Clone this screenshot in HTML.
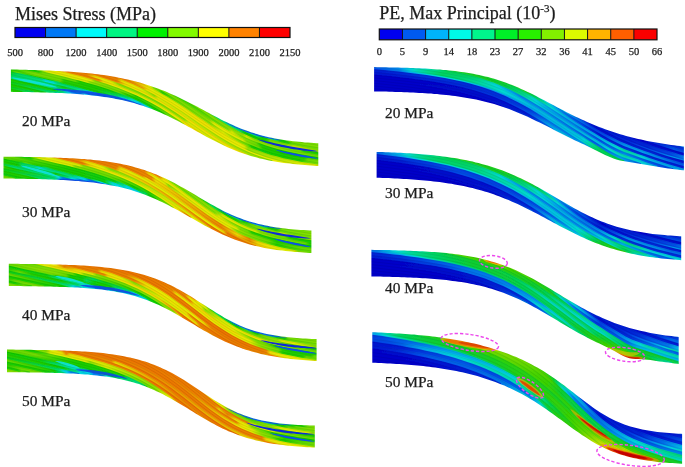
<!DOCTYPE html>
<html><head><meta charset="utf-8"><style>html,body{margin:0;padding:0;background:#fff;overflow:hidden}svg{display:block}</style></head>
<body><svg width="685" height="467" viewBox="0 0 685 467">
<defs><filter id="blur" x="-5%" y="-20%" width="110%" height="140%"><feGaussianBlur stdDeviation="0.6"/></filter>
<filter id="tblur" x="-5%" y="-20%" width="110%" height="140%"><feGaussianBlur stdDeviation="0.35"/></filter>
<clipPath id="l1_c"><path d="M10.9,69.5 L13.9,69.6 L16.9,69.6 L19.9,69.7 L22.9,69.8 L25.9,69.8 L28.9,69.9 L31.9,70.0 L34.9,70.1 L37.9,70.2 L40.9,70.3 L43.9,70.4 L46.9,70.5 L49.9,70.6 L52.9,70.7 L55.9,70.9 L58.9,71.0 L61.9,71.2 L64.9,71.4 L67.9,71.6 L70.9,71.8 L73.9,72.0 L76.9,72.2 L79.9,72.5 L82.9,72.7 L85.9,73.0 L88.9,73.3 L91.9,73.6 L94.9,74.0 L97.9,74.3 L100.9,74.7 L103.9,75.1 L106.9,75.6 L109.9,76.1 L112.9,76.6 L115.9,77.1 L118.9,77.7 L121.9,78.3 L124.9,78.9 L127.9,79.6 L130.9,80.3 L133.9,81.0 L136.9,81.8 L139.9,82.6 L142.9,83.5 L145.9,84.4 L148.9,85.4 L151.9,86.4 L154.9,87.4 L157.9,88.5 L160.9,89.7 L163.9,90.8 L166.9,92.1 L169.9,93.4 L172.9,94.7 L175.9,96.1 L178.9,97.5 L181.9,98.9 L184.9,100.4 L187.9,101.9 L190.9,103.5 L193.9,105.0 L196.9,106.6 L199.9,108.2 L202.9,109.8 L205.9,111.5 L208.9,113.1 L211.9,114.7 L214.9,116.3 L217.9,117.8 L220.9,119.4 L223.9,120.9 L226.9,122.3 L229.9,123.7 L232.9,125.1 L235.9,126.4 L238.9,127.7 L241.9,128.9 L244.9,130.0 L247.9,131.1 L250.9,132.2 L253.9,133.1 L256.9,134.1 L259.9,134.9 L262.9,135.7 L265.9,136.5 L268.9,137.2 L271.9,137.8 L274.9,138.4 L277.9,139.0 L280.9,139.5 L283.9,139.9 L286.9,140.4 L289.9,140.8 L292.9,141.2 L295.9,141.5 L298.9,141.8 L301.9,142.1 L304.9,142.4 L307.9,142.6 L310.9,142.8 L313.9,143.0 L316.9,143.2 L318.3,143.3 L318.3,165.9 L316.9,165.9 L313.9,165.7 L310.9,165.5 L307.9,165.3 L304.9,165.1 L301.9,164.8 L298.9,164.6 L295.9,164.3 L292.9,164.0 L289.9,163.6 L286.9,163.3 L283.9,162.9 L280.9,162.4 L277.9,162.0 L274.9,161.5 L271.9,160.9 L268.9,160.4 L265.9,159.7 L262.9,159.1 L259.9,158.4 L256.9,157.6 L253.9,156.8 L250.9,155.9 L247.9,155.0 L244.9,154.0 L241.9,153.0 L238.9,151.9 L235.9,150.7 L232.9,149.5 L229.9,148.2 L226.9,146.9 L223.9,145.5 L220.9,144.1 L217.9,142.6 L214.9,141.1 L211.9,139.6 L208.9,138.0 L205.9,136.4 L202.9,134.7 L199.9,133.1 L196.9,131.4 L193.9,129.8 L190.9,128.1 L187.9,126.4 L184.9,124.8 L181.9,123.2 L178.9,121.6 L175.9,120.0 L172.9,118.5 L169.9,117.0 L166.9,115.5 L163.9,114.2 L160.9,112.8 L157.9,111.5 L154.9,110.3 L151.9,109.1 L148.9,107.9 L145.9,106.9 L142.9,105.8 L139.9,104.9 L136.9,103.9 L133.9,103.1 L130.9,102.3 L127.9,101.5 L124.9,100.8 L121.9,100.1 L118.9,99.5 L115.9,98.9 L112.9,98.3 L109.9,97.8 L106.9,97.3 L103.9,96.9 L100.9,96.4 L97.9,96.1 L94.9,95.7 L91.9,95.4 L88.9,95.1 L85.9,94.8 L82.9,94.5 L79.9,94.3 L76.9,94.0 L73.9,93.8 L70.9,93.6 L67.9,93.5 L64.9,93.3 L61.9,93.1 L58.9,93.0 L55.9,92.9 L52.9,92.8 L49.9,92.7 L46.9,92.6 L43.9,92.5 L40.9,92.4 L37.9,92.3 L34.9,92.2 L31.9,92.2 L28.9,92.1 L25.9,92.0 L22.9,92.0 L19.9,91.9 L16.9,91.9 L13.9,91.9 L10.9,91.8Z"/></clipPath>
<linearGradient id="l10" gradientUnits="userSpaceOnUse" x1="8.9" x2="124.0" y1="0" y2="0"><stop offset="0.000" stop-color="#20cf00"/><stop offset="0.071" stop-color="#64da00"/><stop offset="0.179" stop-color="#23cf00"/><stop offset="0.357" stop-color="#12ce07"/><stop offset="0.429" stop-color="#03d95a"/><stop offset="0.464" stop-color="#11cf0f"/><stop offset="0.643" stop-color="#13cd04"/><stop offset="0.786" stop-color="#10cf15"/><stop offset="0.821" stop-color="#00dc70"/><stop offset="0.857" stop-color="#00dcd4"/><stop offset="0.893" stop-color="#00d2e6"/><stop offset="1.000" stop-color="#00d0e7"/></linearGradient>
<linearGradient id="l11" gradientUnits="userSpaceOnUse" x1="110.3" x2="297.8" y1="0" y2="0"><stop offset="0.000" stop-color="#eb7300"/><stop offset="0.174" stop-color="#eb8a00"/><stop offset="0.196" stop-color="#ebde00"/><stop offset="0.739" stop-color="#ebe900"/><stop offset="1.000" stop-color="#e1e900"/></linearGradient>
<linearGradient id="l12" gradientUnits="userSpaceOnUse" x1="272.4" x2="320.3" y1="0" y2="0"><stop offset="0.000" stop-color="#02da5f"/><stop offset="0.091" stop-color="#11ce0d"/><stop offset="0.182" stop-color="#16cd00"/><stop offset="0.273" stop-color="#24cf00"/><stop offset="0.364" stop-color="#6fdc00"/><stop offset="0.636" stop-color="#7ade00"/><stop offset="1.000" stop-color="#84df00"/></linearGradient>
<linearGradient id="l13" gradientUnits="userSpaceOnUse" x1="8.9" x2="110.3" y1="0" y2="0"><stop offset="0.000" stop-color="#12ce0a"/><stop offset="0.080" stop-color="#03d95a"/><stop offset="0.160" stop-color="#00db69"/><stop offset="0.280" stop-color="#00dc77"/><stop offset="0.320" stop-color="#00dc83"/><stop offset="0.360" stop-color="#00dcdd"/><stop offset="0.440" stop-color="#00dcd0"/><stop offset="0.480" stop-color="#00dc7f"/><stop offset="0.640" stop-color="#00dc70"/><stop offset="0.800" stop-color="#00dcdd"/><stop offset="0.840" stop-color="#00cce7"/><stop offset="0.880" stop-color="#007aef"/><stop offset="1.000" stop-color="#0071ef"/></linearGradient>
<linearGradient id="l14" gradientUnits="userSpaceOnUse" x1="96.9" x2="272.4" y1="0" y2="0"><stop offset="0.000" stop-color="#eb7300"/><stop offset="0.116" stop-color="#eb8200"/><stop offset="0.140" stop-color="#ebd400"/><stop offset="0.163" stop-color="#ebdf00"/><stop offset="0.209" stop-color="#e7ea00"/><stop offset="0.256" stop-color="#dae900"/><stop offset="0.326" stop-color="#8ee000"/><stop offset="0.349" stop-color="#d4e800"/><stop offset="0.977" stop-color="#8de000"/><stop offset="1.000" stop-color="#8ae000"/></linearGradient>
<linearGradient id="l15" gradientUnits="userSpaceOnUse" x1="247.6" x2="320.3" y1="0" y2="0"><stop offset="0.000" stop-color="#00cce7"/><stop offset="0.222" stop-color="#00d8e6"/><stop offset="0.278" stop-color="#00dcd6"/><stop offset="0.333" stop-color="#00dc74"/><stop offset="0.389" stop-color="#02d95e"/><stop offset="0.444" stop-color="#12ce0a"/><stop offset="0.500" stop-color="#17cd00"/><stop offset="0.556" stop-color="#22cf00"/><stop offset="0.611" stop-color="#64da00"/><stop offset="0.889" stop-color="#6fdc00"/><stop offset="1.000" stop-color="#73dd00"/></linearGradient>
<linearGradient id="l16" gradientUnits="userSpaceOnUse" x1="8.9" x2="96.9" y1="0" y2="0"><stop offset="0.000" stop-color="#11cf10"/><stop offset="0.048" stop-color="#02d95f"/><stop offset="0.238" stop-color="#00dc70"/><stop offset="0.286" stop-color="#00dc7c"/><stop offset="0.333" stop-color="#00dc70"/><stop offset="0.524" stop-color="#02da60"/><stop offset="0.619" stop-color="#10cf13"/><stop offset="0.762" stop-color="#00dc6e"/><stop offset="0.810" stop-color="#00dcd1"/><stop offset="0.857" stop-color="#00d4e6"/><stop offset="0.905" stop-color="#0088ee"/><stop offset="1.000" stop-color="#0088ee"/></linearGradient>
<linearGradient id="l17" gradientUnits="userSpaceOnUse" x1="83.8" x2="247.6" y1="0" y2="0"><stop offset="0.000" stop-color="#eb7300"/><stop offset="0.200" stop-color="#eb7f00"/><stop offset="0.250" stop-color="#ebd700"/><stop offset="0.300" stop-color="#ebe200"/><stop offset="1.000" stop-color="#ebe100"/></linearGradient>
<linearGradient id="l18" gradientUnits="userSpaceOnUse" x1="224.6" x2="320.3" y1="0" y2="0"><stop offset="0.000" stop-color="#01da63"/><stop offset="0.043" stop-color="#00dc76"/><stop offset="0.087" stop-color="#00dcd2"/><stop offset="0.261" stop-color="#00dc76"/><stop offset="0.304" stop-color="#01db67"/><stop offset="0.348" stop-color="#03d958"/><stop offset="0.391" stop-color="#13cd04"/><stop offset="0.435" stop-color="#21cf00"/><stop offset="0.478" stop-color="#6cdc00"/><stop offset="0.565" stop-color="#7cde00"/><stop offset="0.652" stop-color="#87df00"/><stop offset="0.739" stop-color="#d4e800"/><stop offset="1.000" stop-color="#8ce000"/></linearGradient>
<linearGradient id="l19" gradientUnits="userSpaceOnUse" x1="8.9" x2="83.8" y1="0" y2="0"><stop offset="0.000" stop-color="#00dc82"/><stop offset="0.056" stop-color="#00dc76"/><stop offset="0.222" stop-color="#00dc83"/><stop offset="0.333" stop-color="#00dc75"/><stop offset="0.611" stop-color="#00db69"/><stop offset="0.722" stop-color="#00dc7e"/><stop offset="0.778" stop-color="#00dce4"/><stop offset="0.833" stop-color="#0084ee"/><stop offset="0.889" stop-color="#0075ef"/><stop offset="1.000" stop-color="#0071ef"/></linearGradient>
<linearGradient id="l110" gradientUnits="userSpaceOnUse" x1="70.9" x2="224.6" y1="0" y2="0"><stop offset="0.000" stop-color="#eb7300"/><stop offset="0.105" stop-color="#eb8000"/><stop offset="0.158" stop-color="#ebd800"/><stop offset="0.211" stop-color="#ebe800"/><stop offset="0.263" stop-color="#dde900"/><stop offset="0.316" stop-color="#8ce000"/><stop offset="0.474" stop-color="#7fde00"/><stop offset="0.737" stop-color="#8de000"/><stop offset="0.763" stop-color="#d4e800"/><stop offset="1.000" stop-color="#d4e800"/></linearGradient>
<linearGradient id="l111" gradientUnits="userSpaceOnUse" x1="203.8" x2="320.3" y1="0" y2="0"><stop offset="0.000" stop-color="#14cd00"/><stop offset="0.103" stop-color="#03d95b"/><stop offset="0.138" stop-color="#00db6c"/><stop offset="0.207" stop-color="#00dc7a"/><stop offset="0.310" stop-color="#02da60"/><stop offset="0.345" stop-color="#11cf10"/><stop offset="0.379" stop-color="#13cd01"/><stop offset="0.517" stop-color="#1fce00"/><stop offset="0.586" stop-color="#65da00"/><stop offset="0.690" stop-color="#74dd00"/><stop offset="0.828" stop-color="#67db00"/><stop offset="0.862" stop-color="#27d000"/><stop offset="0.966" stop-color="#1bce00"/><stop offset="1.000" stop-color="#17cd00"/></linearGradient>
<linearGradient id="l112" gradientUnits="userSpaceOnUse" x1="8.9" x2="70.9" y1="0" y2="0"><stop offset="0.000" stop-color="#1cce00"/><stop offset="0.733" stop-color="#11ce0c"/><stop offset="0.800" stop-color="#01da66"/><stop offset="0.867" stop-color="#00dc82"/><stop offset="0.933" stop-color="#00dcdd"/><stop offset="1.000" stop-color="#00d5e6"/></linearGradient>
<linearGradient id="l113" gradientUnits="userSpaceOnUse" x1="58.4" x2="203.8" y1="0" y2="0"><stop offset="0.000" stop-color="#eb7900"/><stop offset="0.278" stop-color="#eb8900"/><stop offset="0.306" stop-color="#ebd900"/><stop offset="0.361" stop-color="#ebe400"/><stop offset="0.500" stop-color="#dfe900"/><stop offset="0.833" stop-color="#ebea00"/><stop offset="0.861" stop-color="#ebdf00"/><stop offset="1.000" stop-color="#ebda00"/></linearGradient>
<linearGradient id="l114" gradientUnits="userSpaceOnUse" x1="184.9" x2="320.3" y1="0" y2="0"><stop offset="0.000" stop-color="#72dc00"/><stop offset="0.364" stop-color="#83df00"/><stop offset="0.424" stop-color="#8de000"/><stop offset="0.455" stop-color="#d4e800"/><stop offset="0.515" stop-color="#8de000"/><stop offset="0.697" stop-color="#83df00"/><stop offset="0.788" stop-color="#78de00"/><stop offset="0.909" stop-color="#6cdc00"/><stop offset="1.000" stop-color="#66db00"/></linearGradient>
<linearGradient id="l115" gradientUnits="userSpaceOnUse" x1="8.9" x2="58.4" y1="0" y2="0"><stop offset="0.000" stop-color="#11ce0d"/><stop offset="0.667" stop-color="#03d958"/><stop offset="0.833" stop-color="#01da65"/><stop offset="0.917" stop-color="#00dc78"/><stop offset="1.000" stop-color="#00dcd4"/></linearGradient>
<linearGradient id="l116" gradientUnits="userSpaceOnUse" x1="46.1" x2="184.9" y1="0" y2="0"><stop offset="0.000" stop-color="#80de00"/><stop offset="0.029" stop-color="#d4e800"/><stop offset="0.059" stop-color="#e4ea00"/><stop offset="0.118" stop-color="#ebdf00"/><stop offset="0.265" stop-color="#e7ea00"/><stop offset="0.324" stop-color="#dae900"/><stop offset="0.353" stop-color="#8de000"/><stop offset="0.412" stop-color="#81df00"/><stop offset="0.500" stop-color="#76dd00"/><stop offset="0.588" stop-color="#68db00"/><stop offset="0.647" stop-color="#24cf00"/><stop offset="0.912" stop-color="#6cdc00"/><stop offset="0.941" stop-color="#79de00"/><stop offset="0.971" stop-color="#88df00"/><stop offset="1.000" stop-color="#dce900"/></linearGradient>
<linearGradient id="l117" gradientUnits="userSpaceOnUse" x1="167.8" x2="320.3" y1="0" y2="0"><stop offset="0.000" stop-color="#24cf00"/><stop offset="0.316" stop-color="#69db00"/><stop offset="0.368" stop-color="#79de00"/><stop offset="0.395" stop-color="#84df00"/><stop offset="0.421" stop-color="#d4e800"/><stop offset="0.474" stop-color="#8ee000"/><stop offset="0.526" stop-color="#7bde00"/><stop offset="0.579" stop-color="#68db00"/><stop offset="0.605" stop-color="#22cf00"/><stop offset="0.737" stop-color="#17cd00"/><stop offset="0.921" stop-color="#11ce0b"/><stop offset="1.000" stop-color="#13cd03"/></linearGradient>
<linearGradient id="l118" gradientUnits="userSpaceOnUse" x1="8.9" x2="46.1" y1="0" y2="0"><stop offset="0.000" stop-color="#18cd00"/><stop offset="1.000" stop-color="#11ce0d"/></linearGradient>
<linearGradient id="l119" gradientUnits="userSpaceOnUse" x1="34.1" x2="167.8" y1="0" y2="0"><stop offset="0.000" stop-color="#69db00"/><stop offset="0.030" stop-color="#76dd00"/><stop offset="0.061" stop-color="#84df00"/><stop offset="0.091" stop-color="#d7e800"/><stop offset="0.121" stop-color="#e1e900"/><stop offset="0.394" stop-color="#d4e800"/><stop offset="0.424" stop-color="#8ae000"/><stop offset="0.485" stop-color="#80de00"/><stop offset="0.545" stop-color="#75dd00"/><stop offset="0.636" stop-color="#68db00"/><stop offset="0.697" stop-color="#25cf00"/><stop offset="0.758" stop-color="#1ace00"/><stop offset="0.818" stop-color="#10cf10"/><stop offset="0.939" stop-color="#16cd00"/><stop offset="0.970" stop-color="#24cf00"/><stop offset="1.000" stop-color="#6ddc00"/></linearGradient>
<linearGradient id="l120" gradientUnits="userSpaceOnUse" x1="152.4" x2="320.3" y1="0" y2="0"><stop offset="0.000" stop-color="#e7ea00"/><stop offset="0.024" stop-color="#89df00"/><stop offset="0.049" stop-color="#73dd00"/><stop offset="0.293" stop-color="#81df00"/><stop offset="0.341" stop-color="#8ee000"/><stop offset="0.366" stop-color="#dce900"/><stop offset="0.415" stop-color="#e6ea00"/><stop offset="0.537" stop-color="#dbe900"/><stop offset="0.561" stop-color="#8ae000"/><stop offset="0.585" stop-color="#7ede00"/><stop offset="0.610" stop-color="#71dc00"/><stop offset="0.634" stop-color="#64da00"/><stop offset="0.659" stop-color="#23cf00"/><stop offset="0.780" stop-color="#19cd00"/><stop offset="0.902" stop-color="#26d000"/><stop offset="0.927" stop-color="#67db00"/><stop offset="0.976" stop-color="#73dd00"/><stop offset="1.000" stop-color="#79de00"/></linearGradient>
<linearGradient id="l121" gradientUnits="userSpaceOnUse" x1="8.9" x2="34.1" y1="0" y2="0"><stop offset="0.000" stop-color="#10cf13"/><stop offset="1.000" stop-color="#03d95a"/></linearGradient>
<linearGradient id="l122" gradientUnits="userSpaceOnUse" x1="22.4" x2="152.4" y1="0" y2="0"><stop offset="0.000" stop-color="#11ce0e"/><stop offset="0.094" stop-color="#1ace00"/><stop offset="0.125" stop-color="#26d000"/><stop offset="0.156" stop-color="#6cdb00"/><stop offset="0.250" stop-color="#76dd00"/><stop offset="0.406" stop-color="#64da00"/><stop offset="0.437" stop-color="#21cf00"/><stop offset="0.562" stop-color="#16cd00"/><stop offset="0.688" stop-color="#11ce0c"/><stop offset="0.781" stop-color="#02d95d"/><stop offset="0.812" stop-color="#00dc75"/><stop offset="0.844" stop-color="#00dcd4"/><stop offset="0.875" stop-color="#00d8e6"/><stop offset="0.906" stop-color="#00c8e7"/><stop offset="0.938" stop-color="#00d4e6"/><stop offset="0.969" stop-color="#00dcd9"/><stop offset="1.000" stop-color="#00dc7b"/></linearGradient>
<linearGradient id="l123" gradientUnits="userSpaceOnUse" x1="138.0" x2="320.3" y1="0" y2="0"><stop offset="0.000" stop-color="#eb7300"/><stop offset="0.022" stop-color="#eb7e00"/><stop offset="0.044" stop-color="#ebe000"/><stop offset="0.067" stop-color="#dae900"/><stop offset="0.089" stop-color="#7bde00"/><stop offset="0.111" stop-color="#69db00"/><stop offset="0.133" stop-color="#26d000"/><stop offset="0.200" stop-color="#65da00"/><stop offset="0.267" stop-color="#70dc00"/><stop offset="0.311" stop-color="#7bde00"/><stop offset="0.400" stop-color="#87df00"/><stop offset="0.467" stop-color="#d5e800"/><stop offset="0.556" stop-color="#83df00"/><stop offset="0.578" stop-color="#76dd00"/><stop offset="0.600" stop-color="#69db00"/><stop offset="0.622" stop-color="#20cf00"/><stop offset="0.644" stop-color="#13cd01"/><stop offset="0.667" stop-color="#10cf11"/><stop offset="0.733" stop-color="#13cd04"/><stop offset="0.889" stop-color="#20cf00"/><stop offset="0.933" stop-color="#68db00"/><stop offset="1.000" stop-color="#74dd00"/></linearGradient>
<linearGradient id="l124" gradientUnits="userSpaceOnUse" x1="10.9" x2="138.0" y1="0" y2="0"><stop offset="0.000" stop-color="#1dce00"/><stop offset="0.129" stop-color="#66db00"/><stop offset="0.194" stop-color="#76dd00"/><stop offset="0.387" stop-color="#6adb00"/><stop offset="0.419" stop-color="#27d000"/><stop offset="0.677" stop-color="#1cce00"/><stop offset="0.806" stop-color="#03d958"/><stop offset="0.839" stop-color="#00dc71"/><stop offset="0.871" stop-color="#00dcd2"/><stop offset="0.903" stop-color="#00d8e6"/><stop offset="1.000" stop-color="#00dce5"/></linearGradient>
<linearGradient id="l125" gradientUnits="userSpaceOnUse" x1="124.0" x2="320.3" y1="0" y2="0"><stop offset="0.000" stop-color="#eb7300"/><stop offset="0.122" stop-color="#ebdd00"/><stop offset="0.143" stop-color="#e4ea00"/><stop offset="0.163" stop-color="#d9e900"/><stop offset="0.265" stop-color="#e4ea00"/><stop offset="0.408" stop-color="#ebdf00"/><stop offset="0.592" stop-color="#e4ea00"/><stop offset="0.612" stop-color="#dae900"/><stop offset="0.633" stop-color="#8de000"/><stop offset="0.878" stop-color="#d6e800"/><stop offset="1.000" stop-color="#dfe900"/></linearGradient>
<linearGradient id="l126" gradientUnits="userSpaceOnUse" x1="297.8" x2="320.3" y1="0" y2="0"><stop offset="0.000" stop-color="#71dc00"/><stop offset="1.000" stop-color="#7ade00"/></linearGradient>
<clipPath id="l2_c"><path d="M3.5,156.7 L6.5,156.7 L9.5,156.7 L12.5,156.7 L15.5,156.8 L18.5,156.8 L21.5,156.8 L24.5,156.9 L27.5,156.9 L30.5,157.0 L33.5,157.0 L36.5,157.1 L39.5,157.1 L42.5,157.2 L45.5,157.3 L48.5,157.4 L51.5,157.5 L54.5,157.5 L57.5,157.7 L60.5,157.8 L63.5,157.9 L66.5,158.0 L69.5,158.2 L72.5,158.3 L75.5,158.5 L78.5,158.7 L81.5,158.9 L84.5,159.1 L87.5,159.4 L90.5,159.6 L93.5,159.9 L96.5,160.2 L99.5,160.6 L102.5,160.9 L105.5,161.3 L108.5,161.8 L111.5,162.2 L114.5,162.7 L117.5,163.3 L120.5,163.8 L123.5,164.4 L126.5,165.1 L129.5,165.8 L132.5,166.6 L135.5,167.4 L138.5,168.2 L141.5,169.2 L144.5,170.1 L147.5,171.2 L150.5,172.3 L153.5,173.4 L156.5,174.6 L159.5,175.9 L162.5,177.2 L165.5,178.6 L168.5,180.1 L171.5,181.6 L174.5,183.1 L177.5,184.7 L180.5,186.4 L183.5,188.1 L186.5,189.8 L189.5,191.5 L192.5,193.3 L195.5,195.1 L198.5,196.9 L201.5,198.7 L204.5,200.4 L207.5,202.2 L210.5,203.9 L213.5,205.6 L216.5,207.2 L219.5,208.8 L222.5,210.4 L225.5,211.9 L228.5,213.3 L231.5,214.7 L234.5,216.0 L237.5,217.2 L240.5,218.3 L243.5,219.4 L246.5,220.4 L249.5,221.4 L252.5,222.3 L255.5,223.1 L258.5,223.9 L261.5,224.6 L264.5,225.2 L267.5,225.8 L270.5,226.4 L273.5,226.9 L276.5,227.4 L279.5,227.8 L282.5,228.2 L285.5,228.5 L288.5,228.9 L291.5,229.2 L294.5,229.4 L297.5,229.7 L300.5,229.9 L303.5,230.1 L306.5,230.3 L309.5,230.5 L311.4,230.6 L311.4,253.0 L309.5,252.9 L306.5,252.7 L303.5,252.6 L300.5,252.3 L297.5,252.1 L294.5,251.9 L291.5,251.6 L288.5,251.3 L285.5,251.0 L282.5,250.6 L279.5,250.3 L276.5,249.9 L273.5,249.4 L270.5,248.9 L267.5,248.4 L264.5,247.9 L261.5,247.3 L258.5,246.6 L255.5,245.9 L252.5,245.2 L249.5,244.4 L246.5,243.5 L243.5,242.6 L240.5,241.6 L237.5,240.6 L234.5,239.5 L231.5,238.3 L228.5,237.1 L225.5,235.8 L222.5,234.5 L219.5,233.1 L216.5,231.6 L213.5,230.1 L210.5,228.6 L207.5,227.0 L204.5,225.4 L201.5,223.7 L198.5,222.0 L195.5,220.3 L192.5,218.6 L189.5,216.9 L186.5,215.2 L183.5,213.5 L180.5,211.8 L177.5,210.1 L174.5,208.5 L171.5,206.9 L168.5,205.3 L165.5,203.8 L162.5,202.3 L159.5,200.9 L156.5,199.5 L153.5,198.2 L150.5,196.9 L147.5,195.7 L144.5,194.5 L141.5,193.4 L138.5,192.4 L135.5,191.4 L132.5,190.5 L129.5,189.6 L126.5,188.8 L123.5,188.0 L120.5,187.3 L117.5,186.6 L114.5,186.0 L111.5,185.4 L108.5,184.9 L105.5,184.3 L102.5,183.9 L99.5,183.4 L96.5,183.0 L93.5,182.6 L90.5,182.3 L87.5,182.0 L84.5,181.7 L81.5,181.4 L78.5,181.1 L75.5,180.9 L72.5,180.7 L69.5,180.5 L66.5,180.3 L63.5,180.1 L60.5,179.9 L57.5,179.8 L54.5,179.7 L51.5,179.5 L48.5,179.4 L45.5,179.3 L42.5,179.2 L39.5,179.1 L36.5,179.1 L33.5,179.0 L30.5,178.9 L27.5,178.9 L24.5,178.8 L21.5,178.7 L18.5,178.7 L15.5,178.7 L12.5,178.6 L9.5,178.6 L6.5,178.5 L3.5,178.5Z"/></clipPath>
<linearGradient id="l20" gradientUnits="userSpaceOnUse" x1="1.5" x2="115.0" y1="0" y2="0"><stop offset="0.000" stop-color="#6fdc00"/><stop offset="0.179" stop-color="#27d000"/><stop offset="0.214" stop-color="#64da00"/><stop offset="0.286" stop-color="#23cf00"/><stop offset="0.321" stop-color="#16cd00"/><stop offset="0.357" stop-color="#11ce0d"/><stop offset="0.393" stop-color="#03d959"/><stop offset="0.464" stop-color="#10cf12"/><stop offset="0.679" stop-color="#12cd06"/><stop offset="0.786" stop-color="#10cf14"/><stop offset="0.821" stop-color="#00dc6e"/><stop offset="0.857" stop-color="#00dcd2"/><stop offset="0.893" stop-color="#00d3e6"/><stop offset="0.929" stop-color="#00c8e8"/><stop offset="1.000" stop-color="#00d0e7"/></linearGradient>
<linearGradient id="l21" gradientUnits="userSpaceOnUse" x1="101.5" x2="281.0" y1="0" y2="0"><stop offset="0.000" stop-color="#eb7300"/><stop offset="0.227" stop-color="#eb8500"/><stop offset="0.250" stop-color="#ebd600"/><stop offset="0.636" stop-color="#eb8800"/><stop offset="0.705" stop-color="#eb7c00"/><stop offset="0.955" stop-color="#ebd800"/><stop offset="0.977" stop-color="#ebe400"/><stop offset="1.000" stop-color="#e6ea00"/></linearGradient>
<linearGradient id="l22" gradientUnits="userSpaceOnUse" x1="256.0" x2="313.4" y1="0" y2="0"><stop offset="0.000" stop-color="#00dc83"/><stop offset="0.071" stop-color="#00dc73"/><stop offset="0.143" stop-color="#01da63"/><stop offset="0.214" stop-color="#10cf12"/><stop offset="0.286" stop-color="#13cd03"/><stop offset="0.357" stop-color="#20cf00"/><stop offset="0.429" stop-color="#6cdc00"/><stop offset="0.571" stop-color="#7ade00"/><stop offset="0.857" stop-color="#84df00"/><stop offset="1.000" stop-color="#89df00"/></linearGradient>
<linearGradient id="l23" gradientUnits="userSpaceOnUse" x1="1.5" x2="101.5" y1="0" y2="0"><stop offset="0.000" stop-color="#13cd02"/><stop offset="0.167" stop-color="#11cf0f"/><stop offset="0.208" stop-color="#03d959"/><stop offset="0.250" stop-color="#01da64"/><stop offset="0.292" stop-color="#00dc72"/><stop offset="0.333" stop-color="#00dc84"/><stop offset="0.375" stop-color="#00dcdd"/><stop offset="0.458" stop-color="#00dc85"/><stop offset="0.625" stop-color="#00dc76"/><stop offset="0.708" stop-color="#00db6a"/><stop offset="0.792" stop-color="#00dcd7"/><stop offset="0.833" stop-color="#00d0e7"/><stop offset="0.875" stop-color="#007def"/><stop offset="0.917" stop-color="#0071ef"/><stop offset="1.000" stop-color="#0071ef"/></linearGradient>
<linearGradient id="l24" gradientUnits="userSpaceOnUse" x1="88.2" x2="256.0" y1="0" y2="0"><stop offset="0.000" stop-color="#eb7300"/><stop offset="0.171" stop-color="#eb8000"/><stop offset="0.195" stop-color="#ebd400"/><stop offset="0.220" stop-color="#ebe000"/><stop offset="0.244" stop-color="#e9ea00"/><stop offset="0.268" stop-color="#dee900"/><stop offset="0.756" stop-color="#eaea00"/><stop offset="0.780" stop-color="#ebe000"/><stop offset="0.805" stop-color="#ebd500"/><stop offset="0.829" stop-color="#eb8000"/><stop offset="0.878" stop-color="#eb7500"/><stop offset="1.000" stop-color="#eb8400"/></linearGradient>
<linearGradient id="l25" gradientUnits="userSpaceOnUse" x1="232.3" x2="313.4" y1="0" y2="0"><stop offset="0.000" stop-color="#00cce7"/><stop offset="0.300" stop-color="#00dcd2"/><stop offset="0.350" stop-color="#00dc6f"/><stop offset="0.400" stop-color="#03d95a"/><stop offset="0.450" stop-color="#12cd06"/><stop offset="0.550" stop-color="#24cf00"/><stop offset="0.600" stop-color="#66db00"/><stop offset="0.850" stop-color="#72dd00"/><stop offset="1.000" stop-color="#79de00"/></linearGradient>
<linearGradient id="l26" gradientUnits="userSpaceOnUse" x1="1.5" x2="88.2" y1="0" y2="0"><stop offset="0.000" stop-color="#21cf00"/><stop offset="0.143" stop-color="#15cd00"/><stop offset="0.190" stop-color="#12ce0a"/><stop offset="0.238" stop-color="#02da5f"/><stop offset="0.286" stop-color="#00dc70"/><stop offset="0.381" stop-color="#01da65"/><stop offset="0.571" stop-color="#03d958"/><stop offset="0.619" stop-color="#10cf10"/><stop offset="0.762" stop-color="#00db6d"/><stop offset="0.810" stop-color="#00dcd1"/><stop offset="0.857" stop-color="#00d5e6"/><stop offset="0.905" stop-color="#0089ee"/><stop offset="1.000" stop-color="#0088ee"/></linearGradient>
<linearGradient id="l27" gradientUnits="userSpaceOnUse" x1="75.3" x2="232.3" y1="0" y2="0"><stop offset="0.000" stop-color="#eb7300"/><stop offset="0.256" stop-color="#eb8800"/><stop offset="0.282" stop-color="#ebdc00"/><stop offset="0.821" stop-color="#eb8a00"/><stop offset="0.846" stop-color="#eb7f00"/><stop offset="0.872" stop-color="#eb7400"/><stop offset="1.000" stop-color="#eb7300"/></linearGradient>
<linearGradient id="l28" gradientUnits="userSpaceOnUse" x1="210.7" x2="313.4" y1="0" y2="0"><stop offset="0.000" stop-color="#13cd03"/><stop offset="0.040" stop-color="#10cf15"/><stop offset="0.080" stop-color="#00db69"/><stop offset="0.120" stop-color="#00dc7c"/><stop offset="0.160" stop-color="#00dcd8"/><stop offset="0.200" stop-color="#00dc80"/><stop offset="0.240" stop-color="#00db6d"/><stop offset="0.280" stop-color="#03d95c"/><stop offset="0.320" stop-color="#12ce09"/><stop offset="0.400" stop-color="#65da00"/><stop offset="0.440" stop-color="#75dd00"/><stop offset="0.520" stop-color="#81df00"/><stop offset="0.640" stop-color="#8ce000"/><stop offset="0.680" stop-color="#d5e800"/><stop offset="0.880" stop-color="#8ee000"/><stop offset="1.000" stop-color="#80de00"/></linearGradient>
<linearGradient id="l29" gradientUnits="userSpaceOnUse" x1="1.5" x2="75.3" y1="0" y2="0"><stop offset="0.000" stop-color="#10cf13"/><stop offset="0.111" stop-color="#02d95e"/><stop offset="0.167" stop-color="#00db6d"/><stop offset="0.611" stop-color="#01da63"/><stop offset="0.722" stop-color="#00dc79"/><stop offset="0.778" stop-color="#00dce0"/><stop offset="0.833" stop-color="#0084ee"/><stop offset="0.889" stop-color="#0076ef"/><stop offset="1.000" stop-color="#0072ef"/></linearGradient>
<linearGradient id="l210" gradientUnits="userSpaceOnUse" x1="62.7" x2="210.7" y1="0" y2="0"><stop offset="0.000" stop-color="#eb7400"/><stop offset="0.108" stop-color="#eb8200"/><stop offset="0.162" stop-color="#ebd600"/><stop offset="0.216" stop-color="#ebe400"/><stop offset="0.270" stop-color="#e0e900"/><stop offset="0.324" stop-color="#8ce000"/><stop offset="0.784" stop-color="#d4e800"/><stop offset="0.892" stop-color="#e2ea00"/><stop offset="1.000" stop-color="#ebdc00"/></linearGradient>
<linearGradient id="l211" gradientUnits="userSpaceOnUse" x1="191.2" x2="313.4" y1="0" y2="0"><stop offset="0.000" stop-color="#1dce00"/><stop offset="0.133" stop-color="#10cf11"/><stop offset="0.167" stop-color="#03d95c"/><stop offset="0.267" stop-color="#10cf14"/><stop offset="0.300" stop-color="#12ce08"/><stop offset="0.367" stop-color="#23cf00"/><stop offset="0.433" stop-color="#66db00"/><stop offset="0.567" stop-color="#72dd00"/><stop offset="0.767" stop-color="#66da00"/><stop offset="0.800" stop-color="#25d000"/><stop offset="0.900" stop-color="#19cd00"/><stop offset="1.000" stop-color="#13cd03"/></linearGradient>
<linearGradient id="l212" gradientUnits="userSpaceOnUse" x1="1.5" x2="62.7" y1="0" y2="0"><stop offset="0.000" stop-color="#65da00"/><stop offset="0.067" stop-color="#24cf00"/><stop offset="0.200" stop-color="#19cd00"/><stop offset="0.800" stop-color="#02da61"/><stop offset="0.867" stop-color="#00dc7c"/><stop offset="0.933" stop-color="#00dcd8"/><stop offset="1.000" stop-color="#00d7e6"/></linearGradient>
<linearGradient id="l213" gradientUnits="userSpaceOnUse" x1="50.3" x2="191.2" y1="0" y2="0"><stop offset="0.000" stop-color="#eb7d00"/><stop offset="0.029" stop-color="#eb7300"/><stop offset="0.229" stop-color="#eb7e00"/><stop offset="0.286" stop-color="#ebd600"/><stop offset="0.343" stop-color="#ebe500"/><stop offset="0.800" stop-color="#e0e900"/><stop offset="0.886" stop-color="#ebe400"/><stop offset="0.914" stop-color="#ebd900"/><stop offset="0.971" stop-color="#eb8900"/><stop offset="1.000" stop-color="#eb8500"/></linearGradient>
<linearGradient id="l214" gradientUnits="userSpaceOnUse" x1="173.5" x2="313.4" y1="0" y2="0"><stop offset="0.000" stop-color="#dfe900"/><stop offset="0.029" stop-color="#89df00"/><stop offset="0.118" stop-color="#7fde00"/><stop offset="0.324" stop-color="#8be000"/><stop offset="0.353" stop-color="#d6e800"/><stop offset="0.412" stop-color="#e0e900"/><stop offset="0.588" stop-color="#d4e800"/><stop offset="0.618" stop-color="#8ae000"/><stop offset="0.706" stop-color="#7bde00"/><stop offset="0.794" stop-color="#70dc00"/><stop offset="0.941" stop-color="#65da00"/><stop offset="0.971" stop-color="#27d000"/><stop offset="1.000" stop-color="#25cf00"/></linearGradient>
<linearGradient id="l215" gradientUnits="userSpaceOnUse" x1="1.5" x2="50.3" y1="0" y2="0"><stop offset="0.000" stop-color="#12ce09"/><stop offset="0.750" stop-color="#03d958"/><stop offset="0.833" stop-color="#01da63"/><stop offset="0.917" stop-color="#00dc73"/><stop offset="1.000" stop-color="#00dccf"/></linearGradient>
<linearGradient id="l216" gradientUnits="userSpaceOnUse" x1="38.2" x2="173.5" y1="0" y2="0"><stop offset="0.000" stop-color="#80de00"/><stop offset="0.030" stop-color="#8ce000"/><stop offset="0.061" stop-color="#e1e900"/><stop offset="0.303" stop-color="#d6e800"/><stop offset="0.333" stop-color="#89df00"/><stop offset="0.394" stop-color="#7ade00"/><stop offset="0.576" stop-color="#6edc00"/><stop offset="0.818" stop-color="#23cf00"/><stop offset="0.939" stop-color="#6bdb00"/><stop offset="0.970" stop-color="#78de00"/><stop offset="1.000" stop-color="#87df00"/></linearGradient>
<linearGradient id="l217" gradientUnits="userSpaceOnUse" x1="157.5" x2="313.4" y1="0" y2="0"><stop offset="0.000" stop-color="#eb8a00"/><stop offset="0.026" stop-color="#ebe400"/><stop offset="0.053" stop-color="#e0e900"/><stop offset="0.079" stop-color="#8be000"/><stop offset="0.105" stop-color="#7dde00"/><stop offset="0.184" stop-color="#72dd00"/><stop offset="0.316" stop-color="#7ede00"/><stop offset="0.368" stop-color="#8ae000"/><stop offset="0.395" stop-color="#d4e800"/><stop offset="0.474" stop-color="#8de000"/><stop offset="0.526" stop-color="#7fde00"/><stop offset="0.579" stop-color="#6bdb00"/><stop offset="0.605" stop-color="#22cf00"/><stop offset="0.763" stop-color="#15cd00"/><stop offset="0.868" stop-color="#11ce0c"/><stop offset="1.000" stop-color="#13cd02"/></linearGradient>
<linearGradient id="l218" gradientUnits="userSpaceOnUse" x1="1.5" x2="38.2" y1="0" y2="0"><stop offset="0.000" stop-color="#18cd00"/><stop offset="0.556" stop-color="#22cf00"/><stop offset="0.889" stop-color="#15cd00"/><stop offset="1.000" stop-color="#12cd07"/></linearGradient>
<linearGradient id="l219" gradientUnits="userSpaceOnUse" x1="26.4" x2="157.5" y1="0" y2="0"><stop offset="0.000" stop-color="#70dc00"/><stop offset="0.031" stop-color="#7bde00"/><stop offset="0.062" stop-color="#88df00"/><stop offset="0.094" stop-color="#d6e800"/><stop offset="0.156" stop-color="#e4ea00"/><stop offset="0.344" stop-color="#d4e800"/><stop offset="0.375" stop-color="#85df00"/><stop offset="0.438" stop-color="#74dd00"/><stop offset="0.625" stop-color="#69db00"/><stop offset="0.781" stop-color="#26d000"/><stop offset="0.812" stop-color="#13cd02"/><stop offset="0.844" stop-color="#11ce0e"/><stop offset="0.906" stop-color="#03d95b"/><stop offset="0.938" stop-color="#11ce0b"/><stop offset="0.969" stop-color="#19cd00"/><stop offset="1.000" stop-color="#26d000"/></linearGradient>
<linearGradient id="l220" gradientUnits="userSpaceOnUse" x1="142.9" x2="313.4" y1="0" y2="0"><stop offset="0.000" stop-color="#eb7300"/><stop offset="0.095" stop-color="#eb8300"/><stop offset="0.119" stop-color="#ebdc00"/><stop offset="0.143" stop-color="#ebe900"/><stop offset="0.190" stop-color="#dee900"/><stop offset="0.333" stop-color="#ebe600"/><stop offset="0.548" stop-color="#dbe900"/><stop offset="0.571" stop-color="#8de000"/><stop offset="0.619" stop-color="#7cde00"/><stop offset="0.667" stop-color="#72dd00"/><stop offset="0.738" stop-color="#67db00"/><stop offset="0.786" stop-color="#26d000"/><stop offset="0.929" stop-color="#65da00"/><stop offset="1.000" stop-color="#6cdc00"/></linearGradient>
<linearGradient id="l221" gradientUnits="userSpaceOnUse" x1="1.5" x2="26.4" y1="0" y2="0"><stop offset="0.000" stop-color="#10cf13"/><stop offset="0.333" stop-color="#12ce09"/><stop offset="1.000" stop-color="#13cd05"/></linearGradient>
<linearGradient id="l222" gradientUnits="userSpaceOnUse" x1="14.8" x2="142.9" y1="0" y2="0"><stop offset="0.000" stop-color="#15cd00"/><stop offset="0.125" stop-color="#25d000"/><stop offset="0.156" stop-color="#68db00"/><stop offset="0.406" stop-color="#1fce00"/><stop offset="0.469" stop-color="#13cd05"/><stop offset="0.781" stop-color="#11cf10"/><stop offset="0.812" stop-color="#00db69"/><stop offset="0.844" stop-color="#00dc81"/><stop offset="0.875" stop-color="#00dce1"/><stop offset="0.906" stop-color="#00cde7"/><stop offset="0.969" stop-color="#00dcdf"/><stop offset="1.000" stop-color="#00dc83"/></linearGradient>
<linearGradient id="l223" gradientUnits="userSpaceOnUse" x1="128.8" x2="313.4" y1="0" y2="0"><stop offset="0.000" stop-color="#eb7300"/><stop offset="0.087" stop-color="#eb8000"/><stop offset="0.109" stop-color="#ebd300"/><stop offset="0.130" stop-color="#ebdf00"/><stop offset="0.152" stop-color="#e7ea00"/><stop offset="0.196" stop-color="#d7e800"/><stop offset="0.217" stop-color="#8ee000"/><stop offset="0.283" stop-color="#d5e800"/><stop offset="0.543" stop-color="#e0e900"/><stop offset="0.587" stop-color="#8ae000"/><stop offset="0.630" stop-color="#79de00"/><stop offset="0.739" stop-color="#6fdc00"/><stop offset="0.804" stop-color="#22cf00"/><stop offset="0.957" stop-color="#64da00"/><stop offset="1.000" stop-color="#66da00"/></linearGradient>
<linearGradient id="l224" gradientUnits="userSpaceOnUse" x1="1.5" x2="14.8" y1="0" y2="0"><stop offset="0.000" stop-color="#67db00"/><stop offset="1.000" stop-color="#6edc00"/></linearGradient>
<linearGradient id="l225" gradientUnits="userSpaceOnUse" x1="3.5" x2="128.8" y1="0" y2="0"><stop offset="0.000" stop-color="#6edc00"/><stop offset="0.387" stop-color="#24cf00"/><stop offset="0.516" stop-color="#18cd00"/><stop offset="0.806" stop-color="#10cf10"/><stop offset="0.839" stop-color="#00db6d"/><stop offset="0.871" stop-color="#00dccf"/><stop offset="0.903" stop-color="#00dae6"/><stop offset="1.000" stop-color="#00dce0"/></linearGradient>
<linearGradient id="l226" gradientUnits="userSpaceOnUse" x1="115.0" x2="306.7" y1="0" y2="0"><stop offset="0.000" stop-color="#eb7300"/><stop offset="0.191" stop-color="#eb8700"/><stop offset="0.213" stop-color="#ebd700"/><stop offset="0.553" stop-color="#eb8600"/><stop offset="0.638" stop-color="#ebd400"/><stop offset="0.702" stop-color="#eb8900"/><stop offset="0.745" stop-color="#ebd300"/><stop offset="0.787" stop-color="#ebe200"/><stop offset="0.851" stop-color="#e0e900"/><stop offset="0.936" stop-color="#d6e800"/><stop offset="0.957" stop-color="#8de000"/><stop offset="1.000" stop-color="#87df00"/></linearGradient>
<linearGradient id="l227" gradientUnits="userSpaceOnUse" x1="281.0" x2="313.4" y1="0" y2="0"><stop offset="0.000" stop-color="#67db00"/><stop offset="0.375" stop-color="#72dd00"/><stop offset="1.000" stop-color="#7dde00"/></linearGradient>
<clipPath id="l3_c"><path d="M8.8,263.8 L11.8,263.8 L14.8,263.8 L17.8,263.8 L20.8,263.9 L23.8,263.9 L26.8,263.9 L29.8,264.0 L32.8,264.0 L35.8,264.0 L38.8,264.1 L41.8,264.1 L44.8,264.2 L47.8,264.3 L50.8,264.3 L53.8,264.4 L56.8,264.5 L59.8,264.6 L62.8,264.7 L65.8,264.8 L68.8,264.9 L71.8,265.0 L74.8,265.1 L77.8,265.3 L80.8,265.4 L83.8,265.6 L86.8,265.8 L89.8,266.0 L92.8,266.2 L95.8,266.5 L98.8,266.8 L101.8,267.1 L104.8,267.4 L107.8,267.7 L110.8,268.1 L113.8,268.5 L116.8,268.9 L119.8,269.4 L122.8,269.9 L125.8,270.5 L128.8,271.1 L131.8,271.7 L134.8,272.4 L137.8,273.2 L140.8,274.0 L143.8,274.8 L146.8,275.7 L149.8,276.7 L152.8,277.7 L155.8,278.8 L158.8,280.0 L161.8,281.2 L164.8,282.5 L167.8,283.9 L170.8,285.3 L173.8,286.8 L176.8,288.4 L179.8,290.0 L182.8,291.7 L185.8,293.5 L188.8,295.3 L191.8,297.1 L194.8,299.0 L197.8,300.9 L200.8,302.9 L203.8,304.8 L206.8,306.7 L209.8,308.7 L212.8,310.6 L215.8,312.5 L218.8,314.3 L221.8,316.1 L224.8,317.9 L227.8,319.5 L230.8,321.1 L233.8,322.6 L236.8,324.1 L239.8,325.4 L242.8,326.7 L245.8,327.9 L248.8,329.0 L251.8,330.0 L254.8,330.9 L257.8,331.8 L260.8,332.6 L263.8,333.3 L266.8,334.0 L269.8,334.6 L272.8,335.1 L275.8,335.6 L278.8,336.1 L281.8,336.5 L284.8,336.8 L287.8,337.2 L290.8,337.5 L293.8,337.8 L296.8,338.0 L299.8,338.2 L302.8,338.4 L305.8,338.6 L308.8,338.7 L311.8,338.9 L314.8,339.0 L316.6,339.1 L316.6,361.0 L314.8,360.9 L311.8,360.7 L308.8,360.5 L305.8,360.3 L302.8,360.1 L299.8,359.8 L296.8,359.5 L293.8,359.2 L290.8,358.9 L287.8,358.6 L284.8,358.2 L281.8,357.8 L278.8,357.3 L275.8,356.8 L272.8,356.3 L269.8,355.8 L266.8,355.2 L263.8,354.5 L260.8,353.9 L257.8,353.1 L254.8,352.3 L251.8,351.5 L248.8,350.6 L245.8,349.7 L242.8,348.7 L239.8,347.6 L236.8,346.5 L233.8,345.3 L230.8,344.1 L227.8,342.8 L224.8,341.4 L221.8,340.0 L218.8,338.5 L215.8,337.0 L212.8,335.4 L209.8,333.8 L206.8,332.1 L203.8,330.4 L200.8,328.7 L197.8,326.9 L194.8,325.1 L191.8,323.3 L188.8,321.5 L185.8,319.7 L182.8,318.0 L179.8,316.2 L176.8,314.5 L173.8,312.8 L170.8,311.1 L167.8,309.5 L164.8,308.0 L161.8,306.5 L158.8,305.1 L155.8,303.7 L152.8,302.4 L149.8,301.2 L146.8,300.0 L143.8,298.9 L140.8,297.9 L137.8,296.9 L134.8,296.0 L131.8,295.2 L128.8,294.4 L125.8,293.7 L122.8,293.0 L119.8,292.4 L116.8,291.9 L113.8,291.3 L110.8,290.9 L107.8,290.4 L104.8,290.0 L101.8,289.6 L98.8,289.3 L95.8,289.0 L92.8,288.7 L89.8,288.5 L86.8,288.2 L83.8,288.0 L80.8,287.8 L77.8,287.6 L74.8,287.5 L71.8,287.3 L68.8,287.2 L65.8,287.1 L62.8,287.0 L59.8,286.9 L56.8,286.8 L53.8,286.7 L50.8,286.6 L47.8,286.5 L44.8,286.5 L41.8,286.4 L38.8,286.4 L35.8,286.3 L32.8,286.3 L29.8,286.2 L26.8,286.2 L23.8,286.2 L20.8,286.1 L17.8,286.1 L14.8,286.1 L11.8,286.1 L8.8,286.1Z"/></clipPath>
<linearGradient id="l30" gradientUnits="userSpaceOnUse" x1="6.8" x2="121.4" y1="0" y2="0"><stop offset="0.000" stop-color="#67db00"/><stop offset="0.107" stop-color="#73dd00"/><stop offset="0.393" stop-color="#66db00"/><stop offset="0.429" stop-color="#20cf00"/><stop offset="0.500" stop-color="#13cd04"/><stop offset="0.536" stop-color="#10cf14"/><stop offset="0.571" stop-color="#02d95f"/><stop offset="0.679" stop-color="#10cf14"/><stop offset="0.750" stop-color="#13cd05"/><stop offset="0.786" stop-color="#10cf12"/><stop offset="0.821" stop-color="#00db6b"/><stop offset="0.857" stop-color="#00dccf"/><stop offset="0.893" stop-color="#00d4e6"/><stop offset="0.929" stop-color="#00c8e7"/><stop offset="1.000" stop-color="#00d0e7"/></linearGradient>
<linearGradient id="l31" gradientUnits="userSpaceOnUse" x1="107.8" x2="293.0" y1="0" y2="0"><stop offset="0.000" stop-color="#eb7300"/><stop offset="0.348" stop-color="#eb7d00"/><stop offset="0.543" stop-color="#eb7300"/><stop offset="0.913" stop-color="#eb7f00"/><stop offset="0.957" stop-color="#ebd600"/><stop offset="1.000" stop-color="#ebe000"/></linearGradient>
<linearGradient id="l32" gradientUnits="userSpaceOnUse" x1="267.7" x2="318.6" y1="0" y2="0"><stop offset="0.000" stop-color="#00db69"/><stop offset="0.083" stop-color="#03d959"/><stop offset="0.167" stop-color="#12ce08"/><stop offset="0.333" stop-color="#64da00"/><stop offset="0.417" stop-color="#71dc00"/><stop offset="0.667" stop-color="#7cde00"/><stop offset="1.000" stop-color="#85df00"/></linearGradient>
<linearGradient id="l33" gradientUnits="userSpaceOnUse" x1="6.8" x2="107.8" y1="0" y2="0"><stop offset="0.000" stop-color="#13cd04"/><stop offset="0.400" stop-color="#10cf11"/><stop offset="0.480" stop-color="#02d95f"/><stop offset="0.520" stop-color="#00db6c"/><stop offset="0.560" stop-color="#00dc7c"/><stop offset="0.680" stop-color="#00dc72"/><stop offset="0.800" stop-color="#00dcd7"/><stop offset="0.840" stop-color="#00d3e6"/><stop offset="0.880" stop-color="#0082ee"/><stop offset="0.920" stop-color="#0076ef"/><stop offset="1.000" stop-color="#0073ef"/></linearGradient>
<linearGradient id="l34" gradientUnits="userSpaceOnUse" x1="94.4" x2="267.7" y1="0" y2="0"><stop offset="0.000" stop-color="#eb7300"/><stop offset="0.186" stop-color="#eb7f00"/><stop offset="0.256" stop-color="#ebd300"/><stop offset="0.302" stop-color="#ebde00"/><stop offset="0.372" stop-color="#ebe900"/><stop offset="0.512" stop-color="#dfe900"/><stop offset="0.581" stop-color="#ebe900"/><stop offset="0.628" stop-color="#ebda00"/><stop offset="0.674" stop-color="#eb8700"/><stop offset="0.791" stop-color="#eb7c00"/><stop offset="0.977" stop-color="#eb8700"/><stop offset="1.000" stop-color="#ebd700"/></linearGradient>
<linearGradient id="l35" gradientUnits="userSpaceOnUse" x1="243.2" x2="318.6" y1="0" y2="0"><stop offset="0.000" stop-color="#00cce7"/><stop offset="0.278" stop-color="#00dcd8"/><stop offset="0.333" stop-color="#00dc73"/><stop offset="0.389" stop-color="#03d95b"/><stop offset="0.444" stop-color="#12ce07"/><stop offset="0.556" stop-color="#23cf00"/><stop offset="0.611" stop-color="#65da00"/><stop offset="0.833" stop-color="#70dc00"/><stop offset="1.000" stop-color="#75dd00"/></linearGradient>
<linearGradient id="l36" gradientUnits="userSpaceOnUse" x1="6.8" x2="94.4" y1="0" y2="0"><stop offset="0.000" stop-color="#25d000"/><stop offset="0.143" stop-color="#65da00"/><stop offset="0.286" stop-color="#25d000"/><stop offset="0.476" stop-color="#1ace00"/><stop offset="0.619" stop-color="#12ce0a"/><stop offset="0.762" stop-color="#03d95c"/><stop offset="0.810" stop-color="#00dc6f"/><stop offset="0.857" stop-color="#00dcd3"/><stop offset="0.905" stop-color="#00d5e6"/><stop offset="1.000" stop-color="#00cce7"/></linearGradient>
<linearGradient id="l37" gradientUnits="userSpaceOnUse" x1="81.4" x2="243.2" y1="0" y2="0"><stop offset="0.000" stop-color="#eb7300"/><stop offset="0.325" stop-color="#eb8000"/><stop offset="0.400" stop-color="#ebd600"/><stop offset="0.575" stop-color="#ebe100"/><stop offset="0.650" stop-color="#ebd400"/><stop offset="0.675" stop-color="#eb8500"/><stop offset="0.725" stop-color="#eb7600"/><stop offset="1.000" stop-color="#eb7300"/></linearGradient>
<linearGradient id="l38" gradientUnits="userSpaceOnUse" x1="220.6" x2="318.6" y1="0" y2="0"><stop offset="0.000" stop-color="#10cf12"/><stop offset="0.042" stop-color="#01db68"/><stop offset="0.083" stop-color="#00dc7d"/><stop offset="0.125" stop-color="#00dcdb"/><stop offset="0.208" stop-color="#00dc84"/><stop offset="0.250" stop-color="#00dc71"/><stop offset="0.292" stop-color="#02d95f"/><stop offset="0.333" stop-color="#11ce0b"/><stop offset="0.375" stop-color="#19cd00"/><stop offset="0.417" stop-color="#67db00"/><stop offset="0.458" stop-color="#77dd00"/><stop offset="0.500" stop-color="#82df00"/><stop offset="0.583" stop-color="#8de000"/><stop offset="0.625" stop-color="#d7e800"/><stop offset="0.750" stop-color="#e3ea00"/><stop offset="0.958" stop-color="#8ee000"/><stop offset="1.000" stop-color="#88df00"/></linearGradient>
<linearGradient id="l39" gradientUnits="userSpaceOnUse" x1="6.8" x2="81.4" y1="0" y2="0"><stop offset="0.000" stop-color="#11ce0c"/><stop offset="0.667" stop-color="#03d95a"/><stop offset="0.722" stop-color="#01da64"/><stop offset="0.778" stop-color="#00dc72"/><stop offset="0.833" stop-color="#00dc84"/><stop offset="0.889" stop-color="#00dce0"/><stop offset="1.000" stop-color="#008bee"/></linearGradient>
<linearGradient id="l310" gradientUnits="userSpaceOnUse" x1="68.6" x2="220.6" y1="0" y2="0"><stop offset="0.000" stop-color="#eb7300"/><stop offset="0.189" stop-color="#eb8200"/><stop offset="0.216" stop-color="#ebd300"/><stop offset="0.270" stop-color="#ebe300"/><stop offset="0.351" stop-color="#e0e900"/><stop offset="0.432" stop-color="#8de000"/><stop offset="0.595" stop-color="#d4e800"/><stop offset="0.730" stop-color="#dfe900"/><stop offset="0.784" stop-color="#ebe700"/><stop offset="0.838" stop-color="#ebd800"/><stop offset="0.865" stop-color="#eb8a00"/><stop offset="1.000" stop-color="#eb8100"/></linearGradient>
<linearGradient id="l311" gradientUnits="userSpaceOnUse" x1="200.1" x2="318.6" y1="0" y2="0"><stop offset="0.000" stop-color="#7ade00"/><stop offset="0.034" stop-color="#6adb00"/><stop offset="0.069" stop-color="#1ece00"/><stop offset="0.103" stop-color="#12ce08"/><stop offset="0.138" stop-color="#03d95c"/><stop offset="0.310" stop-color="#12ce09"/><stop offset="0.379" stop-color="#65da00"/><stop offset="0.483" stop-color="#73dd00"/><stop offset="0.586" stop-color="#82df00"/><stop offset="0.655" stop-color="#8ce000"/><stop offset="0.759" stop-color="#7bde00"/><stop offset="0.828" stop-color="#6bdb00"/><stop offset="0.897" stop-color="#22cf00"/><stop offset="0.966" stop-color="#18cd00"/><stop offset="1.000" stop-color="#14cd00"/></linearGradient>
<linearGradient id="l312" gradientUnits="userSpaceOnUse" x1="6.8" x2="68.6" y1="0" y2="0"><stop offset="0.000" stop-color="#69db00"/><stop offset="0.800" stop-color="#1dce00"/><stop offset="0.867" stop-color="#13cd03"/><stop offset="0.933" stop-color="#10cf10"/><stop offset="1.000" stop-color="#02da60"/></linearGradient>
<linearGradient id="l313" gradientUnits="userSpaceOnUse" x1="56.1" x2="200.1" y1="0" y2="0"><stop offset="0.000" stop-color="#eb7500"/><stop offset="0.333" stop-color="#eb8700"/><stop offset="0.361" stop-color="#ebd800"/><stop offset="0.417" stop-color="#ebe300"/><stop offset="0.722" stop-color="#ebd900"/><stop offset="0.861" stop-color="#eb7d00"/><stop offset="0.889" stop-color="#eb7300"/><stop offset="1.000" stop-color="#eb7300"/></linearGradient>
<linearGradient id="l314" gradientUnits="userSpaceOnUse" x1="181.6" x2="318.6" y1="0" y2="0"><stop offset="0.000" stop-color="#eb7300"/><stop offset="0.088" stop-color="#eb8900"/><stop offset="0.118" stop-color="#ebe300"/><stop offset="0.176" stop-color="#d9e900"/><stop offset="0.206" stop-color="#8ce000"/><stop offset="0.294" stop-color="#d8e800"/><stop offset="0.412" stop-color="#e5ea00"/><stop offset="0.500" stop-color="#ebe000"/><stop offset="0.618" stop-color="#ebea00"/><stop offset="0.676" stop-color="#dce900"/><stop offset="0.735" stop-color="#87df00"/><stop offset="0.794" stop-color="#75dd00"/><stop offset="0.912" stop-color="#6bdb00"/><stop offset="1.000" stop-color="#65da00"/></linearGradient>
<linearGradient id="l315" gradientUnits="userSpaceOnUse" x1="6.8" x2="56.1" y1="0" y2="0"><stop offset="0.000" stop-color="#14cd00"/><stop offset="0.667" stop-color="#1ece00"/><stop offset="0.917" stop-color="#13cd04"/><stop offset="1.000" stop-color="#10cf11"/></linearGradient>
<linearGradient id="l316" gradientUnits="userSpaceOnUse" x1="43.9" x2="181.6" y1="0" y2="0"><stop offset="0.000" stop-color="#8ee000"/><stop offset="0.029" stop-color="#dde900"/><stop offset="0.059" stop-color="#eaea00"/><stop offset="0.088" stop-color="#ebdf00"/><stop offset="0.147" stop-color="#eb8600"/><stop offset="0.235" stop-color="#ebd600"/><stop offset="0.294" stop-color="#ebe500"/><stop offset="0.353" stop-color="#d9e900"/><stop offset="0.382" stop-color="#89df00"/><stop offset="0.441" stop-color="#7ade00"/><stop offset="0.588" stop-color="#70dc00"/><stop offset="0.941" stop-color="#8ce000"/><stop offset="0.971" stop-color="#e5ea00"/><stop offset="1.000" stop-color="#ebda00"/></linearGradient>
<linearGradient id="l317" gradientUnits="userSpaceOnUse" x1="164.9" x2="318.6" y1="0" y2="0"><stop offset="0.000" stop-color="#eb7300"/><stop offset="0.132" stop-color="#eb8300"/><stop offset="0.158" stop-color="#ebdb00"/><stop offset="0.184" stop-color="#ebe900"/><stop offset="0.237" stop-color="#d9e800"/><stop offset="0.263" stop-color="#8de000"/><stop offset="0.342" stop-color="#d4e800"/><stop offset="0.447" stop-color="#dee900"/><stop offset="0.553" stop-color="#8be000"/><stop offset="0.605" stop-color="#76dd00"/><stop offset="0.658" stop-color="#68db00"/><stop offset="0.711" stop-color="#26d000"/><stop offset="0.789" stop-color="#15cd00"/><stop offset="0.895" stop-color="#12ce0a"/><stop offset="1.000" stop-color="#12cd06"/></linearGradient>
<linearGradient id="l318" gradientUnits="userSpaceOnUse" x1="6.8" x2="43.9" y1="0" y2="0"><stop offset="0.000" stop-color="#25cf00"/><stop offset="0.222" stop-color="#65da00"/><stop offset="0.556" stop-color="#72dd00"/><stop offset="1.000" stop-color="#6cdb00"/></linearGradient>
<linearGradient id="l319" gradientUnits="userSpaceOnUse" x1="31.9" x2="164.9" y1="0" y2="0"><stop offset="0.000" stop-color="#85df00"/><stop offset="0.061" stop-color="#dde900"/><stop offset="0.121" stop-color="#ebea00"/><stop offset="0.182" stop-color="#ebd800"/><stop offset="0.333" stop-color="#ebe800"/><stop offset="0.364" stop-color="#dee900"/><stop offset="0.394" stop-color="#8ce000"/><stop offset="0.424" stop-color="#7fde00"/><stop offset="0.485" stop-color="#70dc00"/><stop offset="0.788" stop-color="#20cf00"/><stop offset="0.818" stop-color="#13cd01"/><stop offset="0.879" stop-color="#11cf10"/><stop offset="0.939" stop-color="#13cd01"/><stop offset="0.970" stop-color="#24cf00"/><stop offset="1.000" stop-color="#72dd00"/></linearGradient>
<linearGradient id="l320" gradientUnits="userSpaceOnUse" x1="149.7" x2="318.6" y1="0" y2="0"><stop offset="0.000" stop-color="#eb7300"/><stop offset="0.238" stop-color="#eb8400"/><stop offset="0.262" stop-color="#ebd400"/><stop offset="0.524" stop-color="#ebde00"/><stop offset="0.548" stop-color="#ebe800"/><stop offset="0.595" stop-color="#dee900"/><stop offset="0.643" stop-color="#8ee000"/><stop offset="0.714" stop-color="#7fde00"/><stop offset="0.762" stop-color="#6ddc00"/><stop offset="0.786" stop-color="#27d000"/><stop offset="0.833" stop-color="#1dce00"/><stop offset="0.952" stop-color="#27d000"/><stop offset="0.976" stop-color="#66da00"/><stop offset="1.000" stop-color="#68db00"/></linearGradient>
<linearGradient id="l321" gradientUnits="userSpaceOnUse" x1="6.8" x2="31.9" y1="0" y2="0"><stop offset="0.000" stop-color="#15cd00"/><stop offset="0.333" stop-color="#1fce00"/><stop offset="0.667" stop-color="#66da00"/><stop offset="1.000" stop-color="#26d000"/></linearGradient>
<linearGradient id="l322" gradientUnits="userSpaceOnUse" x1="20.2" x2="149.7" y1="0" y2="0"><stop offset="0.000" stop-color="#1ece00"/><stop offset="0.062" stop-color="#66db00"/><stop offset="0.125" stop-color="#72dd00"/><stop offset="0.188" stop-color="#7fde00"/><stop offset="0.375" stop-color="#72dc00"/><stop offset="0.406" stop-color="#64da00"/><stop offset="0.438" stop-color="#1cce00"/><stop offset="0.500" stop-color="#11ce0c"/><stop offset="0.562" stop-color="#03d95a"/><stop offset="0.656" stop-color="#10cf14"/><stop offset="0.812" stop-color="#00db69"/><stop offset="0.844" stop-color="#00dc82"/><stop offset="0.875" stop-color="#00dce4"/><stop offset="0.906" stop-color="#00c8e7"/><stop offset="0.969" stop-color="#00dcdc"/><stop offset="1.000" stop-color="#00dc7f"/></linearGradient>
<linearGradient id="l323" gradientUnits="userSpaceOnUse" x1="135.4" x2="318.6" y1="0" y2="0"><stop offset="0.000" stop-color="#eb7300"/><stop offset="0.156" stop-color="#eb8000"/><stop offset="0.200" stop-color="#eb8a00"/><stop offset="0.222" stop-color="#ebd800"/><stop offset="0.267" stop-color="#ebe400"/><stop offset="0.622" stop-color="#dfe900"/><stop offset="0.689" stop-color="#8ce000"/><stop offset="0.733" stop-color="#7bde00"/><stop offset="0.778" stop-color="#69db00"/><stop offset="0.800" stop-color="#23cf00"/><stop offset="0.822" stop-color="#18cd00"/><stop offset="0.911" stop-color="#25cf00"/><stop offset="0.933" stop-color="#66db00"/><stop offset="1.000" stop-color="#72dd00"/></linearGradient>
<linearGradient id="l324" gradientUnits="userSpaceOnUse" x1="6.8" x2="20.2" y1="0" y2="0"><stop offset="0.000" stop-color="#7cde00"/><stop offset="1.000" stop-color="#83df00"/></linearGradient>
<linearGradient id="l325" gradientUnits="userSpaceOnUse" x1="8.8" x2="135.4" y1="0" y2="0"><stop offset="0.000" stop-color="#66da00"/><stop offset="0.065" stop-color="#71dc00"/><stop offset="0.161" stop-color="#7fde00"/><stop offset="0.258" stop-color="#89df00"/><stop offset="0.387" stop-color="#7cde00"/><stop offset="0.419" stop-color="#71dc00"/><stop offset="0.452" stop-color="#64da00"/><stop offset="0.484" stop-color="#1cce00"/><stop offset="0.581" stop-color="#10cf10"/><stop offset="0.613" stop-color="#02d95d"/><stop offset="0.677" stop-color="#11ce0c"/><stop offset="0.742" stop-color="#16cd00"/><stop offset="0.806" stop-color="#11cf0f"/><stop offset="0.839" stop-color="#00db6b"/><stop offset="0.871" stop-color="#00dcce"/><stop offset="0.903" stop-color="#00d9e6"/><stop offset="1.000" stop-color="#00dbe6"/></linearGradient>
<linearGradient id="l326" gradientUnits="userSpaceOnUse" x1="121.4" x2="318.6" y1="0" y2="0"><stop offset="0.000" stop-color="#eb7300"/><stop offset="0.286" stop-color="#eb7d00"/><stop offset="0.510" stop-color="#eb7300"/><stop offset="0.714" stop-color="#eb7d00"/><stop offset="0.735" stop-color="#eb8800"/><stop offset="0.755" stop-color="#ebdc00"/><stop offset="0.796" stop-color="#e8ea00"/><stop offset="1.000" stop-color="#dfe900"/></linearGradient>
<linearGradient id="l327" gradientUnits="userSpaceOnUse" x1="293.0" x2="318.6" y1="0" y2="0"><stop offset="0.000" stop-color="#70dc00"/><stop offset="1.000" stop-color="#7bde00"/></linearGradient>
<clipPath id="l4_c"><path d="M7.0,349.6 L10.0,349.6 L13.0,349.6 L16.0,349.7 L19.0,349.7 L22.0,349.7 L25.0,349.7 L28.0,349.8 L31.0,349.8 L34.0,349.9 L37.0,349.9 L40.0,349.9 L43.0,350.0 L46.0,350.1 L49.0,350.1 L52.0,350.2 L55.0,350.3 L58.0,350.3 L61.0,350.4 L64.0,350.5 L67.0,350.7 L70.0,350.8 L73.0,350.9 L76.0,351.0 L79.0,351.2 L82.0,351.4 L85.0,351.6 L88.0,351.8 L91.0,352.0 L94.0,352.2 L97.0,352.5 L100.0,352.8 L103.0,353.1 L106.0,353.5 L109.0,353.9 L112.0,354.3 L115.0,354.7 L118.0,355.2 L121.0,355.7 L124.0,356.3 L127.0,356.9 L130.0,357.5 L133.0,358.2 L136.0,359.0 L139.0,359.8 L142.0,360.7 L145.0,361.6 L148.0,362.6 L151.0,363.7 L154.0,364.8 L157.0,366.0 L160.0,367.3 L163.0,368.7 L166.0,370.1 L169.0,371.6 L172.0,373.1 L175.0,374.8 L178.0,376.5 L181.0,378.2 L184.0,380.1 L187.0,382.0 L190.0,383.9 L193.0,385.9 L196.0,387.9 L199.0,389.9 L202.0,391.9 L205.0,393.9 L208.0,395.9 L211.0,397.9 L214.0,399.9 L217.0,401.8 L220.0,403.6 L223.0,405.3 L226.0,407.0 L229.0,408.6 L232.0,410.1 L235.0,411.6 L238.0,412.9 L241.0,414.1 L244.0,415.3 L247.0,416.3 L250.0,417.3 L253.0,418.2 L256.0,419.0 L259.0,419.8 L262.0,420.5 L265.0,421.1 L268.0,421.6 L271.0,422.1 L274.0,422.6 L277.0,423.0 L280.0,423.4 L283.0,423.7 L286.0,424.0 L289.0,424.2 L292.0,424.5 L295.0,424.7 L298.0,424.9 L301.0,425.1 L304.0,425.2 L307.0,425.3 L310.0,425.5 L313.0,425.6 L314.8,425.6 L314.8,447.6 L313.0,447.5 L310.0,447.3 L307.0,447.2 L304.0,447.0 L301.0,446.8 L298.0,446.5 L295.0,446.3 L292.0,446.0 L289.0,445.8 L286.0,445.4 L283.0,445.1 L280.0,444.7 L277.0,444.3 L274.0,443.9 L271.0,443.4 L268.0,442.9 L265.0,442.3 L262.0,441.7 L259.0,441.1 L256.0,440.4 L253.0,439.6 L250.0,438.8 L247.0,437.9 L244.0,437.0 L241.0,436.0 L238.0,435.0 L235.0,433.8 L232.0,432.6 L229.0,431.4 L226.0,430.1 L223.0,428.7 L220.0,427.2 L217.0,425.7 L214.0,424.1 L211.0,422.5 L208.0,420.8 L205.0,419.1 L202.0,417.3 L199.0,415.5 L196.0,413.7 L193.0,411.8 L190.0,410.0 L187.0,408.1 L184.0,406.3 L181.0,404.5 L178.0,402.7 L175.0,400.9 L172.0,399.2 L169.0,397.5 L166.0,395.9 L163.0,394.3 L160.0,392.8 L157.0,391.4 L154.0,390.0 L151.0,388.7 L148.0,387.4 L145.0,386.3 L142.0,385.2 L139.0,384.1 L136.0,383.2 L133.0,382.3 L130.0,381.4 L127.0,380.7 L124.0,379.9 L121.0,379.3 L118.0,378.7 L115.0,378.1 L112.0,377.6 L109.0,377.1 L106.0,376.6 L103.0,376.2 L100.0,375.9 L97.0,375.5 L94.0,375.2 L91.0,374.9 L88.0,374.6 L85.0,374.4 L82.0,374.2 L79.0,374.0 L76.0,373.8 L73.0,373.6 L70.0,373.5 L67.0,373.4 L64.0,373.2 L61.0,373.1 L58.0,373.0 L55.0,372.9 L52.0,372.8 L49.0,372.8 L46.0,372.7 L43.0,372.6 L40.0,372.6 L37.0,372.5 L34.0,372.5 L31.0,372.4 L28.0,372.4 L25.0,372.3 L22.0,372.3 L19.0,372.3 L16.0,372.3 L13.0,372.2 L10.0,372.2 L7.0,372.2Z"/></clipPath>
<linearGradient id="l40" gradientUnits="userSpaceOnUse" x1="5.0" x2="119.3" y1="0" y2="0"><stop offset="0.000" stop-color="#67db00"/><stop offset="0.393" stop-color="#26d000"/><stop offset="0.464" stop-color="#1ace00"/><stop offset="0.536" stop-color="#10cf13"/><stop offset="0.571" stop-color="#03d95a"/><stop offset="0.643" stop-color="#10cf15"/><stop offset="0.714" stop-color="#03d958"/><stop offset="0.750" stop-color="#10cf10"/><stop offset="0.786" stop-color="#03d958"/><stop offset="0.821" stop-color="#01da65"/><stop offset="0.857" stop-color="#00dc77"/><stop offset="0.893" stop-color="#00dcd7"/><stop offset="1.000" stop-color="#00dcce"/></linearGradient>
<linearGradient id="l41" gradientUnits="userSpaceOnUse" x1="105.6" x2="288.9" y1="0" y2="0"><stop offset="0.000" stop-color="#eb7300"/><stop offset="0.933" stop-color="#eb8200"/><stop offset="0.978" stop-color="#ebda00"/><stop offset="1.000" stop-color="#ebdf00"/></linearGradient>
<linearGradient id="l42" gradientUnits="userSpaceOnUse" x1="263.8" x2="316.8" y1="0" y2="0"><stop offset="0.000" stop-color="#00dc83"/><stop offset="0.154" stop-color="#00dc76"/><stop offset="0.308" stop-color="#00db69"/><stop offset="0.462" stop-color="#11ce0b"/><stop offset="0.538" stop-color="#1ace00"/><stop offset="0.615" stop-color="#64da00"/><stop offset="0.692" stop-color="#70dc00"/><stop offset="0.846" stop-color="#80de00"/><stop offset="1.000" stop-color="#86df00"/></linearGradient>
<linearGradient id="l43" gradientUnits="userSpaceOnUse" x1="5.0" x2="105.6" y1="0" y2="0"><stop offset="0.000" stop-color="#13cd04"/><stop offset="0.360" stop-color="#11cf0e"/><stop offset="0.480" stop-color="#02da5f"/><stop offset="0.520" stop-color="#00db6c"/><stop offset="0.560" stop-color="#00dc7c"/><stop offset="0.760" stop-color="#00dccf"/><stop offset="0.800" stop-color="#00dce5"/><stop offset="0.840" stop-color="#00d1e7"/><stop offset="0.880" stop-color="#0087ee"/><stop offset="1.000" stop-color="#0085ee"/></linearGradient>
<linearGradient id="l44" gradientUnits="userSpaceOnUse" x1="92.3" x2="263.8" y1="0" y2="0"><stop offset="0.000" stop-color="#eb7300"/><stop offset="0.214" stop-color="#eb7e00"/><stop offset="1.000" stop-color="#ebd300"/></linearGradient>
<linearGradient id="l45" gradientUnits="userSpaceOnUse" x1="239.4" x2="316.8" y1="0" y2="0"><stop offset="0.000" stop-color="#13cd03"/><stop offset="0.053" stop-color="#02d95e"/><stop offset="0.105" stop-color="#00dc78"/><stop offset="0.158" stop-color="#00dcdb"/><stop offset="0.211" stop-color="#00cde7"/><stop offset="0.316" stop-color="#00dcd4"/><stop offset="0.368" stop-color="#00dc76"/><stop offset="0.421" stop-color="#01da63"/><stop offset="0.474" stop-color="#10cf11"/><stop offset="0.526" stop-color="#13cd02"/><stop offset="0.579" stop-color="#1dce00"/><stop offset="0.632" stop-color="#64da00"/><stop offset="0.789" stop-color="#70dc00"/><stop offset="1.000" stop-color="#76dd00"/></linearGradient>
<linearGradient id="l46" gradientUnits="userSpaceOnUse" x1="5.0" x2="92.3" y1="0" y2="0"><stop offset="0.000" stop-color="#28d000"/><stop offset="0.429" stop-color="#1dce00"/><stop offset="0.524" stop-color="#13cd01"/><stop offset="0.667" stop-color="#11ce0c"/><stop offset="0.762" stop-color="#00db6b"/><stop offset="0.810" stop-color="#00dc82"/><stop offset="0.857" stop-color="#00dce2"/><stop offset="0.905" stop-color="#00d1e7"/><stop offset="1.000" stop-color="#00d3e6"/></linearGradient>
<linearGradient id="l47" gradientUnits="userSpaceOnUse" x1="217.2" x2="316.8" y1="0" y2="0"><stop offset="0.000" stop-color="#eb8400"/><stop offset="0.042" stop-color="#ebd900"/><stop offset="0.083" stop-color="#ebe700"/><stop offset="0.167" stop-color="#86df00"/><stop offset="0.208" stop-color="#73dd00"/><stop offset="0.250" stop-color="#67db00"/><stop offset="0.292" stop-color="#23cf00"/><stop offset="0.417" stop-color="#6adb00"/><stop offset="0.458" stop-color="#7ade00"/><stop offset="0.542" stop-color="#89e000"/><stop offset="0.625" stop-color="#d9e800"/><stop offset="0.750" stop-color="#e5ea00"/><stop offset="0.917" stop-color="#d8e800"/><stop offset="0.958" stop-color="#8be000"/><stop offset="1.000" stop-color="#85df00"/></linearGradient>
<linearGradient id="l48" gradientUnits="userSpaceOnUse" x1="5.0" x2="79.3" y1="0" y2="0"><stop offset="0.000" stop-color="#12ce09"/><stop offset="0.667" stop-color="#03d95b"/><stop offset="0.722" stop-color="#00db6d"/><stop offset="0.778" stop-color="#00dcd1"/><stop offset="0.833" stop-color="#00d0e7"/><stop offset="0.889" stop-color="#0086ee"/><stop offset="1.000" stop-color="#007eef"/></linearGradient>
<linearGradient id="l49" gradientUnits="userSpaceOnUse" x1="66.6" x2="217.2" y1="0" y2="0"><stop offset="0.000" stop-color="#eb7300"/><stop offset="0.189" stop-color="#eb8000"/><stop offset="0.297" stop-color="#eb8a00"/><stop offset="0.324" stop-color="#ebd700"/><stop offset="0.784" stop-color="#eb8a00"/><stop offset="1.000" stop-color="#eb8100"/></linearGradient>
<linearGradient id="l410" gradientUnits="userSpaceOnUse" x1="197.0" x2="316.8" y1="0" y2="0"><stop offset="0.000" stop-color="#eb7c00"/><stop offset="0.103" stop-color="#ebd400"/><stop offset="0.138" stop-color="#ebe200"/><stop offset="0.207" stop-color="#dde900"/><stop offset="0.276" stop-color="#89df00"/><stop offset="0.345" stop-color="#7ede00"/><stop offset="0.621" stop-color="#89e000"/><stop offset="0.759" stop-color="#77dd00"/><stop offset="0.828" stop-color="#68db00"/><stop offset="0.862" stop-color="#26d000"/><stop offset="0.931" stop-color="#1ace00"/><stop offset="1.000" stop-color="#13cd01"/></linearGradient>
<linearGradient id="l411" gradientUnits="userSpaceOnUse" x1="5.0" x2="66.6" y1="0" y2="0"><stop offset="0.000" stop-color="#66db00"/><stop offset="0.733" stop-color="#23cf00"/><stop offset="0.800" stop-color="#13cd04"/><stop offset="0.867" stop-color="#02da60"/><stop offset="0.933" stop-color="#00dc78"/><stop offset="1.000" stop-color="#00dcd5"/></linearGradient>
<linearGradient id="l412" gradientUnits="userSpaceOnUse" x1="54.1" x2="197.0" y1="0" y2="0"><stop offset="0.000" stop-color="#eb8300"/><stop offset="0.029" stop-color="#eb7300"/><stop offset="0.486" stop-color="#eb7e00"/><stop offset="0.714" stop-color="#eb7300"/><stop offset="1.000" stop-color="#eb7300"/></linearGradient>
<linearGradient id="l413" gradientUnits="userSpaceOnUse" x1="178.8" x2="316.8" y1="0" y2="0"><stop offset="0.000" stop-color="#eb7300"/><stop offset="0.324" stop-color="#eb7e00"/><stop offset="0.500" stop-color="#eb8900"/><stop offset="0.529" stop-color="#ebd500"/><stop offset="0.559" stop-color="#ebe000"/><stop offset="0.676" stop-color="#dae900"/><stop offset="0.706" stop-color="#8ce000"/><stop offset="0.765" stop-color="#7ade00"/><stop offset="0.824" stop-color="#70dc00"/><stop offset="0.971" stop-color="#65da00"/><stop offset="1.000" stop-color="#27d000"/></linearGradient>
<linearGradient id="l414" gradientUnits="userSpaceOnUse" x1="5.0" x2="54.1" y1="0" y2="0"><stop offset="0.000" stop-color="#13cd02"/><stop offset="0.750" stop-color="#1dce00"/><stop offset="0.917" stop-color="#11ce0d"/><stop offset="1.000" stop-color="#01da65"/></linearGradient>
<linearGradient id="l415" gradientUnits="userSpaceOnUse" x1="42.0" x2="178.8" y1="0" y2="0"><stop offset="0.000" stop-color="#76dd00"/><stop offset="0.029" stop-color="#81df00"/><stop offset="0.059" stop-color="#d8e800"/><stop offset="0.088" stop-color="#e6ea00"/><stop offset="0.147" stop-color="#ebda00"/><stop offset="0.176" stop-color="#eb8900"/><stop offset="0.206" stop-color="#ebd800"/><stop offset="0.294" stop-color="#ebe300"/><stop offset="0.412" stop-color="#dee900"/><stop offset="0.824" stop-color="#8de000"/><stop offset="0.912" stop-color="#d6e800"/><stop offset="0.941" stop-color="#e5ea00"/><stop offset="1.000" stop-color="#eb8900"/></linearGradient>
<linearGradient id="l416" gradientUnits="userSpaceOnUse" x1="162.3" x2="316.8" y1="0" y2="0"><stop offset="0.000" stop-color="#eb7300"/><stop offset="0.237" stop-color="#eb7e00"/><stop offset="0.342" stop-color="#eb8a00"/><stop offset="0.368" stop-color="#ebd300"/><stop offset="0.421" stop-color="#eb8900"/><stop offset="0.474" stop-color="#ebda00"/><stop offset="0.526" stop-color="#e6ea00"/><stop offset="0.553" stop-color="#d9e900"/><stop offset="0.579" stop-color="#85df00"/><stop offset="0.605" stop-color="#74dd00"/><stop offset="0.658" stop-color="#66db00"/><stop offset="0.711" stop-color="#26d000"/><stop offset="0.763" stop-color="#1cce00"/><stop offset="0.868" stop-color="#12ce09"/><stop offset="1.000" stop-color="#13cd04"/></linearGradient>
<linearGradient id="l417" gradientUnits="userSpaceOnUse" x1="5.0" x2="42.0" y1="0" y2="0"><stop offset="0.000" stop-color="#24cf00"/><stop offset="0.444" stop-color="#66db00"/><stop offset="0.667" stop-color="#73dd00"/><stop offset="1.000" stop-color="#6cdb00"/></linearGradient>
<linearGradient id="l418" gradientUnits="userSpaceOnUse" x1="30.0" x2="162.3" y1="0" y2="0"><stop offset="0.000" stop-color="#69db00"/><stop offset="0.061" stop-color="#7dde00"/><stop offset="0.121" stop-color="#89df00"/><stop offset="0.152" stop-color="#d9e900"/><stop offset="0.182" stop-color="#e3ea00"/><stop offset="0.424" stop-color="#d7e800"/><stop offset="0.455" stop-color="#8de000"/><stop offset="0.576" stop-color="#d4e800"/><stop offset="0.727" stop-color="#8ee000"/><stop offset="0.818" stop-color="#76dd00"/><stop offset="0.879" stop-color="#68db00"/><stop offset="0.939" stop-color="#75dd00"/><stop offset="0.970" stop-color="#85df00"/><stop offset="1.000" stop-color="#d8e800"/></linearGradient>
<linearGradient id="l419" gradientUnits="userSpaceOnUse" x1="147.4" x2="316.8" y1="0" y2="0"><stop offset="0.000" stop-color="#eb7300"/><stop offset="0.524" stop-color="#eb8100"/><stop offset="0.548" stop-color="#ebd900"/><stop offset="0.571" stop-color="#ebe500"/><stop offset="0.619" stop-color="#dde900"/><stop offset="0.667" stop-color="#8de000"/><stop offset="0.714" stop-color="#80de00"/><stop offset="0.762" stop-color="#6ddc00"/><stop offset="0.810" stop-color="#20cf00"/><stop offset="0.952" stop-color="#65da00"/><stop offset="1.000" stop-color="#6bdb00"/></linearGradient>
<linearGradient id="l420" gradientUnits="userSpaceOnUse" x1="5.0" x2="30.0" y1="0" y2="0"><stop offset="0.000" stop-color="#12cd06"/><stop offset="0.500" stop-color="#23cf00"/><stop offset="0.667" stop-color="#66da00"/><stop offset="1.000" stop-color="#25d000"/></linearGradient>
<linearGradient id="l421" gradientUnits="userSpaceOnUse" x1="18.4" x2="147.4" y1="0" y2="0"><stop offset="0.000" stop-color="#12cd06"/><stop offset="0.125" stop-color="#1ece00"/><stop offset="0.250" stop-color="#69db00"/><stop offset="0.406" stop-color="#25d000"/><stop offset="0.500" stop-color="#19cd00"/><stop offset="0.719" stop-color="#25d000"/><stop offset="0.812" stop-color="#13cd05"/><stop offset="0.844" stop-color="#03d959"/><stop offset="0.875" stop-color="#00db6b"/><stop offset="0.906" stop-color="#00dc7d"/><stop offset="0.938" stop-color="#00dc73"/><stop offset="0.969" stop-color="#02da61"/><stop offset="1.000" stop-color="#11ce0d"/></linearGradient>
<linearGradient id="l422" gradientUnits="userSpaceOnUse" x1="133.2" x2="316.8" y1="0" y2="0"><stop offset="0.000" stop-color="#eb7300"/><stop offset="0.178" stop-color="#eb7d00"/><stop offset="0.289" stop-color="#eb8800"/><stop offset="0.556" stop-color="#ebdc00"/><stop offset="0.600" stop-color="#e8ea00"/><stop offset="0.644" stop-color="#dde900"/><stop offset="0.711" stop-color="#86df00"/><stop offset="0.756" stop-color="#73dd00"/><stop offset="0.800" stop-color="#24cf00"/><stop offset="0.822" stop-color="#19cd00"/><stop offset="0.911" stop-color="#64da00"/><stop offset="0.978" stop-color="#70dc00"/><stop offset="1.000" stop-color="#75dd00"/></linearGradient>
<linearGradient id="l423" gradientUnits="userSpaceOnUse" x1="5.0" x2="18.4" y1="0" y2="0"><stop offset="0.000" stop-color="#79de00"/><stop offset="0.333" stop-color="#83df00"/><stop offset="1.000" stop-color="#83df00"/></linearGradient>
<linearGradient id="l424" gradientUnits="userSpaceOnUse" x1="7.0" x2="133.2" y1="0" y2="0"><stop offset="0.000" stop-color="#66da00"/><stop offset="0.226" stop-color="#70dc00"/><stop offset="0.452" stop-color="#25cf00"/><stop offset="0.516" stop-color="#1bce00"/><stop offset="0.839" stop-color="#11cf10"/><stop offset="0.871" stop-color="#01da66"/><stop offset="0.903" stop-color="#00dc7a"/><stop offset="1.000" stop-color="#00db68"/></linearGradient>
<linearGradient id="l425" gradientUnits="userSpaceOnUse" x1="119.3" x2="314.8" y1="0" y2="0"><stop offset="0.000" stop-color="#eb7300"/><stop offset="0.729" stop-color="#eb7f00"/><stop offset="0.750" stop-color="#ebd300"/><stop offset="0.771" stop-color="#ebde00"/><stop offset="0.812" stop-color="#e9ea00"/><stop offset="1.000" stop-color="#dfe900"/></linearGradient>
<linearGradient id="l426" gradientUnits="userSpaceOnUse" x1="288.9" x2="316.8" y1="0" y2="0"><stop offset="0.000" stop-color="#03d95a"/><stop offset="0.167" stop-color="#11ce0b"/><stop offset="0.333" stop-color="#15cd00"/><stop offset="0.500" stop-color="#21cf00"/><stop offset="0.667" stop-color="#69db00"/><stop offset="0.833" stop-color="#76dd00"/><stop offset="1.000" stop-color="#7cde00"/></linearGradient>
<clipPath id="r1_c"><path d="M374.1,67.1 L377.1,67.2 L380.1,67.2 L383.1,67.3 L386.1,67.3 L389.1,67.4 L392.1,67.4 L395.1,67.5 L398.1,67.6 L401.1,67.7 L404.1,67.8 L407.1,67.8 L410.1,67.9 L413.1,68.1 L416.1,68.2 L419.1,68.3 L422.1,68.5 L425.1,68.6 L428.1,68.8 L431.1,69.0 L434.1,69.2 L437.1,69.4 L440.1,69.6 L443.1,69.9 L446.1,70.1 L449.1,70.4 L452.1,70.7 L455.1,71.1 L458.1,71.5 L461.1,71.9 L464.1,72.3 L467.1,72.8 L470.1,73.3 L473.1,73.8 L476.1,74.4 L479.1,75.0 L482.1,75.7 L485.1,76.4 L488.1,77.1 L491.1,78.0 L494.1,78.8 L497.1,79.7 L500.1,80.7 L503.1,81.7 L506.1,82.8 L509.1,83.9 L512.1,85.1 L515.1,86.3 L518.1,87.6 L521.1,88.9 L524.1,90.3 L527.1,91.7 L530.1,93.1 L533.1,94.6 L536.1,96.1 L539.1,97.7 L542.1,99.2 L545.1,100.8 L548.1,102.4 L551.1,104.0 L554.1,105.6 L557.1,107.2 L560.1,108.7 L563.1,110.3 L566.1,111.9 L569.1,113.4 L572.1,114.9 L575.1,116.4 L578.1,117.8 L581.1,119.2 L584.1,120.6 L587.1,121.9 L590.1,123.2 L593.1,124.5 L596.1,125.7 L599.1,126.9 L602.1,128.1 L605.1,129.2 L608.1,130.3 L611.1,131.3 L614.1,132.3 L617.1,133.3 L620.1,134.2 L623.1,135.1 L626.1,135.9 L629.1,136.7 L632.1,137.5 L635.1,138.2 L638.1,139.0 L641.1,139.6 L644.1,140.3 L647.1,140.9 L650.1,141.5 L653.1,142.1 L656.1,142.6 L659.1,143.1 L662.1,143.6 L665.1,144.1 L668.1,144.5 L671.1,144.9 L674.1,145.3 L677.1,145.7 L680.1,146.0 L683.1,146.4 L683.9,146.5 L683.9,170.3 L683.1,170.2 L680.1,169.9 L677.1,169.6 L674.1,169.2 L671.1,168.8 L668.1,168.4 L665.1,168.0 L662.1,167.5 L659.1,167.0 L656.1,166.6 L653.1,166.0 L650.1,165.5 L647.1,165.0 L644.1,164.4 L641.1,163.9 L638.1,163.4 L635.1,162.9 L632.1,162.5 L629.1,162.0 L626.1,161.6 L623.1,161.0 L620.1,160.4 L617.1,159.7 L614.1,158.7 L611.1,157.6 L608.1,156.3 L605.1,155.0 L602.1,153.5 L599.1,152.0 L596.1,150.5 L593.1,149.0 L590.1,147.5 L587.1,146.1 L584.1,144.6 L581.1,143.2 L578.1,141.8 L575.1,140.4 L572.1,138.9 L569.1,137.4 L566.1,135.9 L563.1,134.4 L560.1,132.9 L557.1,131.4 L554.1,129.9 L551.1,128.3 L548.1,126.8 L545.1,125.3 L542.1,123.8 L539.1,122.3 L536.1,120.9 L533.1,119.4 L530.1,118.0 L527.1,116.6 L524.1,115.3 L521.1,114.0 L518.1,112.7 L515.1,111.5 L512.1,110.3 L509.1,109.1 L506.1,108.0 L503.1,107.0 L500.1,106.0 L497.1,105.0 L494.1,104.1 L491.1,103.3 L488.1,102.5 L485.1,101.7 L482.1,101.0 L479.1,100.3 L476.1,99.6 L473.1,99.0 L470.1,98.4 L467.1,97.9 L464.1,97.4 L461.1,96.9 L458.1,96.5 L455.1,96.1 L452.1,95.7 L449.1,95.3 L446.1,95.0 L443.1,94.7 L440.1,94.4 L437.1,94.1 L434.1,93.9 L431.1,93.6 L428.1,93.4 L425.1,93.2 L422.1,93.0 L419.1,92.9 L416.1,92.7 L413.1,92.6 L410.1,92.4 L407.1,92.3 L404.1,92.2 L401.1,92.1 L398.1,92.0 L395.1,91.9 L392.1,91.8 L389.1,91.7 L386.1,91.6 L383.1,91.5 L380.1,91.5 L377.1,91.4 L374.1,91.4Z"/></clipPath>
<linearGradient id="r10" gradientUnits="userSpaceOnUse" x1="372.1" x2="607.5" y1="0" y2="0"><stop offset="0.000" stop-color="#0054e6"/><stop offset="0.052" stop-color="#0061e7"/><stop offset="0.086" stop-color="#006ce7"/><stop offset="0.121" stop-color="#0079e8"/><stop offset="0.138" stop-color="#0092ea"/><stop offset="0.155" stop-color="#00a5e9"/><stop offset="0.172" stop-color="#00b0e4"/><stop offset="0.207" stop-color="#00c1de"/><stop offset="0.241" stop-color="#00d1d9"/><stop offset="0.276" stop-color="#00d7cc"/><stop offset="0.345" stop-color="#00d7d6"/><stop offset="0.379" stop-color="#00ccda"/><stop offset="0.431" stop-color="#00bedf"/><stop offset="0.466" stop-color="#00b2e4"/><stop offset="0.500" stop-color="#00a6e8"/><stop offset="0.534" stop-color="#0098ea"/><stop offset="0.741" stop-color="#00a3e9"/><stop offset="0.776" stop-color="#00aee5"/><stop offset="0.845" stop-color="#00bae1"/><stop offset="0.879" stop-color="#00cfd9"/><stop offset="0.897" stop-color="#00d7bc"/><stop offset="0.914" stop-color="#00d795"/><stop offset="0.931" stop-color="#02d471"/><stop offset="0.948" stop-color="#05d152"/><stop offset="0.966" stop-color="#09cd39"/><stop offset="1.000" stop-color="#09cd36"/></linearGradient>
<linearGradient id="r11" gradientUnits="userSpaceOnUse" x1="590.2" x2="685.9" y1="0" y2="0"><stop offset="0.000" stop-color="#0048e3"/><stop offset="0.043" stop-color="#0038dd"/><stop offset="0.087" stop-color="#0025d6"/><stop offset="0.174" stop-color="#001ad2"/><stop offset="0.435" stop-color="#0030da"/><stop offset="0.478" stop-color="#003dde"/><stop offset="0.565" stop-color="#0049e3"/><stop offset="0.696" stop-color="#005ee6"/><stop offset="0.739" stop-color="#006ce7"/><stop offset="0.783" stop-color="#007ce8"/><stop offset="0.826" stop-color="#008ce9"/><stop offset="0.870" stop-color="#009dea"/><stop offset="0.913" stop-color="#0092ea"/><stop offset="0.957" stop-color="#0081e9"/><stop offset="1.000" stop-color="#006ee7"/></linearGradient>
<linearGradient id="r12" gradientUnits="userSpaceOnUse" x1="372.1" x2="590.2" y1="0" y2="0"><stop offset="0.000" stop-color="#001bd2"/><stop offset="0.148" stop-color="#0028d7"/><stop offset="0.241" stop-color="#0032db"/><stop offset="0.444" stop-color="#0028d7"/><stop offset="0.704" stop-color="#0033db"/><stop offset="0.741" stop-color="#0045e1"/><stop offset="0.759" stop-color="#0050e6"/><stop offset="0.778" stop-color="#005ce6"/><stop offset="0.796" stop-color="#006ae7"/><stop offset="0.815" stop-color="#0075e8"/><stop offset="0.907" stop-color="#0083e9"/><stop offset="0.944" stop-color="#0093ea"/><stop offset="0.981" stop-color="#009eea"/><stop offset="1.000" stop-color="#00a3e9"/></linearGradient>
<linearGradient id="r13" gradientUnits="userSpaceOnUse" x1="572.6" x2="685.9" y1="0" y2="0"><stop offset="0.000" stop-color="#0056e6"/><stop offset="0.036" stop-color="#0046e2"/><stop offset="0.071" stop-color="#003add"/><stop offset="0.107" stop-color="#002cd8"/><stop offset="0.143" stop-color="#0020d4"/><stop offset="0.179" stop-color="#0015d0"/><stop offset="0.214" stop-color="#000bcc"/><stop offset="0.464" stop-color="#0019d1"/><stop offset="0.679" stop-color="#0024d5"/><stop offset="0.964" stop-color="#0014cf"/><stop offset="1.000" stop-color="#0014cf"/></linearGradient>
<linearGradient id="r14" gradientUnits="userSpaceOnUse" x1="372.1" x2="572.6" y1="0" y2="0"><stop offset="0.000" stop-color="#0013cf"/><stop offset="0.160" stop-color="#001ed3"/><stop offset="0.440" stop-color="#0029d7"/><stop offset="0.620" stop-color="#0033db"/><stop offset="0.700" stop-color="#003edf"/><stop offset="0.780" stop-color="#004ce4"/><stop offset="0.800" stop-color="#005be6"/><stop offset="0.820" stop-color="#006ae7"/><stop offset="0.840" stop-color="#007ae8"/><stop offset="0.860" stop-color="#0089e9"/><stop offset="0.880" stop-color="#009cea"/><stop offset="0.920" stop-color="#00a9e7"/><stop offset="0.980" stop-color="#00b7e2"/><stop offset="1.000" stop-color="#00bbe0"/></linearGradient>
<linearGradient id="r15" gradientUnits="userSpaceOnUse" x1="553.6" x2="685.9" y1="0" y2="0"><stop offset="0.000" stop-color="#00d7c1"/><stop offset="0.030" stop-color="#00d4d7"/><stop offset="0.061" stop-color="#00c1de"/><stop offset="0.091" stop-color="#00ade6"/><stop offset="0.121" stop-color="#0097ea"/><stop offset="0.152" stop-color="#007fe8"/><stop offset="0.182" stop-color="#0070e8"/><stop offset="0.212" stop-color="#0065e7"/><stop offset="0.242" stop-color="#005ae6"/><stop offset="0.273" stop-color="#004ce4"/><stop offset="0.303" stop-color="#0042e0"/><stop offset="0.394" stop-color="#004de5"/><stop offset="0.424" stop-color="#005be6"/><stop offset="0.455" stop-color="#006ae7"/><stop offset="0.485" stop-color="#0078e8"/><stop offset="0.515" stop-color="#0085e9"/><stop offset="0.545" stop-color="#0092ea"/><stop offset="0.667" stop-color="#009dea"/><stop offset="0.727" stop-color="#0092ea"/><stop offset="0.818" stop-color="#0081e9"/><stop offset="0.848" stop-color="#0073e8"/><stop offset="0.909" stop-color="#0061e7"/><stop offset="0.970" stop-color="#0054e6"/><stop offset="1.000" stop-color="#0055e6"/></linearGradient>
<linearGradient id="r16" gradientUnits="userSpaceOnUse" x1="372.1" x2="553.6" y1="0" y2="0"><stop offset="0.000" stop-color="#0000c8"/><stop offset="0.622" stop-color="#000acb"/><stop offset="0.844" stop-color="#0016d0"/><stop offset="0.867" stop-color="#0021d4"/><stop offset="0.889" stop-color="#002fd9"/><stop offset="0.911" stop-color="#003edf"/><stop offset="0.933" stop-color="#004fe5"/><stop offset="0.956" stop-color="#0060e7"/><stop offset="0.978" stop-color="#006de7"/><stop offset="1.000" stop-color="#0071e8"/></linearGradient>
<linearGradient id="r17" gradientUnits="userSpaceOnUse" x1="530.5" x2="685.9" y1="0" y2="0"><stop offset="0.000" stop-color="#01d573"/><stop offset="0.026" stop-color="#00d78e"/><stop offset="0.053" stop-color="#00d7a8"/><stop offset="0.079" stop-color="#00d7c1"/><stop offset="0.105" stop-color="#00d3d8"/><stop offset="0.132" stop-color="#00bce0"/><stop offset="0.158" stop-color="#00a5e9"/><stop offset="0.184" stop-color="#008de9"/><stop offset="0.211" stop-color="#007ae8"/><stop offset="0.237" stop-color="#006be7"/><stop offset="0.263" stop-color="#005fe6"/><stop offset="0.316" stop-color="#004de5"/><stop offset="0.342" stop-color="#003fdf"/><stop offset="0.368" stop-color="#0032db"/><stop offset="0.395" stop-color="#0028d7"/><stop offset="0.447" stop-color="#0018d1"/><stop offset="0.553" stop-color="#0025d6"/><stop offset="0.632" stop-color="#0030da"/><stop offset="0.816" stop-color="#0024d5"/><stop offset="1.000" stop-color="#001ed3"/></linearGradient>
<linearGradient id="r18" gradientUnits="userSpaceOnUse" x1="372.1" x2="530.5" y1="0" y2="0"><stop offset="0.000" stop-color="#0001c8"/><stop offset="0.667" stop-color="#000dcc"/><stop offset="0.846" stop-color="#0017d0"/><stop offset="0.923" stop-color="#0025d6"/><stop offset="0.974" stop-color="#0035dc"/><stop offset="1.000" stop-color="#004be4"/></linearGradient>
<linearGradient id="r19" gradientUnits="userSpaceOnUse" x1="502.7" x2="685.9" y1="0" y2="0"><stop offset="0.000" stop-color="#2cd00f"/><stop offset="0.089" stop-color="#20cf1b"/><stop offset="0.133" stop-color="#11cd2a"/><stop offset="0.156" stop-color="#08ce40"/><stop offset="0.178" stop-color="#04d25b"/><stop offset="0.200" stop-color="#01d579"/><stop offset="0.222" stop-color="#00d79a"/><stop offset="0.244" stop-color="#00d7ba"/><stop offset="0.267" stop-color="#00d7d5"/><stop offset="0.289" stop-color="#00c9dc"/><stop offset="0.311" stop-color="#00bedf"/><stop offset="0.356" stop-color="#00afe5"/><stop offset="0.422" stop-color="#00a2ea"/><stop offset="0.533" stop-color="#00ace6"/><stop offset="0.556" stop-color="#00b6e2"/><stop offset="0.578" stop-color="#00c2de"/><stop offset="0.600" stop-color="#00ced9"/><stop offset="0.622" stop-color="#00d7cf"/><stop offset="0.644" stop-color="#00d7b9"/><stop offset="0.667" stop-color="#00d7a2"/><stop offset="0.711" stop-color="#00d7af"/><stop offset="0.733" stop-color="#00d7bf"/><stop offset="0.756" stop-color="#00d7d3"/><stop offset="0.778" stop-color="#00cadb"/><stop offset="0.800" stop-color="#00b8e2"/><stop offset="0.844" stop-color="#00a8e7"/><stop offset="0.978" stop-color="#009dea"/><stop offset="1.000" stop-color="#0097ea"/></linearGradient>
<linearGradient id="r110" gradientUnits="userSpaceOnUse" x1="673.3" x2="685.9" y1="0" y2="0"><stop offset="0.000" stop-color="#0063e7"/><stop offset="0.333" stop-color="#006ee7"/><stop offset="0.667" stop-color="#0078e8"/><stop offset="1.000" stop-color="#007fe8"/></linearGradient>
<linearGradient id="r111" gradientUnits="userSpaceOnUse" x1="372.1" x2="502.7" y1="0" y2="0"><stop offset="0.000" stop-color="#0000c8"/><stop offset="1.000" stop-color="#0006ca"/></linearGradient>
<linearGradient id="r112" gradientUnits="userSpaceOnUse" x1="471.4" x2="673.3" y1="0" y2="0"><stop offset="0.000" stop-color="#1bce20"/><stop offset="0.160" stop-color="#0ecd2d"/><stop offset="0.180" stop-color="#08ce3a"/><stop offset="0.200" stop-color="#06d04a"/><stop offset="0.220" stop-color="#04d25a"/><stop offset="0.240" stop-color="#02d46c"/><stop offset="0.260" stop-color="#00d67c"/><stop offset="0.280" stop-color="#00d799"/><stop offset="0.300" stop-color="#00d7bc"/><stop offset="0.320" stop-color="#00d3d8"/><stop offset="0.340" stop-color="#00c2de"/><stop offset="0.360" stop-color="#00b3e3"/><stop offset="0.380" stop-color="#00a6e8"/><stop offset="0.400" stop-color="#009bea"/><stop offset="0.440" stop-color="#008be9"/><stop offset="0.500" stop-color="#007fe8"/><stop offset="0.560" stop-color="#006ce7"/><stop offset="0.600" stop-color="#005be6"/><stop offset="0.640" stop-color="#0050e6"/><stop offset="0.680" stop-color="#005fe6"/><stop offset="0.720" stop-color="#0070e8"/><stop offset="0.760" stop-color="#0086e9"/><stop offset="0.800" stop-color="#0075e8"/><stop offset="0.840" stop-color="#0063e7"/><stop offset="0.880" stop-color="#0055e6"/><stop offset="1.000" stop-color="#0047e2"/></linearGradient>
<linearGradient id="r113" gradientUnits="userSpaceOnUse" x1="657.3" x2="685.9" y1="0" y2="0"><stop offset="0.000" stop-color="#0014cf"/><stop offset="0.429" stop-color="#0021d4"/><stop offset="0.714" stop-color="#002dd8"/><stop offset="1.000" stop-color="#0039dd"/></linearGradient>
<linearGradient id="r114" gradientUnits="userSpaceOnUse" x1="439.5" x2="657.3" y1="0" y2="0"><stop offset="0.000" stop-color="#09cd38"/><stop offset="0.019" stop-color="#12cd29"/><stop offset="0.037" stop-color="#1ecf1d"/><stop offset="0.222" stop-color="#13cd28"/><stop offset="0.296" stop-color="#08ce3f"/><stop offset="0.315" stop-color="#05d152"/><stop offset="0.333" stop-color="#03d363"/><stop offset="0.352" stop-color="#01d574"/><stop offset="0.370" stop-color="#00d784"/><stop offset="0.389" stop-color="#00d796"/><stop offset="0.407" stop-color="#00d7af"/><stop offset="0.426" stop-color="#00d7c8"/><stop offset="0.444" stop-color="#00d1d9"/><stop offset="0.463" stop-color="#00c4dd"/><stop offset="0.481" stop-color="#00b9e1"/><stop offset="0.519" stop-color="#00aee5"/><stop offset="0.741" stop-color="#00bbe1"/><stop offset="0.759" stop-color="#00cadb"/><stop offset="0.778" stop-color="#00d6d7"/><stop offset="0.796" stop-color="#00d7c8"/><stop offset="0.815" stop-color="#00d7bd"/><stop offset="0.852" stop-color="#00d7ac"/><stop offset="0.870" stop-color="#00d7b8"/><stop offset="0.889" stop-color="#00d7c4"/><stop offset="0.907" stop-color="#00d7d0"/><stop offset="0.944" stop-color="#00c8dc"/><stop offset="0.963" stop-color="#00b8e2"/><stop offset="1.000" stop-color="#00a9e7"/></linearGradient>
<linearGradient id="r115" gradientUnits="userSpaceOnUse" x1="641.0" x2="685.9" y1="0" y2="0"><stop offset="0.000" stop-color="#0016d0"/><stop offset="0.273" stop-color="#0023d5"/><stop offset="0.455" stop-color="#0033db"/><stop offset="0.636" stop-color="#0049e3"/><stop offset="0.727" stop-color="#0055e6"/><stop offset="1.000" stop-color="#0045e1"/></linearGradient>
<linearGradient id="r116" gradientUnits="userSpaceOnUse" x1="407.1" x2="641.0" y1="0" y2="0"><stop offset="0.000" stop-color="#0068e7"/><stop offset="0.017" stop-color="#007de8"/><stop offset="0.034" stop-color="#009cea"/><stop offset="0.052" stop-color="#00b6e2"/><stop offset="0.069" stop-color="#00d1d9"/><stop offset="0.086" stop-color="#00d7bb"/><stop offset="0.103" stop-color="#00d79d"/><stop offset="0.121" stop-color="#00d789"/><stop offset="0.138" stop-color="#01d578"/><stop offset="0.155" stop-color="#03d366"/><stop offset="0.172" stop-color="#05d153"/><stop offset="0.259" stop-color="#04d261"/><stop offset="0.293" stop-color="#01d573"/><stop offset="0.310" stop-color="#00d788"/><stop offset="0.328" stop-color="#00d79d"/><stop offset="0.345" stop-color="#00d7b2"/><stop offset="0.362" stop-color="#00d7c5"/><stop offset="0.379" stop-color="#00d6d7"/><stop offset="0.397" stop-color="#00cbdb"/><stop offset="0.414" stop-color="#00bce0"/><stop offset="0.431" stop-color="#00afe5"/><stop offset="0.448" stop-color="#00a3e9"/><stop offset="0.466" stop-color="#0095ea"/><stop offset="0.483" stop-color="#008ae9"/><stop offset="0.621" stop-color="#007fe8"/><stop offset="0.759" stop-color="#006ce7"/><stop offset="0.793" stop-color="#005fe6"/><stop offset="0.845" stop-color="#0072e8"/><stop offset="0.862" stop-color="#007fe8"/><stop offset="0.879" stop-color="#0089e9"/><stop offset="0.897" stop-color="#0093ea"/><stop offset="0.914" stop-color="#009eea"/><stop offset="0.966" stop-color="#0080e9"/><stop offset="0.983" stop-color="#006ae7"/><stop offset="1.000" stop-color="#0056e6"/></linearGradient>
<linearGradient id="r117" gradientUnits="userSpaceOnUse" x1="624.4" x2="685.9" y1="0" y2="0"><stop offset="0.000" stop-color="#0000c8"/><stop offset="0.533" stop-color="#000bcc"/><stop offset="1.000" stop-color="#000ecd"/></linearGradient>
<linearGradient id="r118" gradientUnits="userSpaceOnUse" x1="374.1" x2="624.4" y1="0" y2="0"><stop offset="0.000" stop-color="#0054e6"/><stop offset="0.032" stop-color="#0064e7"/><stop offset="0.065" stop-color="#0074e8"/><stop offset="0.097" stop-color="#0085e9"/><stop offset="0.113" stop-color="#009eea"/><stop offset="0.129" stop-color="#00b7e2"/><stop offset="0.145" stop-color="#00cdda"/><stop offset="0.161" stop-color="#00d7c7"/><stop offset="0.177" stop-color="#00d7b0"/><stop offset="0.194" stop-color="#00d79f"/><stop offset="0.210" stop-color="#00d791"/><stop offset="0.226" stop-color="#00d784"/><stop offset="0.242" stop-color="#01d577"/><stop offset="0.258" stop-color="#02d46a"/><stop offset="0.274" stop-color="#04d260"/><stop offset="0.355" stop-color="#01d573"/><stop offset="0.387" stop-color="#00d785"/><stop offset="0.419" stop-color="#00d79a"/><stop offset="0.435" stop-color="#00d7a6"/><stop offset="0.452" stop-color="#00d7b0"/><stop offset="0.484" stop-color="#00d7c0"/><stop offset="0.516" stop-color="#00d7d5"/><stop offset="0.548" stop-color="#00ccda"/><stop offset="0.597" stop-color="#00bfdf"/><stop offset="0.629" stop-color="#00b2e4"/><stop offset="0.823" stop-color="#00c0df"/><stop offset="0.839" stop-color="#00d3d8"/><stop offset="0.855" stop-color="#00d7b8"/><stop offset="0.871" stop-color="#00d796"/><stop offset="0.887" stop-color="#01d576"/><stop offset="0.903" stop-color="#04d25a"/><stop offset="0.952" stop-color="#06d04e"/><stop offset="1.000" stop-color="#06d04f"/></linearGradient>
<linearGradient id="r119" gradientUnits="userSpaceOnUse" x1="607.5" x2="685.9" y1="0" y2="0"><stop offset="0.000" stop-color="#0017d0"/><stop offset="0.526" stop-color="#0026d6"/><stop offset="0.579" stop-color="#0030da"/><stop offset="0.789" stop-color="#0042e1"/><stop offset="0.842" stop-color="#0051e6"/><stop offset="0.895" stop-color="#0060e7"/><stop offset="0.947" stop-color="#0071e8"/><stop offset="1.000" stop-color="#0082e9"/></linearGradient>
<clipPath id="r2_c"><path d="M376.6,151.9 L379.6,152.0 L382.6,152.1 L385.6,152.2 L388.6,152.3 L391.6,152.4 L394.6,152.6 L397.6,152.7 L400.6,152.8 L403.6,153.0 L406.6,153.2 L409.6,153.3 L412.6,153.5 L415.6,153.8 L418.6,154.0 L421.6,154.2 L424.6,154.5 L427.6,154.7 L430.6,155.0 L433.6,155.3 L436.6,155.7 L439.6,156.0 L442.6,156.4 L445.6,156.8 L448.6,157.2 L451.6,157.7 L454.6,158.1 L457.6,158.6 L460.6,159.2 L463.6,159.7 L466.6,160.3 L469.6,161.0 L472.6,161.6 L475.6,162.4 L478.6,163.1 L481.6,163.9 L484.6,164.7 L487.6,165.6 L490.6,166.5 L493.6,167.5 L496.6,168.5 L499.6,169.5 L502.6,170.6 L505.6,171.8 L508.6,173.0 L511.6,174.2 L514.6,175.5 L517.6,176.9 L520.6,178.3 L523.6,179.7 L526.6,181.2 L529.6,182.7 L532.6,184.3 L535.6,185.9 L538.6,187.5 L541.6,189.2 L544.6,190.9 L547.6,192.7 L550.6,194.4 L553.6,196.2 L556.6,198.0 L559.6,199.7 L562.6,201.5 L565.6,203.3 L568.6,205.0 L571.6,206.7 L574.6,208.4 L577.6,210.1 L580.6,211.7 L583.6,213.2 L586.6,214.7 L589.6,216.2 L592.6,217.6 L595.6,219.0 L598.6,220.3 L601.6,221.5 L604.6,222.6 L607.6,223.7 L610.6,224.8 L613.6,225.8 L616.6,226.7 L619.6,227.5 L622.6,228.3 L625.6,229.1 L628.6,229.8 L631.6,230.5 L634.6,231.1 L637.6,231.6 L640.6,232.1 L643.6,232.6 L646.6,233.1 L649.6,233.5 L652.6,233.9 L655.6,234.2 L658.6,234.5 L661.6,234.8 L664.6,235.1 L667.6,235.4 L670.6,235.6 L673.6,235.8 L676.6,236.0 L679.6,236.2 L681.2,236.3 L681.2,260.2 L679.6,260.1 L676.6,259.8 L673.6,259.6 L670.6,259.3 L667.6,259.0 L664.6,258.7 L661.6,258.4 L658.6,258.1 L655.6,257.7 L652.6,257.3 L649.6,256.9 L646.6,256.4 L643.6,255.9 L640.6,255.4 L637.6,254.9 L634.6,254.3 L631.6,253.7 L628.6,253.0 L625.6,252.3 L622.6,251.6 L619.6,250.8 L616.6,250.0 L613.6,249.1 L610.6,248.2 L607.6,247.2 L604.6,246.2 L601.6,245.2 L598.6,244.0 L595.6,242.9 L592.6,241.7 L589.6,240.5 L586.6,239.2 L583.6,237.8 L580.6,236.5 L577.6,235.0 L574.6,233.6 L571.6,232.1 L568.6,230.6 L565.6,229.0 L562.6,227.5 L559.6,225.9 L556.6,224.3 L553.6,222.7 L550.6,221.1 L547.6,219.4 L544.6,217.8 L541.6,216.2 L538.6,214.6 L535.6,213.0 L532.6,211.5 L529.6,210.0 L526.6,208.4 L523.6,207.0 L520.6,205.5 L517.6,204.1 L514.6,202.7 L511.6,201.4 L508.6,200.1 L505.6,198.9 L502.6,197.7 L499.6,196.5 L496.6,195.4 L493.6,194.3 L490.6,193.3 L487.6,192.3 L484.6,191.4 L481.6,190.5 L478.6,189.7 L475.6,188.9 L472.6,188.1 L469.6,187.4 L466.6,186.7 L463.6,186.1 L460.6,185.5 L457.6,184.9 L454.6,184.4 L451.6,183.8 L448.6,183.4 L445.6,182.9 L442.6,182.5 L439.6,182.1 L436.6,181.7 L433.6,181.4 L430.6,181.0 L427.6,180.7 L424.6,180.4 L421.6,180.2 L418.6,179.9 L415.6,179.7 L412.6,179.5 L409.6,179.2 L406.6,179.1 L403.6,178.9 L400.6,178.7 L397.6,178.5 L394.6,178.4 L391.6,178.3 L388.6,178.1 L385.6,178.0 L382.6,177.9 L379.6,177.8 L376.6,177.7Z"/></clipPath>
<linearGradient id="r20" gradientUnits="userSpaceOnUse" x1="374.6" x2="608.7" y1="0" y2="0"><stop offset="0.000" stop-color="#0057e6"/><stop offset="0.017" stop-color="#0063e7"/><stop offset="0.034" stop-color="#006fe7"/><stop offset="0.052" stop-color="#007ae8"/><stop offset="0.086" stop-color="#008ce9"/><stop offset="0.121" stop-color="#00a5e9"/><stop offset="0.138" stop-color="#00b4e3"/><stop offset="0.155" stop-color="#00c2de"/><stop offset="0.172" stop-color="#00ccda"/><stop offset="0.207" stop-color="#00d7d0"/><stop offset="0.241" stop-color="#00d7c4"/><stop offset="0.483" stop-color="#00d7d0"/><stop offset="0.586" stop-color="#00c9db"/><stop offset="0.638" stop-color="#00bce0"/><stop offset="0.690" stop-color="#00b0e5"/><stop offset="0.810" stop-color="#00c1de"/><stop offset="0.828" stop-color="#00ccda"/><stop offset="0.845" stop-color="#00d7d2"/><stop offset="0.862" stop-color="#00d7b7"/><stop offset="0.879" stop-color="#00d799"/><stop offset="0.897" stop-color="#00d67c"/><stop offset="0.914" stop-color="#04d260"/><stop offset="0.931" stop-color="#08ce3f"/><stop offset="0.948" stop-color="#14ce27"/><stop offset="0.966" stop-color="#21cf1a"/><stop offset="1.000" stop-color="#2cd00f"/></linearGradient>
<linearGradient id="r21" gradientUnits="userSpaceOnUse" x1="591.5" x2="683.2" y1="0" y2="0"><stop offset="0.000" stop-color="#0034db"/><stop offset="0.045" stop-color="#0028d7"/><stop offset="0.091" stop-color="#001bd2"/><stop offset="0.409" stop-color="#0028d7"/><stop offset="0.455" stop-color="#0034db"/><stop offset="0.545" stop-color="#0042e1"/><stop offset="0.682" stop-color="#0051e6"/><stop offset="0.727" stop-color="#005ee6"/><stop offset="0.773" stop-color="#006de7"/><stop offset="0.818" stop-color="#007ce8"/><stop offset="0.864" stop-color="#008de9"/><stop offset="0.909" stop-color="#009dea"/><stop offset="0.955" stop-color="#0090ea"/><stop offset="1.000" stop-color="#007ee8"/></linearGradient>
<linearGradient id="r22" gradientUnits="userSpaceOnUse" x1="374.6" x2="591.5" y1="0" y2="0"><stop offset="0.000" stop-color="#001cd2"/><stop offset="0.074" stop-color="#0028d7"/><stop offset="0.148" stop-color="#0032da"/><stop offset="0.259" stop-color="#003cde"/><stop offset="0.315" stop-color="#0046e2"/><stop offset="0.648" stop-color="#003cde"/><stop offset="0.759" stop-color="#004ce4"/><stop offset="0.796" stop-color="#005ae6"/><stop offset="0.833" stop-color="#006ee7"/><stop offset="0.852" stop-color="#007de8"/><stop offset="0.870" stop-color="#008be9"/><stop offset="0.889" stop-color="#009aea"/><stop offset="0.907" stop-color="#00a8e7"/><stop offset="0.926" stop-color="#00b7e2"/><stop offset="0.944" stop-color="#00ceda"/><stop offset="0.963" stop-color="#00d7c5"/><stop offset="0.981" stop-color="#00d7a6"/><stop offset="1.000" stop-color="#00d788"/></linearGradient>
<linearGradient id="r23" gradientUnits="userSpaceOnUse" x1="574.0" x2="683.2" y1="0" y2="0"><stop offset="0.000" stop-color="#0042e1"/><stop offset="0.037" stop-color="#0036dc"/><stop offset="0.111" stop-color="#0026d6"/><stop offset="0.185" stop-color="#0014cf"/><stop offset="0.259" stop-color="#0006ca"/><stop offset="0.444" stop-color="#0010ce"/><stop offset="0.593" stop-color="#001cd2"/><stop offset="0.741" stop-color="#0028d7"/><stop offset="0.963" stop-color="#001bd2"/><stop offset="1.000" stop-color="#0013cf"/></linearGradient>
<linearGradient id="r24" gradientUnits="userSpaceOnUse" x1="374.6" x2="574.0" y1="0" y2="0"><stop offset="0.000" stop-color="#0014cf"/><stop offset="0.143" stop-color="#001fd3"/><stop offset="0.184" stop-color="#0029d7"/><stop offset="0.286" stop-color="#0037dc"/><stop offset="0.367" stop-color="#0043e1"/><stop offset="0.449" stop-color="#004ee5"/><stop offset="0.571" stop-color="#0043e1"/><stop offset="0.673" stop-color="#004ee5"/><stop offset="0.755" stop-color="#0059e6"/><stop offset="0.796" stop-color="#0067e7"/><stop offset="0.816" stop-color="#0072e8"/><stop offset="0.837" stop-color="#0081e9"/><stop offset="0.857" stop-color="#0092ea"/><stop offset="0.878" stop-color="#00a5e9"/><stop offset="0.898" stop-color="#00b2e4"/><stop offset="0.918" stop-color="#00c1de"/><stop offset="0.939" stop-color="#00cfd9"/><stop offset="0.980" stop-color="#00d7c5"/><stop offset="1.000" stop-color="#00d7b7"/></linearGradient>
<linearGradient id="r25" gradientUnits="userSpaceOnUse" x1="555.1" x2="683.2" y1="0" y2="0"><stop offset="0.000" stop-color="#00d7cd"/><stop offset="0.031" stop-color="#00c9db"/><stop offset="0.062" stop-color="#00b4e3"/><stop offset="0.094" stop-color="#009dea"/><stop offset="0.125" stop-color="#007ee8"/><stop offset="0.156" stop-color="#0062e7"/><stop offset="0.219" stop-color="#004de5"/><stop offset="0.250" stop-color="#0042e0"/><stop offset="0.281" stop-color="#0035dc"/><stop offset="0.344" stop-color="#0025d5"/><stop offset="0.406" stop-color="#0036dc"/><stop offset="0.437" stop-color="#0042e1"/><stop offset="0.469" stop-color="#004fe5"/><stop offset="0.500" stop-color="#0060e7"/><stop offset="0.531" stop-color="#0075e8"/><stop offset="0.562" stop-color="#0084e9"/><stop offset="0.625" stop-color="#0093ea"/><stop offset="0.813" stop-color="#0088e9"/><stop offset="0.844" stop-color="#007de8"/><stop offset="0.875" stop-color="#006fe7"/><stop offset="1.000" stop-color="#0070e8"/></linearGradient>
<linearGradient id="r26" gradientUnits="userSpaceOnUse" x1="374.6" x2="555.1" y1="0" y2="0"><stop offset="0.000" stop-color="#0000c8"/><stop offset="0.356" stop-color="#000acb"/><stop offset="0.733" stop-color="#0014cf"/><stop offset="0.867" stop-color="#0027d6"/><stop offset="0.889" stop-color="#0034db"/><stop offset="0.911" stop-color="#0043e1"/><stop offset="0.933" stop-color="#0053e6"/><stop offset="0.956" stop-color="#0064e7"/><stop offset="0.978" stop-color="#0076e8"/><stop offset="1.000" stop-color="#0084e9"/></linearGradient>
<linearGradient id="r27" gradientUnits="userSpaceOnUse" x1="532.4" x2="683.2" y1="0" y2="0"><stop offset="0.000" stop-color="#00d67a"/><stop offset="0.027" stop-color="#00d79b"/><stop offset="0.054" stop-color="#00d7bb"/><stop offset="0.081" stop-color="#00d5d7"/><stop offset="0.108" stop-color="#00c3de"/><stop offset="0.135" stop-color="#00b0e5"/><stop offset="0.162" stop-color="#009bea"/><stop offset="0.189" stop-color="#0083e9"/><stop offset="0.216" stop-color="#006fe7"/><stop offset="0.243" stop-color="#005ce6"/><stop offset="0.270" stop-color="#004be4"/><stop offset="0.297" stop-color="#0040e0"/><stop offset="0.351" stop-color="#0032db"/><stop offset="0.405" stop-color="#0023d5"/><stop offset="0.459" stop-color="#0017d0"/><stop offset="0.568" stop-color="#0023d5"/><stop offset="0.622" stop-color="#002ed9"/><stop offset="1.000" stop-color="#002cd8"/></linearGradient>
<linearGradient id="r28" gradientUnits="userSpaceOnUse" x1="374.6" x2="532.4" y1="0" y2="0"><stop offset="0.000" stop-color="#0001c8"/><stop offset="0.564" stop-color="#000ccc"/><stop offset="0.718" stop-color="#0017d0"/><stop offset="0.821" stop-color="#0022d4"/><stop offset="0.897" stop-color="#002dd9"/><stop offset="0.949" stop-color="#0038dd"/><stop offset="0.974" stop-color="#004fe5"/><stop offset="1.000" stop-color="#0069e7"/></linearGradient>
<linearGradient id="r29" gradientUnits="userSpaceOnUse" x1="505.0" x2="683.2" y1="0" y2="0"><stop offset="0.000" stop-color="#35d106"/><stop offset="0.068" stop-color="#2ad011"/><stop offset="0.136" stop-color="#14ce27"/><stop offset="0.159" stop-color="#09cd39"/><stop offset="0.182" stop-color="#06d051"/><stop offset="0.205" stop-color="#03d369"/><stop offset="0.227" stop-color="#00d782"/><stop offset="0.250" stop-color="#00d79c"/><stop offset="0.273" stop-color="#00d7bb"/><stop offset="0.295" stop-color="#00d6d7"/><stop offset="0.318" stop-color="#00c2de"/><stop offset="0.341" stop-color="#00b1e4"/><stop offset="0.364" stop-color="#00a2e9"/><stop offset="0.386" stop-color="#0092ea"/><stop offset="0.409" stop-color="#0087e9"/><stop offset="0.455" stop-color="#007ae8"/><stop offset="0.523" stop-color="#0087e9"/><stop offset="0.545" stop-color="#009bea"/><stop offset="0.568" stop-color="#00b1e4"/><stop offset="0.591" stop-color="#00c8dc"/><stop offset="0.614" stop-color="#00d7cf"/><stop offset="0.636" stop-color="#00d7b0"/><stop offset="0.659" stop-color="#00d78f"/><stop offset="0.682" stop-color="#00d67d"/><stop offset="0.727" stop-color="#00d78d"/><stop offset="0.750" stop-color="#00d79d"/><stop offset="0.773" stop-color="#00d7b1"/><stop offset="0.795" stop-color="#00d7c9"/><stop offset="0.818" stop-color="#00d1d9"/><stop offset="1.000" stop-color="#00ceda"/></linearGradient>
<linearGradient id="r210" gradientUnits="userSpaceOnUse" x1="674.5" x2="683.2" y1="0" y2="0"><stop offset="0.000" stop-color="#0066e7"/><stop offset="0.500" stop-color="#0071e8"/><stop offset="1.000" stop-color="#007ce8"/></linearGradient>
<linearGradient id="r211" gradientUnits="userSpaceOnUse" x1="374.6" x2="505.0" y1="0" y2="0"><stop offset="0.000" stop-color="#0000c8"/><stop offset="0.969" stop-color="#000bcc"/><stop offset="1.000" stop-color="#000ecd"/></linearGradient>
<linearGradient id="r212" gradientUnits="userSpaceOnUse" x1="473.7" x2="674.5" y1="0" y2="0"><stop offset="0.000" stop-color="#2bd010"/><stop offset="0.160" stop-color="#19ce22"/><stop offset="0.180" stop-color="#0dcd2e"/><stop offset="0.200" stop-color="#08ce3e"/><stop offset="0.220" stop-color="#06d051"/><stop offset="0.240" stop-color="#03d364"/><stop offset="0.260" stop-color="#00d67a"/><stop offset="0.280" stop-color="#00d79c"/><stop offset="0.300" stop-color="#00d7b9"/><stop offset="0.320" stop-color="#00d7d4"/><stop offset="0.340" stop-color="#00c9dc"/><stop offset="0.360" stop-color="#00bce0"/><stop offset="0.380" stop-color="#00b1e4"/><stop offset="0.400" stop-color="#00a5e9"/><stop offset="0.420" stop-color="#0097ea"/><stop offset="0.440" stop-color="#0088e9"/><stop offset="0.460" stop-color="#007de8"/><stop offset="0.500" stop-color="#0070e8"/><stop offset="0.620" stop-color="#0066e7"/><stop offset="0.680" stop-color="#0071e8"/><stop offset="0.700" stop-color="#0081e9"/><stop offset="0.720" stop-color="#0098ea"/><stop offset="0.740" stop-color="#00abe6"/><stop offset="0.820" stop-color="#0094ea"/><stop offset="0.840" stop-color="#0084e9"/><stop offset="0.860" stop-color="#0076e8"/><stop offset="0.880" stop-color="#006be7"/><stop offset="1.000" stop-color="#0063e7"/></linearGradient>
<linearGradient id="r213" gradientUnits="userSpaceOnUse" x1="658.5" x2="683.2" y1="0" y2="0"><stop offset="0.000" stop-color="#0015d0"/><stop offset="0.500" stop-color="#0022d5"/><stop offset="1.000" stop-color="#0030da"/></linearGradient>
<linearGradient id="r214" gradientUnits="userSpaceOnUse" x1="441.9" x2="658.5" y1="0" y2="0"><stop offset="0.000" stop-color="#10cd2b"/><stop offset="0.019" stop-color="#1bce20"/><stop offset="0.037" stop-color="#26cf15"/><stop offset="0.222" stop-color="#19ce22"/><stop offset="0.278" stop-color="#09cd33"/><stop offset="0.296" stop-color="#08ce40"/><stop offset="0.315" stop-color="#06d050"/><stop offset="0.333" stop-color="#04d260"/><stop offset="0.352" stop-color="#02d46f"/><stop offset="0.370" stop-color="#00d67d"/><stop offset="0.389" stop-color="#00d78c"/><stop offset="0.407" stop-color="#00d7a1"/><stop offset="0.426" stop-color="#00d7b6"/><stop offset="0.444" stop-color="#00d7ca"/><stop offset="0.463" stop-color="#00d3d8"/><stop offset="0.500" stop-color="#00c3de"/><stop offset="0.519" stop-color="#00b8e1"/><stop offset="0.556" stop-color="#00ace6"/><stop offset="0.704" stop-color="#00bbe1"/><stop offset="0.722" stop-color="#00c8dc"/><stop offset="0.741" stop-color="#00d7d2"/><stop offset="0.759" stop-color="#00d7b5"/><stop offset="0.778" stop-color="#00d79c"/><stop offset="0.796" stop-color="#00d78a"/><stop offset="0.815" stop-color="#00d67a"/><stop offset="0.833" stop-color="#02d46d"/><stop offset="0.907" stop-color="#00d786"/><stop offset="0.926" stop-color="#00d79a"/><stop offset="0.944" stop-color="#00d7b5"/><stop offset="0.963" stop-color="#00d5d7"/><stop offset="1.000" stop-color="#00cadb"/></linearGradient>
<linearGradient id="r215" gradientUnits="userSpaceOnUse" x1="642.2" x2="683.2" y1="0" y2="0"><stop offset="0.000" stop-color="#0017d0"/><stop offset="0.300" stop-color="#0026d6"/><stop offset="0.500" stop-color="#0036dc"/><stop offset="0.700" stop-color="#0046e2"/><stop offset="1.000" stop-color="#0046e2"/></linearGradient>
<linearGradient id="r216" gradientUnits="userSpaceOnUse" x1="409.5" x2="642.2" y1="0" y2="0"><stop offset="0.000" stop-color="#008de9"/><stop offset="0.017" stop-color="#00a8e7"/><stop offset="0.034" stop-color="#00bfdf"/><stop offset="0.052" stop-color="#00d7d6"/><stop offset="0.069" stop-color="#00d7b2"/><stop offset="0.086" stop-color="#00d797"/><stop offset="0.103" stop-color="#00d67d"/><stop offset="0.121" stop-color="#02d46e"/><stop offset="0.138" stop-color="#03d363"/><stop offset="0.155" stop-color="#05d158"/><stop offset="0.172" stop-color="#06d04d"/><stop offset="0.224" stop-color="#04d25b"/><stop offset="0.293" stop-color="#02d46f"/><stop offset="0.310" stop-color="#00d681"/><stop offset="0.328" stop-color="#00d794"/><stop offset="0.345" stop-color="#00d7a6"/><stop offset="0.362" stop-color="#00d7b7"/><stop offset="0.379" stop-color="#00d7c8"/><stop offset="0.397" stop-color="#00d4d8"/><stop offset="0.414" stop-color="#00c6dc"/><stop offset="0.431" stop-color="#00bae1"/><stop offset="0.448" stop-color="#00afe5"/><stop offset="0.466" stop-color="#00a5e8"/><stop offset="0.500" stop-color="#0097ea"/><stop offset="0.517" stop-color="#008ae9"/><stop offset="0.655" stop-color="#007fe8"/><stop offset="0.759" stop-color="#008de9"/><stop offset="0.776" stop-color="#009cea"/><stop offset="0.810" stop-color="#00b4e3"/><stop offset="0.828" stop-color="#00c4dd"/><stop offset="0.845" stop-color="#00d0d9"/><stop offset="0.862" stop-color="#00d7cf"/><stop offset="0.879" stop-color="#00d7ae"/><stop offset="0.897" stop-color="#00d78a"/><stop offset="0.914" stop-color="#03d365"/><stop offset="0.931" stop-color="#06d04f"/><stop offset="0.948" stop-color="#02d46c"/><stop offset="0.966" stop-color="#00d7a7"/><stop offset="0.983" stop-color="#00ceda"/><stop offset="1.000" stop-color="#00a8e7"/></linearGradient>
<linearGradient id="r217" gradientUnits="userSpaceOnUse" x1="625.6" x2="683.2" y1="0" y2="0"><stop offset="0.000" stop-color="#0000c8"/><stop offset="0.500" stop-color="#000acb"/><stop offset="1.000" stop-color="#0009cb"/></linearGradient>
<linearGradient id="r218" gradientUnits="userSpaceOnUse" x1="376.6" x2="625.6" y1="0" y2="0"><stop offset="0.000" stop-color="#005ee6"/><stop offset="0.016" stop-color="#006ee7"/><stop offset="0.032" stop-color="#007ee8"/><stop offset="0.048" stop-color="#008ee9"/><stop offset="0.065" stop-color="#009eea"/><stop offset="0.081" stop-color="#00aae7"/><stop offset="0.097" stop-color="#00b7e2"/><stop offset="0.113" stop-color="#00cdda"/><stop offset="0.129" stop-color="#00d7c7"/><stop offset="0.145" stop-color="#00d7b0"/><stop offset="0.161" stop-color="#00d79d"/><stop offset="0.177" stop-color="#00d78d"/><stop offset="0.194" stop-color="#00d680"/><stop offset="0.226" stop-color="#02d471"/><stop offset="0.258" stop-color="#03d364"/><stop offset="0.355" stop-color="#02d46e"/><stop offset="0.403" stop-color="#00d67d"/><stop offset="0.435" stop-color="#00d791"/><stop offset="0.468" stop-color="#00d79e"/><stop offset="0.516" stop-color="#00d7ab"/><stop offset="0.548" stop-color="#00d7b6"/><stop offset="0.581" stop-color="#00d7c3"/><stop offset="0.613" stop-color="#00d7d3"/><stop offset="0.645" stop-color="#00c9db"/><stop offset="0.677" stop-color="#00bde0"/><stop offset="0.790" stop-color="#00c9db"/><stop offset="0.806" stop-color="#00d5d7"/><stop offset="0.823" stop-color="#00d7c2"/><stop offset="0.839" stop-color="#00d7a9"/><stop offset="0.855" stop-color="#00d78d"/><stop offset="0.871" stop-color="#03d369"/><stop offset="0.887" stop-color="#07cf48"/><stop offset="0.903" stop-color="#0ccd2f"/><stop offset="0.919" stop-color="#17ce24"/><stop offset="0.935" stop-color="#23cf18"/><stop offset="0.968" stop-color="#2dd00e"/><stop offset="1.000" stop-color="#30d00b"/></linearGradient>
<linearGradient id="r219" gradientUnits="userSpaceOnUse" x1="608.7" x2="683.2" y1="0" y2="0"><stop offset="0.000" stop-color="#0016d0"/><stop offset="0.444" stop-color="#0023d5"/><stop offset="0.556" stop-color="#002ed9"/><stop offset="0.667" stop-color="#0039dd"/><stop offset="0.889" stop-color="#0051e6"/><stop offset="0.944" stop-color="#0061e7"/><stop offset="1.000" stop-color="#0071e8"/></linearGradient>
<clipPath id="r3_c"><path d="M371.4,249.8 L374.4,249.9 L377.4,249.9 L380.4,250.0 L383.4,250.0 L386.4,250.1 L389.4,250.1 L392.4,250.2 L395.4,250.3 L398.4,250.4 L401.4,250.5 L404.4,250.6 L407.4,250.7 L410.4,250.8 L413.4,250.9 L416.4,251.0 L419.4,251.2 L422.4,251.3 L425.4,251.5 L428.4,251.7 L431.4,251.9 L434.4,252.1 L437.4,252.3 L440.4,252.6 L443.4,252.8 L446.4,253.1 L449.4,253.5 L452.4,253.8 L455.4,254.2 L458.4,254.6 L461.4,255.0 L464.4,255.4 L467.4,255.9 L470.4,256.5 L473.4,257.0 L476.4,257.6 L479.4,258.3 L482.4,259.0 L485.4,259.7 L488.4,260.5 L491.4,261.4 L494.4,262.3 L497.4,263.2 L500.4,264.2 L503.4,265.3 L506.4,266.4 L509.4,267.6 L512.4,268.8 L515.4,270.1 L518.4,271.5 L521.4,272.9 L524.4,274.4 L527.4,275.9 L530.4,277.5 L533.4,279.1 L536.4,280.7 L539.4,282.5 L542.4,284.2 L545.4,286.0 L548.4,287.7 L551.4,289.6 L554.4,291.4 L557.4,293.2 L560.4,295.0 L563.4,296.9 L566.4,298.7 L569.4,300.5 L572.4,302.2 L575.4,304.0 L578.4,305.7 L581.4,307.4 L584.4,309.1 L587.4,310.7 L590.4,312.2 L593.4,313.7 L596.4,315.2 L599.4,316.6 L602.4,318.0 L605.4,319.3 L608.4,320.5 L611.4,321.7 L614.4,322.9 L617.4,324.0 L620.4,325.0 L623.4,326.0 L626.4,327.0 L629.4,327.9 L632.4,328.7 L635.4,329.5 L638.4,330.3 L641.4,331.0 L644.4,331.6 L647.4,332.3 L650.4,332.9 L653.4,333.4 L656.4,334.0 L659.4,334.5 L662.4,334.9 L665.4,335.4 L668.4,335.8 L671.4,336.1 L674.4,336.5 L677.4,336.8 L678.7,337.0 L678.7,363.9 L677.4,363.7 L674.4,363.4 L671.4,363.0 L668.4,362.6 L665.4,362.2 L662.4,361.8 L659.4,361.4 L656.4,360.9 L653.4,360.4 L650.4,360.0 L647.4,359.7 L644.4,359.4 L641.4,359.2 L638.4,359.1 L635.4,359.0 L632.4,358.7 L629.4,358.2 L626.4,357.3 L623.4,356.0 L620.4,354.5 L617.4,352.8 L614.4,351.1 L611.4,349.5 L608.4,347.9 L605.4,346.5 L602.4,345.0 L599.4,343.6 L596.4,342.2 L593.4,340.7 L590.4,339.3 L587.4,337.7 L584.4,336.1 L581.4,334.5 L578.4,332.9 L575.4,331.2 L572.4,329.5 L569.4,327.7 L566.4,325.9 L563.4,324.2 L560.4,322.4 L557.4,320.6 L554.4,318.8 L551.4,317.0 L548.4,315.2 L545.4,313.5 L542.4,311.7 L539.4,310.0 L536.4,308.3 L533.4,306.7 L530.4,305.1 L527.4,303.5 L524.4,302.0 L521.4,300.5 L518.4,299.1 L515.4,297.7 L512.4,296.4 L509.4,295.2 L506.4,294.0 L503.4,292.8 L500.4,291.7 L497.4,290.7 L494.4,289.7 L491.4,288.8 L488.4,287.9 L485.4,287.1 L482.4,286.3 L479.4,285.6 L476.4,284.9 L473.4,284.3 L470.4,283.7 L467.4,283.1 L464.4,282.6 L461.4,282.1 L458.4,281.7 L455.4,281.2 L452.4,280.9 L449.4,280.5 L446.4,280.1 L443.4,279.8 L440.4,279.5 L437.4,279.3 L434.4,279.0 L431.4,278.8 L428.4,278.5 L425.4,278.3 L422.4,278.2 L419.4,278.0 L416.4,277.8 L413.4,277.7 L410.4,277.5 L407.4,277.4 L404.4,277.3 L401.4,277.2 L398.4,277.1 L395.4,277.0 L392.4,276.9 L389.4,276.8 L386.4,276.7 L383.4,276.7 L380.4,276.6 L377.4,276.6 L374.4,276.5 L371.4,276.5Z"/></clipPath>
<linearGradient id="r30" gradientUnits="userSpaceOnUse" x1="369.4" x2="606.1" y1="0" y2="0"><stop offset="0.000" stop-color="#0069e7"/><stop offset="0.034" stop-color="#0073e8"/><stop offset="0.051" stop-color="#0083e9"/><stop offset="0.068" stop-color="#0091ea"/><stop offset="0.085" stop-color="#009eea"/><stop offset="0.119" stop-color="#00abe6"/><stop offset="0.153" stop-color="#00bde0"/><stop offset="0.169" stop-color="#00c7dc"/><stop offset="0.203" stop-color="#00d7d2"/><stop offset="0.220" stop-color="#00d7c6"/><stop offset="0.237" stop-color="#00d7bb"/><stop offset="0.254" stop-color="#00d7ad"/><stop offset="0.288" stop-color="#00d79a"/><stop offset="0.322" stop-color="#00d789"/><stop offset="0.356" stop-color="#00d67a"/><stop offset="0.390" stop-color="#02d470"/><stop offset="0.441" stop-color="#03d362"/><stop offset="0.797" stop-color="#06d051"/><stop offset="0.831" stop-color="#08ce3f"/><stop offset="0.847" stop-color="#09cd35"/><stop offset="0.881" stop-color="#12cd29"/><stop offset="0.915" stop-color="#1dce1e"/><stop offset="0.949" stop-color="#28d013"/><stop offset="0.983" stop-color="#35d106"/><stop offset="1.000" stop-color="#40d200"/></linearGradient>
<linearGradient id="r31" gradientUnits="userSpaceOnUse" x1="588.8" x2="680.7" y1="0" y2="0"><stop offset="0.000" stop-color="#0076e8"/><stop offset="0.045" stop-color="#0054e6"/><stop offset="0.091" stop-color="#0031da"/><stop offset="0.136" stop-color="#0019d1"/><stop offset="0.364" stop-color="#0024d5"/><stop offset="0.409" stop-color="#0030da"/><stop offset="0.455" stop-color="#0041e0"/><stop offset="0.500" stop-color="#0050e6"/><stop offset="0.545" stop-color="#005fe6"/><stop offset="0.591" stop-color="#006ce7"/><stop offset="0.636" stop-color="#0077e8"/><stop offset="0.682" stop-color="#0092ea"/><stop offset="0.727" stop-color="#00a8e7"/><stop offset="0.773" stop-color="#00bbe0"/><stop offset="0.818" stop-color="#00d0d9"/><stop offset="0.864" stop-color="#00d7bc"/><stop offset="0.909" stop-color="#00d799"/><stop offset="0.955" stop-color="#00d7a6"/><stop offset="1.000" stop-color="#00d7bd"/></linearGradient>
<linearGradient id="r32" gradientUnits="userSpaceOnUse" x1="369.4" x2="588.8" y1="0" y2="0"><stop offset="0.000" stop-color="#0022d4"/><stop offset="0.093" stop-color="#002dd8"/><stop offset="0.185" stop-color="#003cde"/><stop offset="0.241" stop-color="#0047e2"/><stop offset="0.278" stop-color="#0053e6"/><stop offset="0.333" stop-color="#005ee6"/><stop offset="0.407" stop-color="#0068e7"/><stop offset="0.463" stop-color="#0075e8"/><stop offset="0.667" stop-color="#0080e9"/><stop offset="0.704" stop-color="#008de9"/><stop offset="0.759" stop-color="#0098ea"/><stop offset="0.778" stop-color="#00a3e9"/><stop offset="0.796" stop-color="#00afe5"/><stop offset="0.815" stop-color="#00bfdf"/><stop offset="0.833" stop-color="#00cdda"/><stop offset="0.870" stop-color="#00d7cb"/><stop offset="0.889" stop-color="#00d7ba"/><stop offset="0.907" stop-color="#00d7a6"/><stop offset="0.926" stop-color="#00d78f"/><stop offset="0.944" stop-color="#01d579"/><stop offset="0.963" stop-color="#03d368"/><stop offset="0.981" stop-color="#05d158"/><stop offset="1.000" stop-color="#07cf47"/></linearGradient>
<linearGradient id="r33" gradientUnits="userSpaceOnUse" x1="571.2" x2="680.7" y1="0" y2="0"><stop offset="0.000" stop-color="#0082e9"/><stop offset="0.037" stop-color="#0064e7"/><stop offset="0.074" stop-color="#0055e6"/><stop offset="0.111" stop-color="#0046e2"/><stop offset="0.148" stop-color="#0038dd"/><stop offset="0.185" stop-color="#002bd8"/><stop offset="0.222" stop-color="#001dd2"/><stop offset="0.259" stop-color="#000dcc"/><stop offset="0.407" stop-color="#001ad1"/><stop offset="0.481" stop-color="#0026d6"/><stop offset="0.556" stop-color="#0032db"/><stop offset="0.630" stop-color="#0048e3"/><stop offset="0.667" stop-color="#0054e6"/><stop offset="0.704" stop-color="#0062e7"/><stop offset="0.741" stop-color="#006fe7"/><stop offset="0.778" stop-color="#007be8"/><stop offset="0.926" stop-color="#006ee7"/><stop offset="0.963" stop-color="#0061e7"/><stop offset="1.000" stop-color="#0052e6"/></linearGradient>
<linearGradient id="r34" gradientUnits="userSpaceOnUse" x1="369.4" x2="571.2" y1="0" y2="0"><stop offset="0.000" stop-color="#001cd2"/><stop offset="0.180" stop-color="#002bd8"/><stop offset="0.220" stop-color="#0038dd"/><stop offset="0.360" stop-color="#0047e2"/><stop offset="0.420" stop-color="#005be6"/><stop offset="0.460" stop-color="#006de7"/><stop offset="0.640" stop-color="#0079e8"/><stop offset="0.680" stop-color="#008ce9"/><stop offset="0.720" stop-color="#009cea"/><stop offset="0.780" stop-color="#00a6e8"/><stop offset="0.800" stop-color="#00b7e2"/><stop offset="0.820" stop-color="#00c9dc"/><stop offset="0.840" stop-color="#00d7d0"/><stop offset="0.860" stop-color="#00d7b9"/><stop offset="0.880" stop-color="#00d7a5"/><stop offset="0.900" stop-color="#00d794"/><stop offset="0.920" stop-color="#00d788"/><stop offset="0.940" stop-color="#01d579"/><stop offset="0.960" stop-color="#03d369"/><stop offset="0.980" stop-color="#04d25a"/><stop offset="1.000" stop-color="#06d04b"/></linearGradient>
<linearGradient id="r35" gradientUnits="userSpaceOnUse" x1="551.9" x2="680.7" y1="0" y2="0"><stop offset="0.000" stop-color="#1fcf1c"/><stop offset="0.031" stop-color="#09cd33"/><stop offset="0.062" stop-color="#05d155"/><stop offset="0.094" stop-color="#01d579"/><stop offset="0.125" stop-color="#00d7a0"/><stop offset="0.156" stop-color="#00d7c7"/><stop offset="0.188" stop-color="#00c6dd"/><stop offset="0.219" stop-color="#00b5e3"/><stop offset="0.250" stop-color="#00a3e9"/><stop offset="0.281" stop-color="#0088e9"/><stop offset="0.313" stop-color="#006fe7"/><stop offset="0.344" stop-color="#0057e6"/><stop offset="0.375" stop-color="#003edf"/><stop offset="0.406" stop-color="#004ae3"/><stop offset="0.437" stop-color="#0056e6"/><stop offset="0.469" stop-color="#0062e7"/><stop offset="0.500" stop-color="#0073e8"/><stop offset="0.531" stop-color="#0084e9"/><stop offset="0.563" stop-color="#0091ea"/><stop offset="0.594" stop-color="#00a2e9"/><stop offset="0.625" stop-color="#00b2e4"/><stop offset="0.656" stop-color="#00c4dd"/><stop offset="0.688" stop-color="#00d7d4"/><stop offset="0.719" stop-color="#00d7b8"/><stop offset="0.750" stop-color="#00d7a7"/><stop offset="0.875" stop-color="#00d7b7"/><stop offset="1.000" stop-color="#00d7ad"/></linearGradient>
<linearGradient id="r36" gradientUnits="userSpaceOnUse" x1="369.4" x2="551.9" y1="0" y2="0"><stop offset="0.000" stop-color="#0001c8"/><stop offset="0.378" stop-color="#000bcc"/><stop offset="0.556" stop-color="#0015d0"/><stop offset="0.756" stop-color="#0022d4"/><stop offset="0.822" stop-color="#002ed9"/><stop offset="0.867" stop-color="#003add"/><stop offset="0.889" stop-color="#0046e2"/><stop offset="0.911" stop-color="#0053e6"/><stop offset="0.933" stop-color="#0061e7"/><stop offset="0.956" stop-color="#0070e8"/><stop offset="0.978" stop-color="#008be9"/><stop offset="1.000" stop-color="#00a3e9"/></linearGradient>
<linearGradient id="r37" gradientUnits="userSpaceOnUse" x1="528.5" x2="680.7" y1="0" y2="0"><stop offset="0.000" stop-color="#30d00b"/><stop offset="0.079" stop-color="#21cf1a"/><stop offset="0.132" stop-color="#15ce26"/><stop offset="0.158" stop-color="#06d04b"/><stop offset="0.184" stop-color="#00d789"/><stop offset="0.211" stop-color="#00d7c5"/><stop offset="0.237" stop-color="#00bfdf"/><stop offset="0.263" stop-color="#00a2e9"/><stop offset="0.289" stop-color="#0084e9"/><stop offset="0.316" stop-color="#0071e8"/><stop offset="0.342" stop-color="#0065e7"/><stop offset="0.368" stop-color="#005be6"/><stop offset="0.395" stop-color="#0050e6"/><stop offset="0.421" stop-color="#0044e1"/><stop offset="0.447" stop-color="#0038dd"/><stop offset="0.526" stop-color="#0049e3"/><stop offset="0.579" stop-color="#0054e6"/><stop offset="0.658" stop-color="#006fe7"/><stop offset="0.684" stop-color="#008de9"/><stop offset="0.711" stop-color="#00a5e9"/><stop offset="0.737" stop-color="#00b2e4"/><stop offset="0.789" stop-color="#00bfdf"/><stop offset="1.000" stop-color="#00b1e4"/></linearGradient>
<linearGradient id="r38" gradientUnits="userSpaceOnUse" x1="369.4" x2="528.5" y1="0" y2="0"><stop offset="0.000" stop-color="#0002c8"/><stop offset="0.538" stop-color="#000ecd"/><stop offset="0.718" stop-color="#001cd2"/><stop offset="0.821" stop-color="#0029d7"/><stop offset="0.872" stop-color="#003bde"/><stop offset="0.897" stop-color="#0048e3"/><stop offset="0.923" stop-color="#0055e6"/><stop offset="0.949" stop-color="#0061e7"/><stop offset="0.974" stop-color="#006ee7"/><stop offset="1.000" stop-color="#008fe9"/></linearGradient>
<linearGradient id="r39" gradientUnits="userSpaceOnUse" x1="500.2" x2="680.7" y1="0" y2="0"><stop offset="0.000" stop-color="#8edc00"/><stop offset="0.022" stop-color="#82da00"/><stop offset="0.044" stop-color="#76d900"/><stop offset="0.067" stop-color="#6ad700"/><stop offset="0.089" stop-color="#5fd600"/><stop offset="0.111" stop-color="#53d400"/><stop offset="0.133" stop-color="#47d300"/><stop offset="0.156" stop-color="#3cd200"/><stop offset="0.200" stop-color="#30d00b"/><stop offset="0.244" stop-color="#25cf16"/><stop offset="0.289" stop-color="#14ce27"/><stop offset="0.311" stop-color="#09cd37"/><stop offset="0.333" stop-color="#06d04a"/><stop offset="0.356" stop-color="#05d159"/><stop offset="0.378" stop-color="#03d364"/><stop offset="0.422" stop-color="#01d574"/><stop offset="0.444" stop-color="#00d784"/><stop offset="0.467" stop-color="#00d795"/><stop offset="0.489" stop-color="#00d7a2"/><stop offset="0.578" stop-color="#00d797"/><stop offset="0.622" stop-color="#00d681"/><stop offset="0.644" stop-color="#01d573"/><stop offset="0.667" stop-color="#03d363"/><stop offset="0.689" stop-color="#06d051"/><stop offset="0.711" stop-color="#07cf43"/><stop offset="0.756" stop-color="#09cd35"/><stop offset="0.822" stop-color="#11cd2a"/><stop offset="0.911" stop-color="#09cd38"/><stop offset="0.956" stop-color="#07cf46"/><stop offset="1.000" stop-color="#05d156"/></linearGradient>
<linearGradient id="r310" gradientUnits="userSpaceOnUse" x1="672.0" x2="680.7" y1="0" y2="0"><stop offset="0.000" stop-color="#0058e6"/><stop offset="0.500" stop-color="#0062e7"/><stop offset="1.000" stop-color="#006de7"/></linearGradient>
<linearGradient id="r311" gradientUnits="userSpaceOnUse" x1="369.4" x2="500.2" y1="0" y2="0"><stop offset="0.000" stop-color="#0000c8"/><stop offset="0.938" stop-color="#000acc"/><stop offset="1.000" stop-color="#0010ce"/></linearGradient>
<linearGradient id="r312" gradientUnits="userSpaceOnUse" x1="468.8" x2="672.0" y1="0" y2="0"><stop offset="0.000" stop-color="#51d400"/><stop offset="0.040" stop-color="#63d600"/><stop offset="0.080" stop-color="#71d800"/><stop offset="0.120" stop-color="#7eda00"/><stop offset="0.160" stop-color="#6bd700"/><stop offset="0.180" stop-color="#55d500"/><stop offset="0.200" stop-color="#41d200"/><stop offset="0.220" stop-color="#34d107"/><stop offset="0.260" stop-color="#23cf18"/><stop offset="0.300" stop-color="#15ce26"/><stop offset="0.340" stop-color="#09cd39"/><stop offset="0.360" stop-color="#07cf47"/><stop offset="0.380" stop-color="#05d155"/><stop offset="0.400" stop-color="#03d363"/><stop offset="0.420" stop-color="#00d680"/><stop offset="0.440" stop-color="#00d797"/><stop offset="0.460" stop-color="#00d7a8"/><stop offset="0.480" stop-color="#00d7b7"/><stop offset="0.520" stop-color="#00d7c4"/><stop offset="0.540" stop-color="#00d7d5"/><stop offset="0.660" stop-color="#00d7c5"/><stop offset="0.680" stop-color="#00d7b0"/><stop offset="0.700" stop-color="#00d796"/><stop offset="0.720" stop-color="#01d577"/><stop offset="0.740" stop-color="#04d260"/><stop offset="0.760" stop-color="#07cf47"/><stop offset="0.780" stop-color="#09cd37"/><stop offset="0.820" stop-color="#11cd2a"/><stop offset="0.880" stop-color="#08ce3a"/><stop offset="0.900" stop-color="#06d04f"/><stop offset="0.920" stop-color="#04d261"/><stop offset="0.940" stop-color="#01d572"/><stop offset="0.960" stop-color="#00d784"/><stop offset="0.980" stop-color="#00d797"/><stop offset="1.000" stop-color="#00d7aa"/></linearGradient>
<linearGradient id="r313" gradientUnits="userSpaceOnUse" x1="656.0" x2="680.7" y1="0" y2="0"><stop offset="0.000" stop-color="#0016d0"/><stop offset="0.500" stop-color="#0025d5"/><stop offset="0.833" stop-color="#0038dd"/><stop offset="1.000" stop-color="#0044e1"/></linearGradient>
<linearGradient id="r314" gradientUnits="userSpaceOnUse" x1="436.9" x2="656.0" y1="0" y2="0"><stop offset="0.000" stop-color="#14ce27"/><stop offset="0.037" stop-color="#28d013"/><stop offset="0.074" stop-color="#38d103"/><stop offset="0.111" stop-color="#48d300"/><stop offset="0.222" stop-color="#3dd200"/><stop offset="0.259" stop-color="#32d109"/><stop offset="0.296" stop-color="#26cf15"/><stop offset="0.389" stop-color="#1bce20"/><stop offset="0.444" stop-color="#0bcd30"/><stop offset="0.481" stop-color="#07cf44"/><stop offset="0.500" stop-color="#06d04e"/><stop offset="0.537" stop-color="#03d362"/><stop offset="0.574" stop-color="#02d46f"/><stop offset="0.722" stop-color="#04d25b"/><stop offset="0.741" stop-color="#07cf49"/><stop offset="0.759" stop-color="#08ce3b"/><stop offset="0.778" stop-color="#0dcd2e"/><stop offset="0.796" stop-color="#17ce24"/><stop offset="0.815" stop-color="#23cf18"/><stop offset="0.833" stop-color="#31d00a"/><stop offset="0.852" stop-color="#41d200"/><stop offset="0.926" stop-color="#32d109"/><stop offset="0.944" stop-color="#26cf15"/><stop offset="0.963" stop-color="#18ce23"/><stop offset="0.981" stop-color="#0ccd2f"/><stop offset="1.000" stop-color="#08ce3a"/></linearGradient>
<linearGradient id="r315" gradientUnits="userSpaceOnUse" x1="639.7" x2="680.7" y1="0" y2="0"><stop offset="0.000" stop-color="#0018d1"/><stop offset="0.400" stop-color="#002bd8"/><stop offset="0.500" stop-color="#0039dd"/><stop offset="0.600" stop-color="#0048e3"/><stop offset="0.700" stop-color="#0059e6"/><stop offset="0.800" stop-color="#006be7"/><stop offset="1.000" stop-color="#0065e7"/></linearGradient>
<linearGradient id="r316" gradientUnits="userSpaceOnUse" x1="404.4" x2="639.7" y1="0" y2="0"><stop offset="0.000" stop-color="#00a0ea"/><stop offset="0.017" stop-color="#00b4e3"/><stop offset="0.034" stop-color="#00c9db"/><stop offset="0.052" stop-color="#00d7c8"/><stop offset="0.069" stop-color="#00d7a5"/><stop offset="0.086" stop-color="#00d681"/><stop offset="0.103" stop-color="#02d46b"/><stop offset="0.138" stop-color="#04d25a"/><stop offset="0.172" stop-color="#07cf49"/><stop offset="0.207" stop-color="#08ce3d"/><stop offset="0.276" stop-color="#0acd31"/><stop offset="0.379" stop-color="#08ce3c"/><stop offset="0.448" stop-color="#07cf48"/><stop offset="0.483" stop-color="#05d158"/><stop offset="0.500" stop-color="#03d362"/><stop offset="0.517" stop-color="#02d46e"/><stop offset="0.534" stop-color="#00d67e"/><stop offset="0.552" stop-color="#00d78d"/><stop offset="0.569" stop-color="#00d79b"/><stop offset="0.586" stop-color="#00d7a7"/><stop offset="0.603" stop-color="#00d7b2"/><stop offset="0.638" stop-color="#00d7c0"/><stop offset="0.759" stop-color="#00d7a5"/><stop offset="0.776" stop-color="#00d78e"/><stop offset="0.793" stop-color="#01d574"/><stop offset="0.810" stop-color="#05d158"/><stop offset="0.828" stop-color="#08ce3b"/><stop offset="0.845" stop-color="#14ce27"/><stop offset="0.862" stop-color="#20cf1b"/><stop offset="0.879" stop-color="#2bd010"/><stop offset="0.897" stop-color="#39d102"/><stop offset="0.914" stop-color="#53d400"/><stop offset="0.931" stop-color="#73d800"/><stop offset="0.966" stop-color="#5bd500"/><stop offset="0.983" stop-color="#3dd200"/><stop offset="1.000" stop-color="#2ad011"/></linearGradient>
<linearGradient id="r317" gradientUnits="userSpaceOnUse" x1="623.0" x2="680.7" y1="0" y2="0"><stop offset="0.000" stop-color="#0006ca"/><stop offset="0.500" stop-color="#0014cf"/><stop offset="0.643" stop-color="#0022d4"/><stop offset="1.000" stop-color="#001ad2"/></linearGradient>
<linearGradient id="r318" gradientUnits="userSpaceOnUse" x1="371.4" x2="623.0" y1="0" y2="0"><stop offset="0.000" stop-color="#0068e7"/><stop offset="0.032" stop-color="#0089e9"/><stop offset="0.048" stop-color="#00a1ea"/><stop offset="0.065" stop-color="#00b2e4"/><stop offset="0.081" stop-color="#00c2de"/><stop offset="0.097" stop-color="#00d3d8"/><stop offset="0.113" stop-color="#00d7c9"/><stop offset="0.129" stop-color="#00d7b5"/><stop offset="0.145" stop-color="#00d7a5"/><stop offset="0.161" stop-color="#00d797"/><stop offset="0.177" stop-color="#00d78b"/><stop offset="0.194" stop-color="#00d680"/><stop offset="0.226" stop-color="#02d471"/><stop offset="0.258" stop-color="#03d365"/><stop offset="0.290" stop-color="#05d158"/><stop offset="0.323" stop-color="#06d04c"/><stop offset="0.371" stop-color="#08ce3e"/><stop offset="0.403" stop-color="#0acd31"/><stop offset="0.532" stop-color="#08ce3d"/><stop offset="0.581" stop-color="#07cf49"/><stop offset="0.629" stop-color="#05d153"/><stop offset="0.677" stop-color="#04d25e"/><stop offset="0.790" stop-color="#06d04e"/><stop offset="0.806" stop-color="#07cf44"/><stop offset="0.823" stop-color="#09cd38"/><stop offset="0.839" stop-color="#0ecd2d"/><stop offset="0.871" stop-color="#1fcf1c"/><stop offset="0.903" stop-color="#2bd010"/><stop offset="0.935" stop-color="#3dd200"/><stop offset="0.952" stop-color="#50d400"/><stop offset="0.968" stop-color="#62d600"/><stop offset="0.984" stop-color="#73d800"/><stop offset="1.000" stop-color="#85db00"/></linearGradient>
<linearGradient id="r319" gradientUnits="userSpaceOnUse" x1="606.1" x2="680.7" y1="0" y2="0"><stop offset="0.000" stop-color="#0017d0"/><stop offset="0.333" stop-color="#0022d4"/><stop offset="0.444" stop-color="#002ed9"/><stop offset="0.500" stop-color="#003bde"/><stop offset="0.556" stop-color="#0048e3"/><stop offset="0.611" stop-color="#0055e6"/><stop offset="0.833" stop-color="#0078e8"/><stop offset="0.889" stop-color="#0095ea"/><stop offset="0.944" stop-color="#00aee5"/><stop offset="1.000" stop-color="#00c5dd"/></linearGradient>
<clipPath id="r4_c"><path d="M372.3,332.2 L375.3,332.3 L378.3,332.4 L381.3,332.6 L384.3,332.7 L387.3,332.9 L390.3,333.0 L393.3,333.2 L396.3,333.4 L399.3,333.5 L402.3,333.7 L405.3,333.9 L408.3,334.2 L411.3,334.4 L414.3,334.6 L417.3,334.9 L420.3,335.2 L423.3,335.5 L426.3,335.8 L429.3,336.1 L432.3,336.4 L435.3,336.8 L438.3,337.2 L441.3,337.6 L444.3,338.0 L447.3,338.5 L450.3,338.9 L453.3,339.4 L456.3,339.9 L459.3,340.5 L462.3,341.1 L465.3,341.7 L468.3,342.3 L471.3,342.9 L474.3,343.6 L477.3,344.3 L480.3,345.1 L483.3,345.9 L486.3,346.7 L489.3,347.6 L492.3,348.4 L495.3,349.4 L498.3,350.4 L501.3,351.4 L504.3,352.4 L507.3,353.5 L510.3,354.7 L513.3,355.9 L516.3,357.1 L519.3,358.4 L522.3,359.8 L525.3,361.2 L528.3,362.7 L531.3,364.3 L534.3,365.9 L537.3,367.6 L540.3,369.3 L543.3,371.1 L546.3,373.0 L549.3,374.9 L552.3,377.0 L555.3,379.0 L558.3,381.2 L561.3,383.4 L564.3,385.6 L567.3,387.9 L570.3,390.2 L573.3,392.6 L576.3,394.9 L579.3,397.2 L582.3,399.6 L585.3,401.8 L588.3,404.1 L591.3,406.3 L594.3,408.4 L597.3,410.4 L600.3,412.4 L603.3,414.3 L606.3,416.0 L609.3,417.7 L612.3,419.2 L615.3,420.7 L618.3,422.0 L621.3,423.3 L624.3,424.4 L627.3,425.5 L630.3,426.4 L633.3,427.3 L636.3,428.1 L639.3,428.8 L642.3,429.5 L645.3,430.1 L648.3,430.6 L651.3,431.1 L654.3,431.5 L657.3,431.9 L660.3,432.2 L663.3,432.5 L666.3,432.8 L669.3,433.1 L672.3,433.3 L675.3,433.5 L678.3,433.7 L681.3,433.8 L682.1,433.9 L682.1,463.7 L681.3,463.7 L678.3,463.5 L675.3,463.3 L672.3,463.1 L669.3,462.9 L666.3,462.7 L663.3,462.4 L660.3,462.2 L657.3,461.9 L654.3,461.5 L651.3,461.1 L648.3,460.7 L645.3,460.3 L642.3,459.8 L639.3,459.2 L636.3,458.6 L633.3,458.0 L630.3,457.3 L627.3,456.5 L624.3,455.6 L621.3,454.7 L618.3,453.7 L615.3,452.6 L612.3,451.5 L609.3,450.2 L606.3,448.9 L603.3,447.5 L600.3,446.0 L597.3,444.4 L594.3,442.7 L591.3,440.9 L588.3,439.1 L585.3,437.1 L582.3,435.2 L579.3,433.1 L576.3,431.0 L573.3,428.9 L570.3,426.7 L567.3,424.5 L564.3,422.3 L561.3,420.1 L558.3,417.9 L555.3,415.7 L552.3,413.5 L549.3,411.4 L546.3,409.3 L543.3,407.2 L540.3,405.2 L537.3,403.2 L534.3,401.3 L531.3,399.5 L528.3,397.7 L525.3,396.0 L522.3,394.3 L519.3,392.7 L516.3,391.2 L513.3,389.7 L510.3,388.3 L507.3,386.9 L504.3,385.6 L501.3,384.4 L498.3,383.2 L495.3,382.0 L492.3,380.9 L489.3,379.9 L486.3,378.9 L483.3,377.9 L480.3,377.0 L477.3,376.1 L474.3,375.3 L471.3,374.5 L468.3,373.7 L465.3,373.0 L462.3,372.3 L459.3,371.7 L456.3,371.1 L453.3,370.5 L450.3,369.9 L447.3,369.4 L444.3,368.9 L441.3,368.4 L438.3,368.0 L435.3,367.6 L432.3,367.2 L429.3,366.8 L426.3,366.4 L423.3,366.1 L420.3,365.8 L417.3,365.5 L414.3,365.2 L411.3,365.0 L408.3,364.7 L405.3,364.5 L402.3,364.3 L399.3,364.1 L396.3,363.9 L393.3,363.7 L390.3,363.5 L387.3,363.4 L384.3,363.2 L381.3,363.1 L378.3,362.9 L375.3,362.8 L372.3,362.7Z"/></clipPath>
<linearGradient id="r40" gradientUnits="userSpaceOnUse" x1="370.3" x2="606.5" y1="0" y2="0"><stop offset="0.000" stop-color="#009eea"/><stop offset="0.034" stop-color="#00b2e4"/><stop offset="0.051" stop-color="#00c5dd"/><stop offset="0.068" stop-color="#00d7d6"/><stop offset="0.085" stop-color="#00d7bf"/><stop offset="0.102" stop-color="#00d7ad"/><stop offset="0.119" stop-color="#00d7a1"/><stop offset="0.153" stop-color="#00d791"/><stop offset="0.186" stop-color="#00d680"/><stop offset="0.220" stop-color="#02d471"/><stop offset="0.288" stop-color="#03d366"/><stop offset="0.373" stop-color="#05d159"/><stop offset="0.441" stop-color="#06d04d"/><stop offset="0.559" stop-color="#08ce41"/><stop offset="0.593" stop-color="#09cd33"/><stop offset="0.729" stop-color="#14ce27"/><stop offset="0.763" stop-color="#1ecf1d"/><stop offset="0.797" stop-color="#2ad011"/><stop offset="0.831" stop-color="#36d105"/><stop offset="0.864" stop-color="#47d300"/><stop offset="0.881" stop-color="#55d500"/><stop offset="0.898" stop-color="#67d700"/><stop offset="0.915" stop-color="#7fda00"/><stop offset="0.932" stop-color="#9bdc00"/><stop offset="0.949" stop-color="#bade00"/><stop offset="0.966" stop-color="#d3e000"/><stop offset="0.983" stop-color="#deda00"/><stop offset="1.000" stop-color="#e1d000"/></linearGradient>
<linearGradient id="r41" gradientUnits="userSpaceOnUse" x1="589.3" x2="684.1" y1="0" y2="0"><stop offset="0.000" stop-color="#005ae6"/><stop offset="0.043" stop-color="#0041e0"/><stop offset="0.087" stop-color="#0028d7"/><stop offset="0.130" stop-color="#0019d1"/><stop offset="0.348" stop-color="#0024d5"/><stop offset="0.435" stop-color="#003bde"/><stop offset="0.478" stop-color="#004ae3"/><stop offset="0.522" stop-color="#0058e6"/><stop offset="0.565" stop-color="#0066e7"/><stop offset="0.609" stop-color="#0075e8"/><stop offset="0.652" stop-color="#0087e9"/><stop offset="0.696" stop-color="#009bea"/><stop offset="0.739" stop-color="#00aae7"/><stop offset="0.783" stop-color="#00b8e2"/><stop offset="0.826" stop-color="#00c5dd"/><stop offset="0.870" stop-color="#00d3d8"/><stop offset="0.913" stop-color="#00d7ca"/><stop offset="0.957" stop-color="#00d7bf"/><stop offset="1.000" stop-color="#00d7b9"/></linearGradient>
<linearGradient id="r42" gradientUnits="userSpaceOnUse" x1="370.3" x2="589.3" y1="0" y2="0"><stop offset="0.000" stop-color="#0039dd"/><stop offset="0.056" stop-color="#0049e3"/><stop offset="0.093" stop-color="#0055e6"/><stop offset="0.148" stop-color="#005fe6"/><stop offset="0.185" stop-color="#006ce7"/><stop offset="0.222" stop-color="#0078e8"/><stop offset="0.259" stop-color="#0086e9"/><stop offset="0.296" stop-color="#0091ea"/><stop offset="0.333" stop-color="#009eea"/><stop offset="0.389" stop-color="#00aae7"/><stop offset="0.500" stop-color="#00b7e2"/><stop offset="0.593" stop-color="#00c2de"/><stop offset="0.630" stop-color="#00ceda"/><stop offset="0.704" stop-color="#00d7cd"/><stop offset="0.722" stop-color="#00d7c3"/><stop offset="0.741" stop-color="#00d7b4"/><stop offset="0.759" stop-color="#00d7a2"/><stop offset="0.778" stop-color="#00d78c"/><stop offset="0.796" stop-color="#01d572"/><stop offset="0.815" stop-color="#05d155"/><stop offset="0.833" stop-color="#08ce40"/><stop offset="0.852" stop-color="#0acd31"/><stop offset="0.889" stop-color="#1ecf1d"/><stop offset="0.926" stop-color="#31d00a"/><stop offset="0.944" stop-color="#41d200"/><stop offset="0.963" stop-color="#5dd600"/><stop offset="0.981" stop-color="#79d900"/><stop offset="1.000" stop-color="#94dc00"/></linearGradient>
<linearGradient id="r43" gradientUnits="userSpaceOnUse" x1="571.7" x2="684.1" y1="0" y2="0"><stop offset="0.000" stop-color="#006be7"/><stop offset="0.036" stop-color="#0049e3"/><stop offset="0.071" stop-color="#003edf"/><stop offset="0.107" stop-color="#0034db"/><stop offset="0.179" stop-color="#0024d5"/><stop offset="0.214" stop-color="#0019d1"/><stop offset="0.250" stop-color="#000ccc"/><stop offset="0.357" stop-color="#0019d1"/><stop offset="0.429" stop-color="#0025d5"/><stop offset="0.536" stop-color="#0032da"/><stop offset="0.571" stop-color="#003edf"/><stop offset="0.643" stop-color="#004fe5"/><stop offset="0.750" stop-color="#0060e7"/><stop offset="0.821" stop-color="#0071e8"/><stop offset="0.893" stop-color="#007ce8"/><stop offset="1.000" stop-color="#0084e9"/></linearGradient>
<linearGradient id="r44" gradientUnits="userSpaceOnUse" x1="370.3" x2="571.7" y1="0" y2="0"><stop offset="0.000" stop-color="#0043e1"/><stop offset="0.100" stop-color="#004ee5"/><stop offset="0.160" stop-color="#0062e7"/><stop offset="0.180" stop-color="#0072e8"/><stop offset="0.200" stop-color="#0081e9"/><stop offset="0.220" stop-color="#008fe9"/><stop offset="0.240" stop-color="#009cea"/><stop offset="0.280" stop-color="#00abe6"/><stop offset="0.320" stop-color="#00b6e2"/><stop offset="0.360" stop-color="#00c2de"/><stop offset="0.420" stop-color="#00cfd9"/><stop offset="0.480" stop-color="#00d7cd"/><stop offset="0.520" stop-color="#00d7bf"/><stop offset="0.720" stop-color="#00d7b0"/><stop offset="0.760" stop-color="#00d79f"/><stop offset="0.780" stop-color="#00d791"/><stop offset="0.800" stop-color="#00d681"/><stop offset="0.820" stop-color="#02d470"/><stop offset="0.840" stop-color="#04d25c"/><stop offset="0.860" stop-color="#07cf47"/><stop offset="0.880" stop-color="#0bcd30"/><stop offset="0.900" stop-color="#18ce23"/><stop offset="0.940" stop-color="#26cf15"/><stop offset="0.980" stop-color="#33d108"/><stop offset="1.000" stop-color="#3ad101"/></linearGradient>
<linearGradient id="r45" gradientUnits="userSpaceOnUse" x1="552.4" x2="684.1" y1="0" y2="0"><stop offset="0.000" stop-color="#2dd00e"/><stop offset="0.031" stop-color="#0fcd2c"/><stop offset="0.062" stop-color="#05d157"/><stop offset="0.094" stop-color="#00d787"/><stop offset="0.125" stop-color="#00d7bc"/><stop offset="0.156" stop-color="#00c3de"/><stop offset="0.188" stop-color="#00aee5"/><stop offset="0.250" stop-color="#0095ea"/><stop offset="0.281" stop-color="#007de8"/><stop offset="0.344" stop-color="#006ce7"/><stop offset="0.406" stop-color="#0080e9"/><stop offset="0.437" stop-color="#008be9"/><stop offset="0.500" stop-color="#00a1ea"/><stop offset="0.531" stop-color="#00ace6"/><stop offset="0.563" stop-color="#00b8e2"/><stop offset="0.594" stop-color="#00c7dc"/><stop offset="0.625" stop-color="#00d2d8"/><stop offset="0.688" stop-color="#00d7c8"/><stop offset="0.750" stop-color="#00d7b7"/><stop offset="0.781" stop-color="#00d7a9"/><stop offset="0.812" stop-color="#00d79f"/><stop offset="0.875" stop-color="#00d78f"/><stop offset="0.938" stop-color="#00d782"/><stop offset="1.000" stop-color="#00d681"/></linearGradient>
<linearGradient id="r46" gradientUnits="userSpaceOnUse" x1="370.3" x2="552.4" y1="0" y2="0"><stop offset="0.000" stop-color="#0012cf"/><stop offset="0.178" stop-color="#001dd3"/><stop offset="0.222" stop-color="#0029d7"/><stop offset="0.267" stop-color="#0034db"/><stop offset="0.333" stop-color="#0040e0"/><stop offset="0.422" stop-color="#004ae3"/><stop offset="0.511" stop-color="#0054e6"/><stop offset="0.667" stop-color="#004ae3"/><stop offset="0.778" stop-color="#0059e6"/><stop offset="0.822" stop-color="#0063e7"/><stop offset="0.867" stop-color="#0076e8"/><stop offset="0.889" stop-color="#0095ea"/><stop offset="0.911" stop-color="#00b4e3"/><stop offset="0.933" stop-color="#00d7d5"/><stop offset="0.956" stop-color="#00d79d"/><stop offset="0.978" stop-color="#03d367"/><stop offset="1.000" stop-color="#07cf48"/></linearGradient>
<linearGradient id="r47" gradientUnits="userSpaceOnUse" x1="529.2" x2="684.1" y1="0" y2="0"><stop offset="0.000" stop-color="#55d500"/><stop offset="0.053" stop-color="#47d300"/><stop offset="0.105" stop-color="#39d102"/><stop offset="0.158" stop-color="#0ecd2d"/><stop offset="0.184" stop-color="#02d46f"/><stop offset="0.211" stop-color="#00d7b4"/><stop offset="0.237" stop-color="#00c5dd"/><stop offset="0.263" stop-color="#00a3e9"/><stop offset="0.289" stop-color="#0084e9"/><stop offset="0.342" stop-color="#0076e8"/><stop offset="0.395" stop-color="#006ae7"/><stop offset="0.526" stop-color="#007de8"/><stop offset="0.553" stop-color="#008ae9"/><stop offset="0.579" stop-color="#0094ea"/><stop offset="0.632" stop-color="#00a5e9"/><stop offset="0.684" stop-color="#00b4e3"/><stop offset="0.763" stop-color="#00bfdf"/><stop offset="0.816" stop-color="#00d5d7"/><stop offset="0.842" stop-color="#00d7c8"/><stop offset="0.868" stop-color="#00d7bb"/><stop offset="0.921" stop-color="#00d7b1"/><stop offset="1.000" stop-color="#00d7be"/></linearGradient>
<linearGradient id="r48" gradientUnits="userSpaceOnUse" x1="370.3" x2="529.2" y1="0" y2="0"><stop offset="0.000" stop-color="#0018d1"/><stop offset="0.154" stop-color="#0023d5"/><stop offset="0.231" stop-color="#0037dc"/><stop offset="0.282" stop-color="#0046e2"/><stop offset="0.333" stop-color="#0052e6"/><stop offset="0.385" stop-color="#005de6"/><stop offset="0.667" stop-color="#0067e7"/><stop offset="0.846" stop-color="#0079e8"/><stop offset="0.872" stop-color="#0088e9"/><stop offset="0.897" stop-color="#009dea"/><stop offset="0.923" stop-color="#00ade6"/><stop offset="0.949" stop-color="#00bce0"/><stop offset="0.974" stop-color="#00cbdb"/><stop offset="1.000" stop-color="#00d7ae"/></linearGradient>
<linearGradient id="r49" gradientUnits="userSpaceOnUse" x1="501.0" x2="684.1" y1="0" y2="0"><stop offset="0.000" stop-color="#8ddc00"/><stop offset="0.044" stop-color="#81da00"/><stop offset="0.089" stop-color="#75d900"/><stop offset="0.133" stop-color="#69d700"/><stop offset="0.178" stop-color="#5dd600"/><stop offset="0.222" stop-color="#52d400"/><stop offset="0.267" stop-color="#47d300"/><stop offset="0.289" stop-color="#2dd00e"/><stop offset="0.311" stop-color="#1cce1f"/><stop offset="0.333" stop-color="#0fcd2c"/><stop offset="0.356" stop-color="#09cd38"/><stop offset="0.400" stop-color="#07cf43"/><stop offset="0.444" stop-color="#06d04e"/><stop offset="0.578" stop-color="#07cf42"/><stop offset="0.667" stop-color="#09cd34"/><stop offset="0.733" stop-color="#12cd29"/><stop offset="0.822" stop-color="#1fcf1c"/><stop offset="1.000" stop-color="#0ecd2d"/></linearGradient>
<linearGradient id="r410" gradientUnits="userSpaceOnUse" x1="672.5" x2="684.1" y1="0" y2="0"><stop offset="0.000" stop-color="#0030da"/><stop offset="1.000" stop-color="#003bde"/></linearGradient>
<linearGradient id="r411" gradientUnits="userSpaceOnUse" x1="370.3" x2="501.0" y1="0" y2="0"><stop offset="0.000" stop-color="#0003c9"/><stop offset="0.281" stop-color="#000ecd"/><stop offset="0.656" stop-color="#001ad1"/><stop offset="0.906" stop-color="#0026d6"/><stop offset="1.000" stop-color="#0031da"/></linearGradient>
<linearGradient id="r412" gradientUnits="userSpaceOnUse" x1="469.7" x2="672.5" y1="0" y2="0"><stop offset="0.000" stop-color="#7bd900"/><stop offset="0.020" stop-color="#86db00"/><stop offset="0.180" stop-color="#7bd900"/><stop offset="0.220" stop-color="#6ed800"/><stop offset="0.260" stop-color="#63d600"/><stop offset="0.300" stop-color="#56d500"/><stop offset="0.340" stop-color="#43d200"/><stop offset="0.380" stop-color="#39d102"/><stop offset="0.420" stop-color="#21cf1a"/><stop offset="0.440" stop-color="#14ce27"/><stop offset="0.480" stop-color="#08ce3f"/><stop offset="0.520" stop-color="#07cf49"/><stop offset="0.560" stop-color="#05d156"/><stop offset="0.620" stop-color="#07cf47"/><stop offset="0.660" stop-color="#09cd39"/><stop offset="0.700" stop-color="#0dcd2e"/><stop offset="0.740" stop-color="#1fcf1c"/><stop offset="0.760" stop-color="#2fd00c"/><stop offset="0.780" stop-color="#3ad101"/><stop offset="0.820" stop-color="#4bd300"/><stop offset="0.960" stop-color="#33d108"/><stop offset="0.980" stop-color="#22cf19"/><stop offset="1.000" stop-color="#11cd2a"/></linearGradient>
<linearGradient id="r413" gradientUnits="userSpaceOnUse" x1="656.4" x2="684.1" y1="0" y2="0"><stop offset="0.000" stop-color="#000dcc"/><stop offset="0.667" stop-color="#001ad1"/><stop offset="1.000" stop-color="#0027d6"/></linearGradient>
<linearGradient id="r414" gradientUnits="userSpaceOnUse" x1="370.3" x2="469.7" y1="0" y2="0"><stop offset="0.000" stop-color="#0000c8"/><stop offset="0.583" stop-color="#000acc"/><stop offset="0.833" stop-color="#0015d0"/><stop offset="0.958" stop-color="#0023d5"/><stop offset="1.000" stop-color="#0027d6"/></linearGradient>
<linearGradient id="r415" gradientUnits="userSpaceOnUse" x1="437.8" x2="656.4" y1="0" y2="0"><stop offset="0.000" stop-color="#37d104"/><stop offset="0.037" stop-color="#45d300"/><stop offset="0.074" stop-color="#58d500"/><stop offset="0.093" stop-color="#62d600"/><stop offset="0.111" stop-color="#6cd800"/><stop offset="0.148" stop-color="#77d900"/><stop offset="0.333" stop-color="#64d700"/><stop offset="0.370" stop-color="#56d500"/><stop offset="0.426" stop-color="#47d300"/><stop offset="0.481" stop-color="#3dd200"/><stop offset="0.537" stop-color="#2bd010"/><stop offset="0.722" stop-color="#37d104"/><stop offset="0.741" stop-color="#43d200"/><stop offset="0.778" stop-color="#52d400"/><stop offset="0.796" stop-color="#62d600"/><stop offset="0.815" stop-color="#79d900"/><stop offset="0.833" stop-color="#97dc00"/><stop offset="0.852" stop-color="#b8de00"/><stop offset="0.963" stop-color="#97dc00"/><stop offset="0.981" stop-color="#7fda00"/><stop offset="1.000" stop-color="#68d700"/></linearGradient>
<linearGradient id="r416" gradientUnits="userSpaceOnUse" x1="640.1" x2="684.1" y1="0" y2="0"><stop offset="0.000" stop-color="#0013cf"/><stop offset="0.500" stop-color="#0024d5"/><stop offset="0.700" stop-color="#0036dc"/><stop offset="0.800" stop-color="#0041e0"/><stop offset="1.000" stop-color="#0053e6"/></linearGradient>
<linearGradient id="r417" gradientUnits="userSpaceOnUse" x1="405.3" x2="640.1" y1="0" y2="0"><stop offset="0.000" stop-color="#00d792"/><stop offset="0.017" stop-color="#01d578"/><stop offset="0.034" stop-color="#04d25f"/><stop offset="0.052" stop-color="#07cf46"/><stop offset="0.069" stop-color="#0bcd30"/><stop offset="0.086" stop-color="#19ce22"/><stop offset="0.207" stop-color="#23cf18"/><stop offset="0.241" stop-color="#30d00b"/><stop offset="0.276" stop-color="#44d300"/><stop offset="0.345" stop-color="#38d103"/><stop offset="0.431" stop-color="#2cd00f"/><stop offset="0.586" stop-color="#1fcf1c"/><stop offset="0.638" stop-color="#15ce26"/><stop offset="0.707" stop-color="#24cf17"/><stop offset="0.741" stop-color="#32d109"/><stop offset="0.793" stop-color="#49d300"/><stop offset="0.810" stop-color="#5bd500"/><stop offset="0.828" stop-color="#71d800"/><stop offset="0.845" stop-color="#85db00"/><stop offset="0.862" stop-color="#9ddd00"/><stop offset="0.879" stop-color="#b7de00"/><stop offset="0.897" stop-color="#d4e000"/><stop offset="0.914" stop-color="#e1cf00"/><stop offset="0.931" stop-color="#eab600"/><stop offset="0.966" stop-color="#e4c600"/><stop offset="0.983" stop-color="#deda00"/><stop offset="1.000" stop-color="#cadf00"/></linearGradient>
<linearGradient id="r418" gradientUnits="userSpaceOnUse" x1="623.5" x2="684.1" y1="0" y2="0"><stop offset="0.000" stop-color="#0006ca"/><stop offset="0.600" stop-color="#0015cf"/><stop offset="0.733" stop-color="#0020d4"/><stop offset="0.933" stop-color="#002bd8"/><stop offset="1.000" stop-color="#0032db"/></linearGradient>
<linearGradient id="r419" gradientUnits="userSpaceOnUse" x1="372.3" x2="623.5" y1="0" y2="0"><stop offset="0.000" stop-color="#009cea"/><stop offset="0.016" stop-color="#00ade6"/><stop offset="0.032" stop-color="#00c9db"/><stop offset="0.048" stop-color="#00d7c1"/><stop offset="0.065" stop-color="#00d7a1"/><stop offset="0.081" stop-color="#00d784"/><stop offset="0.097" stop-color="#02d46b"/><stop offset="0.113" stop-color="#04d25b"/><stop offset="0.145" stop-color="#06d04f"/><stop offset="0.177" stop-color="#07cf44"/><stop offset="0.210" stop-color="#09cd38"/><stop offset="0.323" stop-color="#0dcd2e"/><stop offset="0.484" stop-color="#18ce23"/><stop offset="0.581" stop-color="#25cf16"/><stop offset="0.774" stop-color="#34d107"/><stop offset="0.806" stop-color="#45d300"/><stop offset="0.839" stop-color="#57d500"/><stop offset="0.855" stop-color="#65d700"/><stop offset="0.871" stop-color="#79d900"/><stop offset="0.887" stop-color="#91dc00"/><stop offset="0.903" stop-color="#afde00"/><stop offset="0.919" stop-color="#cadf00"/><stop offset="0.935" stop-color="#ded900"/><stop offset="0.952" stop-color="#e5c500"/><stop offset="0.984" stop-color="#ebb200"/><stop offset="1.000" stop-color="#eea800"/></linearGradient>
<linearGradient id="r420" gradientUnits="userSpaceOnUse" x1="606.5" x2="684.1" y1="0" y2="0"><stop offset="0.000" stop-color="#0017d0"/><stop offset="0.421" stop-color="#0022d4"/><stop offset="0.526" stop-color="#0039dd"/><stop offset="0.579" stop-color="#0047e2"/><stop offset="0.632" stop-color="#0057e6"/><stop offset="0.684" stop-color="#0064e7"/><stop offset="0.737" stop-color="#006fe7"/><stop offset="0.789" stop-color="#0081e9"/><stop offset="0.842" stop-color="#0094ea"/><stop offset="0.895" stop-color="#00a4e9"/><stop offset="0.947" stop-color="#00b1e4"/><stop offset="1.000" stop-color="#00bedf"/></linearGradient></defs>
<rect width="685" height="467" fill="#fff"/>
<g clip-path="url(#l1_c)" filter="url(#blur)">
<path d="M8.9,90.7 L9.9,90.9 L10.9,91.2 L10.9,95.0 L9.9,94.7 L8.9,94.5Z" fill="#20cf00"/>
<path d="M8.9,68.4 L15.0,69.8 L21.0,71.2 L27.1,72.7 L33.1,74.1 L39.2,75.5 L45.3,76.9 L51.3,78.4 L57.4,79.9 L63.4,81.4 L69.5,82.9 L75.5,84.5 L81.6,86.1 L87.7,87.8 L93.7,89.5 L99.8,91.3 L105.8,93.3 L111.9,95.3 L118.0,97.5 L124.0,99.9 L124.0,103.6 L118.0,101.3 L111.9,99.1 L105.8,97.0 L99.8,95.1 L93.7,93.2 L87.7,91.5 L81.6,89.8 L75.5,88.2 L69.5,86.6 L63.4,85.1 L57.4,83.6 L51.3,82.2 L45.3,80.7 L39.2,79.3 L33.1,77.9 L27.1,76.5 L21.0,75.0 L15.0,73.6 L8.9,72.2Z" fill="url(#l10)"/>
<path d="M110.3,73.1 L116.3,75.2 L122.4,77.4 L128.4,79.8 L134.5,82.3 L140.5,85.0 L146.6,87.9 L152.6,91.0 L158.7,94.3 L164.7,97.8 L170.8,101.4 L176.8,105.2 L182.9,109.2 L188.9,113.2 L195.0,117.4 L201.0,121.5 L207.1,125.6 L213.1,129.7 L219.2,133.6 L225.2,137.3 L231.3,140.7 L237.3,144.0 L243.3,146.9 L249.4,149.6 L255.4,152.1 L261.5,154.3 L267.5,156.3 L273.6,158.1 L279.6,159.7 L285.7,161.2 L291.7,162.6 L297.8,163.8 L297.8,167.7 L291.7,166.5 L285.7,165.1 L279.6,163.7 L273.6,162.1 L267.5,160.3 L261.5,158.3 L255.4,156.1 L249.4,153.7 L243.3,151.0 L237.3,148.1 L231.3,144.9 L225.2,141.5 L219.2,137.8 L213.1,133.9 L207.1,129.9 L201.0,125.8 L195.0,121.6 L188.9,117.4 L182.9,113.3 L176.8,109.3 L170.8,105.5 L164.7,101.8 L158.7,98.3 L152.6,94.9 L146.6,91.8 L140.5,88.9 L134.5,86.1 L128.4,83.6 L122.4,81.2 L116.3,78.9 L110.3,76.8Z" fill="url(#l11)"/>
<path d="M272.4,134.6 L279.2,136.6 L286.1,138.4 L292.9,140.0 L299.8,141.4 L306.6,142.7 L313.5,143.8 L320.3,144.9 L320.3,148.8 L313.5,147.7 L306.6,146.6 L299.8,145.3 L292.9,143.9 L286.1,142.3 L279.2,140.6 L272.4,138.6Z" fill="url(#l12)"/>
<path d="M8.9,70.9 L15.2,72.4 L21.6,73.8 L27.9,75.3 L34.3,76.8 L40.6,78.3 L46.9,79.8 L53.3,81.3 L59.6,82.9 L65.9,84.4 L72.3,86.0 L78.6,87.7 L85.0,89.4 L91.3,91.2 L97.6,93.1 L104.0,95.1 L110.3,97.2 L110.3,100.9 L104.0,98.8 L97.6,96.8 L91.3,94.9 L85.0,93.1 L78.6,91.4 L72.3,89.8 L65.9,88.2 L59.6,86.6 L53.3,85.1 L46.9,83.6 L40.6,82.1 L34.3,80.6 L27.9,79.1 L21.6,77.6 L15.2,76.2 L8.9,74.7Z" fill="url(#l13)"/>
<path d="M96.9,71.1 L102.9,73.0 L109.0,75.0 L115.0,77.1 L121.1,79.3 L127.1,81.7 L133.2,84.2 L139.2,86.9 L145.3,89.8 L151.3,92.9 L157.4,96.2 L163.4,99.6 L169.5,103.2 L175.5,107.0 L181.6,111.0 L187.6,115.1 L193.7,119.2 L199.7,123.4 L205.8,127.6 L211.8,131.6 L217.9,135.5 L224.0,139.3 L230.0,142.8 L236.1,146.0 L242.1,149.0 L248.2,151.8 L254.2,154.2 L260.3,156.5 L266.3,158.5 L272.4,160.3 L272.4,164.3 L266.3,162.5 L260.3,160.5 L254.2,158.3 L248.2,155.8 L242.1,153.1 L236.1,150.2 L230.0,147.0 L224.0,143.5 L217.9,139.8 L211.8,135.9 L205.8,131.8 L199.7,127.7 L193.7,123.5 L187.6,119.3 L181.6,115.2 L175.5,111.1 L169.5,107.3 L163.4,103.6 L157.4,100.1 L151.3,96.8 L145.3,93.6 L139.2,90.7 L133.2,88.0 L127.1,85.5 L121.1,83.1 L115.0,80.9 L109.0,78.7 L102.9,76.8 L96.9,74.9Z" fill="url(#l14)"/>
<path d="M247.6,127.7 L253.7,130.4 L259.8,132.8 L265.8,135.1 L271.9,137.1 L277.9,138.8 L284.0,140.4 L290.0,141.9 L296.1,143.2 L302.1,144.4 L308.2,145.5 L314.2,146.5 L320.3,147.4 L320.3,151.3 L314.2,150.4 L308.2,149.4 L302.1,148.3 L296.1,147.1 L290.0,145.8 L284.0,144.4 L277.9,142.8 L271.9,141.0 L265.8,139.0 L259.8,136.9 L253.7,134.4 L247.6,131.8Z" fill="url(#l15)"/>
<path d="M8.9,73.4 L15.2,74.8 L21.5,76.3 L27.8,77.7 L34.0,79.2 L40.3,80.7 L46.6,82.2 L52.9,83.7 L59.2,85.2 L65.5,86.7 L71.7,88.3 L78.0,90.0 L84.3,91.7 L90.6,93.4 L96.9,95.3 L96.9,99.0 L90.6,97.2 L84.3,95.4 L78.0,93.7 L71.7,92.1 L65.5,90.5 L59.2,89.0 L52.9,87.4 L46.6,85.9 L40.3,84.5 L34.0,83.0 L27.8,81.5 L21.5,80.1 L15.2,78.6 L8.9,77.2Z" fill="url(#l16)"/>
<path d="M83.8,69.7 L89.8,71.5 L95.9,73.3 L102.0,75.1 L108.0,77.1 L114.1,79.2 L120.2,81.4 L126.3,83.8 L132.3,86.3 L138.4,89.0 L144.5,91.9 L150.5,95.0 L156.6,98.3 L162.7,101.7 L168.7,105.4 L174.8,109.2 L180.9,113.2 L186.9,117.3 L193.0,121.5 L199.1,125.7 L205.2,129.9 L211.2,134.0 L217.3,137.9 L223.4,141.7 L229.4,145.2 L235.5,148.4 L241.6,151.4 L247.6,154.2 L247.6,158.3 L241.6,155.6 L235.5,152.6 L229.4,149.4 L223.4,145.9 L217.3,142.2 L211.2,138.2 L205.2,134.1 L199.1,130.0 L193.0,125.7 L186.9,121.5 L180.9,117.4 L174.8,113.3 L168.7,109.4 L162.7,105.7 L156.6,102.2 L150.5,98.8 L144.5,95.7 L138.4,92.8 L132.3,90.1 L126.3,87.5 L120.2,85.2 L114.1,82.9 L108.0,80.8 L102.0,78.9 L95.9,77.0 L89.8,75.2 L83.8,73.5Z" fill="url(#l17)"/>
<path d="M224.6,117.7 L231.0,121.6 L237.4,125.1 L243.7,128.5 L250.1,131.5 L256.5,134.2 L262.9,136.6 L269.3,138.8 L275.6,140.8 L282.0,142.5 L288.4,144.1 L294.8,145.5 L301.2,146.7 L307.5,147.9 L313.9,148.9 L320.3,149.9 L320.3,153.8 L313.9,152.8 L307.5,151.8 L301.2,150.6 L294.8,149.4 L288.4,148.0 L282.0,146.4 L275.6,144.7 L269.3,142.8 L262.9,140.6 L256.5,138.2 L250.1,135.5 L243.7,132.6 L237.4,129.3 L231.0,125.7 L224.6,121.9Z" fill="url(#l18)"/>
<path d="M8.9,75.8 L15.1,77.3 L21.4,78.7 L27.6,80.2 L33.9,81.6 L40.1,83.1 L46.3,84.6 L52.6,86.0 L58.8,87.5 L65.1,89.1 L71.3,90.6 L77.5,92.3 L83.8,93.9 L83.8,97.7 L77.5,96.0 L71.3,94.4 L65.1,92.8 L58.8,91.3 L52.6,89.8 L46.3,88.3 L40.1,86.9 L33.9,85.4 L27.6,84.0 L21.4,82.5 L15.1,81.1 L8.9,79.6Z" fill="url(#l19)"/>
<path d="M70.9,68.7 L77.1,70.3 L83.2,72.0 L89.4,73.7 L95.5,75.6 L101.7,77.5 L107.8,79.5 L114.0,81.6 L120.1,83.8 L126.3,86.2 L132.4,88.8 L138.6,91.5 L144.7,94.5 L150.8,97.7 L157.0,101.0 L163.1,104.6 L169.3,108.4 L175.4,112.3 L181.6,116.4 L187.7,120.6 L193.9,124.8 L200.0,129.1 L206.2,133.3 L212.3,137.5 L218.5,141.4 L224.6,145.1 L224.6,149.4 L218.5,145.6 L212.3,141.7 L206.2,137.6 L200.0,133.4 L193.9,129.1 L187.7,124.8 L181.6,120.5 L175.4,116.4 L169.3,112.4 L163.1,108.6 L157.0,105.0 L150.8,101.5 L144.7,98.3 L138.6,95.3 L132.4,92.6 L126.3,90.0 L120.1,87.6 L114.0,85.3 L107.8,83.2 L101.7,81.2 L95.5,79.3 L89.4,77.5 L83.2,75.7 L77.1,74.0 L70.9,72.4Z" fill="url(#l110)"/>
<path d="M203.8,106.8 L209.9,110.9 L216.0,115.0 L222.2,118.9 L228.3,122.7 L234.4,126.2 L240.6,129.5 L246.7,132.5 L252.8,135.3 L259.0,137.8 L265.1,140.0 L271.2,142.0 L277.4,143.8 L283.5,145.4 L289.6,146.9 L295.8,148.2 L301.9,149.4 L308.0,150.5 L314.2,151.5 L320.3,152.4 L320.3,156.3 L314.2,155.4 L308.0,154.4 L301.9,153.3 L295.8,152.1 L289.6,150.8 L283.5,149.3 L277.4,147.7 L271.2,146.0 L265.1,144.0 L259.0,141.8 L252.8,139.3 L246.7,136.6 L240.6,133.7 L234.4,130.4 L228.3,126.9 L222.2,123.2 L216.0,119.2 L209.9,115.2 L203.8,111.0Z" fill="url(#l111)"/>
<path d="M8.9,78.3 L15.1,79.7 L21.3,81.2 L27.5,82.6 L33.7,84.1 L39.9,85.5 L46.1,87.0 L52.3,88.4 L58.5,89.9 L64.7,91.4 L70.9,93.0 L70.9,96.7 L64.7,95.2 L58.5,93.7 L52.3,92.2 L46.1,90.7 L39.9,89.3 L33.7,87.9 L27.5,86.4 L21.3,85.0 L15.1,83.6 L8.9,82.1Z" fill="url(#l112)"/>
<path d="M58.4,67.9 L64.4,69.4 L70.5,71.0 L76.6,72.6 L82.6,74.2 L88.7,76.0 L94.7,77.7 L100.8,79.6 L106.8,81.6 L112.9,83.6 L119.0,85.8 L125.0,88.2 L131.1,90.7 L137.1,93.3 L143.2,96.2 L149.2,99.3 L155.3,102.6 L161.4,106.1 L167.4,109.8 L173.5,113.7 L179.5,117.7 L185.6,121.8 L191.6,126.0 L197.7,130.3 L203.8,134.5 L203.8,138.7 L197.7,134.5 L191.6,130.3 L185.6,126.0 L179.5,121.8 L173.5,117.7 L167.4,113.8 L161.4,110.1 L155.3,106.5 L149.2,103.2 L143.2,100.1 L137.1,97.1 L131.1,94.4 L125.0,91.9 L119.0,89.5 L112.9,87.3 L106.8,85.3 L100.8,83.3 L94.7,81.5 L88.7,79.7 L82.6,78.0 L76.6,76.3 L70.5,74.7 L64.4,73.2 L58.4,71.7Z" fill="url(#l113)"/>
<path d="M184.9,97.0 L191.1,101.0 L197.2,105.1 L203.4,109.3 L209.5,113.4 L215.7,117.5 L221.8,121.5 L228.0,125.2 L234.1,128.8 L240.3,132.1 L246.4,135.1 L252.6,137.8 L258.8,140.3 L264.9,142.5 L271.1,144.5 L277.2,146.3 L283.4,147.9 L289.5,149.4 L295.7,150.7 L301.8,151.9 L308.0,153.0 L314.1,154.0 L320.3,155.0 L320.3,158.8 L314.1,157.9 L308.0,156.9 L301.8,155.8 L295.7,154.6 L289.5,153.3 L283.4,151.9 L277.2,150.3 L271.1,148.5 L264.9,146.5 L258.8,144.3 L252.6,141.9 L246.4,139.2 L240.3,136.2 L234.1,132.9 L228.0,129.4 L221.8,125.7 L215.7,121.8 L209.5,117.7 L203.4,113.5 L197.2,109.4 L191.1,105.2 L184.9,101.1Z" fill="url(#l114)"/>
<path d="M8.9,80.8 L15.1,82.2 L21.3,83.6 L27.5,85.1 L33.6,86.5 L39.8,87.9 L46.0,89.4 L52.2,90.8 L58.4,92.3 L58.4,96.1 L52.2,94.6 L46.0,93.2 L39.8,91.7 L33.6,90.3 L27.5,88.9 L21.3,87.5 L15.1,86.0 L8.9,84.6Z" fill="url(#l115)"/>
<path d="M46.1,67.3 L52.2,68.8 L58.2,70.3 L64.2,71.8 L70.3,73.4 L76.3,75.0 L82.3,76.6 L88.4,78.3 L94.4,80.0 L100.4,81.9 L106.5,83.8 L112.5,85.9 L118.5,88.1 L124.6,90.4 L130.6,92.9 L136.6,95.6 L142.7,98.4 L148.7,101.5 L154.7,104.8 L160.8,108.3 L166.8,112.0 L172.8,115.9 L178.9,119.9 L184.9,124.1 L184.9,128.2 L178.9,124.0 L172.8,120.0 L166.8,116.0 L160.8,112.3 L154.7,108.7 L148.7,105.4 L142.7,102.3 L136.6,99.4 L130.6,96.7 L124.6,94.1 L118.5,91.8 L112.5,89.6 L106.5,87.6 L100.4,85.6 L94.4,83.8 L88.4,82.0 L82.3,80.3 L76.3,78.7 L70.3,77.1 L64.2,75.6 L58.2,74.1 L52.2,72.6 L46.1,71.1Z" fill="url(#l116)"/>
<path d="M167.8,89.2 L173.9,92.8 L180.0,96.5 L186.1,100.5 L192.2,104.5 L198.3,108.6 L204.4,112.8 L210.5,116.9 L216.6,120.9 L222.7,124.8 L228.8,128.5 L234.9,131.9 L241.0,135.1 L247.1,138.0 L253.2,140.7 L259.3,143.1 L265.4,145.3 L271.5,147.2 L277.6,149.0 L283.7,150.6 L289.8,152.0 L295.9,153.3 L302.0,154.5 L308.1,155.5 L314.2,156.5 L320.3,157.5 L320.3,161.3 L314.2,160.4 L308.1,159.4 L302.0,158.4 L295.9,157.2 L289.8,155.9 L283.7,154.5 L277.6,152.9 L271.5,151.2 L265.4,149.3 L259.3,147.1 L253.2,144.7 L247.1,142.1 L241.0,139.2 L234.9,136.1 L228.8,132.7 L222.7,129.0 L216.6,125.2 L210.5,121.1 L204.4,117.0 L198.3,112.9 L192.2,108.7 L186.1,104.7 L180.0,100.7 L173.9,96.8 L167.8,93.2Z" fill="url(#l117)"/>
<path d="M8.9,83.3 L15.1,84.7 L21.3,86.1 L27.5,87.6 L33.7,89.0 L39.9,90.4 L46.1,91.9 L46.1,95.6 L39.9,94.2 L33.7,92.8 L27.5,91.4 L21.3,89.9 L15.1,88.5 L8.9,87.1Z" fill="url(#l118)"/>
<path d="M34.1,66.9 L40.2,68.4 L46.3,69.8 L52.4,71.3 L58.4,72.8 L64.5,74.3 L70.6,75.9 L76.7,77.5 L82.7,79.1 L88.8,80.8 L94.9,82.6 L101.0,84.5 L107.1,86.5 L113.1,88.5 L119.2,90.8 L125.3,93.1 L131.4,95.7 L137.4,98.4 L143.5,101.4 L149.6,104.5 L155.7,107.9 L161.8,111.5 L167.8,115.3 L167.8,119.3 L161.8,115.5 L155.7,111.8 L149.6,108.4 L143.5,105.2 L137.4,102.2 L131.4,99.4 L125.3,96.9 L119.2,94.5 L113.1,92.3 L107.1,90.2 L101.0,88.2 L94.9,86.3 L88.8,84.6 L82.7,82.9 L76.7,81.2 L70.6,79.6 L64.5,78.1 L58.4,76.6 L52.4,75.1 L46.3,73.6 L40.2,72.2 L34.1,70.7Z" fill="url(#l119)"/>
<path d="M152.4,83.3 L158.6,86.6 L164.8,90.0 L171.0,93.7 L177.3,97.5 L183.5,101.5 L189.7,105.6 L195.9,109.8 L202.1,114.0 L208.4,118.2 L214.6,122.3 L220.8,126.3 L227.0,130.1 L233.2,133.7 L239.5,137.0 L245.7,140.0 L251.9,142.8 L258.1,145.3 L264.3,147.5 L270.5,149.5 L276.8,151.3 L283.0,152.9 L289.2,154.4 L295.4,155.7 L301.6,156.9 L307.9,158.0 L314.1,159.0 L320.3,160.0 L320.3,163.9 L314.1,162.9 L307.9,161.9 L301.6,160.8 L295.4,159.6 L289.2,158.3 L283.0,156.9 L276.8,155.3 L270.5,153.5 L264.3,151.5 L258.1,149.3 L251.9,146.8 L245.7,144.1 L239.5,141.1 L233.2,137.9 L227.0,134.3 L220.8,130.6 L214.6,126.6 L208.4,122.5 L202.1,118.2 L195.9,114.0 L189.7,109.8 L183.5,105.6 L177.3,101.6 L171.0,97.7 L164.8,94.0 L158.6,90.5 L152.4,87.2Z" fill="url(#l120)"/>
<path d="M8.9,85.7 L15.2,87.2 L21.5,88.6 L27.8,90.1 L34.1,91.5 L34.1,95.3 L27.8,93.9 L21.5,92.4 L15.2,91.0 L8.9,89.6Z" fill="url(#l121)"/>
<path d="M22.4,66.6 L28.6,68.1 L34.8,69.5 L41.0,71.0 L47.1,72.5 L53.3,74.0 L59.5,75.5 L65.7,77.1 L71.9,78.7 L78.1,80.3 L84.3,82.0 L90.5,83.7 L96.7,85.6 L102.9,87.5 L109.1,89.5 L115.2,91.7 L121.4,94.0 L127.6,96.5 L133.8,99.2 L140.0,102.1 L146.2,105.2 L152.4,108.6 L152.4,112.5 L146.2,109.1 L140.0,105.9 L133.8,103.0 L127.6,100.3 L121.4,97.8 L115.2,95.4 L109.1,93.3 L102.9,91.2 L96.7,89.3 L90.5,87.5 L84.3,85.7 L78.1,84.0 L71.9,82.4 L65.7,80.8 L59.5,79.3 L53.3,77.8 L47.1,76.3 L41.0,74.8 L34.8,73.3 L28.6,71.9 L22.4,70.4Z" fill="url(#l122)"/>
<path d="M138.0,79.0 L144.1,81.8 L150.2,84.7 L156.3,87.9 L162.3,91.2 L168.4,94.7 L174.5,98.4 L180.6,102.3 L186.6,106.2 L192.7,110.3 L198.8,114.5 L204.9,118.6 L210.9,122.7 L217.0,126.7 L223.1,130.5 L229.2,134.1 L235.2,137.5 L241.3,140.6 L247.4,143.5 L253.5,146.1 L259.5,148.4 L265.6,150.5 L271.7,152.4 L277.8,154.1 L283.8,155.7 L289.9,157.1 L296.0,158.4 L302.1,159.5 L308.1,160.6 L314.2,161.6 L320.3,162.5 L320.3,166.4 L314.2,165.5 L308.1,164.5 L302.1,163.4 L296.0,162.3 L289.9,161.0 L283.8,159.6 L277.8,158.1 L271.7,156.4 L265.6,154.5 L259.5,152.4 L253.5,150.1 L247.4,147.6 L241.3,144.7 L235.2,141.7 L229.2,138.3 L223.1,134.7 L217.0,130.9 L210.9,127.0 L204.9,122.9 L198.8,118.7 L192.7,114.5 L186.6,110.4 L180.6,106.4 L174.5,102.5 L168.4,98.8 L162.3,95.2 L156.3,91.8 L150.2,88.6 L144.1,85.6 L138.0,82.8Z" fill="url(#l123)"/>
<path d="M8.9,88.2 L15.6,89.8 L22.4,91.3 L22.4,95.1 L15.6,93.6 L8.9,92.0Z" fill="#1dce00"/>
<path d="M10.9,66.4 L17.0,67.8 L23.0,69.2 L29.1,70.7 L35.1,72.1 L41.2,73.5 L47.2,75.0 L53.3,76.4 L59.3,77.9 L65.4,79.4 L71.4,81.0 L77.5,82.5 L83.5,84.2 L89.6,85.9 L95.7,87.7 L101.7,89.5 L107.8,91.5 L113.8,93.6 L119.9,95.9 L125.9,98.3 L132.0,100.8 L138.0,103.6 L138.0,107.4 L132.0,104.6 L125.9,102.0 L119.9,99.6 L113.8,97.3 L107.8,95.2 L101.7,93.3 L95.7,91.4 L89.6,89.6 L83.5,87.9 L77.5,86.3 L71.4,84.7 L65.4,83.2 L59.3,81.7 L53.3,80.2 L47.2,78.7 L41.2,77.3 L35.1,75.9 L29.1,74.5 L23.0,73.0 L17.0,71.6 L10.9,70.2Z" fill="url(#l124)"/>
<path d="M124.0,75.6 L130.1,78.1 L136.3,80.7 L142.4,83.4 L148.6,86.4 L154.7,89.6 L160.8,92.9 L167.0,96.5 L173.1,100.2 L179.2,104.1 L185.4,108.1 L191.5,112.2 L197.6,116.4 L203.8,120.6 L209.9,124.8 L216.0,128.8 L222.2,132.7 L228.3,136.3 L234.4,139.8 L240.6,142.9 L246.7,145.8 L252.8,148.4 L259.0,150.8 L265.1,152.9 L271.2,154.9 L277.4,156.6 L283.5,158.2 L289.6,159.6 L295.8,160.8 L301.9,162.0 L308.0,163.1 L314.2,164.1 L320.3,165.0 L320.3,168.9 L314.2,168.0 L308.0,167.0 L301.9,165.9 L295.8,164.7 L289.6,163.5 L283.5,162.1 L277.4,160.5 L271.2,158.8 L265.1,156.9 L259.0,154.8 L252.8,152.5 L246.7,149.9 L240.6,147.1 L234.4,143.9 L228.3,140.5 L222.2,136.9 L216.0,133.1 L209.9,129.0 L203.8,124.9 L197.6,120.7 L191.5,116.4 L185.4,112.3 L179.2,108.2 L173.1,104.3 L167.0,100.5 L160.8,96.9 L154.7,93.5 L148.6,90.3 L142.4,87.3 L136.3,84.5 L130.1,81.8 L124.0,79.4Z" fill="url(#l125)"/>
<path d="M297.8,138.5 L305.3,139.9 L312.8,141.2 L320.3,142.4 L320.3,146.2 L312.8,145.1 L305.3,143.8 L297.8,142.4Z" fill="url(#l126)"/>
<path d="M8.9,91.4 L9.9,91.6 L10.9,91.8 M8.9,69.1 L15.0,70.5 L21.0,71.9 L27.1,73.3 L33.1,74.7 L39.2,76.2 L45.3,77.6 L51.3,79.1 L57.4,80.5 L63.4,82.0 L69.5,83.5 L75.5,85.1 L81.6,86.7 L87.7,88.4 L93.7,90.2 L99.8,92.0 L105.8,93.9 L111.9,96.0 L118.0,98.2 L124.0,100.6 M110.3,73.7 L116.3,75.8 L122.4,78.1 L128.4,80.5 L134.5,83.0 L140.5,85.7 L146.6,88.6 L152.6,91.7 L158.7,95.0 L164.7,98.5 L170.8,102.1 L176.8,105.9 L182.9,109.9 L188.9,114.0 L195.0,118.1 L201.0,122.3 L207.1,126.4 L213.1,130.4 L219.2,134.3 L225.2,138.0 L231.3,141.5 L237.3,144.7 L243.3,147.7 L249.4,150.4 L255.4,152.8 L261.5,155.0 L267.5,157.0 L273.6,158.8 L279.6,160.4 L285.7,161.9 L291.7,163.2 L297.8,164.5 M272.4,135.3 L279.2,137.3 L286.1,139.1 L292.9,140.7 L299.8,142.1 L306.6,143.4 L313.5,144.5 L320.3,145.6 M8.9,71.5 L15.2,73.0 L21.6,74.5 L27.9,76.0 L34.3,77.5 L40.6,79.0 L46.9,80.5 L53.3,82.0 L59.6,83.5 L65.9,85.1 L72.3,86.7 L78.6,88.4 L85.0,90.1 L91.3,91.9 L97.6,93.7 L104.0,95.7 L110.3,97.9 M96.9,71.8 L102.9,73.7 L109.0,75.7 L115.0,77.8 L121.1,80.0 L127.1,82.4 L133.2,84.9 L139.2,87.6 L145.3,90.5 L151.3,93.6 L157.4,96.8 L163.4,100.3 L169.5,103.9 L175.5,107.8 L181.6,111.7 L187.6,115.8 L193.7,120.0 L199.7,124.2 L205.8,128.3 L211.8,132.4 L217.9,136.3 L224.0,140.0 L230.0,143.5 L236.1,146.8 L242.1,149.7 L248.2,152.5 L254.2,154.9 L260.3,157.2 L266.3,159.2 L272.4,161.0 M247.6,128.4 L253.7,131.1 L259.8,133.5 L265.8,135.8 L271.9,137.7 L277.9,139.5 L284.0,141.1 L290.0,142.6 L296.1,143.9 L302.1,145.1 L308.2,146.2 L314.2,147.2 L320.3,148.1 M8.9,74.0 L15.2,75.5 L21.5,77.0 L27.8,78.4 L34.0,79.9 L40.3,81.4 L46.6,82.8 L52.9,84.3 L59.2,85.9 L65.5,87.4 L71.7,89.0 L78.0,90.6 L84.3,92.3 L90.6,94.1 L96.9,95.9 M83.8,70.4 L89.8,72.1 L95.9,73.9 L102.0,75.8 L108.0,77.8 L114.1,79.9 L120.2,82.1 L126.3,84.4 L132.3,87.0 L138.4,89.7 L144.5,92.6 L150.5,95.7 L156.6,98.9 L162.7,102.4 L168.7,106.1 L174.8,109.9 L180.9,113.9 L186.9,118.1 L193.0,122.2 L199.1,126.5 L205.2,130.6 L211.2,134.7 L217.3,138.7 L223.4,142.4 L229.4,145.9 L235.5,149.2 L241.6,152.2 L247.6,154.9 M224.6,118.5 L231.0,122.3 L237.4,125.9 L243.7,129.2 L250.1,132.2 L256.5,134.9 L262.9,137.3 L269.3,139.5 L275.6,141.4 L282.0,143.2 L288.4,144.7 L294.8,146.1 L301.2,147.4 L307.5,148.6 L313.9,149.6 L320.3,150.6 M8.9,76.5 L15.1,78.0 L21.4,79.4 L27.6,80.8 L33.9,82.3 L40.1,83.8 L46.3,85.2 L52.6,86.7 L58.8,88.2 L65.1,89.7 L71.3,91.3 L77.5,92.9 L83.8,94.6 M70.9,69.3 L77.1,71.0 L83.2,72.7 L89.4,74.4 L95.5,76.2 L101.7,78.1 L107.8,80.1 L114.0,82.2 L120.1,84.5 L126.3,86.9 L132.4,89.4 L138.6,92.2 L144.7,95.2 L150.8,98.3 L157.0,101.7 L163.1,105.3 L169.3,109.1 L175.4,113.0 L181.6,117.1 L187.7,121.3 L193.9,125.6 L200.0,129.9 L206.2,134.1 L212.3,138.2 L218.5,142.1 L224.6,145.9 M203.8,107.5 L209.9,111.7 L216.0,115.7 L222.2,119.7 L228.3,123.4 L234.4,127.0 L240.6,130.2 L246.7,133.3 L252.8,136.0 L259.0,138.5 L265.1,140.7 L271.2,142.7 L277.4,144.5 L283.5,146.1 L289.6,147.6 L295.8,148.9 L301.9,150.1 L308.0,151.2 L314.2,152.2 L320.3,153.1 M8.9,79.0 L15.1,80.4 L21.3,81.9 L27.5,83.3 L33.7,84.7 L39.9,86.2 L46.1,87.6 L52.3,89.1 L58.5,90.6 L64.7,92.1 L70.9,93.6 M58.4,68.6 L64.4,70.1 L70.5,71.7 L76.6,73.3 L82.6,74.9 L88.7,76.6 L94.7,78.4 L100.8,80.3 L106.8,82.2 L112.9,84.3 L119.0,86.5 L125.0,88.8 L131.1,91.3 L137.1,94.0 L143.2,96.9 L149.2,100.0 L155.3,103.3 L161.4,106.8 L167.4,110.5 L173.5,114.4 L179.5,118.4 L185.6,122.6 L191.6,126.8 L197.7,131.0 L203.8,135.2 M184.9,97.7 L191.1,101.7 L197.2,105.9 L203.4,110.0 L209.5,114.2 L215.7,118.3 L221.8,122.2 L228.0,126.0 L234.1,129.5 L240.3,132.8 L246.4,135.8 L252.6,138.5 L258.8,141.0 L264.9,143.2 L271.1,145.2 L277.2,147.0 L283.4,148.6 L289.5,150.1 L295.7,151.4 L301.8,152.6 L308.0,153.7 L314.1,154.7 L320.3,155.6 M8.9,81.5 L15.1,82.9 L21.3,84.3 L27.5,85.7 L33.6,87.2 L39.8,88.6 L46.0,90.1 L52.2,91.5 L58.4,93.0 M46.1,68.0 L52.2,69.5 L58.2,71.0 L64.2,72.5 L70.3,74.0 L76.3,75.6 L82.3,77.2 L88.4,78.9 L94.4,80.7 L100.4,82.5 L106.5,84.5 L112.5,86.5 L118.5,88.7 L124.6,91.1 L130.6,93.6 L136.6,96.2 L142.7,99.1 L148.7,102.2 L154.7,105.5 L160.8,109.0 L166.8,112.7 L172.8,116.6 L178.9,120.6 L184.9,124.8 M167.8,89.9 L173.9,93.5 L180.0,97.3 L186.1,101.2 L192.2,105.3 L198.3,109.4 L204.4,113.5 L210.5,117.6 L216.6,121.7 L222.7,125.5 L228.8,129.2 L234.9,132.6 L241.0,135.8 L247.1,138.8 L253.2,141.4 L259.3,143.8 L265.4,146.0 L271.5,147.9 L277.6,149.7 L283.7,151.3 L289.8,152.7 L295.9,154.0 L302.0,155.1 L308.1,156.2 L314.2,157.2 L320.3,158.1 M8.9,83.9 L15.1,85.4 L21.3,86.8 L27.5,88.2 L33.7,89.7 L39.9,91.1 L46.1,92.5 M34.1,67.6 L40.2,69.0 L46.3,70.5 L52.4,72.0 L58.4,73.5 L64.5,75.0 L70.6,76.5 L76.7,78.1 L82.7,79.8 L88.8,81.5 L94.9,83.3 L101.0,85.1 L107.1,87.1 L113.1,89.2 L119.2,91.4 L125.3,93.8 L131.4,96.3 L137.4,99.1 L143.5,102.0 L149.6,105.2 L155.7,108.6 L161.8,112.2 L167.8,116.0 M152.4,84.0 L158.6,87.3 L164.8,90.7 L171.0,94.4 L177.3,98.2 L183.5,102.2 L189.7,106.3 L195.9,110.5 L202.1,114.7 L208.4,119.0 L214.6,123.1 L220.8,127.1 L227.0,130.9 L233.2,134.4 L239.5,137.7 L245.7,140.7 L251.9,143.5 L258.1,146.0 L264.3,148.2 L270.5,150.2 L276.8,152.0 L283.0,153.6 L289.2,155.1 L295.4,156.4 L301.6,157.6 L307.9,158.7 L314.1,159.7 L320.3,160.7 M8.9,86.4 L15.2,87.9 L21.5,89.3 L27.8,90.8 L34.1,92.2 M22.4,67.3 L28.6,68.7 L34.8,70.2 L41.0,71.7 L47.1,73.2 L53.3,74.7 L59.5,76.2 L65.7,77.7 L71.9,79.3 L78.1,80.9 L84.3,82.6 L90.5,84.4 L96.7,86.2 L102.9,88.1 L109.1,90.2 L115.2,92.4 L121.4,94.7 L127.6,97.2 L133.8,99.9 L140.0,102.8 L146.2,105.9 L152.4,109.3 M138.0,79.6 L144.1,82.4 L150.2,85.4 L156.3,88.6 L162.3,91.9 L168.4,95.4 L174.5,99.1 L180.6,103.0 L186.6,107.0 L192.7,111.1 L198.8,115.2 L204.9,119.4 L210.9,123.4 L217.0,127.4 L223.1,131.2 L229.2,134.9 L235.2,138.2 L241.3,141.3 L247.4,144.2 L253.5,146.8 L259.5,149.1 L265.6,151.2 L271.7,153.1 L277.8,154.8 L283.8,156.4 L289.9,157.8 L296.0,159.0 L302.1,160.2 L308.1,161.3 L314.2,162.3 L320.3,163.2 M8.9,88.9 L15.6,90.4 L22.4,92.0 M10.9,67.1 L17.0,68.5 L23.0,69.9 L29.1,71.3 L35.1,72.7 L41.2,74.2 L47.2,75.6 L53.3,77.1 L59.3,78.6 L65.4,80.1 L71.4,81.6 L77.5,83.2 L83.5,84.8 L89.6,86.5 L95.7,88.3 L101.7,90.2 L107.8,92.2 L113.8,94.3 L119.9,96.5 L125.9,98.9 L132.0,101.5 L138.0,104.3 M124.0,76.3 L130.1,78.7 L136.3,81.3 L142.4,84.1 L148.6,87.1 L154.7,90.3 L160.8,93.6 L167.0,97.2 L173.1,100.9 L179.2,104.8 L185.4,108.8 L191.5,113.0 L197.6,117.2 L203.8,121.4 L209.9,125.5 L216.0,129.6 L222.2,133.4 L228.3,137.1 L234.4,140.5 L240.6,143.6 L246.7,146.5 L252.8,149.1 L259.0,151.5 L265.1,153.6 L271.2,155.6 L277.4,157.3 L283.5,158.8 L289.6,160.2 L295.8,161.5 L301.9,162.7 L308.0,163.8 L314.2,164.8 L320.3,165.7 M297.8,139.2 L305.3,140.6 L312.8,141.9 L320.3,143.1" fill="none" stroke="#000" stroke-width="0.70" stroke-opacity="0.12"/>
<path d="M11.0,77.5 L14.1,77.5 L17.3,77.9 L20.4,78.4 L23.5,78.9 L26.7,79.5 L29.8,80.1 L32.9,80.7 L36.1,81.4 L39.2,82.1 L42.3,82.8 L45.5,83.6 L48.6,84.4 L51.7,85.3 L54.9,86.2 L58.0,87.5 L58.0,87.5 L54.9,87.4 L51.7,86.9 L48.6,86.4 L45.5,85.8 L42.3,85.2 L39.2,84.6 L36.1,84.0 L32.9,83.3 L29.8,82.6 L26.7,81.9 L23.5,81.2 L20.4,80.4 L17.3,79.6 L14.1,78.7 L11.0,77.5Z" fill="#10e0e0" fill-opacity="0.90"/>
<path d="M52.0,89.0 L55.0,88.8 L58.1,88.8 L61.1,88.9 L64.1,89.1 L67.2,89.3 L70.2,89.5 L73.2,89.7 L76.3,90.0 L79.3,90.3 L82.3,90.6 L85.4,91.0 L88.4,91.3 L91.4,91.7 L94.5,92.2 L97.5,92.7 L100.5,93.2 L103.5,93.7 L106.6,94.3 L109.6,94.9 L112.6,95.6 L115.7,96.3 L118.7,97.1 L121.7,97.9 L124.8,98.8 L127.8,99.7 L130.8,100.7 L133.9,101.7 L136.9,102.9 L139.9,104.1 L143.0,105.4 L146.0,107.0 L146.0,107.0 L143.0,106.3 L139.9,105.4 L136.9,104.5 L133.9,103.6 L130.8,102.8 L127.8,102.0 L124.8,101.2 L121.7,100.5 L118.7,99.8 L115.7,99.1 L112.6,98.4 L109.6,97.8 L106.6,97.3 L103.5,96.7 L100.5,96.2 L97.5,95.7 L94.5,95.2 L91.4,94.7 L88.4,94.2 L85.4,93.8 L82.3,93.4 L79.3,93.0 L76.3,92.6 L73.2,92.2 L70.2,91.8 L67.2,91.4 L64.1,91.0 L61.1,90.6 L58.1,90.2 L55.0,89.7 L52.0,89.0Z" fill="#1048e0" fill-opacity="0.90"/>
<path d="M225.0,122.1 L228.0,123.3 L231.0,124.5 L234.0,125.8 L237.0,127.0 L240.0,128.2 L243.0,129.3 L246.0,130.4 L249.0,131.4 L252.0,132.4 L255.0,133.4 L258.0,134.3 L261.0,135.1 L264.0,136.0 L267.0,136.7 L270.0,137.5 L273.0,138.2 L276.0,138.8 L279.0,139.5 L282.0,140.3 L282.0,140.3 L279.0,140.2 L276.0,139.8 L273.0,139.3 L270.0,138.7 L267.0,138.1 L264.0,137.4 L261.0,136.7 L258.0,135.9 L255.0,135.0 L252.0,134.0 L249.0,133.0 L246.0,131.9 L243.0,130.8 L240.0,129.5 L237.0,128.2 L234.0,126.9 L231.0,125.4 L228.0,123.9 L225.0,122.1Z" fill="#1050e8" fill-opacity="0.90"/>
<path d="M257.5,139.3 L260.5,139.9 L263.6,140.6 L266.6,141.4 L269.6,142.1 L272.6,142.8 L275.6,143.5 L278.7,144.1 L281.7,144.8 L284.7,145.3 L287.8,145.9 L290.8,146.5 L293.8,147.0 L296.8,147.5 L299.9,148.0 L302.9,148.5 L305.9,149.0 L308.9,149.5 L311.9,150.0 L315.0,150.5 L318.0,151.3 L318.0,151.3 L315.0,151.4 L311.9,151.2 L308.9,151.0 L305.9,150.7 L302.9,150.4 L299.9,150.0 L296.8,149.6 L293.8,149.2 L290.8,148.7 L287.8,148.1 L284.7,147.5 L281.7,146.9 L278.7,146.2 L275.6,145.5 L272.6,144.7 L269.6,143.8 L266.6,142.9 L263.6,141.8 L260.5,140.7 L257.5,139.3Z" fill="#0a2ad8" fill-opacity="1.00"/>
<path d="M275.0,149.8 L278.1,150.2 L281.1,150.8 L284.2,151.4 L287.3,152.0 L290.4,152.6 L293.4,153.2 L296.5,153.8 L299.6,154.4 L302.6,155.0 L305.7,155.6 L308.8,156.3 L311.9,156.9 L314.9,157.6 L318.0,158.5 L318.0,158.5 L314.9,158.5 L311.9,158.2 L308.8,157.8 L305.7,157.4 L302.6,156.9 L299.6,156.4 L296.5,155.8 L293.4,155.2 L290.4,154.5 L287.3,153.8 L284.2,153.0 L281.1,152.1 L278.1,151.1 L275.0,149.8Z" fill="#0a50e8" fill-opacity="1.00"/>
</g>
<g clip-path="url(#l2_c)" filter="url(#blur)">
<path d="M1.5,177.4 L2.5,177.6 L3.5,177.9 L3.5,181.6 L2.5,181.4 L1.5,181.1Z" fill="#70dc00"/>
<path d="M1.5,155.5 L7.8,157.0 L14.1,158.4 L20.4,159.8 L26.7,161.2 L33.0,162.6 L39.3,164.0 L45.6,165.5 L51.9,166.9 L58.2,168.4 L64.5,170.0 L70.8,171.6 L77.2,173.2 L83.5,175.0 L89.8,176.8 L96.1,178.7 L102.4,180.8 L108.7,183.0 L115.0,185.4 L115.0,189.4 L108.7,186.9 L102.4,184.7 L96.1,182.6 L89.8,180.7 L83.5,178.8 L77.2,177.1 L70.8,175.4 L64.5,173.8 L58.2,172.2 L51.9,170.7 L45.6,169.3 L39.3,167.8 L33.0,166.4 L26.7,164.9 L20.4,163.5 L14.1,162.1 L7.8,160.7 L1.5,159.3Z" fill="url(#l20)"/>
<path d="M101.5,157.6 L107.7,159.6 L113.8,161.7 L120.0,164.0 L126.2,166.5 L132.4,169.2 L138.6,172.1 L144.8,175.3 L151.0,178.7 L157.2,182.4 L163.4,186.3 L169.6,190.4 L175.8,194.7 L181.9,199.1 L188.1,203.6 L194.3,208.2 L200.5,212.6 L206.7,217.0 L212.9,221.2 L219.1,225.2 L225.3,228.9 L231.5,232.3 L237.7,235.3 L243.9,238.1 L250.0,240.6 L256.2,242.9 L262.4,244.9 L268.6,246.7 L274.8,248.3 L281.0,249.8 L281.0,253.6 L274.8,252.2 L268.6,250.6 L262.4,248.8 L256.2,246.8 L250.0,244.6 L243.9,242.1 L237.7,239.3 L231.5,236.3 L225.3,233.0 L219.1,229.3 L212.9,225.4 L206.7,221.3 L200.5,216.9 L194.3,212.5 L188.1,208.0 L181.9,203.5 L175.8,199.0 L169.6,194.7 L163.4,190.6 L157.2,186.6 L151.0,182.9 L144.8,179.5 L138.6,176.2 L132.4,173.3 L126.2,170.5 L120.0,168.0 L113.8,165.7 L107.7,163.5 L101.5,161.5Z" fill="url(#l21)"/>
<path d="M256.0,220.0 L262.4,222.2 L268.8,224.2 L275.2,225.9 L281.5,227.4 L287.9,228.8 L294.3,230.0 L300.7,231.2 L307.0,232.2 L313.4,233.1 L313.4,237.0 L307.0,236.0 L300.7,235.0 L294.3,233.9 L287.9,232.6 L281.5,231.3 L275.2,229.8 L268.8,228.0 L262.4,226.1 L256.0,223.9Z" fill="url(#l22)"/>
<path d="M1.5,158.0 L7.7,159.4 L14.0,160.8 L20.2,162.2 L26.5,163.6 L32.7,165.0 L39.0,166.4 L45.2,167.8 L51.5,169.3 L57.7,170.8 L64.0,172.3 L70.2,173.9 L76.5,175.5 L82.7,177.3 L89.0,179.1 L95.2,181.0 L101.5,183.0 L101.5,186.9 L95.2,184.9 L89.0,182.9 L82.7,181.1 L76.5,179.4 L70.2,177.7 L64.0,176.1 L57.7,174.6 L51.5,173.1 L45.2,171.6 L39.0,170.2 L32.7,168.7 L26.5,167.3 L20.2,165.9 L14.0,164.5 L7.7,163.1 L1.5,161.7Z" fill="url(#l23)"/>
<path d="M88.2,156.3 L94.5,158.0 L100.7,159.9 L106.9,161.9 L113.1,164.0 L119.3,166.3 L125.5,168.8 L131.7,171.5 L138.0,174.5 L144.2,177.7 L150.4,181.1 L156.6,184.8 L162.8,188.7 L169.0,192.8 L175.3,197.1 L181.5,201.6 L187.7,206.1 L193.9,210.6 L200.1,215.1 L206.3,219.5 L212.5,223.7 L218.8,227.7 L225.0,231.3 L231.2,234.7 L237.4,237.8 L243.6,240.6 L249.8,243.1 L256.0,245.4 L256.0,249.3 L249.8,247.0 L243.6,244.6 L237.4,241.8 L231.2,238.8 L225.0,235.4 L218.8,231.8 L212.5,227.9 L206.3,223.8 L200.1,219.4 L193.9,215.0 L187.7,210.4 L181.5,205.9 L175.3,201.5 L169.0,197.2 L162.8,193.0 L156.6,189.1 L150.4,185.3 L144.2,181.8 L138.0,178.6 L131.7,175.6 L125.5,172.9 L119.3,170.3 L113.1,168.0 L106.9,165.8 L100.7,163.8 L94.5,161.9 L88.2,160.1Z" fill="url(#l24)"/>
<path d="M232.3,211.7 L238.5,215.0 L244.7,218.0 L251.0,220.6 L257.2,223.0 L263.5,225.1 L269.7,226.9 L276.0,228.6 L282.2,230.1 L288.4,231.4 L294.7,232.6 L300.9,233.7 L307.2,234.7 L313.4,235.6 L313.4,239.5 L307.2,238.5 L300.9,237.5 L294.7,236.4 L288.4,235.2 L282.2,233.9 L276.0,232.4 L269.7,230.8 L263.5,229.0 L257.2,226.9 L251.0,224.5 L244.7,221.9 L238.5,219.0 L232.3,215.7Z" fill="url(#l25)"/>
<path d="M1.5,160.4 L7.7,161.8 L13.9,163.2 L20.1,164.6 L26.3,166.0 L32.5,167.4 L38.7,168.8 L44.9,170.2 L51.1,171.7 L57.3,173.1 L63.5,174.7 L69.7,176.2 L75.9,177.9 L82.0,179.6 L88.2,181.4 L88.2,185.2 L82.0,183.4 L75.9,181.7 L69.7,180.0 L63.5,178.5 L57.3,176.9 L51.1,175.4 L44.9,174.0 L38.7,172.5 L32.5,171.1 L26.3,169.7 L20.1,168.3 L13.9,166.9 L7.7,165.5 L1.5,164.1Z" fill="url(#l26)"/>
<path d="M75.3,155.3 L81.4,156.9 L87.4,158.5 L93.4,160.2 L99.5,162.0 L105.5,164.0 L111.5,166.0 L117.6,168.3 L123.6,170.6 L129.6,173.2 L135.7,176.0 L141.7,179.1 L147.8,182.3 L153.8,185.9 L159.8,189.6 L165.9,193.5 L171.9,197.6 L177.9,201.9 L184.0,206.2 L190.0,210.6 L196.0,215.0 L202.1,219.3 L208.1,223.5 L214.2,227.5 L220.2,231.2 L226.2,234.7 L232.3,237.9 L232.3,241.9 L226.2,238.8 L220.2,235.4 L214.2,231.7 L208.1,227.7 L202.1,223.6 L196.0,219.3 L190.0,215.0 L184.0,210.6 L177.9,206.2 L171.9,201.9 L165.9,197.8 L159.8,193.9 L153.8,190.1 L147.8,186.5 L141.7,183.2 L135.7,180.1 L129.6,177.3 L123.6,174.7 L117.6,172.3 L111.5,170.0 L105.5,167.9 L99.5,166.0 L93.4,164.1 L87.4,162.4 L81.4,160.7 L75.3,159.2Z" fill="url(#l27)"/>
<path d="M210.7,200.5 L216.7,204.7 L222.8,208.7 L228.8,212.3 L234.9,215.7 L240.9,218.8 L246.9,221.5 L253.0,223.9 L259.0,226.1 L265.1,228.1 L271.1,229.8 L277.1,231.4 L283.2,232.8 L289.2,234.1 L295.3,235.2 L301.3,236.3 L307.4,237.2 L313.4,238.1 L313.4,242.0 L307.4,241.1 L301.3,240.1 L295.3,239.0 L289.2,237.9 L283.2,236.6 L277.1,235.2 L271.1,233.7 L265.1,232.0 L259.0,230.0 L253.0,227.9 L246.9,225.4 L240.9,222.7 L234.9,219.7 L228.8,216.4 L222.8,212.8 L216.7,208.9 L210.7,204.8Z" fill="url(#l28)"/>
<path d="M1.5,162.8 L7.7,164.2 L13.8,165.6 L20.0,167.0 L26.1,168.4 L32.3,169.8 L38.4,171.2 L44.6,172.6 L50.7,174.0 L56.9,175.5 L63.0,177.0 L69.2,178.6 L75.3,180.2 L75.3,184.0 L69.2,182.4 L63.0,180.8 L56.9,179.3 L50.7,177.8 L44.6,176.4 L38.4,174.9 L32.3,173.5 L26.1,172.1 L20.0,170.7 L13.8,169.3 L7.7,168.0 L1.5,166.6Z" fill="url(#l29)"/>
<path d="M62.7,154.7 L68.8,156.2 L75.0,157.8 L81.2,159.4 L87.3,161.0 L93.5,162.8 L99.7,164.7 L105.8,166.6 L112.0,168.8 L118.2,171.1 L124.3,173.6 L130.5,176.3 L136.7,179.2 L142.8,182.4 L149.0,185.8 L155.2,189.5 L161.3,193.3 L167.5,197.4 L173.7,201.7 L179.8,206.1 L186.0,210.5 L192.2,215.0 L198.4,219.5 L204.5,223.8 L210.7,227.9 L210.7,232.2 L204.5,228.1 L198.4,223.8 L192.2,219.3 L186.0,214.9 L179.8,210.4 L173.7,206.0 L167.5,201.7 L161.3,197.6 L155.2,193.7 L149.0,190.0 L142.8,186.5 L136.7,183.3 L130.5,180.3 L124.3,177.6 L118.2,175.1 L112.0,172.7 L105.8,170.6 L99.7,168.6 L93.5,166.7 L87.3,164.9 L81.2,163.2 L75.0,161.6 L68.8,160.0 L62.7,158.5Z" fill="url(#l210)"/>
<path d="M191.2,188.9 L197.3,193.5 L203.4,198.0 L209.5,202.4 L215.6,206.7 L221.7,210.7 L227.8,214.4 L233.9,217.8 L240.1,220.9 L246.2,223.7 L252.3,226.2 L258.4,228.5 L264.5,230.4 L270.6,232.2 L276.7,233.8 L282.8,235.2 L289.0,236.5 L295.1,237.7 L301.2,238.7 L307.3,239.7 L313.4,240.6 L313.4,244.5 L307.3,243.5 L301.2,242.6 L295.1,241.5 L289.0,240.3 L282.8,239.1 L276.7,237.6 L270.6,236.1 L264.5,234.3 L258.4,232.3 L252.3,230.1 L246.2,227.7 L240.1,224.9 L233.9,221.9 L227.8,218.5 L221.7,214.8 L215.6,210.9 L209.5,206.7 L203.4,202.3 L197.3,197.8 L191.2,193.3Z" fill="url(#l211)"/>
<path d="M1.5,165.3 L7.6,166.6 L13.7,168.0 L19.9,169.4 L26.0,170.8 L32.1,172.2 L38.2,173.6 L44.3,175.0 L50.4,176.4 L56.6,177.9 L62.7,179.4 L62.7,183.2 L56.6,181.7 L50.4,180.2 L44.3,178.7 L38.2,177.3 L32.1,175.9 L26.0,174.5 L19.9,173.1 L13.7,171.8 L7.6,170.4 L1.5,169.0Z" fill="url(#l212)"/>
<path d="M50.3,154.3 L56.4,155.7 L62.6,157.2 L68.7,158.6 L74.8,160.2 L80.9,161.8 L87.1,163.5 L93.2,165.2 L99.3,167.1 L105.4,169.1 L111.5,171.2 L117.7,173.5 L123.8,176.0 L129.9,178.6 L136.0,181.6 L142.2,184.7 L148.3,188.1 L154.4,191.7 L160.5,195.6 L166.7,199.6 L172.8,203.9 L178.9,208.2 L185.0,212.6 L191.2,217.1 L191.2,221.4 L185.0,217.0 L178.9,212.6 L172.8,208.2 L166.7,204.0 L160.5,199.9 L154.4,196.0 L148.3,192.3 L142.2,188.9 L136.0,185.7 L129.9,182.7 L123.8,180.0 L117.7,177.5 L111.5,175.2 L105.4,173.0 L99.3,171.0 L93.2,169.1 L87.1,167.3 L80.9,165.6 L74.8,164.0 L68.7,162.5 L62.6,161.0 L56.4,159.5 L50.3,158.1Z" fill="url(#l213)"/>
<path d="M173.5,179.0 L179.6,183.3 L185.7,187.7 L191.7,192.2 L197.8,196.7 L203.9,201.2 L210.0,205.5 L216.1,209.7 L222.2,213.6 L228.2,217.3 L234.3,220.6 L240.4,223.7 L246.5,226.4 L252.6,228.9 L258.7,231.1 L264.7,233.0 L270.8,234.8 L276.9,236.3 L283.0,237.7 L289.1,239.0 L295.2,240.2 L301.2,241.2 L307.3,242.2 L313.4,243.1 L313.4,247.0 L307.3,246.0 L301.2,245.1 L295.2,244.0 L289.1,242.9 L283.0,241.6 L276.9,240.2 L270.8,238.6 L264.7,236.9 L258.7,235.0 L252.6,232.8 L246.5,230.4 L240.4,227.7 L234.3,224.7 L228.2,221.4 L222.2,217.8 L216.1,213.9 L210.0,209.8 L203.9,205.5 L197.8,201.0 L191.7,196.5 L185.7,192.0 L179.6,187.6 L173.5,183.4Z" fill="url(#l214)"/>
<path d="M1.5,167.7 L7.6,169.1 L13.7,170.4 L19.8,171.8 L25.9,173.2 L32.0,174.6 L38.1,176.0 L44.2,177.4 L50.3,178.8 L50.3,182.6 L44.2,181.2 L38.1,179.7 L32.0,178.3 L25.9,176.9 L19.8,175.6 L13.7,174.2 L7.6,172.8 L1.5,171.4Z" fill="url(#l215)"/>
<path d="M38.2,154.0 L44.4,155.4 L50.5,156.8 L56.7,158.2 L62.8,159.7 L69.0,161.2 L75.1,162.7 L81.3,164.4 L87.4,166.1 L93.6,167.8 L99.7,169.7 L105.9,171.8 L112.0,173.9 L118.2,176.3 L124.3,178.8 L130.5,181.5 L136.6,184.5 L142.8,187.7 L148.9,191.2 L155.1,194.9 L161.2,198.8 L167.4,202.9 L173.5,207.2 L173.5,211.5 L167.4,207.2 L161.2,203.1 L155.1,199.1 L148.9,195.4 L142.8,191.9 L136.6,188.6 L130.5,185.6 L124.3,182.8 L118.2,180.3 L112.0,177.9 L105.9,175.7 L99.7,173.6 L93.6,171.7 L87.4,169.9 L81.3,168.2 L75.1,166.6 L69.0,165.0 L62.8,163.5 L56.7,162.0 L50.5,160.6 L44.4,159.2 L38.2,157.8Z" fill="url(#l216)"/>
<path d="M157.5,171.5 L163.8,175.4 L170.0,179.5 L176.2,183.7 L182.5,188.2 L188.7,192.8 L194.9,197.4 L201.2,202.0 L207.4,206.5 L213.6,210.8 L219.9,214.9 L226.1,218.7 L232.3,222.2 L238.6,225.4 L244.8,228.3 L251.0,230.8 L257.3,233.1 L263.5,235.2 L269.8,237.0 L276.0,238.6 L282.2,240.1 L288.5,241.4 L294.7,242.6 L300.9,243.7 L307.2,244.7 L313.4,245.6 L313.4,249.4 L307.2,248.5 L300.9,247.5 L294.7,246.4 L288.5,245.2 L282.2,243.9 L276.0,242.5 L269.8,240.8 L263.5,239.0 L257.3,237.0 L251.0,234.8 L244.8,232.2 L238.6,229.4 L232.3,226.2 L226.1,222.8 L219.9,219.0 L213.6,215.0 L207.4,210.7 L201.2,206.2 L194.9,201.7 L188.7,197.1 L182.5,192.5 L176.2,188.1 L170.0,183.8 L163.8,179.7 L157.5,175.8Z" fill="url(#l217)"/>
<path d="M1.5,170.1 L7.6,171.5 L13.7,172.9 L19.9,174.3 L26.0,175.6 L32.1,177.0 L38.2,178.4 L38.2,182.2 L32.1,180.8 L26.0,179.4 L19.9,178.0 L13.7,176.6 L7.6,175.2 L1.5,173.9Z" fill="url(#l218)"/>
<path d="M26.4,153.8 L32.6,155.2 L38.9,156.6 L45.1,158.0 L51.4,159.4 L57.6,160.9 L63.9,162.4 L70.1,164.0 L76.3,165.6 L82.6,167.2 L88.8,169.0 L95.1,170.8 L101.3,172.8 L107.6,174.9 L113.8,177.2 L120.1,179.6 L126.3,182.3 L132.5,185.2 L138.8,188.3 L145.0,191.7 L151.3,195.3 L157.5,199.2 L157.5,203.5 L151.3,199.6 L145.0,195.9 L138.8,192.4 L132.5,189.3 L126.3,186.3 L120.1,183.7 L113.8,181.2 L107.6,178.9 L101.3,176.7 L95.1,174.7 L88.8,172.8 L82.6,171.1 L76.3,169.4 L70.1,167.8 L63.9,166.2 L57.6,164.7 L51.4,163.2 L45.1,161.8 L38.9,160.4 L32.6,159.0 L26.4,157.6Z" fill="url(#l219)"/>
<path d="M142.9,166.2 L149.0,169.4 L155.1,172.9 L161.2,176.5 L167.3,180.5 L173.4,184.6 L179.5,188.8 L185.5,193.3 L191.6,197.7 L197.7,202.2 L203.8,206.7 L209.9,211.0 L216.0,215.1 L222.1,218.9 L228.2,222.5 L234.3,225.8 L240.3,228.8 L246.4,231.5 L252.5,233.9 L258.6,236.1 L264.7,238.0 L270.8,239.8 L276.9,241.3 L283.0,242.7 L289.0,244.0 L295.1,245.2 L301.2,246.2 L307.3,247.2 L313.4,248.1 L313.4,251.9 L307.3,251.0 L301.2,250.1 L295.1,249.0 L289.0,247.8 L283.0,246.6 L276.9,245.2 L270.8,243.6 L264.7,241.9 L258.6,240.0 L252.5,237.9 L246.4,235.5 L240.3,232.8 L234.3,229.9 L228.2,226.6 L222.1,223.1 L216.0,219.2 L209.9,215.2 L203.8,210.9 L197.7,206.5 L191.6,202.1 L185.5,197.6 L179.5,193.2 L173.4,188.9 L167.3,184.8 L161.2,180.8 L155.1,177.1 L149.0,173.6 L142.9,170.3Z" fill="url(#l220)"/>
<path d="M1.5,172.5 L7.7,174.0 L13.9,175.4 L20.2,176.8 L26.4,178.2 L26.4,181.9 L20.2,180.5 L13.9,179.1 L7.7,177.7 L1.5,176.3Z" fill="url(#l221)"/>
<path d="M14.8,153.7 L20.9,155.0 L27.0,156.4 L33.1,157.7 L39.2,159.1 L45.3,160.5 L51.4,161.9 L57.5,163.4 L63.6,164.8 L69.7,166.3 L75.8,167.9 L81.9,169.5 L88.0,171.3 L94.1,173.1 L100.2,175.0 L106.3,177.0 L112.4,179.2 L118.5,181.6 L124.6,184.2 L130.7,187.0 L136.8,190.0 L142.9,193.2 L142.9,197.4 L136.8,194.1 L130.7,191.0 L124.6,188.2 L118.5,185.6 L112.4,183.2 L106.3,181.0 L100.2,178.9 L94.1,176.9 L88.0,175.1 L81.9,173.4 L75.8,171.7 L69.7,170.1 L63.6,168.6 L57.5,167.1 L51.4,165.7 L45.3,164.3 L39.2,162.9 L33.1,161.5 L27.0,160.1 L20.9,158.8 L14.8,157.4Z" fill="url(#l222)"/>
<path d="M128.8,162.3 L134.9,165.0 L141.1,168.0 L147.3,171.2 L153.4,174.6 L159.6,178.3 L165.7,182.2 L171.9,186.3 L178.0,190.6 L184.2,195.1 L190.3,199.6 L196.5,204.1 L202.6,208.6 L208.8,212.9 L214.9,217.1 L221.1,221.0 L227.3,224.7 L233.4,228.0 L239.6,231.1 L245.7,233.8 L251.9,236.2 L258.0,238.4 L264.2,240.4 L270.3,242.2 L276.5,243.7 L282.6,245.2 L288.8,246.4 L294.9,247.6 L301.1,248.7 L307.2,249.7 L313.4,250.6 L313.4,254.4 L307.2,253.5 L301.1,252.5 L294.9,251.4 L288.8,250.3 L282.6,249.0 L276.5,247.6 L270.3,246.0 L264.2,244.3 L258.0,242.3 L251.9,240.2 L245.7,237.7 L239.6,235.0 L233.4,232.0 L227.3,228.7 L221.1,225.2 L214.9,221.3 L208.8,217.2 L202.6,212.9 L196.5,208.4 L190.3,203.9 L184.2,199.4 L178.0,195.0 L171.9,190.7 L165.7,186.5 L159.6,182.6 L153.4,178.9 L147.3,175.4 L141.1,172.1 L134.9,169.1 L128.8,166.4Z" fill="url(#l223)"/>
<path d="M306.7,227.1 L310.0,227.6 L313.4,228.1 L313.4,232.0 L310.0,231.5 L306.7,231.0Z" fill="#20cf00"/>
<path d="M1.5,175.0 L8.2,176.5 L14.8,178.0 L14.8,181.7 L8.2,180.2 L1.5,178.7Z" fill="url(#l224)"/>
<path d="M3.5,153.6 L9.8,155.0 L16.0,156.4 L22.3,157.8 L28.6,159.2 L34.8,160.6 L41.1,162.0 L47.4,163.4 L53.6,164.9 L59.9,166.4 L66.1,167.9 L72.4,169.5 L78.7,171.1 L84.9,172.9 L91.2,174.7 L97.5,176.6 L103.7,178.7 L110.0,180.9 L116.3,183.3 L122.5,185.9 L128.8,188.7 L128.8,192.8 L122.5,189.9 L116.3,187.3 L110.0,184.9 L103.7,182.6 L97.5,180.5 L91.2,178.6 L84.9,176.7 L78.7,175.0 L72.4,173.3 L66.1,171.7 L59.9,170.2 L53.6,168.7 L47.4,167.2 L41.1,165.8 L34.8,164.3 L28.6,162.9 L22.3,161.5 L16.0,160.1 L9.8,158.7 L3.5,157.3Z" fill="url(#l225)"/>
<path d="M115.0,159.5 L121.2,161.8 L127.3,164.3 L133.5,167.0 L139.7,170.0 L145.9,173.1 L152.1,176.6 L158.3,180.3 L164.4,184.2 L170.6,188.3 L176.8,192.6 L183.0,197.0 L189.2,201.6 L195.4,206.1 L201.5,210.6 L207.7,215.0 L213.9,219.1 L220.1,223.1 L226.3,226.8 L232.5,230.1 L238.6,233.2 L244.8,236.0 L251.0,238.5 L257.2,240.7 L263.4,242.7 L269.6,244.5 L275.7,246.1 L281.9,247.5 L288.1,248.8 L294.3,250.0 L300.5,251.1 L306.7,252.1 L306.7,255.9 L300.5,254.9 L294.3,253.8 L288.1,252.6 L281.9,251.3 L275.7,249.9 L269.6,248.3 L263.4,246.6 L257.2,244.6 L251.0,242.4 L244.8,239.9 L238.6,237.2 L232.5,234.2 L226.3,230.9 L220.1,227.2 L213.9,223.3 L207.7,219.2 L201.5,214.9 L195.4,210.4 L189.2,205.9 L183.0,201.4 L176.8,197.0 L170.6,192.6 L164.4,188.5 L158.3,184.5 L152.1,180.8 L145.9,177.3 L139.7,174.1 L133.5,171.1 L127.3,168.4 L121.2,165.8 L115.0,163.5Z" fill="url(#l226)"/>
<path d="M281.0,224.8 L287.5,226.2 L294.0,227.5 L300.4,228.6 L306.9,229.7 L313.4,230.6 L313.4,234.5 L306.9,233.5 L300.4,232.5 L294.0,231.3 L287.5,230.1 L281.0,228.7Z" fill="url(#l227)"/>
<path d="M1.5,178.1 L2.5,178.3 L3.5,178.5 M1.5,156.2 L7.8,157.6 L14.1,159.0 L20.4,160.4 L26.7,161.9 L33.0,163.3 L39.3,164.7 L45.6,166.1 L51.9,167.6 L58.2,169.1 L64.5,170.7 L70.8,172.2 L77.2,173.9 L83.5,175.6 L89.8,177.5 L96.1,179.4 L102.4,181.5 L108.7,183.7 L115.0,186.1 M101.5,158.3 L107.7,160.3 L113.8,162.4 L120.0,164.7 L126.2,167.2 L132.4,169.9 L138.6,172.8 L144.8,176.0 L151.0,179.5 L157.2,183.1 L163.4,187.0 L169.6,191.2 L175.8,195.4 L181.9,199.9 L188.1,204.4 L194.3,208.9 L200.5,213.4 L206.7,217.8 L212.9,221.9 L219.1,225.9 L225.3,229.6 L231.5,233.0 L237.7,236.0 L243.9,238.8 L250.0,241.3 L256.2,243.6 L262.4,245.6 L268.6,247.4 L274.8,249.0 L281.0,250.5 M256.0,220.7 L262.4,222.9 L268.8,224.9 L275.2,226.6 L281.5,228.1 L287.9,229.5 L294.3,230.7 L300.7,231.8 L307.0,232.9 L313.4,233.8 M1.5,158.6 L7.7,160.0 L14.0,161.4 L20.2,162.8 L26.5,164.2 L32.7,165.6 L39.0,167.1 L45.2,168.5 L51.5,170.0 L57.7,171.4 L64.0,173.0 L70.2,174.6 L76.5,176.2 L82.7,177.9 L89.0,179.7 L95.2,181.7 L101.5,183.7 M88.2,156.9 L94.5,158.7 L100.7,160.6 L106.9,162.6 L113.1,164.7 L119.3,167.0 L125.5,169.5 L131.7,172.2 L138.0,175.2 L144.2,178.4 L150.4,181.8 L156.6,185.5 L162.8,189.5 L169.0,193.6 L175.3,197.9 L181.5,202.3 L187.7,206.9 L193.9,211.4 L200.1,215.9 L206.3,220.2 L212.5,224.4 L218.8,228.4 L225.0,232.1 L231.2,235.4 L237.4,238.5 L243.6,241.3 L249.8,243.8 L256.0,246.0 M232.3,212.4 L238.5,215.7 L244.7,218.7 L251.0,221.3 L257.2,223.7 L263.5,225.8 L269.7,227.6 L276.0,229.3 L282.2,230.7 L288.4,232.1 L294.7,233.3 L300.9,234.4 L307.2,235.4 L313.4,236.3 M1.5,161.1 L7.7,162.5 L13.9,163.8 L20.1,165.2 L26.3,166.6 L32.5,168.0 L38.7,169.4 L44.9,170.9 L51.1,172.3 L57.3,173.8 L63.5,175.3 L69.7,176.9 L75.9,178.5 L82.0,180.2 L88.2,182.0 M75.3,156.0 L81.4,157.6 L87.4,159.2 L93.4,160.9 L99.5,162.7 L105.5,164.7 L111.5,166.7 L117.6,169.0 L123.6,171.4 L129.6,173.9 L135.7,176.8 L141.7,179.8 L147.8,183.1 L153.8,186.6 L159.8,190.3 L165.9,194.3 L171.9,198.4 L177.9,202.6 L184.0,207.0 L190.0,211.4 L196.0,215.8 L202.1,220.1 L208.1,224.2 L214.2,228.2 L220.2,231.9 L226.2,235.4 L232.3,238.6 M210.7,201.3 L216.7,205.5 L222.8,209.4 L228.8,213.0 L234.9,216.4 L240.9,219.4 L246.9,222.2 L253.0,224.6 L259.0,226.8 L265.1,228.8 L271.1,230.5 L277.1,232.1 L283.2,233.5 L289.2,234.7 L295.3,235.9 L301.3,236.9 L307.4,237.9 L313.4,238.8 M1.5,163.5 L7.7,164.9 L13.8,166.3 L20.0,167.6 L26.1,169.0 L32.3,170.4 L38.4,171.8 L44.6,173.2 L50.7,174.7 L56.9,176.2 L63.0,177.7 L69.2,179.2 L75.3,180.9 M62.7,155.4 L68.8,156.9 L75.0,158.4 L81.2,160.0 L87.3,161.7 L93.5,163.5 L99.7,165.3 L105.8,167.3 L112.0,169.5 L118.2,171.8 L124.3,174.3 L130.5,177.0 L136.7,179.9 L142.8,183.1 L149.0,186.5 L155.2,190.2 L161.3,194.1 L167.5,198.2 L173.7,202.4 L179.8,206.8 L186.0,211.3 L192.2,215.8 L198.4,220.2 L204.5,224.5 L210.7,228.7 M191.2,189.7 L197.3,194.3 L203.4,198.8 L209.5,203.2 L215.6,207.4 L221.7,211.4 L227.8,215.1 L233.9,218.5 L240.1,221.6 L246.2,224.4 L252.3,226.9 L258.4,229.1 L264.5,231.1 L270.6,232.9 L276.7,234.5 L282.8,235.9 L289.0,237.2 L295.1,238.3 L301.2,239.4 L307.3,240.4 L313.4,241.3 M1.5,165.9 L7.6,167.3 L13.7,168.7 L19.9,170.1 L26.0,171.4 L32.1,172.8 L38.2,174.2 L44.3,175.6 L50.4,177.1 L56.6,178.5 L62.7,180.1 M50.3,155.0 L56.4,156.4 L62.6,157.8 L68.7,159.3 L74.8,160.9 L80.9,162.5 L87.1,164.1 L93.2,165.9 L99.3,167.8 L105.4,169.8 L111.5,171.9 L117.7,174.2 L123.8,176.7 L129.9,179.4 L136.0,182.3 L142.2,185.4 L148.3,188.8 L154.4,192.5 L160.5,196.3 L166.7,200.4 L172.8,204.6 L178.9,209.0 L185.0,213.4 L191.2,217.9 M173.5,179.8 L179.6,184.1 L185.7,188.5 L191.7,193.0 L197.8,197.5 L203.9,201.9 L210.0,206.3 L216.1,210.4 L222.2,214.4 L228.2,218.0 L234.3,221.3 L240.4,224.4 L246.5,227.1 L252.6,229.6 L258.7,231.7 L264.7,233.7 L270.8,235.4 L276.9,237.0 L283.0,238.4 L289.1,239.7 L295.2,240.8 L301.2,241.9 L307.3,242.9 L313.4,243.8 M1.5,168.3 L7.6,169.7 L13.7,171.1 L19.8,172.5 L25.9,173.9 L32.0,175.2 L38.1,176.6 L44.2,178.1 L50.3,179.5 M38.2,154.7 L44.4,156.1 L50.5,157.5 L56.7,158.9 L62.8,160.4 L69.0,161.9 L75.1,163.4 L81.3,165.0 L87.4,166.7 L93.6,168.5 L99.7,170.4 L105.9,172.5 L112.0,174.6 L118.2,177.0 L124.3,179.5 L130.5,182.3 L136.6,185.2 L142.8,188.5 L148.9,191.9 L155.1,195.6 L161.2,199.6 L167.4,203.7 L173.5,207.9 M157.5,172.3 L163.8,176.1 L170.0,180.2 L176.2,184.5 L182.5,188.9 L188.7,193.5 L194.9,198.1 L201.2,202.7 L207.4,207.2 L213.6,211.5 L219.9,215.6 L226.1,219.4 L232.3,222.9 L238.6,226.1 L244.8,229.0 L251.0,231.5 L257.3,233.8 L263.5,235.8 L269.8,237.7 L276.0,239.3 L282.2,240.7 L288.5,242.1 L294.7,243.3 L300.9,244.3 L307.2,245.3 L313.4,246.3 M1.5,170.8 L7.6,172.2 L13.7,173.5 L19.9,174.9 L26.0,176.3 L32.1,177.7 L38.2,179.1 M26.4,154.5 L32.6,155.9 L38.9,157.3 L45.1,158.7 L51.4,160.1 L57.6,161.6 L63.9,163.1 L70.1,164.6 L76.3,166.2 L82.6,167.9 L88.8,169.7 L95.1,171.5 L101.3,173.5 L107.6,175.6 L113.8,177.9 L120.1,180.3 L126.3,183.0 L132.5,185.9 L138.8,189.0 L145.0,192.4 L151.3,196.1 L157.5,199.9 M142.9,166.9 L149.0,170.1 L155.1,173.6 L161.2,177.3 L167.3,181.2 L173.4,185.3 L179.5,189.6 L185.5,194.0 L191.6,198.5 L197.7,203.0 L203.8,207.4 L209.9,211.7 L216.0,215.8 L222.1,219.7 L228.2,223.2 L234.3,226.5 L240.3,229.5 L246.4,232.2 L252.5,234.6 L258.6,236.8 L264.7,238.7 L270.8,240.4 L276.9,242.0 L283.0,243.4 L289.0,244.7 L295.1,245.8 L301.2,246.9 L307.3,247.9 L313.4,248.8 M1.5,173.2 L7.7,174.6 L13.9,176.0 L20.2,177.4 L26.4,178.8 M14.8,154.3 L20.9,155.7 L27.0,157.0 L33.1,158.4 L39.2,159.8 L45.3,161.2 L51.4,162.6 L57.5,164.0 L63.6,165.5 L69.7,167.0 L75.8,168.6 L81.9,170.2 L88.0,171.9 L94.1,173.7 L100.2,175.7 L106.3,177.7 L112.4,179.9 L118.5,182.3 L124.6,184.9 L130.7,187.7 L136.8,190.7 L142.9,194.0 M128.8,163.0 L134.9,165.7 L141.1,168.7 L147.3,171.9 L153.4,175.4 L159.6,179.1 L165.7,183.0 L171.9,187.1 L178.0,191.4 L184.2,195.8 L190.3,200.4 L196.5,204.9 L202.6,209.3 L208.8,213.7 L214.9,217.8 L221.1,221.7 L227.3,225.4 L233.4,228.7 L239.6,231.7 L245.7,234.5 L251.9,236.9 L258.0,239.1 L264.2,241.1 L270.3,242.8 L276.5,244.4 L282.6,245.8 L288.8,247.1 L294.9,248.3 L301.1,249.4 L307.2,250.3 L313.4,251.3 M306.7,227.8 L310.0,228.3 L313.4,228.8 M1.5,175.6 L8.2,177.1 L14.8,178.6 M3.5,154.2 L9.8,155.6 L16.0,157.0 L22.3,158.4 L28.6,159.8 L34.8,161.2 L41.1,162.7 L47.4,164.1 L53.6,165.6 L59.9,167.0 L66.1,168.6 L72.4,170.2 L78.7,171.8 L84.9,173.6 L91.2,175.4 L97.5,177.3 L103.7,179.4 L110.0,181.6 L116.3,184.0 L122.5,186.6 L128.8,189.4 M115.0,160.2 L121.2,162.5 L127.3,165.0 L133.5,167.7 L139.7,170.7 L145.9,173.9 L152.1,177.3 L158.3,181.0 L164.4,184.9 L170.6,189.1 L176.8,193.4 L183.0,197.8 L189.2,202.3 L195.4,206.9 L201.5,211.3 L207.7,215.7 L213.9,219.9 L220.1,223.8 L226.3,227.5 L232.5,230.8 L238.6,233.9 L244.8,236.7 L251.0,239.2 L257.2,241.4 L263.4,243.4 L269.6,245.1 L275.7,246.7 L281.9,248.2 L288.1,249.5 L294.3,250.7 L300.5,251.7 L306.7,252.8 M281.0,225.5 L287.5,226.9 L294.0,228.2 L300.4,229.3 L306.9,230.3 L313.4,231.3" fill="none" stroke="#000" stroke-width="0.70" stroke-opacity="0.12"/>
<path d="M20.0,165.5 L23.1,165.7 L26.2,166.3 L29.2,167.0 L32.3,167.7 L35.4,168.5 L38.5,169.3 L41.5,170.2 L44.6,171.1 L47.7,172.1 L50.8,173.1 L53.8,174.2 L56.9,175.4 L60.0,177.0 L60.0,177.0 L56.9,176.7 L53.8,176.0 L50.8,175.3 L47.7,174.5 L44.6,173.7 L41.5,172.8 L38.5,171.9 L35.4,171.0 L32.3,170.1 L29.2,169.1 L26.2,168.1 L23.1,167.0 L20.0,165.5Z" fill="#10e0e0" fill-opacity="0.90"/>
<path d="M56.0,179.0 L59.1,178.7 L62.2,178.8 L65.2,178.9 L68.3,179.1 L71.4,179.3 L74.5,179.5 L77.5,179.8 L80.6,180.1 L83.7,180.5 L86.8,180.8 L89.8,181.3 L92.9,181.7 L96.0,182.2 L99.1,182.8 L102.2,183.3 L105.2,184.0 L108.3,184.7 L111.4,185.4 L114.5,186.2 L117.5,187.0 L120.6,188.0 L123.7,188.9 L126.8,190.0 L129.8,191.1 L132.9,192.4 L136.0,194.0 L136.0,194.0 L132.9,193.4 L129.8,192.6 L126.8,191.8 L123.7,191.0 L120.6,190.2 L117.5,189.5 L114.5,188.8 L111.4,188.1 L108.3,187.5 L105.2,186.9 L102.2,186.3 L99.1,185.7 L96.0,185.2 L92.9,184.7 L89.8,184.2 L86.8,183.7 L83.7,183.3 L80.6,182.8 L77.5,182.4 L74.5,182.0 L71.4,181.6 L68.3,181.1 L65.2,180.7 L62.2,180.3 L59.1,179.8 L56.0,179.0Z" fill="#1048e0" fill-opacity="0.90"/>
<path d="M218.0,208.8 L221.0,210.1 L224.1,211.5 L227.1,212.9 L230.2,214.2 L233.2,215.5 L236.3,216.7 L239.3,217.8 L242.4,218.9 L245.4,220.0 L248.5,221.0 L251.5,221.9 L254.6,222.7 L257.6,223.6 L260.7,224.3 L263.7,225.0 L266.8,225.7 L269.8,226.3 L272.9,226.9 L275.9,227.5 L279.0,228.1 L282.0,228.8 L282.0,228.8 L279.0,228.7 L275.9,228.4 L272.9,228.0 L269.8,227.5 L266.8,227.0 L263.7,226.4 L260.7,225.8 L257.6,225.1 L254.6,224.3 L251.5,223.5 L248.5,222.6 L245.4,221.6 L242.4,220.5 L239.3,219.3 L236.3,218.1 L233.2,216.8 L230.2,215.4 L227.1,213.9 L224.1,212.3 L221.0,210.7 L218.0,208.8Z" fill="#1050e8" fill-opacity="0.90"/>
<path d="M256.3,228.7 L259.3,229.1 L262.4,229.8 L265.4,230.4 L268.5,231.1 L271.5,231.7 L274.5,232.2 L277.6,232.8 L280.6,233.3 L283.6,233.9 L286.7,234.4 L289.7,234.8 L292.8,235.3 L295.8,235.8 L298.8,236.3 L301.9,236.7 L304.9,237.2 L308.0,237.7 L311.0,238.5 L311.0,238.5 L308.0,238.6 L304.9,238.5 L301.9,238.3 L298.8,238.0 L295.8,237.7 L292.8,237.4 L289.7,237.0 L286.7,236.5 L283.6,236.1 L280.6,235.5 L277.6,234.9 L274.5,234.3 L271.5,233.6 L268.5,232.8 L265.4,232.0 L262.4,231.1 L259.3,230.0 L256.3,228.7Z" fill="#0a2ad8" fill-opacity="1.00"/>
<path d="M273.4,238.5 L276.5,238.9 L279.7,239.5 L282.8,240.2 L285.9,240.9 L289.1,241.5 L292.2,242.2 L295.3,242.9 L298.5,243.6 L301.6,244.4 L304.7,245.1 L307.9,245.9 L311.0,247.0 L311.0,247.0 L307.9,246.9 L304.7,246.5 L301.6,246.1 L298.5,245.5 L295.3,244.9 L292.2,244.2 L289.1,243.5 L285.9,242.7 L282.8,241.9 L279.7,240.9 L276.5,239.9 L273.4,238.5Z" fill="#0a50e8" fill-opacity="1.00"/>
</g>
<g clip-path="url(#l3_c)" filter="url(#blur)">
<path d="M6.8,284.9 L7.8,285.2 L8.8,285.4 L8.8,289.2 L7.8,289.0 L6.8,288.7Z" fill="#85df00"/>
<path d="M6.8,262.7 L12.8,264.0 L18.9,265.4 L24.9,266.7 L30.9,268.1 L37.0,269.4 L43.0,270.7 L49.0,272.1 L55.1,273.5 L61.1,274.8 L67.1,276.3 L73.2,277.7 L79.2,279.2 L85.2,280.7 L91.3,282.3 L97.3,284.0 L103.3,285.8 L109.4,287.7 L115.4,289.8 L121.4,292.1 L121.4,296.0 L115.4,293.7 L109.4,291.6 L103.3,289.7 L97.3,287.9 L91.3,286.2 L85.2,284.5 L79.2,283.0 L73.2,281.5 L67.1,280.1 L61.1,278.7 L55.1,277.3 L49.0,275.9 L43.0,274.6 L37.0,273.2 L30.9,271.9 L24.9,270.5 L18.9,269.2 L12.8,267.8 L6.8,266.5Z" fill="url(#l30)"/>
<path d="M107.8,264.5 L114.0,266.5 L120.1,268.5 L126.3,270.8 L132.5,273.3 L138.7,275.9 L144.8,278.9 L151.0,282.1 L157.2,285.6 L163.4,289.3 L169.5,293.3 L175.7,297.6 L181.9,302.1 L188.1,306.7 L194.2,311.5 L200.4,316.2 L206.6,320.9 L212.7,325.3 L218.9,329.6 L225.1,333.5 L231.3,337.2 L237.4,340.5 L243.6,343.5 L249.8,346.1 L256.0,348.5 L262.1,350.6 L268.3,352.5 L274.5,354.3 L280.7,355.8 L286.8,357.2 L293.0,358.5 L293.0,362.2 L286.8,360.9 L280.7,359.5 L274.5,357.9 L268.3,356.2 L262.1,354.3 L256.0,352.2 L249.8,349.8 L243.6,347.2 L237.4,344.3 L231.3,341.1 L225.1,337.6 L218.9,333.7 L212.7,329.6 L206.6,325.2 L200.4,320.6 L194.2,316.0 L188.1,311.2 L181.9,306.6 L175.7,302.1 L169.5,297.7 L163.4,293.7 L157.2,289.8 L151.0,286.3 L144.8,283.0 L138.7,280.0 L132.5,277.3 L126.3,274.8 L120.1,272.5 L114.0,270.4 L107.8,268.4Z" fill="url(#l31)"/>
<path d="M267.7,331.2 L274.1,332.9 L280.4,334.5 L286.8,335.9 L293.2,337.1 L299.5,338.2 L305.9,339.1 L312.2,340.1 L318.6,340.9 L318.6,344.7 L312.2,343.8 L305.9,342.9 L299.5,341.8 L293.2,340.7 L286.8,339.5 L280.4,338.1 L274.1,336.6 L267.7,334.8Z" fill="url(#l32)"/>
<path d="M6.8,265.1 L13.1,266.5 L19.4,268.0 L25.7,269.4 L32.0,270.8 L38.4,272.2 L44.7,273.6 L51.0,275.0 L57.3,276.4 L63.6,277.9 L69.9,279.4 L76.2,280.9 L82.5,282.5 L88.9,284.2 L95.2,285.9 L101.5,287.7 L107.8,289.7 L107.8,293.6 L101.5,291.6 L95.2,289.7 L88.9,288.0 L82.5,286.3 L76.2,284.7 L69.9,283.2 L63.6,281.7 L57.3,280.3 L51.0,278.8 L44.7,277.4 L38.4,276.0 L32.0,274.6 L25.7,273.2 L19.4,271.8 L13.1,270.4 L6.8,268.9Z" fill="url(#l33)"/>
<path d="M94.4,263.2 L100.6,264.9 L106.8,266.7 L113.0,268.7 L119.2,270.8 L125.4,273.0 L131.6,275.5 L137.8,278.2 L143.9,281.1 L150.1,284.3 L156.3,287.8 L162.5,291.6 L168.7,295.6 L174.9,299.9 L181.1,304.4 L187.3,309.1 L193.5,313.8 L199.6,318.5 L205.8,323.1 L212.0,327.6 L218.2,331.8 L224.4,335.7 L230.6,339.4 L236.8,342.6 L243.0,345.6 L249.2,348.3 L255.3,350.7 L261.5,352.8 L267.7,354.7 L267.7,358.4 L261.5,356.4 L255.3,354.3 L249.2,352.0 L243.0,349.4 L236.8,346.5 L230.6,343.3 L224.4,339.8 L218.2,336.0 L212.0,331.8 L205.8,327.5 L199.6,322.9 L193.5,318.3 L187.3,313.6 L181.1,308.9 L174.9,304.4 L168.7,300.0 L162.5,295.9 L156.3,292.1 L150.1,288.5 L143.9,285.2 L137.8,282.2 L131.6,279.5 L125.4,277.0 L119.2,274.7 L113.0,272.6 L106.8,270.6 L100.6,268.8 L94.4,267.1Z" fill="url(#l34)"/>
<path d="M243.2,323.8 L249.5,326.8 L255.8,329.4 L262.0,331.7 L268.3,333.7 L274.6,335.4 L280.9,337.0 L287.2,338.3 L293.5,339.5 L299.7,340.6 L306.0,341.6 L312.3,342.5 L318.6,343.3 L318.6,347.1 L312.3,346.2 L306.0,345.3 L299.7,344.3 L293.5,343.2 L287.2,342.0 L280.9,340.6 L274.6,339.1 L268.3,337.3 L262.0,335.4 L255.8,333.1 L249.5,330.5 L243.2,327.5Z" fill="url(#l35)"/>
<path d="M6.8,267.6 L13.1,269.0 L19.3,270.4 L25.6,271.8 L31.8,273.2 L38.1,274.6 L44.4,276.0 L50.6,277.4 L56.9,278.8 L63.1,280.3 L69.4,281.7 L75.7,283.3 L81.9,284.8 L88.2,286.5 L94.4,288.2 L94.4,292.0 L88.2,290.3 L81.9,288.7 L75.7,287.1 L69.4,285.6 L63.1,284.1 L56.9,282.6 L50.6,281.2 L44.4,279.8 L38.1,278.4 L31.8,277.0 L25.6,275.6 L19.3,274.2 L13.1,272.8 L6.8,271.4Z" fill="url(#l36)"/>
<path d="M81.4,262.3 L87.6,263.9 L93.8,265.5 L100.0,267.3 L106.3,269.1 L112.5,271.1 L118.7,273.2 L124.9,275.4 L131.2,277.9 L137.4,280.6 L143.6,283.6 L149.8,286.9 L156.1,290.4 L162.3,294.3 L168.5,298.4 L174.7,302.7 L181.0,307.2 L187.2,311.9 L193.4,316.7 L199.6,321.4 L205.9,326.0 L212.1,330.4 L218.3,334.6 L224.5,338.4 L230.7,342.0 L237.0,345.2 L243.2,348.2 L243.2,351.9 L237.0,349.1 L230.7,345.9 L224.5,342.5 L218.3,338.7 L212.1,334.7 L205.9,330.3 L199.6,325.8 L193.4,321.1 L187.2,316.4 L181.0,311.7 L174.7,307.2 L168.5,302.8 L162.3,298.6 L156.1,294.7 L149.8,291.1 L143.6,287.7 L137.4,284.7 L131.2,281.9 L124.9,279.4 L118.7,277.1 L112.5,275.0 L106.3,273.0 L100.0,271.1 L93.8,269.4 L87.6,267.7 L81.4,266.1Z" fill="url(#l37)"/>
<path d="M220.6,312.0 L226.7,316.4 L232.8,320.3 L239.0,323.9 L245.1,327.1 L251.2,329.9 L257.3,332.4 L263.5,334.6 L269.6,336.4 L275.7,338.1 L281.8,339.5 L288.0,340.8 L294.1,342.0 L300.2,343.1 L306.3,344.0 L312.5,344.9 L318.6,345.8 L318.6,349.5 L312.5,348.7 L306.3,347.8 L300.2,346.8 L294.1,345.7 L288.0,344.5 L281.8,343.2 L275.7,341.7 L269.6,340.1 L263.5,338.2 L257.3,336.1 L251.2,333.6 L245.1,330.9 L239.0,327.7 L232.8,324.2 L226.7,320.4 L220.6,316.1Z" fill="url(#l38)"/>
<path d="M6.8,270.1 L13.0,271.5 L19.2,272.9 L25.4,274.3 L31.7,275.6 L37.9,277.0 L44.1,278.4 L50.3,279.8 L56.5,281.2 L62.7,282.7 L68.9,284.1 L75.2,285.6 L81.4,287.2 L81.4,291.0 L75.2,289.4 L68.9,287.9 L62.7,286.5 L56.5,285.0 L50.3,283.6 L44.1,282.2 L37.9,280.8 L31.7,279.4 L25.4,278.1 L19.2,276.7 L13.0,275.3 L6.8,273.9Z" fill="url(#l39)"/>
<path d="M68.6,261.7 L74.7,263.2 L80.8,264.6 L86.8,266.2 L92.9,267.8 L99.0,269.5 L105.1,271.3 L111.2,273.1 L117.2,275.2 L123.3,277.4 L129.4,279.8 L135.5,282.4 L141.5,285.3 L147.6,288.4 L153.7,291.8 L159.8,295.5 L165.9,299.4 L171.9,303.6 L178.0,308.0 L184.1,312.5 L190.2,317.1 L196.3,321.7 L202.3,326.3 L208.4,330.6 L214.5,334.8 L220.6,338.7 L220.6,342.8 L214.5,339.0 L208.4,334.9 L202.3,330.7 L196.3,326.2 L190.2,321.6 L184.1,317.0 L178.0,312.5 L171.9,308.0 L165.9,303.8 L159.8,299.8 L153.7,296.0 L147.6,292.6 L141.5,289.4 L135.5,286.4 L129.4,283.8 L123.3,281.3 L117.2,279.1 L111.2,277.0 L105.1,275.1 L99.0,273.3 L92.9,271.6 L86.8,270.0 L80.8,268.5 L74.7,267.0 L68.6,265.5Z" fill="url(#l310)"/>
<path d="M200.1,298.8 L206.4,303.8 L212.6,308.7 L218.8,313.4 L225.1,317.8 L231.3,321.9 L237.5,325.6 L243.8,328.9 L250.0,331.8 L256.2,334.4 L262.5,336.6 L268.7,338.5 L274.9,340.2 L281.2,341.8 L287.4,343.1 L293.7,344.3 L299.9,345.4 L306.1,346.4 L312.4,347.4 L318.6,348.2 L318.6,352.0 L312.4,351.1 L306.1,350.1 L299.9,349.1 L293.7,348.0 L287.4,346.8 L281.2,345.4 L274.9,343.9 L268.7,342.2 L262.5,340.2 L256.2,338.0 L250.0,335.5 L243.8,332.7 L237.5,329.5 L231.3,325.8 L225.1,321.9 L218.8,317.5 L212.6,312.9 L206.4,308.1 L200.1,303.2Z" fill="url(#l311)"/>
<path d="M6.8,272.6 L13.0,273.9 L19.2,275.3 L25.3,276.7 L31.5,278.1 L37.7,279.5 L43.9,280.8 L50.1,282.2 L56.2,283.6 L62.4,285.1 L68.6,286.5 L68.6,290.3 L62.4,288.9 L56.2,287.4 L50.1,286.0 L43.9,284.7 L37.7,283.3 L31.5,281.9 L25.3,280.5 L19.2,279.1 L13.0,277.8 L6.8,276.4Z" fill="url(#l312)"/>
<path d="M56.1,261.3 L62.1,262.7 L68.1,264.1 L74.1,265.5 L80.1,267.0 L86.1,268.5 L92.1,270.1 L98.1,271.7 L104.1,273.5 L110.1,275.3 L116.1,277.3 L122.1,279.5 L128.1,281.8 L134.1,284.4 L140.1,287.2 L146.1,290.3 L152.1,293.6 L158.1,297.2 L164.1,301.1 L170.1,305.2 L176.1,309.5 L182.1,313.9 L188.1,318.5 L194.1,323.0 L200.1,327.5 L200.1,331.9 L194.1,327.5 L188.1,323.0 L182.1,318.4 L176.1,313.9 L170.1,309.6 L164.1,305.4 L158.1,301.5 L152.1,297.8 L146.1,294.4 L140.1,291.3 L134.1,288.4 L128.1,285.8 L122.1,283.4 L116.1,281.3 L110.1,279.2 L104.1,277.3 L98.1,275.6 L92.1,273.9 L86.1,272.3 L80.1,270.8 L74.1,269.3 L68.1,267.9 L62.1,266.5 L56.1,265.1Z" fill="url(#l313)"/>
<path d="M181.6,287.3 L187.8,292.0 L194.1,296.8 L200.3,301.8 L206.5,306.7 L212.7,311.6 L219.0,316.2 L225.2,320.5 L231.4,324.5 L237.6,328.2 L243.9,331.4 L250.1,334.3 L256.3,336.8 L262.6,339.0 L268.8,340.9 L275.0,342.6 L281.2,344.1 L287.5,345.5 L293.7,346.7 L299.9,347.8 L306.1,348.8 L312.4,349.8 L318.6,350.7 L318.6,354.4 L312.4,353.5 L306.1,352.6 L299.9,351.5 L293.7,350.4 L287.5,349.1 L281.2,347.8 L275.0,346.2 L268.8,344.5 L262.6,342.6 L256.3,340.4 L250.1,338.0 L243.9,335.2 L237.6,332.0 L231.4,328.5 L225.2,324.6 L219.0,320.3 L212.7,315.8 L206.5,311.1 L200.3,306.2 L194.1,301.3 L187.8,296.5 L181.6,291.8Z" fill="url(#l314)"/>
<path d="M6.8,275.0 L13.0,276.4 L19.1,277.8 L25.3,279.2 L31.4,280.5 L37.6,281.9 L43.8,283.3 L49.9,284.7 L56.1,286.1 L56.1,289.9 L49.9,288.5 L43.8,287.1 L37.6,285.7 L31.4,284.4 L25.3,283.0 L19.1,281.6 L13.0,280.2 L6.8,278.8Z" fill="url(#l315)"/>
<path d="M43.9,261.0 L50.1,262.4 L56.4,263.9 L62.7,265.3 L68.9,266.8 L75.2,268.2 L81.4,269.8 L87.7,271.4 L94.0,273.1 L100.2,274.8 L106.5,276.7 L112.7,278.7 L119.0,280.9 L125.3,283.3 L131.5,285.9 L137.8,288.7 L144.0,291.9 L150.3,295.3 L156.6,299.0 L162.8,303.1 L169.1,307.3 L175.3,311.8 L181.6,316.5 L181.6,321.0 L175.3,316.3 L169.1,311.7 L162.8,307.4 L156.6,303.3 L150.3,299.5 L144.0,296.0 L137.8,292.8 L131.5,289.9 L125.3,287.3 L119.0,284.8 L112.7,282.6 L106.5,280.6 L100.2,278.7 L94.0,276.9 L87.7,275.2 L81.4,273.6 L75.2,272.1 L68.9,270.6 L62.7,269.1 L56.4,267.7 L50.1,266.2 L43.9,264.8Z" fill="url(#l316)"/>
<path d="M164.9,279.0 L171.0,282.9 L177.2,287.1 L183.3,291.5 L189.5,296.2 L195.6,300.9 L201.8,305.8 L207.9,310.6 L214.1,315.3 L220.2,319.7 L226.4,323.9 L232.5,327.7 L238.7,331.2 L244.8,334.3 L251.0,337.0 L257.1,339.4 L263.3,341.6 L269.4,343.4 L275.6,345.1 L281.7,346.6 L287.9,347.9 L294.0,349.2 L300.2,350.3 L306.3,351.3 L312.5,352.2 L318.6,353.1 L318.6,356.9 L312.5,356.0 L306.3,355.0 L300.2,354.0 L294.0,352.8 L287.9,351.6 L281.7,350.2 L275.6,348.7 L269.4,347.1 L263.3,345.2 L257.1,343.1 L251.0,340.7 L244.8,338.0 L238.7,335.0 L232.5,331.6 L226.4,327.9 L220.2,323.9 L214.1,319.5 L207.9,314.9 L201.8,310.2 L195.6,305.4 L189.5,300.6 L183.3,296.0 L177.2,291.5 L171.0,287.3 L164.9,283.3Z" fill="url(#l317)"/>
<path d="M6.8,277.5 L13.0,278.9 L19.2,280.3 L25.3,281.7 L31.5,283.0 L37.7,284.4 L43.9,285.8 L43.9,289.6 L37.7,288.2 L31.5,286.8 L25.3,285.5 L19.2,284.1 L13.0,282.7 L6.8,281.3Z" fill="url(#l318)"/>
<path d="M31.9,260.8 L38.0,262.2 L44.0,263.5 L50.1,264.9 L56.1,266.3 L62.1,267.6 L68.2,269.1 L74.2,270.5 L80.3,272.0 L86.3,273.5 L92.3,275.1 L98.4,276.8 L104.4,278.6 L110.5,280.5 L116.5,282.6 L122.6,284.8 L128.6,287.2 L134.6,289.9 L140.7,292.8 L146.7,296.0 L152.8,299.5 L158.8,303.2 L164.9,307.2 L164.9,311.6 L158.8,307.5 L152.8,303.7 L146.7,300.1 L140.7,296.9 L134.6,293.9 L128.6,291.2 L122.6,288.7 L116.5,286.5 L110.5,284.4 L104.4,282.5 L98.4,280.7 L92.3,279.0 L86.3,277.4 L80.3,275.8 L74.2,274.3 L68.2,272.9 L62.1,271.5 L56.1,270.1 L50.1,268.7 L44.0,267.4 L38.0,266.0 L31.9,264.7Z" fill="url(#l319)"/>
<path d="M149.7,273.2 L155.7,276.4 L161.8,279.9 L167.8,283.6 L173.8,287.6 L179.9,291.9 L185.9,296.4 L191.9,301.0 L198.0,305.7 L204.0,310.4 L210.0,315.0 L216.0,319.5 L222.1,323.7 L228.1,327.6 L234.1,331.2 L240.2,334.5 L246.2,337.4 L252.2,339.9 L258.3,342.2 L264.3,344.3 L270.3,346.1 L276.4,347.7 L282.4,349.1 L288.4,350.4 L294.5,351.6 L300.5,352.7 L306.5,353.7 L312.6,354.7 L318.6,355.5 L318.6,359.3 L312.6,358.4 L306.5,357.4 L300.5,356.4 L294.5,355.3 L288.4,354.1 L282.4,352.8 L276.4,351.3 L270.3,349.7 L264.3,347.9 L258.3,345.9 L252.2,343.6 L246.2,341.1 L240.2,338.3 L234.1,335.1 L228.1,331.6 L222.1,327.8 L216.0,323.7 L210.0,319.3 L204.0,314.8 L198.0,310.1 L191.9,305.5 L185.9,300.8 L179.9,296.4 L173.8,292.1 L167.8,288.0 L161.8,284.2 L155.7,280.7 L149.7,277.4Z" fill="url(#l320)"/>
<path d="M6.8,280.0 L13.1,281.4 L19.4,282.8 L25.6,284.2 L31.9,285.6 L31.9,289.4 L25.6,288.0 L19.4,286.6 L13.1,285.2 L6.8,283.8Z" fill="url(#l321)"/>
<path d="M20.2,260.7 L26.4,262.1 L32.6,263.5 L38.7,264.8 L44.9,266.2 L51.1,267.6 L57.2,269.0 L63.4,270.4 L69.6,271.9 L75.7,273.3 L81.9,274.9 L88.0,276.5 L94.2,278.1 L100.4,279.9 L106.5,281.8 L112.7,283.8 L118.9,286.0 L125.0,288.3 L131.2,290.9 L137.4,293.8 L143.5,296.9 L149.7,300.4 L149.7,304.6 L143.5,301.1 L137.4,297.9 L131.2,295.0 L125.0,292.3 L118.9,289.9 L112.7,287.7 L106.5,285.7 L100.4,283.8 L94.2,282.0 L88.0,280.3 L81.9,278.7 L75.7,277.2 L69.6,275.7 L63.4,274.2 L57.2,272.8 L51.1,271.4 L44.9,270.0 L38.7,268.6 L32.6,267.3 L26.4,265.9 L20.2,264.5Z" fill="url(#l322)"/>
<path d="M135.4,269.2 L141.5,271.9 L147.6,274.9 L153.7,278.1 L159.8,281.6 L165.9,285.3 L172.1,289.3 L178.2,293.6 L184.3,298.1 L190.4,302.7 L196.5,307.4 L202.6,312.2 L208.7,316.8 L214.8,321.3 L220.9,325.6 L227.0,329.5 L233.1,333.2 L239.2,336.4 L245.3,339.4 L251.4,342.0 L257.5,344.3 L263.6,346.4 L269.8,348.3 L275.9,349.9 L282.0,351.4 L288.1,352.7 L294.2,354.0 L300.3,355.1 L306.4,356.1 L312.5,357.1 L318.6,358.0 L318.6,361.7 L312.5,360.8 L306.4,359.8 L300.3,358.8 L294.2,357.6 L288.1,356.4 L282.0,355.0 L275.9,353.5 L269.8,351.9 L263.6,350.0 L257.5,348.0 L251.4,345.7 L245.3,343.1 L239.2,340.2 L233.1,337.0 L227.0,333.5 L220.9,329.7 L214.8,325.5 L208.7,321.1 L202.6,316.6 L196.5,311.9 L190.4,307.2 L184.3,302.5 L178.2,298.0 L172.1,293.7 L165.9,289.7 L159.8,285.9 L153.7,282.3 L147.6,279.0 L141.5,276.0 L135.4,273.3Z" fill="url(#l323)"/>
<path d="M6.8,282.5 L13.5,284.0 L20.2,285.5 L20.2,289.3 L13.5,287.8 L6.8,286.3Z" fill="url(#l324)"/>
<path d="M8.8,260.6 L14.8,262.0 L20.9,263.3 L26.9,264.7 L32.9,266.0 L38.9,267.4 L45.0,268.7 L51.0,270.1 L57.0,271.4 L63.1,272.8 L69.1,274.2 L75.1,275.7 L81.2,277.2 L87.2,278.7 L93.2,280.4 L99.2,282.1 L105.3,283.9 L111.3,285.8 L117.3,288.0 L123.4,290.2 L129.4,292.7 L135.4,295.5 L135.4,299.5 L129.4,296.7 L123.4,294.2 L117.3,291.9 L111.3,289.7 L105.3,287.8 L99.2,285.9 L93.2,284.2 L87.2,282.6 L81.2,281.0 L75.1,279.5 L69.1,278.1 L63.1,276.6 L57.0,275.2 L51.0,273.9 L45.0,272.5 L38.9,271.2 L32.9,269.8 L26.9,268.5 L20.9,267.1 L14.8,265.8 L8.8,264.4Z" fill="url(#l325)"/>
<path d="M121.4,266.5 L127.6,268.7 L133.8,271.2 L139.9,273.9 L146.1,276.8 L152.3,280.0 L158.4,283.5 L164.6,287.3 L170.7,291.3 L176.9,295.6 L183.1,300.1 L189.2,304.7 L195.4,309.5 L201.5,314.2 L207.7,318.9 L213.9,323.4 L220.0,327.6 L226.2,331.6 L232.3,335.2 L238.5,338.5 L244.7,341.5 L250.8,344.2 L257.0,346.5 L263.2,348.6 L269.3,350.5 L275.5,352.2 L281.6,353.7 L287.8,355.1 L294.0,356.3 L300.1,357.5 L306.3,358.5 L312.4,359.5 L318.6,360.4 L318.6,364.2 L312.4,363.2 L306.3,362.2 L300.1,361.2 L294.0,360.0 L287.8,358.7 L281.6,357.3 L275.5,355.8 L269.3,354.1 L263.2,352.2 L257.0,350.2 L250.8,347.8 L244.7,345.3 L238.5,342.4 L232.3,339.2 L226.2,335.6 L220.0,331.8 L213.9,327.6 L207.7,323.2 L201.5,318.6 L195.4,313.9 L189.2,309.2 L183.1,304.6 L176.9,300.0 L170.7,295.7 L164.6,291.6 L158.4,287.8 L152.3,284.2 L146.1,280.9 L139.9,277.9 L133.8,275.2 L127.6,272.7 L121.4,270.4Z" fill="url(#l326)"/>
<path d="M293.0,334.7 L299.4,335.7 L305.8,336.7 L312.2,337.6 L318.6,338.5 L318.6,342.2 L312.2,341.4 L305.8,340.4 L299.4,339.4 L293.0,338.3Z" fill="url(#l327)"/>
<path d="M6.8,285.6 L7.8,285.8 L8.8,286.1 M6.8,263.3 L12.8,264.7 L18.9,266.0 L24.9,267.4 L30.9,268.7 L37.0,270.1 L43.0,271.4 L49.0,272.8 L55.1,274.1 L61.1,275.5 L67.1,276.9 L73.2,278.4 L79.2,279.8 L85.2,281.4 L91.3,283.0 L97.3,284.7 L103.3,286.5 L109.4,288.4 L115.4,290.5 L121.4,292.8 M107.8,265.2 L114.0,267.1 L120.1,269.2 L126.3,271.5 L132.5,274.0 L138.7,276.6 L144.8,279.6 L151.0,282.8 L157.2,286.3 L163.4,290.1 L169.5,294.1 L175.7,298.4 L181.9,302.9 L188.1,307.5 L194.2,312.3 L200.4,317.0 L206.6,321.6 L212.7,326.1 L218.9,330.3 L225.1,334.3 L231.3,337.9 L237.4,341.2 L243.6,344.1 L249.8,346.8 L256.0,349.1 L262.1,351.3 L268.3,353.2 L274.5,354.9 L280.7,356.5 L286.8,357.9 L293.0,359.2 M267.7,331.8 L274.1,333.6 L280.4,335.1 L286.8,336.5 L293.2,337.7 L299.5,338.8 L305.9,339.8 L312.2,340.7 L318.6,341.6 M6.8,265.8 L13.1,267.2 L19.4,268.6 L25.7,270.0 L32.0,271.4 L38.4,272.8 L44.7,274.3 L51.0,275.7 L57.3,277.1 L63.6,278.6 L69.9,280.1 L76.2,281.6 L82.5,283.2 L88.9,284.8 L95.2,286.6 L101.5,288.4 L107.8,290.4 M94.4,263.9 L100.6,265.6 L106.8,267.4 L113.0,269.4 L119.2,271.5 L125.4,273.7 L131.6,276.2 L137.8,278.9 L143.9,281.8 L150.1,285.1 L156.3,288.6 L162.5,292.4 L168.7,296.4 L174.9,300.7 L181.1,305.2 L187.3,309.9 L193.5,314.6 L199.6,319.3 L205.8,323.9 L212.0,328.3 L218.2,332.5 L224.4,336.4 L230.6,340.0 L236.8,343.3 L243.0,346.3 L249.2,348.9 L255.3,351.3 L261.5,353.4 L267.7,355.4 M243.2,324.4 L249.5,327.4 L255.8,330.1 L262.0,332.4 L268.3,334.3 L274.6,336.1 L280.9,337.6 L287.2,338.9 L293.5,340.2 L299.7,341.2 L306.0,342.2 L312.3,343.1 L318.6,344.0 M6.8,268.3 L13.1,269.7 L19.3,271.1 L25.6,272.5 L31.8,273.9 L38.1,275.3 L44.4,276.7 L50.6,278.1 L56.9,279.5 L63.1,280.9 L69.4,282.4 L75.7,283.9 L81.9,285.5 L88.2,287.1 L94.4,288.9 M81.4,263.0 L87.6,264.6 L93.8,266.2 L100.0,267.9 L106.3,269.8 L112.5,271.7 L118.7,273.8 L124.9,276.1 L131.2,278.6 L137.4,281.3 L143.6,284.3 L149.8,287.6 L156.1,291.2 L162.3,295.0 L168.5,299.1 L174.7,303.5 L181.0,308.0 L187.2,312.7 L193.4,317.4 L199.6,322.2 L205.9,326.7 L212.1,331.1 L218.3,335.3 L224.5,339.1 L230.7,342.7 L237.0,345.9 L243.2,348.8 M220.6,312.7 L226.7,317.1 L232.8,321.0 L239.0,324.6 L245.1,327.8 L251.2,330.6 L257.3,333.0 L263.5,335.2 L269.6,337.1 L275.7,338.7 L281.8,340.2 L288.0,341.5 L294.1,342.7 L300.2,343.7 L306.3,344.7 L312.5,345.6 L318.6,346.4 M6.8,270.7 L13.0,272.1 L19.2,273.5 L25.4,274.9 L31.7,276.3 L37.9,277.7 L44.1,279.1 L50.3,280.5 L56.5,281.9 L62.7,283.3 L68.9,284.8 L75.2,286.3 L81.4,287.8 M68.6,262.4 L74.7,263.8 L80.8,265.3 L86.8,266.9 L92.9,268.5 L99.0,270.1 L105.1,271.9 L111.2,273.8 L117.2,275.9 L123.3,278.1 L129.4,280.5 L135.5,283.1 L141.5,286.0 L147.6,289.1 L153.7,292.5 L159.8,296.2 L165.9,300.2 L171.9,304.4 L178.0,308.8 L184.1,313.3 L190.2,317.9 L196.3,322.5 L202.3,327.0 L208.4,331.4 L214.5,335.5 L220.6,339.4 M200.1,299.5 L206.4,304.5 L212.6,309.4 L218.8,314.1 L225.1,318.5 L231.3,322.6 L237.5,326.3 L243.8,329.6 L250.0,332.5 L256.2,335.0 L262.5,337.2 L268.7,339.2 L274.9,340.9 L281.2,342.4 L287.4,343.7 L293.7,345.0 L299.9,346.1 L306.1,347.1 L312.4,348.0 L318.6,348.9 M6.8,273.2 L13.0,274.6 L19.2,276.0 L25.3,277.4 L31.5,278.8 L37.7,280.1 L43.9,281.5 L50.1,282.9 L56.2,284.3 L62.4,285.7 L68.6,287.2 M56.1,262.0 L62.1,263.4 L68.1,264.7 L74.1,266.2 L80.1,267.6 L86.1,269.2 L92.1,270.7 L98.1,272.4 L104.1,274.2 L110.1,276.0 L116.1,278.0 L122.1,280.2 L128.1,282.5 L134.1,285.1 L140.1,287.9 L146.1,291.0 L152.1,294.4 L158.1,298.0 L164.1,301.9 L170.1,306.0 L176.1,310.3 L182.1,314.7 L188.1,319.3 L194.1,323.8 L200.1,328.3 M181.6,288.1 L187.8,292.8 L194.1,297.6 L200.3,302.5 L206.5,307.5 L212.7,312.3 L219.0,316.9 L225.2,321.2 L231.4,325.2 L237.6,328.8 L243.9,332.1 L250.1,334.9 L256.3,337.4 L262.6,339.6 L268.8,341.5 L275.0,343.3 L281.2,344.8 L287.5,346.1 L293.7,347.4 L299.9,348.5 L306.1,349.5 L312.4,350.4 L318.6,351.3 M6.8,275.7 L13.0,277.1 L19.1,278.5 L25.3,279.8 L31.4,281.2 L37.6,282.6 L43.8,284.0 L49.9,285.3 L56.1,286.7 M43.9,261.7 L50.1,263.1 L56.4,264.5 L62.7,266.0 L68.9,267.4 L75.2,268.9 L81.4,270.5 L87.7,272.1 L94.0,273.7 L100.2,275.5 L106.5,277.4 L112.7,279.4 L119.0,281.6 L125.3,284.0 L131.5,286.6 L137.8,289.4 L144.0,292.6 L150.3,296.0 L156.6,299.8 L162.8,303.8 L169.1,308.1 L175.3,312.6 L181.6,317.3 M164.9,279.7 L171.0,283.6 L177.2,287.8 L183.3,292.3 L189.5,296.9 L195.6,301.7 L201.8,306.6 L207.9,311.4 L214.1,316.0 L220.2,320.5 L226.4,324.6 L232.5,328.4 L238.7,331.9 L244.8,334.9 L251.0,337.7 L257.1,340.1 L263.3,342.2 L269.4,344.1 L275.6,345.7 L281.7,347.2 L287.9,348.6 L294.0,349.8 L300.2,350.9 L306.3,351.9 L312.5,352.9 L318.6,353.8 M6.8,278.2 L13.0,279.6 L19.2,280.9 L25.3,282.3 L31.5,283.7 L37.7,285.1 L43.9,286.5 M31.9,261.5 L38.0,262.9 L44.0,264.2 L50.1,265.6 L56.1,266.9 L62.1,268.3 L68.2,269.7 L74.2,271.2 L80.3,272.7 L86.3,274.2 L92.3,275.8 L98.4,277.5 L104.4,279.3 L110.5,281.2 L116.5,283.3 L122.6,285.5 L128.6,287.9 L134.6,290.6 L140.7,293.5 L146.7,296.7 L152.8,300.2 L158.8,304.0 L164.9,308.0 M149.7,273.9 L155.7,277.2 L161.8,280.7 L167.8,284.4 L173.8,288.4 L179.9,292.7 L185.9,297.1 L191.9,301.8 L198.0,306.5 L204.0,311.2 L210.0,315.8 L216.0,320.2 L222.1,324.4 L228.1,328.3 L234.1,331.9 L240.2,335.1 L246.2,338.0 L252.2,340.6 L258.3,342.9 L264.3,344.9 L270.3,346.7 L276.4,348.3 L282.4,349.8 L288.4,351.1 L294.5,352.3 L300.5,353.4 L306.5,354.4 L312.6,355.3 L318.6,356.2 M6.8,280.7 L13.1,282.1 L19.4,283.5 L25.6,284.9 L31.9,286.3 M20.2,261.4 L26.4,262.8 L32.6,264.1 L38.7,265.5 L44.9,266.9 L51.1,268.3 L57.2,269.7 L63.4,271.1 L69.6,272.5 L75.7,274.0 L81.9,275.5 L88.0,277.1 L94.2,278.8 L100.4,280.6 L106.5,282.5 L112.7,284.5 L118.9,286.7 L125.0,289.0 L131.2,291.6 L137.4,294.5 L143.5,297.7 L149.7,301.1 M135.4,270.0 L141.5,272.7 L147.6,275.6 L153.7,278.8 L159.8,282.3 L165.9,286.1 L172.1,290.1 L178.2,294.4 L184.3,298.8 L190.4,303.5 L196.5,308.2 L202.6,312.9 L208.7,317.6 L214.8,322.0 L220.9,326.3 L227.0,330.2 L233.1,333.8 L239.2,337.1 L245.3,340.0 L251.4,342.6 L257.5,345.0 L263.6,347.0 L269.8,348.9 L275.9,350.5 L282.0,352.0 L288.1,353.4 L294.2,354.6 L300.3,355.7 L306.4,356.8 L312.5,357.7 L318.6,358.6 M6.8,283.1 L13.5,284.6 L20.2,286.1 M8.8,261.3 L14.8,262.7 L20.9,264.0 L26.9,265.3 L32.9,266.7 L38.9,268.0 L45.0,269.4 L51.0,270.7 L57.0,272.1 L63.1,273.5 L69.1,274.9 L75.1,276.4 L81.2,277.8 L87.2,279.4 L93.2,281.0 L99.2,282.7 L105.3,284.6 L111.3,286.5 L117.3,288.6 L123.4,290.9 L129.4,293.5 L135.4,296.2 M121.4,267.1 L127.6,269.4 L133.8,271.9 L139.9,274.6 L146.1,277.5 L152.3,280.8 L158.4,284.3 L164.6,288.0 L170.7,292.1 L176.9,296.4 L183.1,300.9 L189.2,305.5 L195.4,310.3 L201.5,315.0 L207.7,319.6 L213.9,324.1 L220.0,328.4 L226.2,332.3 L232.3,335.9 L238.5,339.2 L244.7,342.2 L250.8,344.8 L257.0,347.1 L263.2,349.2 L269.3,351.1 L275.5,352.8 L281.6,354.3 L287.8,355.7 L294.0,357.0 L300.1,358.1 L306.3,359.2 L312.4,360.2 L318.6,361.1 M293.0,335.3 L299.4,336.4 L305.8,337.4 L312.2,338.3 L318.6,339.1" fill="none" stroke="#000" stroke-width="0.70" stroke-opacity="0.12"/>
<path d="M55.0,276.0 L58.0,276.0 L61.0,276.4 L64.0,277.0 L67.0,277.6 L70.0,278.3 L73.0,279.1 L76.0,279.9 L79.0,280.9 L82.0,282.0 L85.0,283.5 L85.0,283.5 L82.0,283.4 L79.0,282.9 L76.0,282.3 L73.0,281.6 L70.0,280.9 L67.0,280.1 L64.0,279.3 L61.0,278.4 L58.0,277.4 L55.0,276.0Z" fill="#10e0e0" fill-opacity="0.90"/>
<path d="M80.0,285.5 L83.0,285.1 L86.0,285.1 L89.0,285.2 L92.0,285.4 L95.0,285.6 L98.0,285.8 L101.0,286.1 L104.0,286.5 L107.0,286.9 L110.0,287.3 L113.0,287.8 L116.0,288.4 L119.0,289.0 L122.0,289.7 L125.0,290.5 L128.0,291.3 L131.0,292.3 L134.0,293.3 L137.0,294.4 L140.0,296.0 L140.0,296.0 L137.0,295.6 L134.0,295.0 L131.0,294.3 L128.0,293.6 L125.0,293.0 L122.0,292.4 L119.0,291.9 L116.0,291.3 L113.0,290.8 L110.0,290.3 L107.0,289.8 L104.0,289.4 L101.0,288.9 L98.0,288.5 L95.0,288.1 L92.0,287.7 L89.0,287.2 L86.0,286.8 L83.0,286.3 L80.0,285.5Z" fill="#1048e0" fill-opacity="0.90"/>
<path d="M225.0,318.7 L228.0,320.0 L231.0,321.5 L234.0,322.9 L237.0,324.2 L240.0,325.5 L243.0,326.7 L246.0,327.9 L249.0,328.9 L252.0,329.9 L255.0,330.8 L258.0,331.7 L261.0,332.5 L264.0,333.2 L267.0,333.9 L270.0,334.5 L273.0,335.1 L276.0,335.7 L279.0,336.2 L282.0,336.7 L285.0,337.2 L288.0,337.8 L288.0,337.8 L285.0,337.8 L282.0,337.6 L279.0,337.3 L276.0,336.9 L273.0,336.5 L270.0,336.0 L267.0,335.4 L264.0,334.8 L261.0,334.1 L258.0,333.3 L255.0,332.4 L252.0,331.5 L249.0,330.5 L246.0,329.3 L243.0,328.1 L240.0,326.8 L237.0,325.4 L234.0,323.9 L231.0,322.3 L228.0,320.6 L225.0,318.7Z" fill="#1050e8" fill-opacity="0.90"/>
<path d="M260.2,340.2 L263.4,340.6 L266.5,341.1 L269.7,341.7 L272.8,342.2 L276.0,342.7 L279.1,343.2 L282.3,343.6 L285.4,344.0 L288.6,344.5 L291.8,344.8 L294.9,345.2 L298.1,345.6 L301.2,345.9 L304.4,346.3 L307.5,346.7 L310.7,347.0 L313.8,347.4 L317.0,348.1 L317.0,348.1 L313.8,348.4 L310.7,348.3 L307.5,348.2 L304.4,348.1 L301.2,347.9 L298.1,347.6 L294.9,347.4 L291.8,347.0 L288.6,346.7 L285.4,346.2 L282.3,345.8 L279.1,345.2 L276.0,344.6 L272.8,344.0 L269.7,343.2 L266.5,342.4 L263.4,341.5 L260.2,340.2Z" fill="#0a2ad8" fill-opacity="1.00"/>
<path d="M273.4,345.5 L276.5,345.8 L279.6,346.3 L282.7,346.9 L285.9,347.4 L289.0,348.0 L292.1,348.5 L295.2,349.1 L298.3,349.6 L301.4,350.2 L304.5,350.7 L307.7,351.3 L310.8,351.9 L313.9,352.5 L317.0,353.4 L317.0,353.4 L313.9,353.4 L310.8,353.2 L307.7,352.9 L304.5,352.5 L301.4,352.1 L298.3,351.6 L295.2,351.1 L292.1,350.5 L289.0,349.9 L285.9,349.2 L282.7,348.5 L279.6,347.7 L276.5,346.7 L273.4,345.5Z" fill="#0a50e8" fill-opacity="1.00"/>
</g>
<g clip-path="url(#l4_c)" filter="url(#blur)">
<path d="M5.0,371.0 L6.0,371.3 L7.0,371.5 L7.0,375.4 L6.0,375.1 L5.0,374.9Z" fill="#85df00"/>
<path d="M5.0,348.5 L11.0,349.8 L17.0,351.2 L23.0,352.6 L29.1,353.9 L35.1,355.3 L41.1,356.6 L47.1,358.0 L53.1,359.4 L59.1,360.8 L65.1,362.2 L71.1,363.7 L77.2,365.2 L83.2,366.7 L89.2,368.4 L95.2,370.1 L101.2,371.9 L107.2,373.8 L113.2,375.9 L119.3,378.2 L119.3,382.2 L113.2,379.9 L107.2,377.8 L101.2,375.8 L95.2,374.0 L89.2,372.3 L83.2,370.6 L77.2,369.1 L71.1,367.6 L65.1,366.1 L59.1,364.7 L53.1,363.3 L47.1,361.9 L41.1,360.5 L35.1,359.1 L29.1,357.8 L23.0,356.4 L17.0,355.1 L11.0,353.7 L5.0,352.3Z" fill="url(#l40)"/>
<path d="M105.6,350.2 L111.8,352.1 L117.9,354.2 L124.0,356.5 L130.1,358.9 L136.2,361.6 L142.3,364.5 L148.4,367.7 L154.5,371.2 L160.6,375.0 L166.7,379.1 L172.8,383.4 L179.0,387.9 L185.1,392.6 L191.2,397.4 L197.3,402.3 L203.4,407.0 L209.5,411.6 L215.6,416.0 L221.7,420.1 L227.8,423.8 L233.9,427.2 L240.1,430.2 L246.2,432.9 L252.3,435.3 L258.4,437.4 L264.5,439.3 L270.6,441.0 L276.7,442.5 L282.8,443.9 L288.9,445.1 L288.9,448.8 L282.8,447.5 L276.7,446.2 L270.6,444.6 L264.5,442.9 L258.4,441.1 L252.3,439.0 L246.2,436.6 L240.1,434.0 L233.9,431.0 L227.8,427.7 L221.7,424.1 L215.6,420.1 L209.5,415.9 L203.4,411.4 L197.3,406.7 L191.2,401.9 L185.1,397.1 L179.0,392.4 L172.8,387.8 L166.7,383.5 L160.6,379.4 L154.5,375.5 L148.4,372.0 L142.3,368.7 L136.2,365.7 L130.1,363.0 L124.0,360.5 L117.9,358.2 L111.8,356.1 L105.6,354.1Z" fill="url(#l41)"/>
<path d="M263.8,417.8 L270.4,419.7 L277.0,421.2 L283.6,422.6 L290.3,423.8 L296.9,424.9 L303.5,425.9 L310.2,426.8 L316.8,427.7 L316.8,431.4 L310.2,430.6 L303.5,429.6 L296.9,428.6 L290.3,427.5 L283.6,426.3 L277.0,424.9 L270.4,423.3 L263.8,421.5Z" fill="url(#l42)"/>
<path d="M5.0,351.0 L11.3,352.4 L17.6,353.8 L23.9,355.3 L30.2,356.7 L36.5,358.1 L42.7,359.5 L49.0,361.0 L55.3,362.4 L61.6,363.9 L67.9,365.4 L74.2,367.0 L80.5,368.6 L86.8,370.2 L93.1,372.0 L99.4,373.9 L105.6,375.9 L105.6,379.8 L99.4,377.8 L93.1,375.9 L86.8,374.2 L80.5,372.5 L74.2,370.9 L67.9,369.3 L61.6,367.8 L55.3,366.3 L49.0,364.8 L42.7,363.4 L36.5,362.0 L30.2,360.6 L23.9,359.1 L17.6,357.7 L11.3,356.3 L5.0,354.8Z" fill="url(#l43)"/>
<path d="M92.3,348.9 L98.5,350.6 L104.6,352.4 L110.7,354.3 L116.8,356.4 L122.9,358.7 L129.1,361.1 L135.2,363.8 L141.3,366.7 L147.4,370.0 L153.6,373.5 L159.7,377.2 L165.8,381.3 L171.9,385.6 L178.0,390.1 L184.2,394.8 L190.3,399.6 L196.4,404.5 L202.5,409.2 L208.7,413.8 L214.8,418.1 L220.9,422.2 L227.0,425.9 L233.1,429.3 L239.3,432.3 L245.4,435.0 L251.5,437.4 L257.6,439.5 L263.8,441.5 L263.8,445.1 L257.6,443.2 L251.5,441.1 L245.4,438.7 L239.3,436.1 L233.1,433.1 L227.0,429.8 L220.9,426.2 L214.8,422.3 L208.7,418.0 L202.5,413.5 L196.4,408.9 L190.3,404.1 L184.2,399.3 L178.0,394.6 L171.9,390.1 L165.8,385.7 L159.7,381.6 L153.6,377.8 L147.4,374.2 L141.3,370.9 L135.2,367.9 L129.1,365.2 L122.9,362.7 L116.8,360.4 L110.7,358.3 L104.6,356.4 L98.5,354.5 L92.3,352.8Z" fill="url(#l44)"/>
<path d="M239.4,410.4 L245.9,413.6 L252.3,416.3 L258.8,418.6 L265.2,420.6 L271.7,422.3 L278.1,423.9 L284.6,425.2 L291.0,426.4 L297.5,427.4 L303.9,428.4 L310.4,429.3 L316.8,430.1 L316.8,433.9 L310.4,433.0 L303.9,432.1 L297.5,431.1 L291.0,430.0 L284.6,428.8 L278.1,427.5 L271.7,426.0 L265.2,424.3 L258.8,422.3 L252.3,419.9 L245.9,417.3 L239.4,414.2Z" fill="url(#l45)"/>
<path d="M5.0,353.5 L11.2,354.9 L17.5,356.3 L23.7,357.7 L30.0,359.1 L36.2,360.6 L42.4,362.0 L48.7,363.4 L54.9,364.8 L61.1,366.3 L67.4,367.8 L73.6,369.3 L79.9,370.9 L86.1,372.6 L92.3,374.3 L92.3,378.3 L86.1,376.5 L79.9,374.8 L73.6,373.2 L67.4,371.7 L61.1,370.2 L54.9,368.7 L48.7,367.3 L42.4,365.8 L36.2,364.4 L30.0,363.0 L23.7,361.6 L17.5,360.2 L11.2,358.8 L5.0,357.3Z" fill="url(#l46)"/>
<path d="M79.3,348.0 L85.5,349.6 L91.6,351.2 L97.8,353.0 L103.9,354.8 L110.1,356.7 L116.3,358.8 L122.4,361.1 L128.6,363.6 L134.7,366.3 L140.9,369.3 L147.1,372.5 L153.2,376.0 L159.4,379.9 L165.5,384.0 L171.7,388.3 L177.9,392.9 L184.0,397.6 L190.2,402.4 L196.3,407.3 L202.5,412.0 L208.6,416.5 L214.8,420.8 L221.0,424.8 L227.1,428.5 L233.3,431.8 L239.4,434.8 L239.4,438.6 L233.3,435.7 L227.1,432.4 L221.0,428.8 L214.8,425.0 L208.6,420.8 L202.5,416.3 L196.3,411.7 L190.2,406.9 L184.0,402.1 L177.9,397.4 L171.7,392.8 L165.5,388.4 L159.4,384.2 L153.2,380.3 L147.1,376.7 L140.9,373.4 L134.7,370.4 L128.6,367.7 L122.4,365.2 L116.3,362.8 L110.1,360.7 L103.9,358.7 L97.8,356.9 L91.6,355.1 L85.5,353.5 L79.3,351.9Z" fill="#eb7300"/>
<path d="M217.2,398.5 L223.4,403.0 L229.6,407.2 L235.9,410.9 L242.1,414.2 L248.3,417.0 L254.5,419.5 L260.8,421.6 L267.0,423.5 L273.2,425.1 L279.4,426.5 L285.7,427.8 L291.9,428.9 L298.1,429.9 L304.3,430.9 L310.6,431.7 L316.8,432.5 L316.8,436.3 L310.6,435.5 L304.3,434.6 L298.1,433.6 L291.9,432.6 L285.7,431.4 L279.4,430.2 L273.2,428.7 L267.0,427.1 L260.8,425.3 L254.5,423.2 L248.3,420.7 L242.1,417.9 L235.9,414.7 L229.6,411.1 L223.4,407.0 L217.2,402.6Z" fill="url(#l47)"/>
<path d="M5.0,356.0 L11.2,357.4 L17.4,358.8 L23.6,360.2 L29.8,361.6 L36.0,363.0 L42.2,364.4 L48.3,365.8 L54.5,367.3 L60.7,368.7 L66.9,370.2 L73.1,371.7 L79.3,373.3 L79.3,377.2 L73.1,375.6 L66.9,374.1 L60.7,372.6 L54.5,371.2 L48.3,369.7 L42.2,368.3 L36.0,366.9 L29.8,365.5 L23.6,364.1 L17.4,362.7 L11.2,361.3 L5.0,359.9Z" fill="url(#l48)"/>
<path d="M66.6,347.4 L72.6,348.9 L78.6,350.4 L84.7,351.9 L90.7,353.5 L96.7,355.2 L102.7,357.0 L108.7,358.9 L114.8,360.9 L120.8,363.1 L126.8,365.5 L132.8,368.1 L138.9,371.0 L144.9,374.1 L150.9,377.5 L156.9,381.1 L163.0,385.1 L169.0,389.3 L175.0,393.7 L181.0,398.2 L187.1,402.9 L193.1,407.6 L199.1,412.2 L205.1,416.7 L211.2,421.0 L217.2,425.1 L217.2,429.2 L211.2,425.2 L205.1,421.0 L199.1,416.6 L193.1,412.1 L187.1,407.4 L181.0,402.7 L175.0,398.1 L169.0,393.7 L163.0,389.5 L156.9,385.5 L150.9,381.7 L144.9,378.3 L138.9,375.1 L132.8,372.2 L126.8,369.6 L120.8,367.1 L114.8,364.9 L108.7,362.8 L102.7,360.9 L96.7,359.1 L90.7,357.4 L84.7,355.8 L78.6,354.3 L72.6,352.8 L66.6,351.3Z" fill="url(#l49)"/>
<path d="M197.0,384.9 L203.3,390.2 L209.6,395.3 L216.0,400.2 L222.3,404.8 L228.6,409.0 L234.9,412.8 L241.2,416.2 L247.5,419.1 L253.8,421.6 L260.1,423.8 L266.4,425.7 L272.7,427.3 L279.0,428.8 L285.3,430.1 L291.6,431.2 L297.9,432.3 L304.2,433.3 L310.5,434.1 L316.8,435.0 L316.8,438.7 L310.5,437.9 L304.2,437.0 L297.9,436.0 L291.6,434.9 L285.3,433.8 L279.0,432.4 L272.7,431.0 L266.4,429.3 L260.1,427.4 L253.8,425.2 L247.5,422.8 L241.2,419.9 L234.9,416.6 L228.6,412.9 L222.3,408.8 L216.0,404.3 L209.6,399.5 L203.3,394.5 L197.0,389.3Z" fill="url(#l410)"/>
<path d="M5.0,358.5 L11.2,359.9 L17.3,361.3 L23.5,362.7 L29.6,364.1 L35.8,365.5 L41.9,366.9 L48.1,368.3 L54.3,369.7 L60.4,371.2 L66.6,372.7 L66.6,376.5 L60.4,375.1 L54.3,373.6 L48.1,372.2 L41.9,370.8 L35.8,369.4 L29.6,368.0 L23.5,366.6 L17.3,365.2 L11.2,363.8 L5.0,362.4Z" fill="url(#l411)"/>
<path d="M54.1,347.0 L60.3,348.5 L66.6,349.9 L72.8,351.4 L79.0,353.0 L85.2,354.6 L91.4,356.3 L97.6,358.0 L103.8,359.9 L110.1,361.9 L116.3,364.0 L122.5,366.4 L128.7,368.9 L134.9,371.7 L141.1,374.8 L147.3,378.2 L153.5,381.8 L159.8,385.8 L166.0,390.0 L172.2,394.5 L178.4,399.1 L184.6,403.9 L190.8,408.7 L197.0,413.5 L197.0,417.9 L190.8,413.2 L184.6,408.4 L178.4,403.6 L172.2,398.9 L166.0,394.4 L159.8,390.1 L153.5,386.1 L147.3,382.4 L141.1,379.0 L134.9,375.9 L128.7,373.0 L122.5,370.4 L116.3,368.0 L110.1,365.9 L103.8,363.8 L97.6,362.0 L91.4,360.2 L85.2,358.5 L79.0,356.9 L72.8,355.3 L66.6,353.8 L60.3,352.4 L54.1,350.9Z" fill="url(#l412)"/>
<path d="M178.8,373.3 L185.1,378.1 L191.4,383.1 L197.6,388.3 L203.9,393.4 L210.2,398.5 L216.5,403.3 L222.7,407.7 L229.0,411.8 L235.3,415.5 L241.5,418.8 L247.8,421.6 L254.1,424.1 L260.4,426.2 L266.6,428.1 L272.9,429.7 L279.2,431.2 L285.4,432.5 L291.7,433.7 L298.0,434.7 L304.3,435.7 L310.5,436.6 L316.8,437.4 L316.8,441.2 L310.5,440.3 L304.3,439.4 L298.0,438.4 L291.7,437.3 L285.4,436.2 L279.2,434.9 L272.9,433.4 L266.6,431.7 L260.4,429.9 L254.1,427.7 L247.8,425.3 L241.5,422.5 L235.3,419.3 L229.0,415.7 L222.7,411.7 L216.5,407.4 L210.2,402.7 L203.9,397.7 L197.6,392.7 L191.4,387.6 L185.1,382.6 L178.8,377.7Z" fill="url(#l413)"/>
<path d="M5.0,361.0 L11.1,362.4 L17.3,363.8 L23.4,365.2 L29.6,366.6 L35.7,368.0 L41.8,369.4 L48.0,370.8 L54.1,372.2 L54.1,376.1 L48.0,374.7 L41.8,373.3 L35.7,371.9 L29.6,370.5 L23.4,369.1 L17.3,367.7 L11.1,366.3 L5.0,364.9Z" fill="url(#l414)"/>
<path d="M42.0,346.8 L48.2,348.2 L54.4,349.6 L60.6,351.1 L66.8,352.5 L73.1,354.0 L79.3,355.6 L85.5,357.2 L91.7,358.9 L97.9,360.7 L104.2,362.6 L110.4,364.6 L116.6,366.8 L122.8,369.1 L129.0,371.7 L135.3,374.6 L141.5,377.7 L147.7,381.1 L153.9,384.9 L160.2,388.9 L166.4,393.2 L172.6,397.7 L178.8,402.4 L178.8,406.8 L172.6,402.1 L166.4,397.6 L160.2,393.2 L153.9,389.2 L147.7,385.4 L141.5,381.9 L135.3,378.7 L129.0,375.8 L122.8,373.2 L116.6,370.8 L110.4,368.6 L104.2,366.5 L97.9,364.6 L91.7,362.8 L85.5,361.1 L79.3,359.5 L73.1,357.9 L66.8,356.4 L60.6,354.9 L54.4,353.5 L48.2,352.1 L42.0,350.7Z" fill="url(#l415)"/>
<path d="M162.3,364.7 L168.5,368.8 L174.7,373.1 L180.9,377.7 L187.0,382.6 L193.2,387.5 L199.4,392.6 L205.6,397.6 L211.8,402.4 L217.9,407.0 L224.1,411.3 L230.3,415.2 L236.5,418.6 L242.7,421.7 L248.8,424.4 L255.0,426.8 L261.2,428.9 L267.4,430.7 L273.5,432.3 L279.7,433.7 L285.9,435.0 L292.1,436.1 L298.3,437.2 L304.4,438.1 L310.6,439.0 L316.8,439.9 L316.8,443.6 L310.6,442.8 L304.4,441.9 L298.3,440.9 L292.1,439.8 L285.9,438.6 L279.7,437.4 L273.5,435.9 L267.4,434.3 L261.2,432.5 L255.0,430.4 L248.8,428.1 L242.7,425.5 L236.5,422.4 L230.3,419.0 L224.1,415.2 L217.9,411.1 L211.8,406.6 L205.6,401.9 L199.4,397.0 L193.2,392.0 L187.0,387.0 L180.9,382.2 L174.7,377.6 L168.5,373.2 L162.3,369.1Z" fill="url(#l416)"/>
<path d="M5.0,363.5 L11.2,364.9 L17.3,366.3 L23.5,367.7 L29.6,369.1 L35.8,370.5 L42.0,371.9 L42.0,375.8 L35.8,374.4 L29.6,373.0 L23.5,371.6 L17.3,370.2 L11.2,368.8 L5.0,367.4Z" fill="url(#l417)"/>
<path d="M30.0,346.6 L36.1,348.0 L42.1,349.3 L48.1,350.7 L54.1,352.1 L60.1,353.5 L66.1,354.9 L72.1,356.3 L78.1,357.8 L84.2,359.4 L90.2,361.0 L96.2,362.7 L102.2,364.5 L108.2,366.4 L114.2,368.5 L120.2,370.7 L126.3,373.2 L132.3,375.8 L138.3,378.8 L144.3,381.9 L150.3,385.4 L156.3,389.2 L162.3,393.2 L162.3,397.6 L156.3,393.5 L150.3,389.7 L144.3,386.2 L138.3,382.9 L132.3,380.0 L126.3,377.2 L120.2,374.8 L114.2,372.5 L108.2,370.4 L102.2,368.5 L96.2,366.6 L90.2,364.9 L84.2,363.3 L78.1,361.7 L72.1,360.2 L66.1,358.8 L60.1,357.3 L54.1,355.9 L48.1,354.6 L42.1,353.2 L36.1,351.8 L30.0,350.5Z" fill="url(#l418)"/>
<path d="M147.4,358.9 L153.4,362.2 L159.5,365.8 L165.5,369.7 L171.6,373.8 L177.6,378.2 L183.7,382.8 L189.7,387.6 L195.8,392.5 L201.8,397.4 L207.9,402.2 L213.9,406.8 L220.0,411.1 L226.0,415.1 L232.1,418.7 L238.1,422.0 L244.2,424.8 L250.2,427.4 L256.3,429.6 L262.3,431.6 L268.4,433.3 L274.4,434.9 L280.5,436.2 L286.5,437.5 L292.6,438.6 L298.6,439.6 L304.7,440.6 L310.7,441.5 L316.8,442.3 L316.8,446.1 L310.7,445.2 L304.7,444.3 L298.6,443.3 L292.6,442.3 L286.5,441.2 L280.5,439.9 L274.4,438.5 L268.4,437.0 L262.3,435.2 L256.3,433.3 L250.2,431.1 L244.2,428.6 L238.1,425.7 L232.1,422.6 L226.0,419.0 L220.0,415.1 L213.9,410.9 L207.9,406.4 L201.8,401.7 L195.8,396.9 L189.7,392.1 L183.7,387.3 L177.6,382.7 L171.6,378.2 L165.5,374.1 L159.5,370.2 L153.4,366.5 L147.4,363.2Z" fill="url(#l419)"/>
<path d="M5.0,366.0 L11.3,367.5 L17.5,368.9 L23.8,370.3 L30.0,371.7 L30.0,375.6 L23.8,374.2 L17.5,372.8 L11.3,371.3 L5.0,369.9Z" fill="url(#l420)"/>
<path d="M18.4,346.5 L24.5,347.9 L30.7,349.3 L36.8,350.7 L43.0,352.0 L49.1,353.4 L55.3,354.9 L61.4,356.3 L67.5,357.8 L73.7,359.2 L79.8,360.8 L86.0,362.4 L92.1,364.1 L98.3,365.9 L104.4,367.8 L110.5,369.8 L116.7,372.0 L122.8,374.4 L129.0,377.0 L135.1,379.9 L141.3,383.0 L147.4,386.5 L147.4,390.7 L141.3,387.2 L135.1,384.0 L129.0,381.1 L122.8,378.4 L116.7,376.0 L110.5,373.8 L104.4,371.7 L98.3,369.8 L92.1,368.0 L86.0,366.3 L79.8,364.7 L73.7,363.1 L67.5,361.6 L61.4,360.2 L55.3,358.7 L49.1,357.3 L43.0,355.9 L36.8,354.5 L30.7,353.1 L24.5,351.7 L18.4,350.4Z" fill="url(#l421)"/>
<path d="M133.2,354.9 L139.3,357.6 L145.4,360.6 L151.5,363.9 L157.7,367.5 L163.8,371.4 L169.9,375.5 L176.0,379.9 L182.1,384.5 L188.3,389.3 L194.4,394.2 L200.5,399.1 L206.6,404.0 L212.7,408.6 L218.9,412.9 L225.0,417.0 L231.1,420.7 L237.2,423.9 L243.3,426.9 L249.5,429.5 L255.6,431.7 L261.7,433.7 L267.8,435.5 L274.0,437.1 L280.1,438.5 L286.2,439.8 L292.3,440.9 L298.4,442.0 L304.6,443.0 L310.7,443.9 L316.8,444.7 L316.8,448.5 L310.7,447.6 L304.6,446.7 L298.4,445.7 L292.3,444.6 L286.2,443.5 L280.1,442.2 L274.0,440.8 L267.8,439.2 L261.7,437.4 L255.6,435.4 L249.5,433.1 L243.3,430.6 L237.2,427.7 L231.1,424.5 L225.0,420.9 L218.9,417.0 L212.7,412.8 L206.6,408.2 L200.5,403.5 L194.4,398.7 L188.3,393.8 L182.1,389.0 L176.0,384.4 L169.9,379.9 L163.8,375.8 L157.7,371.8 L151.5,368.2 L145.4,364.9 L139.3,361.8 L133.2,359.0Z" fill="url(#l422)"/>
<path d="M314.8,422.5 L315.8,422.7 L316.8,422.8 L316.8,426.5 L315.8,426.4 L314.8,426.3Z" fill="#21cf00"/>
<path d="M5.0,368.5 L11.7,370.1 L18.4,371.6 L18.4,375.5 L11.7,373.9 L5.0,372.4Z" fill="url(#l423)"/>
<path d="M7.0,346.4 L13.0,347.8 L19.0,349.1 L25.0,350.5 L31.0,351.9 L37.0,353.2 L43.0,354.6 L49.1,355.9 L55.1,357.3 L61.1,358.7 L67.1,360.2 L73.1,361.6 L79.1,363.1 L85.1,364.7 L91.1,366.4 L97.1,368.1 L103.1,369.9 L109.1,371.9 L115.1,374.0 L121.2,376.3 L127.2,378.9 L133.2,381.6 L133.2,385.7 L127.2,382.9 L121.2,380.4 L115.1,378.0 L109.1,375.9 L103.1,373.9 L97.1,372.0 L91.1,370.3 L85.1,368.6 L79.1,367.0 L73.1,365.5 L67.1,364.0 L61.1,362.6 L55.1,361.2 L49.1,359.8 L43.0,358.4 L37.0,357.1 L31.0,355.7 L25.0,354.4 L19.0,353.0 L13.0,351.6 L7.0,350.3Z" fill="url(#l424)"/>
<path d="M119.3,352.1 L125.4,354.4 L131.5,356.8 L137.6,359.5 L143.7,362.5 L149.8,365.7 L155.9,369.3 L162.0,373.1 L168.1,377.2 L174.3,381.5 L180.4,386.1 L186.5,390.8 L192.6,395.7 L198.7,400.5 L204.8,405.3 L210.9,410.0 L217.0,414.3 L223.1,418.4 L229.3,422.1 L235.4,425.5 L241.5,428.4 L247.6,431.1 L253.7,433.4 L259.8,435.5 L265.9,437.4 L272.0,439.0 L278.1,440.5 L284.3,441.8 L290.4,443.0 L296.5,444.1 L302.6,445.1 L308.7,446.0 L314.8,446.9 L314.8,450.7 L308.7,449.8 L302.6,448.8 L296.5,447.8 L290.4,446.7 L284.3,445.5 L278.1,444.1 L272.0,442.6 L265.9,441.0 L259.8,439.2 L253.7,437.1 L247.6,434.8 L241.5,432.2 L235.4,429.3 L229.3,426.0 L223.1,422.4 L217.0,418.4 L210.9,414.2 L204.8,409.6 L198.7,404.9 L192.6,400.1 L186.5,395.3 L180.4,390.6 L174.3,386.0 L168.1,381.6 L162.0,377.5 L155.9,373.6 L149.8,370.0 L143.7,366.7 L137.6,363.7 L131.5,360.9 L125.4,358.4 L119.3,356.1Z" fill="url(#l425)"/>
<path d="M288.9,421.2 L295.9,422.4 L302.9,423.4 L309.8,424.3 L316.8,425.2 L316.8,429.0 L309.8,428.1 L302.9,427.1 L295.9,426.1 L288.9,424.9Z" fill="url(#l426)"/>
<path d="M5.0,371.7 L6.0,372.0 L7.0,372.2 M5.0,349.1 L11.0,350.5 L17.0,351.9 L23.0,353.2 L29.1,354.6 L35.1,356.0 L41.1,357.3 L47.1,358.7 L53.1,360.1 L59.1,361.5 L65.1,362.9 L71.1,364.4 L77.2,365.9 L83.2,367.4 L89.2,369.1 L95.2,370.8 L101.2,372.6 L107.2,374.5 L113.2,376.6 L119.3,378.9 M105.6,350.9 L111.8,352.8 L117.9,354.9 L124.0,357.2 L130.1,359.6 L136.2,362.3 L142.3,365.3 L148.4,368.5 L154.5,372.0 L160.6,375.8 L166.7,379.8 L172.8,384.2 L179.0,388.7 L185.1,393.4 L191.2,398.2 L197.3,403.1 L203.4,407.8 L209.5,412.4 L215.6,416.7 L221.7,420.8 L227.8,424.5 L233.9,427.9 L240.1,430.9 L246.2,433.6 L252.3,435.9 L258.4,438.1 L264.5,439.9 L270.6,441.6 L276.7,443.1 L282.8,444.5 L288.9,445.7 M263.8,418.5 L270.4,420.3 L277.0,421.9 L283.6,423.3 L290.3,424.5 L296.9,425.6 L303.5,426.6 L310.2,427.5 L316.8,428.3 M5.0,351.7 L11.3,353.1 L17.6,354.5 L23.9,355.9 L30.2,357.4 L36.5,358.8 L42.7,360.2 L49.0,361.6 L55.3,363.1 L61.6,364.6 L67.9,366.1 L74.2,367.6 L80.5,369.2 L86.8,370.9 L93.1,372.7 L99.4,374.6 L105.6,376.6 M92.3,349.6 L98.5,351.3 L104.6,353.1 L110.7,355.0 L116.8,357.1 L122.9,359.4 L129.1,361.9 L135.2,364.5 L141.3,367.5 L147.4,370.7 L153.6,374.2 L159.7,378.0 L165.8,382.1 L171.9,386.4 L178.0,390.9 L184.2,395.6 L190.3,400.4 L196.4,405.2 L202.5,410.0 L208.7,414.5 L214.8,418.8 L220.9,422.9 L227.0,426.6 L233.1,429.9 L239.3,433.0 L245.4,435.6 L251.5,438.0 L257.6,440.2 L263.8,442.1 M239.4,411.1 L245.9,414.2 L252.3,416.9 L258.8,419.3 L265.2,421.3 L271.7,423.0 L278.1,424.5 L284.6,425.8 L291.0,427.0 L297.5,428.1 L303.9,429.0 L310.4,429.9 L316.8,430.8 M5.0,354.2 L11.2,355.6 L17.5,357.0 L23.7,358.4 L30.0,359.8 L36.2,361.2 L42.4,362.7 L48.7,364.1 L54.9,365.5 L61.1,367.0 L67.4,368.5 L73.6,370.0 L79.9,371.6 L86.1,373.3 L92.3,375.0 M79.3,348.7 L85.5,350.3 L91.6,351.9 L97.8,353.6 L103.9,355.5 L110.1,357.4 L116.3,359.5 L122.4,361.8 L128.6,364.3 L134.7,367.0 L140.9,370.0 L147.1,373.2 L153.2,376.8 L159.4,380.6 L165.5,384.7 L171.7,389.1 L177.9,393.7 L184.0,398.4 L190.2,403.2 L196.3,408.0 L202.5,412.7 L208.6,417.3 L214.8,421.5 L221.0,425.5 L227.1,429.2 L233.3,432.5 L239.4,435.5 M217.2,399.2 L223.4,403.7 L229.6,407.9 L235.9,411.6 L242.1,414.8 L248.3,417.7 L254.5,420.1 L260.8,422.3 L267.0,424.1 L273.2,425.7 L279.4,427.2 L285.7,428.4 L291.9,429.5 L298.1,430.6 L304.3,431.5 L310.6,432.4 L316.8,433.2 M5.0,356.7 L11.2,358.1 L17.4,359.5 L23.6,360.9 L29.8,362.3 L36.0,363.7 L42.2,365.1 L48.3,366.5 L54.5,368.0 L60.7,369.4 L66.9,370.9 L73.1,372.4 L79.3,374.0 M66.6,348.1 L72.6,349.6 L78.6,351.1 L84.7,352.6 L90.7,354.2 L96.7,355.9 L102.7,357.7 L108.7,359.6 L114.8,361.6 L120.8,363.8 L126.8,366.2 L132.8,368.8 L138.9,371.7 L144.9,374.8 L150.9,378.2 L156.9,381.9 L163.0,385.9 L169.0,390.0 L175.0,394.5 L181.0,399.0 L187.1,403.7 L193.1,408.4 L199.1,413.0 L205.1,417.5 L211.2,421.8 L217.2,425.8 M197.0,385.7 L203.3,390.9 L209.6,396.0 L216.0,400.9 L222.3,405.5 L228.6,409.7 L234.9,413.5 L241.2,416.8 L247.5,419.7 L253.8,422.2 L260.1,424.4 L266.4,426.3 L272.7,428.0 L279.0,429.4 L285.3,430.7 L291.6,431.9 L297.9,432.9 L304.2,433.9 L310.5,434.8 L316.8,435.6 M5.0,359.2 L11.2,360.6 L17.3,362.0 L23.5,363.4 L29.6,364.8 L35.8,366.2 L41.9,367.6 L48.1,369.0 L54.3,370.4 L60.4,371.9 L66.6,373.3 M54.1,347.7 L60.3,349.2 L66.6,350.6 L72.8,352.1 L79.0,353.7 L85.2,355.3 L91.4,356.9 L97.6,358.7 L103.8,360.6 L110.1,362.6 L116.3,364.7 L122.5,367.1 L128.7,369.6 L134.9,372.5 L141.1,375.5 L147.3,378.9 L153.5,382.6 L159.8,386.6 L166.0,390.8 L172.2,395.3 L178.4,399.9 L184.6,404.7 L190.8,409.5 L197.0,414.3 M178.8,374.0 L185.1,378.9 L191.4,383.9 L197.6,389.0 L203.9,394.2 L210.2,399.2 L216.5,404.0 L222.7,408.4 L229.0,412.5 L235.3,416.2 L241.5,419.4 L247.8,422.3 L254.1,424.7 L260.4,426.9 L266.6,428.7 L272.9,430.4 L279.2,431.8 L285.4,433.1 L291.7,434.3 L298.0,435.4 L304.3,436.3 L310.5,437.2 L316.8,438.1 M5.0,361.7 L11.1,363.1 L17.3,364.5 L23.4,365.9 L29.6,367.3 L35.7,368.7 L41.8,370.1 L48.0,371.5 L54.1,372.9 M42.0,347.5 L48.2,348.9 L54.4,350.3 L60.6,351.7 L66.8,353.2 L73.1,354.7 L79.3,356.3 L85.5,357.9 L91.7,359.6 L97.9,361.4 L104.2,363.3 L110.4,365.3 L116.6,367.5 L122.8,369.9 L129.0,372.5 L135.3,375.3 L141.5,378.4 L147.7,381.9 L153.9,385.6 L160.2,389.6 L166.4,393.9 L172.6,398.5 L178.8,403.2 M162.3,365.5 L168.5,369.6 L174.7,373.9 L180.9,378.5 L187.0,383.3 L193.2,388.3 L199.4,393.3 L205.6,398.3 L211.8,403.2 L217.9,407.7 L224.1,412.0 L230.3,415.8 L236.5,419.3 L242.7,422.4 L248.8,425.1 L255.0,427.4 L261.2,429.5 L267.4,431.3 L273.5,432.9 L279.7,434.3 L285.9,435.6 L292.1,436.8 L298.3,437.8 L304.4,438.8 L310.6,439.7 L316.8,440.5 M5.0,364.2 L11.2,365.6 L17.3,367.0 L23.5,368.4 L29.6,369.8 L35.8,371.2 L42.0,372.6 M30.0,347.3 L36.1,348.6 L42.1,350.0 L48.1,351.4 L54.1,352.8 L60.1,354.1 L66.1,355.6 L72.1,357.0 L78.1,358.5 L84.2,360.1 L90.2,361.7 L96.2,363.4 L102.2,365.2 L108.2,367.1 L114.2,369.2 L120.2,371.5 L126.3,373.9 L132.3,376.6 L138.3,379.5 L144.3,382.7 L150.3,386.2 L156.3,389.9 L162.3,394.0 M147.4,359.7 L153.4,363.0 L159.5,366.6 L165.5,370.4 L171.6,374.6 L177.6,379.0 L183.7,383.6 L189.7,388.4 L195.8,393.3 L201.8,398.1 L207.9,402.9 L213.9,407.5 L220.0,411.8 L226.0,415.8 L232.1,419.4 L238.1,422.6 L244.2,425.5 L250.2,428.0 L256.3,430.3 L262.3,432.2 L268.4,434.0 L274.4,435.5 L280.5,436.9 L286.5,438.1 L292.6,439.3 L298.6,440.3 L304.7,441.2 L310.7,442.1 L316.8,443.0 M5.0,366.7 L11.3,368.1 L17.5,369.6 L23.8,371.0 L30.0,372.4 M18.4,347.2 L24.5,348.6 L30.7,349.9 L36.8,351.3 L43.0,352.7 L49.1,354.1 L55.3,355.5 L61.4,357.0 L67.5,358.4 L73.7,359.9 L79.8,361.5 L86.0,363.1 L92.1,364.8 L98.3,366.6 L104.4,368.5 L110.5,370.5 L116.7,372.7 L122.8,375.1 L129.0,377.7 L135.1,380.6 L141.3,383.7 L147.4,387.2 M133.2,355.6 L139.3,358.4 L145.4,361.4 L151.5,364.7 L157.7,368.3 L163.8,372.1 L169.9,376.3 L176.0,380.7 L182.1,385.3 L188.3,390.1 L194.4,395.0 L200.5,399.9 L206.6,404.7 L212.7,409.3 L218.9,413.7 L225.0,417.7 L231.1,421.3 L237.2,424.6 L243.3,427.5 L249.5,430.1 L255.6,432.4 L261.7,434.4 L267.8,436.2 L274.0,437.7 L280.1,439.2 L286.2,440.4 L292.3,441.6 L298.4,442.7 L304.6,443.6 L310.7,444.5 L316.8,445.4 M314.8,423.2 L315.8,423.3 L316.8,423.4 M5.0,369.2 L11.7,370.7 L18.4,372.3 M7.0,347.1 L13.0,348.5 L19.0,349.8 L25.0,351.2 L31.0,352.5 L37.0,353.9 L43.0,355.3 L49.1,356.6 L55.1,358.0 L61.1,359.4 L67.1,360.8 L73.1,362.3 L79.1,363.8 L85.1,365.4 L91.1,367.0 L97.1,368.8 L103.1,370.6 L109.1,372.6 L115.1,374.7 L121.2,377.0 L127.2,379.6 L133.2,382.3 M119.3,352.8 L125.4,355.1 L131.5,357.6 L137.6,360.3 L143.7,363.2 L149.8,366.5 L155.9,370.0 L162.0,373.8 L168.1,377.9 L174.3,382.3 L180.4,386.9 L186.5,391.6 L192.6,396.5 L198.7,401.3 L204.8,406.1 L210.9,410.7 L217.0,415.0 L223.1,419.1 L229.3,422.8 L235.4,426.1 L241.5,429.1 L247.6,431.7 L253.7,434.1 L259.8,436.2 L265.9,438.0 L272.0,439.6 L278.1,441.1 L284.3,442.4 L290.4,443.6 L296.5,444.7 L302.6,445.7 L308.7,446.7 L314.8,447.6 M288.9,421.9 L295.9,423.0 L302.9,424.0 L309.8,425.0 L316.8,425.9" fill="none" stroke="#000" stroke-width="0.70" stroke-opacity="0.12"/>
<path d="M55.0,361.0 L58.1,361.0 L61.2,361.6 L64.4,362.3 L67.5,363.1 L70.6,364.0 L73.8,365.1 L76.9,366.3 L80.0,368.0 L80.0,368.0 L76.9,367.9 L73.8,367.3 L70.6,366.5 L67.5,365.7 L64.4,364.8 L61.2,363.8 L58.1,362.6 L55.0,361.0Z" fill="#10e0e0" fill-opacity="0.90"/>
<path d="M75.0,369.5 L78.1,369.2 L81.2,369.3 L84.4,369.4 L87.5,369.7 L90.6,370.0 L93.7,370.3 L96.8,370.7 L99.9,371.2 L103.1,371.7 L106.2,372.3 L109.3,373.0 L112.4,373.7 L115.5,374.5 L118.6,375.4 L121.8,376.3 L124.9,377.4 L128.0,379.0 L128.0,379.0 L124.9,378.7 L121.8,378.1 L118.6,377.5 L115.5,376.9 L112.4,376.4 L109.3,375.8 L106.2,375.2 L103.1,374.7 L99.9,374.2 L96.8,373.7 L93.7,373.2 L90.6,372.6 L87.5,372.1 L84.4,371.6 L81.2,371.1 L78.1,370.5 L75.0,369.5Z" fill="#1048e0" fill-opacity="0.90"/>
<path d="M225.0,407.2 L228.0,408.5 L231.1,409.9 L234.1,411.3 L237.2,412.6 L240.2,413.8 L243.3,415.0 L246.3,416.0 L249.4,417.0 L252.4,417.9 L255.5,418.7 L258.5,419.5 L261.5,420.2 L264.6,420.8 L267.6,421.4 L270.7,422.0 L273.7,422.5 L276.8,423.0 L279.8,423.4 L282.9,423.8 L285.9,424.2 L289.0,424.6 L292.0,425.1 L292.0,425.1 L289.0,425.2 L285.9,425.0 L282.9,424.8 L279.8,424.6 L276.8,424.2 L273.7,423.9 L270.7,423.5 L267.6,423.0 L264.6,422.4 L261.5,421.8 L258.5,421.1 L255.5,420.3 L252.4,419.5 L249.4,418.5 L246.3,417.5 L243.3,416.4 L240.2,415.1 L237.2,413.8 L234.1,412.3 L231.1,410.8 L228.0,409.1 L225.0,407.2Z" fill="#1050e8" fill-opacity="0.90"/>
<path d="M245.8,422.6 L248.8,423.3 L251.8,424.1 L254.8,424.9 L257.8,425.6 L260.8,426.3 L263.9,427.0 L266.9,427.6 L269.9,428.1 L272.9,428.7 L275.9,429.2 L278.9,429.6 L281.9,430.1 L284.9,430.5 L287.9,430.9 L290.9,431.3 L293.9,431.7 L296.9,432.0 L300.0,432.4 L303.0,432.7 L306.0,433.1 L309.0,433.4 L312.0,433.8 L315.0,434.4 L315.0,434.4 L312.0,434.6 L309.0,434.5 L306.0,434.4 L303.0,434.3 L300.0,434.1 L296.9,433.9 L293.9,433.6 L290.9,433.4 L287.9,433.0 L284.9,432.7 L281.9,432.3 L278.9,431.8 L275.9,431.3 L272.9,430.8 L269.9,430.2 L266.9,429.6 L263.9,428.8 L260.8,428.1 L257.8,427.2 L254.8,426.3 L251.8,425.2 L248.8,424.1 L245.8,422.6Z" fill="#0a2ad8" fill-opacity="1.00"/>
<path d="M269.4,433.1 L272.4,433.4 L275.5,434.0 L278.5,434.5 L281.6,435.1 L284.6,435.7 L287.6,436.2 L290.7,436.8 L293.7,437.3 L296.8,437.9 L299.8,438.4 L302.8,439.0 L305.9,439.5 L308.9,440.1 L312.0,440.7 L315.0,441.6 L315.0,441.6 L312.0,441.6 L308.9,441.4 L305.9,441.0 L302.8,440.7 L299.8,440.3 L296.8,439.8 L293.7,439.3 L290.7,438.8 L287.6,438.2 L284.6,437.5 L281.6,436.8 L278.5,436.1 L275.5,435.3 L272.4,434.3 L269.4,433.1Z" fill="#0a50e8" fill-opacity="1.00"/>
</g>
<g clip-path="url(#r1_c)" filter="url(#blur)">
<path d="M372.1,90.4 L373.1,90.5 L374.1,90.6 L374.1,94.8 L373.1,94.7 L372.1,94.6Z" fill="#0002c8"/>
<path d="M372.1,66.2 L378.1,66.8 L384.2,67.4 L390.2,68.0 L396.2,68.6 L402.3,69.3 L408.3,70.0 L414.3,70.7 L420.4,71.5 L426.4,72.3 L432.4,73.2 L438.5,74.1 L444.5,75.2 L450.6,76.3 L456.6,77.6 L462.6,78.9 L468.7,80.4 L474.7,82.1 L480.7,83.9 L486.8,85.9 L492.8,88.0 L498.8,90.4 L504.9,93.0 L510.9,95.8 L516.9,98.9 L523.0,102.1 L529.0,105.5 L535.0,109.1 L541.1,112.8 L547.1,116.6 L553.1,120.5 L559.2,124.4 L565.2,128.3 L571.2,132.2 L577.3,136.1 L583.3,139.8 L589.4,143.6 L595.4,147.5 L601.4,151.4 L607.5,155.3 L607.5,159.7 L601.4,155.7 L595.4,151.7 L589.4,147.7 L583.3,143.9 L577.3,140.2 L571.2,136.3 L565.2,132.4 L559.2,128.5 L553.1,124.7 L547.1,120.8 L541.1,117.0 L535.0,113.3 L529.0,109.8 L523.0,106.4 L516.9,103.2 L510.9,100.1 L504.9,97.3 L498.8,94.7 L492.8,92.4 L486.8,90.2 L480.7,88.2 L474.7,86.4 L468.7,84.7 L462.6,83.2 L456.6,81.8 L450.6,80.6 L444.5,79.4 L438.5,78.4 L432.4,77.4 L426.4,76.5 L420.4,75.7 L414.3,74.9 L408.3,74.2 L402.3,73.5 L396.2,72.8 L390.2,72.1 L384.2,71.5 L378.1,70.9 L372.1,70.4Z" fill="url(#r10)"/>
<path d="M590.2,119.9 L596.6,123.5 L603.0,126.9 L609.3,130.2 L615.7,133.5 L622.1,136.5 L628.5,139.3 L634.9,141.9 L641.2,144.4 L647.6,146.7 L654.0,148.9 L660.4,151.1 L666.8,153.1 L673.1,155.1 L679.5,156.9 L685.9,158.7 L685.9,162.8 L679.5,161.0 L673.1,159.1 L666.8,157.2 L660.4,155.2 L654.0,153.1 L647.6,150.8 L641.2,148.5 L634.9,146.1 L628.5,143.6 L622.1,141.0 L615.7,138.0 L609.3,134.7 L603.0,131.3 L596.6,127.7 L590.2,124.0Z" fill="url(#r11)"/>
<path d="M372.1,68.9 L378.2,69.5 L384.2,70.1 L390.3,70.7 L396.3,71.3 L402.4,72.0 L408.5,72.7 L414.5,73.4 L420.6,74.2 L426.6,75.1 L432.7,76.0 L438.7,76.9 L444.8,78.0 L450.9,79.2 L456.9,80.4 L463.0,81.8 L469.0,83.3 L475.1,85.0 L481.2,86.8 L487.2,88.8 L493.3,91.0 L499.3,93.4 L505.4,96.1 L511.4,98.9 L517.5,101.9 L523.6,105.2 L529.6,108.6 L535.7,112.2 L541.7,116.0 L547.8,119.8 L553.9,123.7 L559.9,127.6 L566.0,131.5 L572.0,135.4 L578.1,139.2 L584.2,143.0 L590.2,146.8 L590.2,151.0 L584.2,147.1 L578.1,143.3 L572.0,139.5 L566.0,135.6 L559.9,131.7 L553.9,127.8 L547.8,124.0 L541.7,120.2 L535.7,116.5 L529.6,112.9 L523.6,109.5 L517.5,106.2 L511.4,103.2 L505.4,100.4 L499.3,97.8 L493.3,95.4 L487.2,93.2 L481.2,91.1 L475.1,89.3 L469.0,87.6 L463.0,86.1 L456.9,84.7 L450.9,83.4 L444.8,82.3 L438.7,81.2 L432.7,80.2 L426.6,79.3 L420.6,78.4 L414.5,77.6 L408.5,76.9 L402.4,76.2 L396.3,75.5 L390.3,74.9 L384.2,74.2 L378.2,73.6 L372.1,73.1Z" fill="url(#r12)"/>
<path d="M572.6,111.8 L578.9,115.8 L585.2,119.6 L591.5,123.3 L597.8,126.9 L604.1,130.4 L610.4,133.7 L616.7,136.9 L623.0,139.8 L629.3,142.4 L635.6,144.9 L641.9,147.3 L648.1,149.6 L654.4,151.8 L660.7,153.9 L667.0,155.9 L673.3,157.8 L679.6,159.6 L685.9,161.3 L685.9,165.4 L679.6,163.7 L673.3,161.9 L667.0,159.9 L660.7,158.0 L654.4,155.9 L648.1,153.7 L641.9,151.4 L635.6,149.1 L629.3,146.8 L623.0,144.2 L616.7,141.4 L610.4,138.2 L604.1,134.7 L597.8,131.2 L591.5,127.5 L585.2,123.7 L578.9,119.9 L572.6,115.9Z" fill="url(#r13)"/>
<path d="M372.1,71.6 L378.2,72.2 L384.3,72.8 L390.3,73.4 L396.4,74.0 L402.5,74.7 L408.6,75.4 L414.6,76.2 L420.7,77.0 L426.8,77.8 L432.9,78.7 L438.9,79.7 L445.0,80.8 L451.1,82.0 L457.2,83.2 L463.3,84.6 L469.3,86.2 L475.4,87.9 L481.5,89.7 L487.6,91.8 L493.6,94.0 L499.7,96.4 L505.8,99.0 L511.9,101.9 L518.0,105.0 L524.0,108.2 L530.1,111.7 L536.2,115.3 L542.3,119.0 L548.3,122.8 L554.4,126.7 L560.5,130.6 L566.6,134.5 L572.6,138.4 L572.6,142.6 L566.6,138.7 L560.5,134.8 L554.4,130.9 L548.3,127.0 L542.3,123.2 L536.2,119.5 L530.1,115.9 L524.0,112.5 L518.0,109.3 L511.9,106.2 L505.8,103.4 L499.7,100.7 L493.6,98.3 L487.6,96.1 L481.5,94.0 L475.4,92.2 L469.3,90.5 L463.3,88.9 L457.2,87.5 L451.1,86.2 L445.0,85.1 L438.9,84.0 L432.9,83.0 L426.8,82.0 L420.7,81.2 L414.6,80.4 L408.6,79.6 L402.5,78.9 L396.4,78.2 L390.3,77.6 L384.3,76.9 L378.2,76.3 L372.1,75.7Z" fill="url(#r14)"/>
<path d="M553.6,101.9 L559.6,105.9 L565.6,109.8 L571.6,113.8 L577.6,117.6 L583.7,121.3 L589.7,124.9 L595.7,128.4 L601.7,131.9 L607.7,135.2 L613.7,138.3 L619.7,141.2 L625.8,143.8 L631.8,146.2 L637.8,148.5 L643.8,150.7 L649.8,152.8 L655.8,154.9 L661.8,156.9 L667.9,158.8 L673.9,160.6 L679.9,162.3 L685.9,164.0 L685.9,168.1 L679.9,166.4 L673.9,164.7 L667.9,162.9 L661.8,161.0 L655.8,159.0 L649.8,156.9 L643.8,154.8 L637.8,152.7 L631.8,150.5 L625.8,148.2 L619.7,145.7 L613.7,142.9 L607.7,139.6 L601.7,136.2 L595.7,132.7 L589.7,129.1 L583.7,125.5 L577.6,121.7 L571.6,117.9 L565.6,114.0 L559.6,110.0 L553.6,106.0Z" fill="url(#r15)"/>
<path d="M372.1,74.3 L378.1,74.9 L384.2,75.5 L390.2,76.1 L396.3,76.7 L402.3,77.4 L408.4,78.1 L414.4,78.9 L420.5,79.7 L426.5,80.5 L432.6,81.4 L438.6,82.4 L444.7,83.5 L450.7,84.7 L456.8,85.9 L462.8,87.3 L468.9,88.9 L474.9,90.5 L481.0,92.4 L487.0,94.4 L493.1,96.6 L499.1,99.0 L505.2,101.6 L511.2,104.4 L517.3,107.4 L523.3,110.6 L529.4,114.0 L535.4,117.6 L541.5,121.3 L547.5,125.0 L553.6,128.9 L553.6,133.0 L547.5,129.2 L541.5,125.5 L535.4,121.8 L529.4,118.3 L523.3,114.9 L517.3,111.7 L511.2,108.7 L505.2,105.9 L499.1,103.3 L493.1,100.9 L487.0,98.7 L481.0,96.7 L474.9,94.8 L468.9,93.2 L462.8,91.6 L456.8,90.2 L450.7,88.9 L444.7,87.8 L438.6,86.7 L432.6,85.7 L426.5,84.7 L420.5,83.9 L414.4,83.1 L408.4,82.3 L402.3,81.6 L396.3,80.9 L390.2,80.3 L384.2,79.6 L378.1,79.0 L372.1,78.4Z" fill="url(#r16)"/>
<path d="M530.5,89.8 L536.8,93.7 L543.0,97.6 L549.2,101.7 L555.4,105.8 L561.6,109.9 L567.8,114.0 L574.0,118.0 L580.3,121.9 L586.5,125.7 L592.7,129.4 L598.9,133.1 L605.1,136.6 L611.3,140.0 L617.5,143.1 L623.8,145.9 L630.0,148.3 L636.2,150.6 L642.4,152.9 L648.6,155.1 L654.8,157.2 L661.0,159.3 L667.3,161.2 L673.5,163.1 L679.7,164.9 L685.9,166.6 L685.9,170.7 L679.7,169.0 L673.5,167.2 L667.3,165.3 L661.0,163.4 L654.8,161.3 L648.6,159.2 L642.4,157.0 L636.2,154.8 L630.0,152.6 L623.8,150.3 L617.5,147.7 L611.3,144.5 L605.1,141.0 L598.9,137.3 L592.7,133.6 L586.5,129.9 L580.3,126.0 L574.0,122.1 L567.8,118.1 L561.6,114.0 L555.4,109.9 L549.2,105.8 L543.0,101.8 L536.8,97.9 L530.5,94.1Z" fill="url(#r17)"/>
<path d="M372.1,77.0 L378.2,77.6 L384.3,78.2 L390.4,78.8 L396.5,79.5 L402.6,80.2 L408.7,80.9 L414.8,81.6 L420.9,82.5 L426.9,83.3 L433.0,84.3 L439.1,85.3 L445.2,86.4 L451.3,87.6 L457.4,88.9 L463.5,90.3 L469.6,91.8 L475.7,93.6 L481.8,95.4 L487.9,97.5 L494.0,99.7 L500.1,102.2 L506.2,104.8 L512.3,107.7 L518.4,110.8 L524.5,114.0 L530.5,117.5 L530.5,121.7 L524.5,118.3 L518.4,115.1 L512.3,112.0 L506.2,109.2 L500.1,106.5 L494.0,104.1 L487.9,101.8 L481.8,99.8 L475.7,97.9 L469.6,96.1 L463.5,94.6 L457.4,93.1 L451.3,91.8 L445.2,90.6 L439.1,89.5 L433.0,88.5 L426.9,87.5 L420.9,86.7 L414.8,85.8 L408.7,85.1 L402.6,84.3 L396.5,83.6 L390.4,83.0 L384.3,82.3 L378.2,81.7 L372.1,81.1Z" fill="url(#r18)"/>
<path d="M502.7,78.0 L508.8,80.8 L514.9,83.8 L521.0,87.1 L527.1,90.6 L533.2,94.2 L539.3,98.0 L545.4,101.9 L551.5,105.9 L557.7,109.9 L563.8,114.0 L569.9,118.0 L576.0,121.9 L582.1,125.7 L588.2,129.4 L594.3,133.1 L600.4,136.7 L606.5,140.3 L612.6,143.6 L618.7,146.6 L624.8,149.2 L630.9,151.5 L637.0,153.7 L643.2,155.8 L649.3,158.0 L655.4,160.1 L661.5,162.1 L667.6,164.0 L673.7,165.8 L679.8,167.6 L685.9,169.3 L685.9,173.4 L679.8,171.7 L673.7,169.9 L667.6,168.1 L661.5,166.2 L655.4,164.2 L649.3,162.1 L643.2,160.0 L637.0,157.9 L630.9,155.8 L624.8,153.6 L618.7,151.1 L612.6,148.1 L606.5,144.7 L600.4,141.0 L594.3,137.3 L588.2,133.6 L582.1,129.8 L576.0,126.0 L569.9,122.1 L563.8,118.1 L557.7,114.1 L551.5,110.1 L545.4,106.1 L539.3,102.2 L533.2,98.5 L527.1,94.8 L521.0,91.4 L514.9,88.1 L508.8,85.1 L502.7,82.3Z" fill="url(#r19)"/>
<path d="M673.3,141.8 L679.6,143.7 L685.9,145.4 L685.9,149.5 L679.6,147.8 L673.3,145.9Z" fill="url(#r110)"/>
<path d="M372.1,79.7 L378.3,80.3 L384.5,80.9 L390.8,81.6 L397.0,82.2 L403.2,82.9 L409.4,83.7 L415.6,84.5 L421.8,85.3 L428.1,86.2 L434.3,87.2 L440.5,88.3 L446.7,89.4 L452.9,90.7 L459.2,92.0 L465.4,93.5 L471.6,95.2 L477.8,97.0 L484.0,99.0 L490.2,101.2 L496.5,103.5 L502.7,106.1 L502.7,110.4 L496.5,107.9 L490.2,105.5 L484.0,103.3 L477.8,101.3 L471.6,99.5 L465.4,97.8 L459.2,96.3 L452.9,94.9 L446.7,93.7 L440.5,92.5 L434.3,91.4 L428.1,90.5 L421.8,89.5 L415.6,88.7 L409.4,87.9 L403.2,87.1 L397.0,86.4 L390.8,85.7 L384.5,85.1 L378.3,84.4 L372.1,83.8Z" fill="url(#r111)"/>
<path d="M471.4,69.9 L477.5,71.7 L483.6,73.6 L489.7,75.7 L495.9,78.0 L502.0,80.5 L508.1,83.3 L514.2,86.3 L520.3,89.5 L526.5,92.9 L532.6,96.6 L538.7,100.4 L544.8,104.3 L550.9,108.2 L557.0,112.2 L563.2,116.3 L569.3,120.3 L575.4,124.2 L581.5,128.0 L587.6,131.8 L593.8,135.5 L599.9,139.2 L606.0,142.9 L612.1,146.3 L618.2,149.3 L624.4,151.9 L630.5,154.1 L636.6,156.2 L642.7,158.4 L648.8,160.5 L655.0,162.6 L661.1,164.6 L667.2,166.5 L673.3,168.4 L673.3,172.5 L667.2,170.6 L661.1,168.7 L655.0,166.7 L648.8,164.6 L642.7,162.5 L636.6,160.4 L630.5,158.4 L624.4,156.3 L618.2,153.8 L612.1,150.8 L606.0,147.3 L599.9,143.5 L593.8,139.7 L587.6,135.9 L581.5,132.2 L575.4,128.3 L569.3,124.4 L563.2,120.4 L557.0,116.4 L550.9,112.4 L544.8,108.5 L538.7,104.6 L532.6,100.8 L526.5,97.2 L520.3,93.8 L514.2,90.6 L508.1,87.6 L502.0,84.8 L495.9,82.3 L489.7,80.0 L483.6,77.9 L477.5,76.0 L471.4,74.3Z" fill="url(#r112)"/>
<path d="M657.3,139.4 L664.5,141.8 L671.6,144.0 L678.8,146.1 L685.9,148.1 L685.9,152.2 L678.8,150.2 L671.6,148.1 L664.5,145.9 L657.3,143.5Z" fill="url(#r113)"/>
<path d="M372.1,82.4 L378.3,83.0 L384.5,83.6 L390.7,84.3 L396.9,84.9 L403.1,85.6 L409.3,86.4 L415.5,87.2 L421.7,88.0 L427.9,89.0 L434.1,89.9 L440.4,91.0 L446.6,92.1 L452.8,93.4 L459.0,94.8 L465.2,96.3 L471.4,97.9 L471.4,102.2 L465.2,100.6 L459.0,99.1 L452.8,97.7 L446.6,96.4 L440.4,95.2 L434.1,94.2 L427.9,93.2 L421.7,92.2 L415.5,91.4 L409.3,90.6 L403.1,89.8 L396.9,89.1 L390.7,88.4 L384.5,87.8 L378.3,87.1 L372.1,86.5Z" fill="#0000c8"/>
<path d="M439.5,66.1 L445.6,67.1 L451.6,68.2 L457.7,69.5 L463.7,70.8 L469.8,72.3 L475.8,74.0 L481.9,75.8 L487.9,77.8 L494.0,80.0 L500.0,82.5 L506.1,85.1 L512.1,88.0 L518.2,91.1 L524.2,94.4 L530.3,97.9 L536.3,101.6 L542.4,105.4 L548.4,109.3 L554.5,113.2 L560.5,117.2 L566.6,121.2 L572.6,125.1 L578.7,128.9 L584.7,132.7 L590.8,136.4 L596.8,140.1 L602.9,143.8 L608.9,147.4 L615.0,150.7 L621.0,153.4 L627.1,155.7 L633.1,157.8 L639.2,159.8 L645.2,161.9 L651.3,164.0 L657.3,166.0 L657.3,170.1 L651.3,168.1 L645.2,166.0 L639.2,164.0 L633.1,162.0 L627.1,160.1 L621.0,157.9 L615.0,155.2 L608.9,151.9 L602.9,148.2 L596.8,144.4 L590.8,140.5 L584.7,136.8 L578.7,133.0 L572.6,129.2 L566.6,125.3 L560.5,121.3 L554.5,117.4 L548.4,113.5 L542.4,109.6 L536.3,105.8 L530.3,102.2 L524.2,98.7 L518.2,95.4 L512.1,92.3 L506.1,89.4 L500.0,86.8 L494.0,84.4 L487.9,82.1 L481.9,80.1 L475.8,78.3 L469.8,76.6 L463.7,75.1 L457.7,73.7 L451.6,72.5 L445.6,71.3 L439.5,70.3Z" fill="url(#r114)"/>
<path d="M641.0,136.2 L647.4,138.6 L653.8,140.9 L660.2,143.1 L666.7,145.1 L673.1,147.1 L679.5,148.9 L685.9,150.7 L685.9,154.8 L679.5,153.0 L673.1,151.2 L666.7,149.2 L660.2,147.2 L653.8,145.0 L647.4,142.7 L641.0,140.3Z" fill="url(#r115)"/>
<path d="M372.1,85.1 L378.2,85.7 L384.4,86.3 L390.5,86.9 L396.6,87.6 L402.7,88.3 L408.9,89.1 L415.0,89.8 L421.1,90.7 L427.2,91.6 L433.4,92.6 L439.5,93.6 L439.5,97.8 L433.4,96.8 L427.2,95.8 L421.1,94.9 L415.0,94.0 L408.9,93.2 L402.7,92.5 L396.6,91.8 L390.5,91.1 L384.4,90.4 L378.2,89.8 L372.1,89.2Z" fill="#0000c8"/>
<path d="M407.1,64.4 L413.2,65.1 L419.4,65.9 L425.5,66.7 L431.7,67.6 L437.9,68.5 L444.0,69.6 L450.2,70.7 L456.3,71.9 L462.5,73.3 L468.6,74.8 L474.8,76.5 L480.9,78.3 L487.1,80.4 L493.3,82.6 L499.4,85.0 L505.6,87.7 L511.7,90.6 L517.9,93.8 L524.0,97.1 L530.2,100.7 L536.4,104.4 L542.5,108.2 L548.7,112.2 L554.8,116.2 L561.0,120.2 L567.1,124.2 L573.3,128.2 L579.4,132.1 L585.6,135.9 L591.8,139.7 L597.9,143.6 L604.1,147.4 L610.2,151.1 L616.4,154.3 L622.5,156.9 L628.7,159.1 L634.8,161.1 L641.0,163.2 L641.0,167.3 L634.8,165.3 L628.7,163.5 L622.5,161.4 L616.4,158.8 L610.2,155.6 L604.1,151.8 L597.9,147.8 L591.8,143.9 L585.6,140.0 L579.4,136.2 L573.3,132.3 L567.1,128.3 L561.0,124.3 L554.8,120.3 L548.7,116.4 L542.5,112.4 L536.4,108.6 L530.2,104.9 L524.0,101.4 L517.9,98.1 L511.7,94.9 L505.6,92.0 L499.4,89.4 L493.3,86.9 L487.1,84.7 L480.9,82.6 L474.8,80.8 L468.6,79.1 L462.5,77.6 L456.3,76.2 L450.2,75.0 L444.0,73.8 L437.9,72.8 L431.7,71.8 L425.5,70.9 L419.4,70.1 L413.2,69.3 L407.1,68.6Z" fill="url(#r116)"/>
<path d="M624.4,131.8 L630.5,134.6 L636.7,137.2 L642.8,139.6 L649.0,141.9 L655.1,144.0 L661.3,146.1 L667.4,148.0 L673.6,149.9 L679.7,151.7 L685.9,153.4 L685.9,157.5 L679.7,155.7 L673.6,154.0 L667.4,152.1 L661.3,150.2 L655.1,148.1 L649.0,146.0 L642.8,143.7 L636.7,141.4 L630.5,138.9 L624.4,136.2Z" fill="url(#r117)"/>
<path d="M372.1,87.7 L379.1,88.4 L386.1,89.2 L393.1,89.9 L400.1,90.7 L407.1,91.5 L407.1,95.7 L400.1,94.9 L393.1,94.1 L386.1,93.3 L379.1,92.6 L372.1,91.9Z" fill="#0001c8"/>
<path d="M374.1,63.7 L380.2,64.3 L386.3,64.9 L392.4,65.5 L398.5,66.2 L404.6,66.8 L410.7,67.5 L416.8,68.3 L422.9,69.1 L429.0,69.9 L435.1,70.9 L441.2,71.9 L447.4,72.9 L453.5,74.1 L459.6,75.4 L465.7,76.9 L471.8,78.4 L477.9,80.2 L484.0,82.1 L490.1,84.2 L496.2,86.5 L502.3,89.1 L508.4,91.8 L514.5,94.8 L520.6,98.0 L526.7,101.4 L532.8,105.0 L538.9,108.7 L545.0,112.6 L551.1,116.5 L557.2,120.4 L563.3,124.4 L569.4,128.4 L575.5,132.3 L581.7,136.1 L587.8,139.9 L593.9,143.7 L600.0,147.6 L606.1,151.5 L612.2,155.1 L618.3,158.1 L624.4,160.5 L624.4,164.9 L618.3,162.6 L612.2,159.6 L606.1,156.0 L600.0,151.9 L593.9,147.9 L587.8,144.1 L581.7,140.2 L575.5,136.4 L569.4,132.5 L563.3,128.5 L557.2,124.6 L551.1,120.7 L545.0,116.8 L538.9,112.9 L532.8,109.2 L526.7,105.7 L520.6,102.3 L514.5,99.1 L508.4,96.1 L502.3,93.4 L496.2,90.9 L490.1,88.6 L484.0,86.4 L477.9,84.5 L471.8,82.8 L465.7,81.2 L459.6,79.7 L453.5,78.4 L447.4,77.2 L441.2,76.1 L435.1,75.1 L429.0,74.2 L422.9,73.3 L416.8,72.5 L410.7,71.7 L404.6,71.0 L398.5,70.3 L392.4,69.7 L386.3,69.1 L380.2,68.4 L374.1,67.9Z" fill="url(#r118)"/>
<path d="M607.5,126.4 L613.5,129.4 L619.5,132.4 L625.6,135.2 L631.6,137.8 L637.6,140.3 L643.7,142.6 L649.7,144.8 L655.7,146.9 L661.8,148.9 L667.8,150.8 L673.8,152.6 L679.9,154.4 L685.9,156.0 L685.9,160.1 L679.9,158.4 L673.8,156.7 L667.8,154.9 L661.8,153.0 L655.7,151.0 L649.7,148.9 L643.7,146.7 L637.6,144.5 L631.6,142.1 L625.6,139.6 L619.5,136.9 L613.5,133.9 L607.5,130.8Z" fill="url(#r119)"/>
<path d="M372.1,91.2 L373.1,91.3 L374.1,91.4 M372.1,67.0 L378.1,67.5 L384.2,68.1 L390.2,68.7 L396.2,69.3 L402.3,70.0 L408.3,70.7 L414.3,71.4 L420.4,72.2 L426.4,73.0 L432.4,73.9 L438.5,74.9 L444.5,75.9 L450.6,77.1 L456.6,78.3 L462.6,79.7 L468.7,81.2 L474.7,82.8 L480.7,84.6 L486.8,86.6 L492.8,88.8 L498.8,91.2 L504.9,93.8 L510.9,96.6 L516.9,99.6 L523.0,102.8 L529.0,106.3 L535.0,109.8 L541.1,113.5 L547.1,117.3 L553.1,121.2 L559.2,125.1 L565.2,129.0 L571.2,132.9 L577.3,136.8 L583.3,140.6 L589.4,144.3 L595.4,148.2 L601.4,152.2 L607.5,156.1 M590.2,120.6 L596.6,124.2 L603.0,127.7 L609.3,131.0 L615.7,134.3 L622.1,137.3 L628.5,140.1 L634.9,142.7 L641.2,145.1 L647.6,147.4 L654.0,149.7 L660.4,151.8 L666.8,153.8 L673.1,155.8 L679.5,157.6 L685.9,159.4 M372.1,69.6 L378.2,70.2 L384.2,70.8 L390.3,71.4 L396.3,72.1 L402.4,72.7 L408.5,73.4 L414.5,74.2 L420.6,75.0 L426.6,75.8 L432.7,76.7 L438.7,77.7 L444.8,78.7 L450.9,79.9 L456.9,81.2 L463.0,82.5 L469.0,84.1 L475.1,85.7 L481.2,87.6 L487.2,89.6 L493.3,91.8 L499.3,94.2 L505.4,96.8 L511.4,99.6 L517.5,102.7 L523.6,105.9 L529.6,109.4 L535.7,113.0 L541.7,116.7 L547.8,120.5 L553.9,124.4 L559.9,128.3 L566.0,132.2 L572.0,136.1 L578.1,139.9 L584.2,143.7 L590.2,147.6 M572.6,112.5 L578.9,116.5 L585.2,120.3 L591.5,124.1 L597.8,127.6 L604.1,131.1 L610.4,134.5 L616.7,137.7 L623.0,140.6 L629.3,143.2 L635.6,145.7 L641.9,148.0 L648.1,150.3 L654.4,152.5 L660.7,154.6 L667.0,156.6 L673.3,158.5 L679.6,160.3 L685.9,162.0 M372.1,72.3 L378.2,72.9 L384.3,73.5 L390.3,74.1 L396.4,74.8 L402.5,75.5 L408.6,76.2 L414.6,76.9 L420.7,77.7 L426.8,78.6 L432.9,79.5 L438.9,80.5 L445.0,81.5 L451.1,82.7 L457.2,84.0 L463.3,85.4 L469.3,86.9 L475.4,88.6 L481.5,90.5 L487.6,92.5 L493.6,94.7 L499.7,97.2 L505.8,99.8 L511.9,102.7 L518.0,105.7 L524.0,109.0 L530.1,112.4 L536.2,116.0 L542.3,119.7 L548.3,123.6 L554.4,127.4 L560.5,131.4 L566.6,135.3 L572.6,139.2 M553.6,102.6 L559.6,106.6 L565.6,110.6 L571.6,114.5 L577.6,118.3 L583.7,122.1 L589.7,125.7 L595.7,129.2 L601.7,132.6 L607.7,136.0 L613.7,139.1 L619.7,142.0 L625.8,144.6 L631.8,147.0 L637.8,149.2 L643.8,151.4 L649.8,153.5 L655.8,155.6 L661.8,157.6 L667.9,159.5 L673.9,161.3 L679.9,163.0 L685.9,164.7 M372.1,75.0 L378.1,75.6 L384.2,76.2 L390.2,76.8 L396.3,77.5 L402.3,78.2 L408.4,78.9 L414.4,79.6 L420.5,80.4 L426.5,81.3 L432.6,82.2 L438.6,83.2 L444.7,84.2 L450.7,85.4 L456.8,86.7 L462.8,88.1 L468.9,89.6 L474.9,91.3 L481.0,93.1 L487.0,95.1 L493.1,97.3 L499.1,99.7 L505.2,102.3 L511.2,105.1 L517.3,108.2 L523.3,111.4 L529.4,114.8 L535.4,118.3 L541.5,122.0 L547.5,125.8 L553.6,129.6 M530.5,90.6 L536.8,94.4 L543.0,98.4 L549.2,102.4 L555.4,106.5 L561.6,110.6 L567.8,114.7 L574.0,118.7 L580.3,122.6 L586.5,126.5 L592.7,130.2 L598.9,133.8 L605.1,137.4 L611.3,140.8 L617.5,143.9 L623.8,146.7 L630.0,149.1 L636.2,151.4 L642.4,153.6 L648.6,155.8 L654.8,157.9 L661.0,160.0 L667.3,162.0 L673.5,163.8 L679.7,165.6 L685.9,167.3 M372.1,77.7 L378.2,78.3 L384.3,78.9 L390.4,79.5 L396.5,80.2 L402.6,80.9 L408.7,81.6 L414.8,82.4 L420.9,83.2 L426.9,84.1 L433.0,85.0 L439.1,86.0 L445.2,87.1 L451.3,88.3 L457.4,89.6 L463.5,91.0 L469.6,92.6 L475.7,94.3 L481.8,96.2 L487.9,98.3 L494.0,100.5 L500.1,102.9 L506.2,105.6 L512.3,108.4 L518.4,111.5 L524.5,114.8 L530.5,118.2 M502.7,78.7 L508.8,81.5 L514.9,84.6 L521.0,87.8 L527.1,91.3 L533.2,95.0 L539.3,98.8 L545.4,102.7 L551.5,106.7 L557.7,110.7 L563.8,114.7 L569.9,118.7 L576.0,122.6 L582.1,126.4 L588.2,130.2 L594.3,133.8 L600.4,137.5 L606.5,141.1 L612.6,144.4 L618.7,147.4 L624.8,150.0 L630.9,152.2 L637.0,154.4 L643.2,156.5 L649.3,158.7 L655.4,160.8 L661.5,162.8 L667.6,164.7 L673.7,166.6 L679.8,168.3 L685.9,170.0 M673.3,142.6 L679.6,144.4 L685.9,146.1 M372.1,80.4 L378.3,81.0 L384.5,81.6 L390.8,82.3 L397.0,83.0 L403.2,83.7 L409.4,84.4 L415.6,85.2 L421.8,86.1 L428.1,87.0 L434.3,87.9 L440.5,89.0 L446.7,90.2 L452.9,91.4 L459.2,92.8 L465.4,94.3 L471.6,95.9 L477.8,97.8 L484.0,99.7 L490.2,101.9 L496.5,104.3 L502.7,106.9 M471.4,70.7 L477.5,72.4 L483.6,74.3 L489.7,76.4 L495.9,78.7 L502.0,81.3 L508.1,84.0 L514.2,87.0 L520.3,90.3 L526.5,93.7 L532.6,97.3 L538.7,101.1 L544.8,105.0 L550.9,109.0 L557.0,113.0 L563.2,117.0 L569.3,121.0 L575.4,124.9 L581.5,128.8 L587.6,132.5 L593.8,136.2 L599.9,140.0 L606.0,143.6 L612.1,147.1 L618.2,150.1 L624.4,152.7 L630.5,154.9 L636.6,157.0 L642.7,159.1 L648.8,161.2 L655.0,163.3 L661.1,165.3 L667.2,167.3 L673.3,169.1 M657.3,140.1 L664.5,142.5 L671.6,144.7 L678.8,146.8 L685.9,148.8 M372.1,83.1 L378.3,83.7 L384.5,84.3 L390.7,85.0 L396.9,85.7 L403.1,86.4 L409.3,87.1 L415.5,87.9 L421.7,88.8 L427.9,89.7 L434.1,90.7 L440.4,91.7 L446.6,92.9 L452.8,94.1 L459.0,95.5 L465.2,97.0 L471.4,98.7 M439.5,66.8 L445.6,67.8 L451.6,69.0 L457.7,70.2 L463.7,71.6 L469.8,73.1 L475.8,74.7 L481.9,76.6 L487.9,78.6 L494.0,80.8 L500.0,83.2 L506.1,85.9 L512.1,88.8 L518.2,91.9 L524.2,95.2 L530.3,98.7 L536.3,102.4 L542.4,106.2 L548.4,110.0 L554.5,114.0 L560.5,117.9 L566.6,121.9 L572.6,125.8 L578.7,129.6 L584.7,133.4 L590.8,137.1 L596.8,140.9 L602.9,144.6 L608.9,148.2 L615.0,151.5 L621.0,154.2 L627.1,156.5 L633.1,158.5 L639.2,160.6 L645.2,162.6 L651.3,164.7 L657.3,166.8 M641.0,136.9 L647.4,139.3 L653.8,141.6 L660.2,143.8 L666.7,145.8 L673.1,147.8 L679.5,149.7 L685.9,151.4 M372.1,85.8 L378.2,86.4 L384.4,87.0 L390.5,87.7 L396.6,88.3 L402.7,89.0 L408.9,89.8 L415.0,90.6 L421.1,91.4 L427.2,92.3 L433.4,93.3 L439.5,94.3 M407.1,65.1 L413.2,65.9 L419.4,66.6 L425.5,67.4 L431.7,68.3 L437.9,69.3 L444.0,70.3 L450.2,71.5 L456.3,72.7 L462.5,74.1 L468.6,75.6 L474.8,77.2 L480.9,79.1 L487.1,81.1 L493.3,83.3 L499.4,85.8 L505.6,88.5 L511.7,91.4 L517.9,94.5 L524.0,97.9 L530.2,101.4 L536.4,105.1 L542.5,109.0 L548.7,112.9 L554.8,116.9 L561.0,120.9 L567.1,124.9 L573.3,128.9 L579.4,132.8 L585.6,136.6 L591.8,140.4 L597.9,144.3 L604.1,148.2 L610.2,151.9 L616.4,155.1 L622.5,157.7 L628.7,159.9 L634.8,161.9 L641.0,163.9 M624.4,132.6 L630.5,135.3 L636.7,137.9 L642.8,140.3 L649.0,142.6 L655.1,144.7 L661.3,146.8 L667.4,148.7 L673.6,150.6 L679.7,152.4 L685.9,154.1 M372.1,88.5 L379.1,89.2 L386.1,89.9 L393.1,90.6 L400.1,91.4 L407.1,92.3 M374.1,64.4 L380.2,65.0 L386.3,65.6 L392.4,66.2 L398.5,66.9 L404.6,67.6 L410.7,68.3 L416.8,69.0 L422.9,69.8 L429.0,70.7 L435.1,71.6 L441.2,72.6 L447.4,73.7 L453.5,74.9 L459.6,76.2 L465.7,77.6 L471.8,79.2 L477.9,80.9 L484.0,82.9 L490.1,85.0 L496.2,87.3 L502.3,89.8 L508.4,92.6 L514.5,95.6 L520.6,98.8 L526.7,102.2 L532.8,105.7 L538.9,109.5 L545.0,113.3 L551.1,117.2 L557.2,121.2 L563.3,125.1 L569.4,129.1 L575.5,133.0 L581.7,136.8 L587.8,140.6 L593.9,144.5 L600.0,148.4 L606.1,152.3 L612.2,155.9 L618.3,158.9 L624.4,161.3 M607.5,127.2 L613.5,130.2 L619.5,133.2 L625.6,136.0 L631.6,138.6 L637.6,141.0 L643.7,143.3 L649.7,145.5 L655.7,147.6 L661.8,149.6 L667.8,151.5 L673.8,153.3 L679.9,155.1 L685.9,156.7" fill="none" stroke="#000" stroke-width="0.70" stroke-opacity="0.10"/>
</g>
<g clip-path="url(#r2_c)" filter="url(#blur)">
<path d="M374.6,176.7 L375.6,176.8 L376.6,176.9 L376.6,181.4 L375.6,181.2 L374.6,181.1Z" fill="#0002c8"/>
<path d="M374.6,150.9 L380.6,151.6 L386.6,152.3 L392.6,153.1 L398.6,153.9 L404.6,154.7 L410.6,155.6 L416.6,156.6 L422.6,157.6 L428.6,158.6 L434.6,159.8 L440.6,161.0 L446.6,162.4 L452.6,163.8 L458.6,165.4 L464.7,167.1 L470.7,168.9 L476.7,170.9 L482.7,173.1 L488.7,175.4 L494.7,178.0 L500.7,180.7 L506.7,183.6 L512.7,186.8 L518.7,190.1 L524.7,193.6 L530.7,197.4 L536.7,201.3 L542.7,205.3 L548.7,209.4 L554.7,213.6 L560.7,217.8 L566.7,222.0 L572.7,226.1 L578.7,230.0 L584.7,233.8 L590.7,237.4 L596.7,240.8 L602.7,243.9 L608.7,246.9 L608.7,250.9 L602.7,248.0 L596.7,244.8 L590.7,241.5 L584.7,238.0 L578.7,234.3 L572.7,230.4 L566.7,226.4 L560.7,222.3 L554.7,218.1 L548.7,214.0 L542.7,209.9 L536.7,205.9 L530.7,202.0 L524.7,198.3 L518.7,194.8 L512.7,191.4 L506.7,188.3 L500.7,185.3 L494.7,182.6 L488.7,180.0 L482.7,177.7 L476.7,175.5 L470.7,173.5 L464.7,171.6 L458.6,169.9 L452.6,168.3 L446.6,166.9 L440.6,165.5 L434.6,164.3 L428.6,163.1 L422.6,162.0 L416.6,161.0 L410.6,160.0 L404.6,159.1 L398.6,158.3 L392.6,157.5 L386.6,156.7 L380.6,156.0 L374.6,155.3Z" fill="url(#r20)"/>
<path d="M591.5,213.7 L597.6,217.4 L603.7,220.8 L609.9,224.0 L616.0,226.9 L622.1,229.5 L628.2,232.0 L634.3,234.2 L640.4,236.3 L646.5,238.2 L652.6,240.0 L658.8,241.7 L664.9,243.3 L671.0,244.9 L677.1,246.3 L683.2,247.8 L683.2,251.9 L677.1,250.4 L671.0,248.9 L664.9,247.4 L658.8,245.8 L652.6,244.0 L646.5,242.2 L640.4,240.3 L634.3,238.2 L628.2,236.0 L622.1,233.5 L616.0,230.9 L609.9,228.0 L603.7,224.9 L597.6,221.5 L591.5,217.8Z" fill="url(#r21)"/>
<path d="M374.6,153.8 L380.6,154.5 L386.7,155.2 L392.7,156.0 L398.7,156.8 L404.7,157.6 L410.8,158.5 L416.8,159.5 L422.8,160.5 L428.8,161.6 L434.9,162.7 L440.9,164.0 L446.9,165.3 L452.9,166.8 L459.0,168.4 L465.0,170.1 L471.0,172.0 L477.0,174.0 L483.1,176.2 L489.1,178.6 L495.1,181.2 L501.1,183.9 L507.2,186.9 L513.2,190.0 L519.2,193.4 L525.2,197.0 L531.3,200.8 L537.3,204.7 L543.3,208.7 L549.3,212.8 L555.4,217.0 L561.4,221.2 L567.4,225.3 L573.4,229.4 L579.5,233.3 L585.5,237.0 L591.5,240.5 L591.5,244.7 L585.5,241.2 L579.5,237.5 L573.4,233.7 L567.4,229.7 L561.4,225.6 L555.4,221.5 L549.3,217.4 L543.3,213.3 L537.3,209.3 L531.3,205.4 L525.2,201.7 L519.2,198.1 L513.2,194.7 L507.2,191.5 L501.1,188.5 L495.1,185.8 L489.1,183.2 L483.1,180.8 L477.0,178.6 L471.0,176.5 L465.0,174.6 L459.0,172.9 L452.9,171.3 L446.9,169.8 L440.9,168.5 L434.9,167.2 L428.8,166.0 L422.8,164.9 L416.8,163.9 L410.8,162.9 L404.7,162.0 L398.7,161.2 L392.7,160.4 L386.7,159.6 L380.6,158.9 L374.6,158.2Z" fill="url(#r22)"/>
<path d="M574.0,204.5 L580.0,208.8 L586.1,212.9 L592.2,216.8 L598.3,220.4 L604.3,223.8 L610.4,226.9 L616.5,229.7 L622.5,232.3 L628.6,234.7 L634.7,236.9 L640.7,239.0 L646.8,240.9 L652.9,242.7 L658.9,244.4 L665.0,246.0 L671.1,247.5 L677.1,249.0 L683.2,250.4 L683.2,254.5 L677.1,253.1 L671.1,251.6 L665.0,250.0 L658.9,248.4 L652.9,246.7 L646.8,244.9 L640.7,243.0 L634.7,240.9 L628.6,238.7 L622.5,236.3 L616.5,233.7 L610.4,230.9 L604.3,227.8 L598.3,224.5 L592.2,220.9 L586.1,217.1 L580.0,213.1 L574.0,208.8Z" fill="url(#r23)"/>
<path d="M374.6,156.6 L380.6,157.3 L386.7,158.1 L392.7,158.8 L398.8,159.6 L404.8,160.5 L410.9,161.4 L416.9,162.4 L422.9,163.4 L429.0,164.5 L435.0,165.7 L441.1,166.9 L447.1,168.3 L453.1,169.8 L459.2,171.4 L465.2,173.1 L471.3,175.0 L477.3,177.1 L483.4,179.3 L489.4,181.7 L495.4,184.3 L501.5,187.1 L507.5,190.1 L513.6,193.3 L519.6,196.7 L525.6,200.3 L531.7,204.1 L537.7,208.0 L543.8,212.0 L549.8,216.1 L555.9,220.3 L561.9,224.4 L567.9,228.5 L574.0,232.5 L574.0,236.8 L567.9,232.9 L561.9,228.9 L555.9,224.8 L549.8,220.7 L543.8,216.6 L537.7,212.6 L531.7,208.7 L525.6,205.0 L519.6,201.3 L513.6,197.9 L507.5,194.7 L501.5,191.7 L495.4,188.9 L489.4,186.3 L483.4,183.9 L477.3,181.6 L471.3,179.5 L465.2,177.6 L459.2,175.9 L453.1,174.3 L447.1,172.8 L441.1,171.4 L435.0,170.1 L429.0,168.9 L422.9,167.8 L416.9,166.8 L410.9,165.8 L404.8,164.9 L398.8,164.1 L392.7,163.3 L386.7,162.5 L380.6,161.7 L374.6,161.0Z" fill="url(#r24)"/>
<path d="M555.1,193.4 L561.2,197.9 L567.3,202.4 L573.4,206.9 L579.5,211.2 L585.6,215.3 L591.7,219.2 L597.8,222.8 L603.9,226.2 L610.0,229.3 L616.1,232.1 L622.2,234.8 L628.3,237.2 L634.4,239.4 L640.5,241.5 L646.6,243.4 L652.7,245.3 L658.8,247.0 L664.9,248.6 L671.0,250.2 L677.1,251.6 L683.2,253.1 L683.2,257.2 L677.1,255.7 L671.0,254.2 L664.9,252.6 L658.8,251.0 L652.7,249.3 L646.6,247.4 L640.5,245.5 L634.4,243.4 L628.3,241.2 L622.2,238.7 L616.1,236.1 L610.0,233.3 L603.9,230.2 L597.8,226.9 L591.7,223.3 L585.6,219.5 L579.5,215.5 L573.4,211.2 L567.3,206.8 L561.2,202.4 L555.1,197.9Z" fill="url(#r25)"/>
<path d="M374.6,159.5 L380.6,160.2 L386.6,160.9 L392.7,161.7 L398.7,162.5 L404.7,163.4 L410.7,164.3 L416.7,165.2 L422.7,166.2 L428.8,167.3 L434.8,168.5 L440.8,169.8 L446.8,171.1 L452.8,172.6 L458.9,174.2 L464.9,175.9 L470.9,177.8 L476.9,179.9 L482.9,182.1 L488.9,184.5 L495.0,187.1 L501.0,189.8 L507.0,192.8 L513.0,196.0 L519.0,199.4 L525.0,203.0 L531.1,206.7 L537.1,210.6 L543.1,214.6 L549.1,218.6 L555.1,222.7 L555.1,227.2 L549.1,223.2 L543.1,219.2 L537.1,215.2 L531.1,211.4 L525.0,207.6 L519.0,204.0 L513.0,200.7 L507.0,197.5 L501.0,194.5 L495.0,191.7 L488.9,189.1 L482.9,186.7 L476.9,184.4 L470.9,182.4 L464.9,180.5 L458.9,178.7 L452.8,177.1 L446.8,175.6 L440.8,174.2 L434.8,173.0 L428.8,171.8 L422.7,170.7 L416.7,169.6 L410.7,168.7 L404.7,167.8 L398.7,166.9 L392.7,166.1 L386.6,165.4 L380.6,164.6 L374.6,163.9Z" fill="url(#r26)"/>
<path d="M532.4,180.4 L538.5,184.4 L544.5,188.6 L550.5,192.9 L556.6,197.3 L562.6,201.8 L568.6,206.2 L574.7,210.6 L580.7,214.8 L586.7,218.7 L592.7,222.5 L598.8,226.0 L604.8,229.3 L610.8,232.3 L616.9,235.1 L622.9,237.6 L628.9,240.0 L635.0,242.2 L641.0,244.2 L647.0,246.2 L653.0,248.0 L659.1,249.7 L665.1,251.3 L671.1,252.8 L677.2,254.3 L683.2,255.7 L683.2,259.8 L677.2,258.4 L671.1,256.9 L665.1,255.3 L659.1,253.7 L653.0,252.0 L647.0,250.2 L641.0,248.2 L635.0,246.2 L628.9,244.0 L622.9,241.6 L616.9,239.0 L610.8,236.3 L604.8,233.3 L598.8,230.1 L592.7,226.6 L586.7,222.9 L580.7,219.0 L574.7,214.9 L568.6,210.6 L562.6,206.2 L556.6,201.9 L550.5,197.5 L544.5,193.2 L538.5,189.0 L532.4,185.0Z" fill="url(#r27)"/>
<path d="M374.6,162.4 L380.7,163.1 L386.7,163.8 L392.8,164.6 L398.9,165.4 L405.0,166.3 L411.0,167.2 L417.1,168.2 L423.2,169.2 L429.2,170.3 L435.3,171.5 L441.4,172.8 L447.4,174.2 L453.5,175.7 L459.6,177.3 L465.7,179.1 L471.7,181.1 L477.8,183.1 L483.9,185.4 L489.9,187.9 L496.0,190.5 L502.1,193.4 L508.2,196.4 L514.2,199.7 L520.3,203.1 L526.4,206.8 L532.4,210.6 L532.4,215.2 L526.4,211.5 L520.3,207.8 L514.2,204.3 L508.2,201.1 L502.1,198.0 L496.0,195.1 L489.9,192.5 L483.9,190.0 L477.8,187.7 L471.7,185.6 L465.7,183.6 L459.6,181.8 L453.5,180.2 L447.4,178.7 L441.4,177.3 L435.3,176.0 L429.2,174.8 L423.2,173.6 L417.1,172.6 L411.0,171.6 L405.0,170.7 L398.9,169.8 L392.8,169.0 L386.7,168.2 L380.7,167.5 L374.6,166.8Z" fill="url(#r28)"/>
<path d="M505.0,167.7 L511.1,170.8 L517.3,174.2 L523.4,177.7 L529.6,181.5 L535.7,185.5 L541.8,189.7 L548.0,194.1 L554.1,198.5 L560.3,203.0 L566.4,207.5 L572.6,211.9 L578.7,216.2 L584.9,220.3 L591.0,224.1 L597.2,227.7 L603.3,231.1 L609.4,234.2 L615.6,237.1 L621.7,239.7 L627.9,242.2 L634.0,244.5 L640.2,246.6 L646.3,248.5 L652.5,250.4 L658.6,252.2 L664.8,253.8 L670.9,255.4 L677.1,256.9 L683.2,258.4 L683.2,262.5 L677.1,261.0 L670.9,259.5 L664.8,257.9 L658.6,256.2 L652.5,254.4 L646.3,252.5 L640.2,250.6 L634.0,248.4 L627.9,246.2 L621.7,243.7 L615.6,241.1 L609.4,238.2 L603.3,235.1 L597.2,231.8 L591.0,228.3 L584.9,224.5 L578.7,220.5 L572.6,216.2 L566.4,211.9 L560.3,207.5 L554.1,203.0 L548.0,198.6 L541.8,194.4 L535.7,190.2 L529.6,186.2 L523.4,182.4 L517.3,178.8 L511.1,175.5 L505.0,172.3Z" fill="url(#r29)"/>
<path d="M674.5,232.5 L678.9,233.5 L683.2,234.4 L683.2,238.5 L678.9,237.6 L674.5,236.6Z" fill="url(#r210)"/>
<path d="M374.6,165.2 L380.8,166.0 L387.0,166.7 L393.2,167.5 L399.4,168.4 L405.6,169.2 L411.8,170.2 L418.1,171.2 L424.3,172.3 L430.5,173.4 L436.7,174.7 L442.9,176.0 L449.1,177.5 L455.3,179.1 L461.5,180.8 L467.7,182.7 L473.9,184.7 L480.1,187.0 L486.3,189.4 L492.6,192.0 L498.8,194.8 L505.0,197.8 L505.0,202.4 L498.8,199.4 L492.6,196.6 L486.3,193.9 L480.1,191.5 L473.9,189.3 L467.7,187.2 L461.5,185.3 L455.3,183.6 L449.1,182.0 L442.9,180.5 L436.7,179.1 L430.5,177.9 L424.3,176.7 L418.1,175.6 L411.8,174.6 L405.6,173.7 L399.4,172.8 L393.2,171.9 L387.0,171.1 L380.8,170.4 L374.6,169.6Z" fill="url(#r211)"/>
<path d="M473.7,158.2 L479.8,160.2 L485.9,162.5 L492.0,164.9 L498.1,167.5 L504.2,170.3 L510.3,173.4 L516.3,176.7 L522.4,180.2 L528.5,183.9 L534.6,187.8 L540.7,191.9 L546.8,196.2 L552.8,200.5 L558.9,204.9 L565.0,209.3 L571.1,213.7 L577.2,217.9 L583.3,222.0 L589.3,225.8 L595.4,229.4 L601.5,232.8 L607.6,235.9 L613.7,238.8 L619.8,241.5 L625.8,244.0 L631.9,246.3 L638.0,248.4 L644.1,250.4 L650.2,252.3 L656.3,254.1 L662.3,255.8 L668.4,257.4 L674.5,259.0 L674.5,263.0 L668.4,261.5 L662.3,259.8 L656.3,258.1 L650.2,256.3 L644.1,254.4 L638.0,252.4 L631.9,250.2 L625.8,247.9 L619.8,245.5 L613.7,242.8 L607.6,239.9 L601.5,236.8 L595.4,233.5 L589.3,230.0 L583.3,226.2 L577.2,222.2 L571.1,218.0 L565.0,213.7 L558.9,209.4 L552.8,205.1 L546.8,200.8 L540.7,196.5 L534.6,192.5 L528.5,188.6 L522.4,184.8 L516.3,181.3 L510.3,178.0 L504.2,175.0 L498.1,172.1 L492.0,169.5 L485.9,167.0 L479.8,164.8 L473.7,162.7Z" fill="url(#r212)"/>
<path d="M658.5,231.2 L664.7,232.8 L670.9,234.3 L677.0,235.7 L683.2,237.1 L683.2,241.2 L677.0,239.8 L670.9,238.3 L664.7,236.8 L658.5,235.2Z" fill="url(#r213)"/>
<path d="M374.6,168.1 L380.8,168.8 L387.0,169.6 L393.2,170.4 L399.4,171.2 L405.6,172.1 L411.8,173.1 L418.0,174.1 L424.2,175.1 L430.4,176.3 L436.6,177.5 L442.8,178.9 L449.0,180.4 L455.2,182.0 L461.4,183.7 L467.6,185.6 L473.7,187.6 L473.7,192.2 L467.6,190.1 L461.4,188.2 L455.2,186.4 L449.0,184.8 L442.8,183.4 L436.6,182.0 L430.4,180.7 L424.2,179.6 L418.0,178.5 L411.8,177.5 L405.6,176.5 L399.4,175.6 L393.2,174.8 L387.0,174.0 L380.8,173.2 L374.6,172.5Z" fill="#0000c8"/>
<path d="M441.9,152.6 L447.9,154.0 L454.0,155.4 L460.0,157.0 L466.0,158.7 L472.0,160.6 L478.0,162.6 L484.0,164.7 L490.1,167.1 L496.1,169.6 L502.1,172.3 L508.1,175.3 L514.1,178.5 L520.1,181.9 L526.2,185.5 L532.2,189.3 L538.2,193.2 L544.2,197.4 L550.2,201.6 L556.2,205.9 L562.3,210.2 L568.3,214.5 L574.3,218.7 L580.3,222.8 L586.3,226.6 L592.3,230.3 L598.4,233.7 L604.4,236.9 L610.4,239.9 L616.4,242.6 L622.4,245.2 L628.4,247.6 L634.5,249.8 L640.5,251.8 L646.5,253.8 L652.5,255.6 L658.5,257.4 L658.5,261.4 L652.5,259.6 L646.5,257.8 L640.5,255.8 L634.5,253.7 L628.4,251.5 L622.4,249.1 L616.4,246.6 L610.4,243.9 L604.4,240.9 L598.4,237.8 L592.3,234.4 L586.3,230.8 L580.3,227.0 L574.3,223.0 L568.3,218.9 L562.3,214.7 L556.2,210.4 L550.2,206.2 L544.2,202.0 L538.2,197.9 L532.2,193.9 L526.2,190.1 L520.1,186.5 L514.1,183.1 L508.1,179.9 L502.1,177.0 L496.1,174.2 L490.1,171.7 L484.0,169.3 L478.0,167.1 L472.0,165.1 L466.0,163.2 L460.0,161.5 L454.0,159.9 L447.9,158.4 L441.9,157.1Z" fill="url(#r214)"/>
<path d="M642.2,229.1 L649.1,231.2 L655.9,233.1 L662.7,234.9 L669.5,236.6 L676.4,238.2 L683.2,239.8 L683.2,243.9 L676.4,242.3 L669.5,240.7 L662.7,238.9 L655.9,237.1 L649.1,235.2 L642.2,233.1Z" fill="url(#r215)"/>
<path d="M374.6,171.0 L380.7,171.7 L386.8,172.4 L393.0,173.2 L399.1,174.1 L405.2,174.9 L411.3,175.9 L417.4,176.9 L423.6,177.9 L429.7,179.1 L435.8,180.3 L441.9,181.6 L441.9,186.1 L435.8,184.7 L429.7,183.5 L423.6,182.4 L417.4,181.3 L411.3,180.3 L405.2,179.4 L399.1,178.5 L393.0,177.6 L386.8,176.9 L380.7,176.1 L374.6,175.4Z" fill="#0000c8"/>
<path d="M409.5,149.7 L415.7,150.6 L421.8,151.7 L427.9,152.7 L434.0,153.9 L440.2,155.1 L446.3,156.5 L452.4,157.9 L458.5,159.5 L464.7,161.2 L470.8,163.1 L476.9,165.1 L483.0,167.3 L489.1,169.7 L495.3,172.3 L501.4,175.0 L507.5,178.0 L513.6,181.2 L519.8,184.7 L525.9,188.3 L532.0,192.2 L538.1,196.2 L544.3,200.4 L550.4,204.7 L556.5,209.0 L562.6,213.4 L568.8,217.7 L574.9,221.9 L581.0,226.0 L587.1,229.8 L593.2,233.5 L599.4,236.9 L605.5,240.1 L611.6,243.0 L617.7,245.8 L623.9,248.3 L630.0,250.7 L636.1,252.9 L642.2,255.0 L642.2,259.0 L636.1,256.9 L630.0,254.7 L623.9,252.3 L617.7,249.8 L611.6,247.0 L605.5,244.1 L599.4,241.0 L593.2,237.6 L587.1,234.0 L581.0,230.2 L574.9,226.2 L568.8,222.1 L562.6,217.8 L556.5,213.5 L550.4,209.2 L544.3,205.0 L538.1,200.8 L532.0,196.8 L525.9,193.0 L519.8,189.3 L513.6,185.9 L507.5,182.7 L501.4,179.6 L495.3,176.9 L489.1,174.3 L483.0,171.9 L476.9,169.7 L470.8,167.6 L464.7,165.8 L458.5,164.0 L452.4,162.4 L446.3,161.0 L440.2,159.6 L434.0,158.3 L427.9,157.2 L421.8,156.1 L415.7,155.1 L409.5,154.1Z" fill="url(#r216)"/>
<path d="M625.6,225.8 L632.0,228.3 L638.4,230.5 L644.8,232.5 L651.2,234.4 L657.6,236.2 L664.0,237.9 L670.4,239.5 L676.8,241.0 L683.2,242.4 L683.2,246.5 L676.8,245.1 L670.4,243.5 L664.0,241.9 L657.6,240.2 L651.2,238.4 L644.8,236.5 L638.4,234.5 L632.0,232.2 L625.6,229.8Z" fill="url(#r217)"/>
<path d="M374.6,173.8 L381.6,174.7 L388.6,175.5 L395.6,176.4 L402.6,177.4 L409.5,178.5 L409.5,182.9 L402.6,181.8 L395.6,180.9 L388.6,179.9 L381.6,179.1 L374.6,178.3Z" fill="#0001c8"/>
<path d="M376.6,148.2 L382.7,149.0 L388.7,149.7 L394.8,150.5 L400.9,151.3 L407.0,152.2 L413.0,153.1 L419.1,154.1 L425.2,155.1 L431.3,156.2 L437.3,157.5 L443.4,158.7 L449.5,160.1 L455.6,161.7 L461.6,163.3 L467.7,165.1 L473.8,167.0 L479.9,169.1 L485.9,171.4 L492.0,173.8 L498.1,176.5 L504.2,179.4 L510.2,182.4 L516.3,185.7 L522.4,189.2 L528.5,192.9 L534.5,196.8 L540.6,200.9 L546.7,205.1 L552.8,209.3 L558.8,213.6 L564.9,217.9 L571.0,222.1 L577.0,226.2 L583.1,230.1 L589.2,233.8 L595.3,237.3 L601.3,240.6 L607.4,243.6 L613.5,246.5 L619.6,249.2 L625.6,251.6 L625.6,255.6 L619.6,253.1 L613.5,250.5 L607.4,247.7 L601.3,244.6 L595.3,241.4 L589.2,238.0 L583.1,234.3 L577.0,230.4 L571.0,226.4 L564.9,222.3 L558.8,218.1 L552.8,213.8 L546.7,209.6 L540.6,205.5 L534.5,201.5 L528.5,197.6 L522.4,193.9 L516.3,190.4 L510.2,187.1 L504.2,184.0 L498.1,181.1 L492.0,178.4 L485.9,176.0 L479.9,173.7 L473.8,171.6 L467.7,169.6 L461.6,167.8 L455.6,166.2 L449.5,164.6 L443.4,163.2 L437.3,161.9 L431.3,160.7 L425.2,159.6 L419.1,158.5 L413.0,157.5 L407.0,156.6 L400.9,155.7 L394.8,154.9 L388.7,154.1 L382.7,153.4 L376.6,152.7Z" fill="url(#r218)"/>
<path d="M608.7,220.8 L614.9,223.8 L621.1,226.6 L627.4,229.1 L633.6,231.4 L639.8,233.5 L646.0,235.5 L652.2,237.3 L658.4,239.0 L664.6,240.6 L670.8,242.2 L677.0,243.7 L683.2,245.1 L683.2,249.2 L677.0,247.7 L670.8,246.2 L664.6,244.7 L658.4,243.0 L652.2,241.3 L646.0,239.5 L639.8,237.5 L633.6,235.4 L627.4,233.1 L621.1,230.6 L614.9,227.8 L608.7,224.8Z" fill="url(#r219)"/>
<path d="M374.6,177.5 L375.6,177.6 L376.6,177.7 M374.6,151.7 L380.6,152.4 L386.6,153.1 L392.6,153.9 L398.6,154.7 L404.6,155.5 L410.6,156.4 L416.6,157.3 L422.6,158.3 L428.6,159.4 L434.6,160.6 L440.6,161.8 L446.6,163.2 L452.6,164.6 L458.6,166.2 L464.7,167.9 L470.7,169.7 L476.7,171.7 L482.7,173.9 L488.7,176.2 L494.7,178.8 L500.7,181.5 L506.7,184.4 L512.7,187.6 L518.7,190.9 L524.7,194.5 L530.7,198.2 L536.7,202.1 L542.7,206.1 L548.7,210.2 L554.7,214.4 L560.7,218.6 L566.7,222.7 L572.7,226.8 L578.7,230.8 L584.7,234.5 L590.7,238.1 L596.7,241.5 L602.7,244.6 L608.7,247.6 M591.5,214.4 L597.6,218.1 L603.7,221.5 L609.9,224.7 L616.0,227.6 L622.1,230.2 L628.2,232.7 L634.3,234.9 L640.4,237.0 L646.5,238.9 L652.6,240.7 L658.8,242.4 L664.9,244.0 L671.0,245.6 L677.1,247.1 L683.2,248.5 M374.6,154.5 L380.6,155.2 L386.7,156.0 L392.7,156.7 L398.7,157.5 L404.7,158.4 L410.8,159.3 L416.8,160.2 L422.8,161.3 L428.8,162.3 L434.9,163.5 L440.9,164.8 L446.9,166.1 L452.9,167.6 L459.0,169.2 L465.0,170.9 L471.0,172.8 L477.0,174.8 L483.1,177.0 L489.1,179.4 L495.1,182.0 L501.1,184.7 L507.2,187.7 L513.2,190.9 L519.2,194.2 L525.2,197.8 L531.3,201.6 L537.3,205.5 L543.3,209.5 L549.3,213.6 L555.4,217.8 L561.4,222.0 L567.4,226.1 L573.4,230.1 L579.5,234.0 L585.5,237.7 L591.5,241.3 M574.0,205.3 L580.0,209.6 L586.1,213.7 L592.2,217.5 L598.3,221.1 L604.3,224.5 L610.4,227.6 L616.5,230.4 L622.5,233.0 L628.6,235.4 L634.7,237.6 L640.7,239.7 L646.8,241.6 L652.9,243.4 L658.9,245.1 L665.0,246.7 L671.1,248.2 L677.1,249.7 L683.2,251.1 M374.6,157.4 L380.6,158.1 L386.7,158.8 L392.7,159.6 L398.8,160.4 L404.8,161.3 L410.9,162.2 L416.9,163.1 L422.9,164.2 L429.0,165.3 L435.0,166.4 L441.1,167.7 L447.1,169.1 L453.1,170.6 L459.2,172.2 L465.2,173.9 L471.3,175.8 L477.3,177.9 L483.4,180.1 L489.4,182.5 L495.4,185.1 L501.5,187.9 L507.5,190.9 L513.6,194.1 L519.6,197.5 L525.6,201.1 L531.7,204.9 L537.7,208.8 L543.8,212.8 L549.8,216.9 L555.9,221.1 L561.9,225.2 L567.9,229.3 L574.0,233.3 M555.1,194.2 L561.2,198.7 L567.3,203.2 L573.4,207.7 L579.5,212.0 L585.6,216.1 L591.7,219.9 L597.8,223.5 L603.9,226.9 L610.0,230.0 L616.1,232.8 L622.2,235.5 L628.3,237.9 L634.4,240.1 L640.5,242.2 L646.6,244.1 L652.7,246.0 L658.8,247.7 L664.9,249.3 L671.0,250.9 L677.1,252.4 L683.2,253.8 M374.6,160.3 L380.6,161.0 L386.6,161.7 L392.7,162.5 L398.7,163.3 L404.7,164.1 L410.7,165.0 L416.7,166.0 L422.7,167.0 L428.8,168.1 L434.8,169.3 L440.8,170.5 L446.8,171.9 L452.8,173.4 L458.9,175.0 L464.9,176.7 L470.9,178.6 L476.9,180.7 L482.9,182.9 L488.9,185.3 L495.0,187.9 L501.0,190.6 L507.0,193.6 L513.0,196.8 L519.0,200.2 L525.0,203.8 L531.1,207.5 L537.1,211.4 L543.1,215.4 L549.1,219.4 L555.1,223.5 M532.4,181.2 L538.5,185.2 L544.5,189.4 L550.5,193.7 L556.6,198.1 L562.6,202.6 L568.6,207.0 L574.7,211.3 L580.7,215.5 L586.7,219.5 L592.7,223.2 L598.8,226.7 L604.8,230.0 L610.8,233.0 L616.9,235.8 L622.9,238.3 L628.9,240.7 L635.0,242.9 L641.0,244.9 L647.0,246.9 L653.0,248.7 L659.1,250.4 L665.1,252.0 L671.1,253.5 L677.2,255.0 L683.2,256.5 M374.6,163.1 L380.7,163.8 L386.7,164.6 L392.8,165.4 L398.9,166.2 L405.0,167.0 L411.0,168.0 L417.1,168.9 L423.2,170.0 L429.2,171.1 L435.3,172.3 L441.4,173.6 L447.4,175.0 L453.5,176.5 L459.6,178.1 L465.7,179.9 L471.7,181.8 L477.8,183.9 L483.9,186.2 L489.9,188.7 L496.0,191.3 L502.1,194.2 L508.2,197.2 L514.2,200.5 L520.3,204.0 L526.4,207.6 L532.4,211.4 M505.0,168.5 L511.1,171.6 L517.3,175.0 L523.4,178.5 L529.6,182.3 L535.7,186.4 L541.8,190.5 L548.0,194.9 L554.1,199.3 L560.3,203.8 L566.4,208.3 L572.6,212.7 L578.7,216.9 L584.9,221.0 L591.0,224.9 L597.2,228.5 L603.3,231.8 L609.4,234.9 L615.6,237.8 L621.7,240.4 L627.9,242.9 L634.0,245.2 L640.2,247.3 L646.3,249.2 L652.5,251.1 L658.6,252.9 L664.8,254.5 L670.9,256.1 L677.1,257.6 L683.2,259.1 M674.5,233.2 L678.9,234.2 L683.2,235.2 M374.6,166.0 L380.8,166.7 L387.0,167.5 L393.2,168.3 L399.4,169.1 L405.6,170.0 L411.8,171.0 L418.1,172.0 L424.3,173.1 L430.5,174.2 L436.7,175.5 L442.9,176.8 L449.1,178.3 L455.3,179.9 L461.5,181.6 L467.7,183.5 L473.9,185.5 L480.1,187.8 L486.3,190.2 L492.6,192.8 L498.8,195.6 L505.0,198.6 M473.7,159.0 L479.8,161.0 L485.9,163.3 L492.0,165.7 L498.1,168.3 L504.2,171.1 L510.3,174.2 L516.3,177.5 L522.4,181.0 L528.5,184.7 L534.6,188.6 L540.7,192.7 L546.8,197.0 L552.8,201.3 L558.9,205.7 L565.0,210.1 L571.1,214.4 L577.2,218.7 L583.3,222.7 L589.3,226.5 L595.4,230.1 L601.5,233.5 L607.6,236.6 L613.7,239.5 L619.8,242.2 L625.8,244.7 L631.9,247.0 L638.0,249.1 L644.1,251.1 L650.2,253.0 L656.3,254.8 L662.3,256.5 L668.4,258.1 L674.5,259.7 M658.5,231.9 L664.7,233.5 L670.9,235.0 L677.0,236.4 L683.2,237.8 M374.6,168.9 L380.8,169.6 L387.0,170.4 L393.2,171.2 L399.4,172.0 L405.6,172.9 L411.8,173.8 L418.0,174.8 L424.2,175.9 L430.4,177.1 L436.6,178.3 L442.8,179.7 L449.0,181.1 L455.2,182.7 L461.4,184.5 L467.6,186.4 L473.7,188.4 M441.9,153.4 L447.9,154.8 L454.0,156.2 L460.0,157.8 L466.0,159.5 L472.0,161.3 L478.0,163.4 L484.0,165.5 L490.1,167.9 L496.1,170.4 L502.1,173.2 L508.1,176.1 L514.1,179.3 L520.1,182.7 L526.2,186.3 L532.2,190.1 L538.2,194.1 L544.2,198.2 L550.2,202.4 L556.2,206.7 L562.3,211.0 L568.3,215.3 L574.3,219.5 L580.3,223.5 L586.3,227.4 L592.3,231.0 L598.4,234.4 L604.4,237.6 L610.4,240.6 L616.4,243.3 L622.4,245.9 L628.4,248.2 L634.5,250.5 L640.5,252.5 L646.5,254.5 L652.5,256.3 L658.5,258.1 M642.2,229.8 L649.1,231.9 L655.9,233.8 L662.7,235.6 L669.5,237.3 L676.4,238.9 L683.2,240.5 M374.6,171.7 L380.7,172.5 L386.8,173.2 L393.0,174.0 L399.1,174.8 L405.2,175.7 L411.3,176.6 L417.4,177.6 L423.6,178.7 L429.7,179.8 L435.8,181.1 L441.9,182.4 M409.5,150.5 L415.7,151.4 L421.8,152.4 L427.9,153.5 L434.0,154.7 L440.2,155.9 L446.3,157.3 L452.4,158.7 L458.5,160.3 L464.7,162.0 L470.8,163.9 L476.9,165.9 L483.0,168.1 L489.1,170.5 L495.3,173.1 L501.4,175.8 L507.5,178.8 L513.6,182.0 L519.8,185.5 L525.9,189.1 L532.0,193.0 L538.1,197.0 L544.3,201.2 L550.4,205.5 L556.5,209.8 L562.6,214.1 L568.8,218.5 L574.9,222.7 L581.0,226.7 L587.1,230.6 L593.2,234.2 L599.4,237.6 L605.5,240.8 L611.6,243.7 L617.7,246.5 L623.9,249.0 L630.0,251.4 L636.1,253.6 L642.2,255.7 M625.6,226.5 L632.0,229.0 L638.4,231.2 L644.8,233.2 L651.2,235.1 L657.6,236.9 L664.0,238.6 L670.4,240.2 L676.8,241.7 L683.2,243.2 M374.6,174.6 L381.6,175.4 L388.6,176.3 L395.6,177.2 L402.6,178.2 L409.5,179.2 M376.6,149.0 L382.7,149.7 L388.7,150.5 L394.8,151.3 L400.9,152.1 L407.0,153.0 L413.0,153.9 L419.1,154.9 L425.2,155.9 L431.3,157.0 L437.3,158.2 L443.4,159.5 L449.5,160.9 L455.6,162.4 L461.6,164.1 L467.7,165.9 L473.8,167.8 L479.9,169.9 L485.9,172.2 L492.0,174.7 L498.1,177.3 L504.2,180.2 L510.2,183.2 L516.3,186.5 L522.4,190.0 L528.5,193.8 L534.5,197.7 L540.6,201.7 L546.7,205.9 L552.8,210.1 L558.8,214.4 L564.9,218.6 L571.0,222.8 L577.0,226.9 L583.1,230.8 L589.2,234.5 L595.3,238.0 L601.3,241.3 L607.4,244.3 L613.5,247.2 L619.6,249.8 L625.6,252.3 M608.7,221.5 L614.9,224.5 L621.1,227.3 L627.4,229.8 L633.6,232.1 L639.8,234.2 L646.0,236.2 L652.2,238.0 L658.4,239.7 L664.6,241.3 L670.8,242.9 L677.0,244.4 L683.2,245.8" fill="none" stroke="#000" stroke-width="0.70" stroke-opacity="0.10"/>
</g>
<g clip-path="url(#r3_c)" filter="url(#blur)">
<path d="M369.4,275.4 L370.4,275.5 L371.4,275.7 L371.4,280.2 L370.4,280.1 L369.4,280.0Z" fill="#0002c8"/>
<path d="M369.4,248.8 L375.5,249.4 L381.5,250.1 L387.6,250.8 L393.7,251.4 L399.7,252.2 L405.8,252.9 L411.9,253.7 L417.9,254.5 L424.0,255.4 L430.1,256.3 L436.2,257.3 L442.2,258.4 L448.3,259.6 L454.4,260.9 L460.4,262.3 L466.5,263.8 L472.6,265.5 L478.6,267.4 L484.7,269.4 L490.8,271.6 L496.8,274.1 L502.9,276.8 L509.0,279.7 L515.0,282.9 L521.1,286.4 L527.2,290.1 L533.2,294.1 L539.3,298.2 L545.4,302.5 L551.5,307.0 L557.5,311.5 L563.6,316.1 L569.7,320.7 L575.7,325.3 L581.8,329.7 L587.9,334.0 L593.9,338.1 L600.0,342.0 L606.1,346.0 L606.1,350.6 L600.0,346.7 L593.9,342.7 L587.9,338.6 L581.8,334.3 L575.7,329.9 L569.7,325.4 L563.6,320.8 L557.5,316.2 L551.5,311.7 L545.4,307.3 L539.3,302.9 L533.2,298.8 L527.2,294.9 L521.1,291.1 L515.0,287.7 L509.0,284.5 L502.9,281.5 L496.8,278.8 L490.8,276.3 L484.7,274.1 L478.6,272.0 L472.6,270.2 L466.5,268.5 L460.4,266.9 L454.4,265.5 L448.3,264.2 L442.2,263.0 L436.2,261.9 L430.1,260.9 L424.0,260.0 L417.9,259.1 L411.9,258.3 L405.8,257.5 L399.7,256.7 L393.7,256.0 L387.6,255.3 L381.5,254.7 L375.5,254.0 L369.4,253.4Z" fill="url(#r30)"/>
<path d="M588.8,307.6 L594.9,311.7 L601.1,315.7 L607.2,319.4 L613.3,323.0 L619.4,326.4 L625.6,329.7 L631.7,332.7 L637.8,335.3 L643.9,337.7 L650.1,339.9 L656.2,342.1 L662.3,344.2 L668.4,346.2 L674.6,348.1 L680.7,350.0 L680.7,354.6 L674.6,352.7 L668.4,350.8 L662.3,348.8 L656.2,346.7 L650.1,344.6 L643.9,342.5 L637.8,340.3 L631.7,337.8 L625.6,334.8 L619.4,331.4 L613.3,327.8 L607.2,324.1 L601.1,320.3 L594.9,316.4 L588.8,312.2Z" fill="url(#r31)"/>
<path d="M369.4,251.8 L375.5,252.4 L381.6,253.1 L387.7,253.7 L393.8,254.4 L399.9,255.1 L406.0,255.9 L412.1,256.7 L418.2,257.5 L424.2,258.4 L430.3,259.4 L436.4,260.4 L442.5,261.5 L448.6,262.7 L454.7,264.0 L460.8,265.4 L466.9,266.9 L473.0,268.7 L479.1,270.5 L485.2,272.6 L491.3,274.9 L497.4,277.4 L503.5,280.1 L509.6,283.1 L515.7,286.4 L521.8,289.9 L527.9,293.6 L533.9,297.6 L540.0,301.8 L546.1,306.1 L552.2,310.6 L558.3,315.2 L564.4,319.8 L570.5,324.4 L576.6,328.9 L582.7,333.4 L588.8,337.6 L588.8,342.3 L582.7,338.0 L576.6,333.6 L570.5,329.1 L564.4,324.5 L558.3,319.9 L552.2,315.3 L546.1,310.9 L540.0,306.5 L533.9,302.3 L527.9,298.4 L521.8,294.6 L515.7,291.1 L509.6,287.8 L503.5,284.8 L497.4,282.1 L491.3,279.6 L485.2,277.3 L479.1,275.2 L473.0,273.3 L466.9,271.6 L460.8,270.0 L454.7,268.6 L448.6,267.3 L442.5,266.1 L436.4,265.0 L430.3,264.0 L424.2,263.0 L418.2,262.1 L412.1,261.3 L406.0,260.5 L399.9,259.7 L393.8,259.0 L387.7,258.3 L381.6,257.6 L375.5,257.0 L369.4,256.3Z" fill="url(#r32)"/>
<path d="M571.2,297.7 L577.3,302.3 L583.4,306.7 L589.5,311.0 L595.5,315.1 L601.6,319.0 L607.7,322.8 L613.8,326.4 L619.9,329.9 L626.0,333.2 L632.0,336.2 L638.1,338.7 L644.2,340.9 L650.3,343.0 L656.4,345.2 L662.5,347.3 L668.5,349.3 L674.6,351.1 L680.7,352.9 L680.7,357.5 L674.6,355.7 L668.5,353.9 L662.5,351.9 L656.4,349.8 L650.3,347.7 L644.2,345.6 L638.1,343.6 L632.0,341.3 L626.0,338.4 L619.9,334.9 L613.8,331.2 L607.7,327.4 L601.6,323.7 L595.5,319.8 L589.5,315.7 L583.4,311.4 L577.3,306.9 L571.2,302.4Z" fill="url(#r33)"/>
<path d="M369.4,254.7 L375.5,255.4 L381.6,256.0 L387.7,256.7 L393.9,257.4 L400.0,258.1 L406.1,258.9 L412.2,259.7 L418.3,260.5 L424.4,261.4 L430.6,262.4 L436.7,263.4 L442.8,264.5 L448.9,265.7 L455.0,267.0 L461.1,268.5 L467.2,270.1 L473.4,271.8 L479.5,273.7 L485.6,275.8 L491.7,278.1 L497.8,280.6 L503.9,283.4 L510.1,286.4 L516.2,289.7 L522.3,293.3 L528.4,297.0 L534.5,301.1 L540.6,305.3 L546.7,309.6 L552.9,314.1 L559.0,318.7 L565.1,323.3 L571.2,327.9 L571.2,332.6 L565.1,328.0 L559.0,323.4 L552.9,318.8 L546.7,314.3 L540.6,310.0 L534.5,305.8 L528.4,301.8 L522.3,298.0 L516.2,294.4 L510.1,291.1 L503.9,288.1 L497.8,285.3 L491.7,282.8 L485.6,280.5 L479.5,278.4 L473.4,276.5 L467.2,274.7 L461.1,273.1 L455.0,271.7 L448.9,270.4 L442.8,269.1 L436.7,268.0 L430.6,267.0 L424.4,266.0 L418.3,265.1 L412.2,264.3 L406.1,263.5 L400.0,262.7 L393.9,262.0 L387.7,261.3 L381.6,260.6 L375.5,259.9 L369.4,259.3Z" fill="url(#r34)"/>
<path d="M551.9,286.0 L558.0,290.6 L564.1,295.3 L570.3,300.0 L576.4,304.7 L582.5,309.2 L588.7,313.5 L594.8,317.7 L600.9,321.6 L607.1,325.4 L613.2,329.1 L619.4,332.8 L625.5,336.4 L631.6,339.4 L637.8,341.8 L643.9,343.9 L650.0,346.0 L656.2,348.1 L662.3,350.2 L668.4,352.2 L674.6,354.1 L680.7,355.9 L680.7,360.5 L674.6,358.7 L668.4,356.8 L662.3,354.8 L656.2,352.7 L650.0,350.6 L643.9,348.6 L637.8,346.7 L631.6,344.5 L625.5,341.5 L619.4,337.8 L613.2,333.9 L607.1,330.1 L600.9,326.2 L594.8,322.3 L588.7,318.1 L582.5,313.8 L576.4,309.3 L570.3,304.7 L564.1,300.0 L558.0,295.3 L551.9,290.7Z" fill="url(#r35)"/>
<path d="M369.4,257.7 L375.5,258.3 L381.6,259.0 L387.6,259.6 L393.7,260.3 L399.8,261.1 L405.9,261.8 L412.0,262.6 L418.1,263.5 L424.1,264.4 L430.2,265.3 L436.3,266.3 L442.4,267.4 L448.5,268.6 L454.6,269.9 L460.6,271.4 L466.7,272.9 L472.8,274.7 L478.9,276.5 L485.0,278.6 L491.0,280.9 L497.1,283.4 L503.2,286.1 L509.3,289.1 L515.4,292.3 L521.5,295.8 L527.5,299.6 L533.6,303.5 L539.7,307.7 L545.8,312.0 L551.9,316.5 L551.9,321.1 L545.8,316.7 L539.7,312.4 L533.6,308.2 L527.5,304.3 L521.5,300.5 L515.4,297.1 L509.3,293.8 L503.2,290.8 L497.1,288.1 L491.0,285.6 L485.0,283.3 L478.9,281.2 L472.8,279.3 L466.7,277.6 L460.6,276.0 L454.6,274.6 L448.5,273.3 L442.4,272.1 L436.3,270.9 L430.2,269.9 L424.1,268.9 L418.1,268.0 L412.0,267.2 L405.9,266.4 L399.8,265.6 L393.7,264.9 L387.6,264.2 L381.6,263.5 L375.5,262.9 L369.4,262.3Z" fill="url(#r36)"/>
<path d="M528.5,272.6 L534.6,276.6 L540.7,280.8 L546.7,285.2 L552.8,289.7 L558.9,294.4 L565.0,299.0 L571.1,303.7 L577.2,308.3 L583.3,312.7 L589.4,317.0 L595.5,321.1 L601.5,325.0 L607.6,328.8 L613.7,332.6 L619.8,336.4 L625.9,339.9 L632.0,342.9 L638.1,345.1 L644.2,347.0 L650.3,349.1 L656.3,351.2 L662.4,353.2 L668.5,355.2 L674.6,357.1 L680.7,358.9 L680.7,363.5 L674.6,361.7 L668.5,359.8 L662.4,357.8 L656.3,355.8 L650.3,353.7 L644.2,351.8 L638.1,350.0 L632.0,348.0 L625.9,345.1 L619.8,341.4 L613.7,337.4 L607.6,333.5 L601.5,329.6 L595.5,325.7 L589.4,321.6 L583.3,317.3 L577.2,312.9 L571.1,308.3 L565.0,303.7 L558.9,299.0 L552.8,294.4 L546.7,289.9 L540.7,285.5 L534.6,281.3 L528.5,277.3Z" fill="url(#r37)"/>
<path d="M369.4,260.7 L375.5,261.3 L381.6,261.9 L387.8,262.6 L393.9,263.3 L400.0,264.1 L406.1,264.8 L412.2,265.6 L418.3,266.5 L424.5,267.4 L430.6,268.4 L436.7,269.4 L442.8,270.5 L448.9,271.7 L455.1,273.1 L461.2,274.5 L467.3,276.1 L473.4,277.9 L479.5,279.8 L485.7,281.9 L491.8,284.2 L497.9,286.8 L504.0,289.6 L510.1,292.6 L516.2,295.9 L522.4,299.4 L528.5,303.2 L528.5,307.9 L522.4,304.2 L516.2,300.6 L510.1,297.3 L504.0,294.3 L497.9,291.5 L491.8,288.9 L485.7,286.6 L479.5,284.5 L473.4,282.5 L467.3,280.8 L461.2,279.2 L455.1,277.7 L448.9,276.4 L442.8,275.1 L436.7,274.0 L430.6,273.0 L424.5,272.0 L418.3,271.1 L412.2,270.2 L406.1,269.4 L400.0,268.6 L393.9,267.9 L387.8,267.2 L381.6,266.5 L375.5,265.8 L369.4,265.2Z" fill="url(#r38)"/>
<path d="M500.2,260.3 L506.2,263.0 L512.2,266.1 L518.2,269.4 L524.3,273.0 L530.3,276.8 L536.3,280.8 L542.3,285.0 L548.3,289.4 L554.3,293.9 L560.4,298.5 L566.4,303.1 L572.4,307.7 L578.4,312.2 L584.4,316.5 L590.4,320.7 L596.5,324.7 L602.5,328.6 L608.5,332.4 L614.5,336.2 L620.5,340.1 L626.5,343.7 L632.6,346.4 L638.6,348.5 L644.6,350.3 L650.6,352.2 L656.6,354.3 L662.6,356.3 L668.7,358.3 L674.7,360.1 L680.7,361.9 L680.7,366.5 L674.7,364.7 L668.7,362.9 L662.6,360.9 L656.6,358.9 L650.6,356.8 L644.6,355.0 L638.6,353.4 L632.6,351.6 L626.5,348.8 L620.5,345.1 L614.5,341.0 L608.5,337.1 L602.5,333.2 L596.5,329.4 L590.4,325.4 L584.4,321.2 L578.4,316.8 L572.4,312.3 L566.4,307.8 L560.4,303.2 L554.3,298.6 L548.3,294.1 L542.3,289.8 L536.3,285.5 L530.3,281.5 L524.3,277.7 L518.2,274.1 L512.2,270.8 L506.2,267.8 L500.2,265.0Z" fill="url(#r39)"/>
<path d="M672.0,332.4 L676.4,333.7 L680.7,335.0 L680.7,339.6 L676.4,338.3 L672.0,337.0Z" fill="url(#r310)"/>
<path d="M369.4,263.6 L375.6,264.3 L381.9,264.9 L388.1,265.6 L394.3,266.3 L400.5,267.1 L406.8,267.9 L413.0,268.7 L419.2,269.6 L425.5,270.5 L431.7,271.5 L437.9,272.6 L444.1,273.8 L450.4,275.0 L456.6,276.4 L462.8,278.0 L469.0,279.6 L475.3,281.5 L481.5,283.5 L487.7,285.7 L494.0,288.2 L500.2,290.8 L500.2,295.6 L494.0,292.9 L487.7,290.4 L481.5,288.2 L475.3,286.1 L469.0,284.3 L462.8,282.6 L456.6,281.1 L450.4,279.7 L444.1,278.4 L437.9,277.2 L431.7,276.1 L425.5,275.1 L419.2,274.2 L413.0,273.3 L406.8,272.5 L400.5,271.7 L394.3,270.9 L388.1,270.2 L381.9,269.5 L375.6,268.8 L369.4,268.2Z" fill="url(#r311)"/>
<path d="M468.8,252.3 L475.0,254.1 L481.1,256.0 L487.3,258.1 L493.4,260.5 L499.6,263.1 L505.8,265.9 L511.9,269.0 L518.1,272.4 L524.2,276.0 L530.4,279.9 L536.6,284.1 L542.7,288.4 L548.9,292.9 L555.0,297.5 L561.2,302.2 L567.3,306.9 L573.5,311.5 L579.7,316.1 L585.8,320.5 L592.0,324.8 L598.1,328.8 L604.3,332.8 L610.5,336.7 L616.6,340.8 L622.8,344.8 L628.9,348.2 L635.1,350.6 L641.2,352.4 L647.4,354.2 L653.6,356.2 L659.7,358.3 L665.9,360.3 L672.0,362.3 L672.0,366.9 L665.9,364.9 L659.7,362.9 L653.6,360.8 L647.4,358.9 L641.2,357.2 L635.1,355.7 L628.9,353.4 L622.8,349.9 L616.6,345.7 L610.5,341.4 L604.3,337.4 L598.1,333.5 L592.0,329.4 L585.8,325.2 L579.7,320.7 L573.5,316.2 L567.3,311.5 L561.2,306.8 L555.0,302.2 L548.9,297.6 L542.7,293.1 L536.6,288.8 L530.4,284.7 L524.2,280.8 L518.1,277.1 L511.9,273.7 L505.8,270.6 L499.6,267.8 L493.4,265.2 L487.3,262.8 L481.1,260.7 L475.0,258.8 L468.8,257.0Z" fill="url(#r312)"/>
<path d="M656.0,330.1 L662.2,332.2 L668.3,334.3 L674.5,336.2 L680.7,338.0 L680.7,342.6 L674.5,340.8 L668.3,338.9 L662.2,336.8 L656.0,334.7Z" fill="url(#r313)"/>
<path d="M369.4,266.6 L375.6,267.2 L381.8,267.9 L388.0,268.6 L394.3,269.3 L400.5,270.1 L406.7,270.8 L412.9,271.7 L419.1,272.5 L425.3,273.5 L431.5,274.5 L437.7,275.6 L444.0,276.7 L450.2,278.0 L456.4,279.4 L462.6,280.9 L468.8,282.6 L468.8,287.2 L462.6,285.6 L456.4,284.0 L450.2,282.6 L444.0,281.4 L437.7,280.2 L431.5,279.1 L425.3,278.1 L419.1,277.1 L412.9,276.2 L406.7,275.4 L400.5,274.6 L394.3,273.9 L388.0,273.1 L381.8,272.4 L375.6,271.8 L369.4,271.1Z" fill="#0000c8"/>
<path d="M436.9,248.5 L443.0,249.6 L449.1,250.7 L455.2,252.0 L461.2,253.4 L467.3,255.0 L473.4,256.7 L479.5,258.5 L485.6,260.6 L491.7,262.8 L497.8,265.3 L503.8,268.0 L509.9,271.0 L516.0,274.3 L522.1,277.8 L528.2,281.6 L534.3,285.6 L540.4,289.8 L546.4,294.2 L552.5,298.7 L558.6,303.2 L564.7,307.9 L570.8,312.5 L576.9,317.1 L583.0,321.5 L589.0,325.8 L595.1,329.9 L601.2,333.8 L607.3,337.7 L613.4,341.7 L619.5,345.9 L625.6,349.8 L631.7,352.8 L637.7,354.6 L643.8,356.2 L649.9,358.0 L656.0,360.0 L656.0,364.6 L649.9,362.7 L643.8,361.0 L637.7,359.6 L631.7,357.9 L625.6,355.0 L619.5,350.9 L613.4,346.5 L607.3,342.4 L601.2,338.4 L595.1,334.5 L589.0,330.4 L583.0,326.1 L576.9,321.7 L570.8,317.2 L564.7,312.5 L558.6,307.9 L552.5,303.3 L546.4,298.9 L540.4,294.5 L534.3,290.3 L528.2,286.3 L522.1,282.5 L516.0,279.0 L509.9,275.8 L503.8,272.8 L497.8,270.0 L491.7,267.5 L485.6,265.3 L479.5,263.2 L473.4,261.3 L467.3,259.6 L461.2,258.1 L455.2,256.7 L449.1,255.4 L443.0,254.2 L436.9,253.1Z" fill="url(#r314)"/>
<path d="M639.7,326.5 L646.5,329.5 L653.3,332.1 L660.2,334.5 L667.0,336.8 L673.9,339.0 L680.7,341.0 L680.7,345.6 L673.9,343.6 L667.0,341.4 L660.2,339.1 L653.3,336.7 L646.5,334.2 L639.7,331.4Z" fill="url(#r315)"/>
<path d="M369.4,269.5 L375.5,270.2 L381.7,270.8 L387.8,271.5 L393.9,272.2 L400.1,273.0 L406.2,273.7 L412.4,274.6 L418.5,275.4 L424.6,276.4 L430.8,277.3 L436.9,278.4 L436.9,283.0 L430.8,281.9 L424.6,280.9 L418.5,280.0 L412.4,279.1 L406.2,278.3 L400.1,277.5 L393.9,276.8 L387.8,276.1 L381.7,275.4 L375.5,274.7 L369.4,274.1Z" fill="#0000c8"/>
<path d="M404.4,246.8 L410.5,247.5 L416.5,248.4 L422.5,249.2 L428.6,250.1 L434.6,251.1 L440.6,252.1 L446.6,253.3 L452.7,254.5 L458.7,255.8 L464.7,257.3 L470.8,258.9 L476.8,260.7 L482.8,262.7 L488.9,264.8 L494.9,267.2 L500.9,269.8 L507.0,272.6 L513.0,275.7 L519.0,279.1 L525.1,282.7 L531.1,286.5 L537.1,290.6 L543.2,294.8 L549.2,299.2 L555.2,303.7 L561.3,308.3 L567.3,312.9 L573.3,317.4 L579.3,321.9 L585.4,326.2 L591.4,330.4 L597.4,334.4 L603.5,338.3 L609.5,342.2 L615.5,346.4 L621.6,350.6 L627.6,354.3 L633.6,356.8 L639.7,358.3 L639.7,363.2 L633.6,361.9 L627.6,359.5 L621.6,355.7 L615.5,351.2 L609.5,346.9 L603.5,342.9 L597.4,339.0 L591.4,335.0 L585.4,330.9 L579.3,326.5 L573.3,322.1 L567.3,317.5 L561.3,313.0 L555.2,308.4 L549.2,303.9 L543.2,299.5 L537.1,295.3 L531.1,291.2 L525.1,287.4 L519.0,283.8 L513.0,280.4 L507.0,277.3 L500.9,274.5 L494.9,271.9 L488.9,269.5 L482.8,267.4 L476.8,265.4 L470.8,263.6 L464.7,262.0 L458.7,260.5 L452.7,259.1 L446.6,257.9 L440.6,256.7 L434.6,255.7 L428.6,254.7 L422.5,253.8 L416.5,252.9 L410.5,252.1 L404.4,251.4Z" fill="url(#r316)"/>
<path d="M623.0,321.7 L629.4,324.9 L635.8,328.0 L642.2,330.8 L648.7,333.4 L655.1,335.7 L661.5,338.0 L667.9,340.1 L674.3,342.1 L680.7,344.0 L680.7,348.6 L674.3,346.7 L667.9,344.7 L661.5,342.6 L655.1,340.4 L648.7,338.0 L642.2,335.6 L635.8,333.0 L629.4,330.1 L623.0,326.8Z" fill="url(#r317)"/>
<path d="M369.4,272.5 L376.4,273.2 L383.4,274.0 L390.4,274.8 L397.4,275.6 L404.4,276.5 L404.4,281.1 L397.4,280.2 L390.4,279.3 L383.4,278.5 L376.4,277.8 L369.4,277.0Z" fill="#0001c8"/>
<path d="M371.4,246.1 L377.5,246.7 L383.7,247.4 L389.8,248.0 L395.9,248.7 L402.1,249.5 L408.2,250.2 L414.4,251.0 L420.5,251.9 L426.6,252.8 L432.8,253.8 L438.9,254.8 L445.0,256.0 L451.2,257.2 L457.3,258.5 L463.5,260.0 L469.6,261.6 L475.7,263.4 L481.9,265.4 L488.0,267.5 L494.1,269.9 L500.3,272.5 L506.4,275.4 L512.6,278.5 L518.7,281.9 L524.8,285.6 L531.0,289.5 L537.1,293.6 L543.2,297.9 L549.4,302.4 L555.5,307.0 L561.6,311.6 L567.8,316.3 L573.9,320.9 L580.1,325.4 L586.2,329.8 L592.3,334.0 L598.5,338.1 L604.6,342.0 L610.7,346.1 L616.9,350.5 L623.0,355.0 L623.0,360.1 L616.9,355.4 L610.7,350.8 L604.6,346.6 L598.5,342.7 L592.3,338.6 L586.2,334.4 L580.1,330.1 L573.9,325.6 L567.8,320.9 L561.6,316.3 L555.5,311.7 L549.4,307.1 L543.2,302.7 L537.1,298.3 L531.0,294.2 L524.8,290.3 L518.7,286.7 L512.6,283.3 L506.4,280.1 L500.3,277.2 L494.1,274.6 L488.0,272.2 L481.9,270.1 L475.7,268.1 L469.6,266.3 L463.5,264.7 L457.3,263.2 L451.2,261.8 L445.0,260.6 L438.9,259.4 L432.8,258.4 L426.6,257.4 L420.5,256.5 L414.4,255.6 L408.2,254.8 L402.1,254.0 L395.9,253.3 L389.8,252.6 L383.7,251.9 L377.5,251.3 L371.4,250.6Z" fill="url(#r318)"/>
<path d="M606.1,315.7 L612.3,319.3 L618.5,322.6 L624.7,325.9 L630.9,329.0 L637.2,331.8 L643.4,334.4 L649.6,336.8 L655.8,339.0 L662.0,341.2 L668.3,343.2 L674.5,345.1 L680.7,347.0 L680.7,351.6 L674.5,349.7 L668.3,347.8 L662.0,345.8 L655.8,343.6 L649.6,341.4 L643.4,339.2 L637.2,336.8 L630.9,334.2 L624.7,331.0 L618.5,327.6 L612.3,324.0 L606.1,320.4Z" fill="url(#r319)"/>
<path d="M369.4,276.2 L370.4,276.3 L371.4,276.5 M369.4,249.6 L375.5,250.2 L381.5,250.9 L387.6,251.6 L393.7,252.2 L399.7,253.0 L405.8,253.7 L411.9,254.5 L417.9,255.3 L424.0,256.2 L430.1,257.1 L436.2,258.1 L442.2,259.2 L448.3,260.4 L454.4,261.7 L460.4,263.1 L466.5,264.6 L472.6,266.3 L478.6,268.2 L484.7,270.2 L490.8,272.5 L496.8,274.9 L502.9,277.6 L509.0,280.6 L515.0,283.8 L521.1,287.2 L527.2,291.0 L533.2,294.9 L539.3,299.1 L545.4,303.4 L551.5,307.8 L557.5,312.4 L563.6,316.9 L569.7,321.5 L575.7,326.1 L581.8,330.5 L587.9,334.8 L593.9,338.9 L600.0,342.9 L606.1,346.8 M588.8,308.4 L594.9,312.5 L601.1,316.5 L607.2,320.2 L613.3,323.8 L619.4,327.3 L625.6,330.6 L631.7,333.6 L637.8,336.2 L643.9,338.5 L650.1,340.8 L656.2,342.9 L662.3,345.0 L668.4,347.0 L674.6,348.9 L680.7,350.8 M369.4,252.6 L375.5,253.2 L381.6,253.9 L387.7,254.5 L393.8,255.2 L399.9,255.9 L406.0,256.7 L412.1,257.5 L418.2,258.3 L424.2,259.2 L430.3,260.2 L436.4,261.2 L442.5,262.3 L448.6,263.5 L454.7,264.8 L460.8,266.2 L466.9,267.8 L473.0,269.5 L479.1,271.4 L485.2,273.4 L491.3,275.7 L497.4,278.2 L503.5,280.9 L509.6,283.9 L515.7,287.2 L521.8,290.7 L527.9,294.5 L533.9,298.4 L540.0,302.6 L546.1,307.0 L552.2,311.4 L558.3,316.0 L564.4,320.6 L570.5,325.2 L576.6,329.8 L582.7,334.2 L588.8,338.4 M571.2,298.5 L577.3,303.1 L583.4,307.6 L589.5,311.8 L595.5,315.9 L601.6,319.9 L607.7,323.6 L613.8,327.2 L619.9,330.8 L626.0,334.1 L632.0,337.1 L638.1,339.5 L644.2,341.7 L650.3,343.9 L656.4,346.0 L662.5,348.1 L668.5,350.1 L674.6,351.9 L680.7,353.7 M369.4,255.5 L375.5,256.2 L381.6,256.8 L387.7,257.5 L393.9,258.2 L400.0,258.9 L406.1,259.7 L412.2,260.5 L418.3,261.3 L424.4,262.2 L430.6,263.2 L436.7,264.2 L442.8,265.3 L448.9,266.5 L455.0,267.9 L461.1,269.3 L467.2,270.9 L473.4,272.6 L479.5,274.5 L485.6,276.6 L491.7,278.9 L497.8,281.5 L503.9,284.2 L510.1,287.2 L516.2,290.5 L522.3,294.1 L528.4,297.9 L534.5,301.9 L540.6,306.1 L546.7,310.5 L552.9,315.0 L559.0,319.5 L565.1,324.2 L571.2,328.8 M551.9,286.8 L558.0,291.4 L564.1,296.1 L570.3,300.8 L576.4,305.5 L582.5,310.0 L588.7,314.3 L594.8,318.5 L600.9,322.4 L607.1,326.2 L613.2,330.0 L619.4,333.7 L625.5,337.3 L631.6,340.3 L637.8,342.6 L643.9,344.7 L650.0,346.8 L656.2,348.9 L662.3,351.0 L668.4,353.0 L674.6,354.9 L680.7,356.7 M369.4,258.5 L375.5,259.1 L381.6,259.8 L387.6,260.4 L393.7,261.1 L399.8,261.9 L405.9,262.6 L412.0,263.4 L418.1,264.3 L424.1,265.2 L430.2,266.1 L436.3,267.1 L442.4,268.2 L448.5,269.5 L454.6,270.8 L460.6,272.2 L466.7,273.8 L472.8,275.5 L478.9,277.4 L485.0,279.4 L491.0,281.7 L497.1,284.2 L503.2,286.9 L509.3,289.9 L515.4,293.2 L521.5,296.7 L527.5,300.4 L533.6,304.3 L539.7,308.5 L545.8,312.8 L551.9,317.3 M528.5,273.4 L534.6,277.4 L540.7,281.6 L546.7,286.0 L552.8,290.6 L558.9,295.2 L565.0,299.8 L571.1,304.5 L577.2,309.1 L583.3,313.5 L589.4,317.8 L595.5,321.9 L601.5,325.8 L607.6,329.6 L613.7,333.4 L619.8,337.3 L625.9,340.8 L632.0,343.8 L638.1,346.0 L644.2,347.9 L650.3,349.9 L656.3,352.0 L662.4,354.0 L668.5,356.0 L674.6,357.9 L680.7,359.7 M369.4,261.5 L375.5,262.1 L381.6,262.7 L387.8,263.4 L393.9,264.1 L400.0,264.9 L406.1,265.6 L412.2,266.4 L418.3,267.3 L424.5,268.2 L430.6,269.2 L436.7,270.2 L442.8,271.3 L448.9,272.6 L455.1,273.9 L461.2,275.3 L467.3,276.9 L473.4,278.7 L479.5,280.6 L485.7,282.7 L491.8,285.1 L497.9,287.6 L504.0,290.4 L510.1,293.4 L516.2,296.7 L522.4,300.3 L528.5,304.1 M500.2,261.1 L506.2,263.9 L512.2,266.9 L518.2,270.2 L524.3,273.8 L530.3,277.6 L536.3,281.6 L542.3,285.9 L548.3,290.2 L554.3,294.7 L560.4,299.3 L566.4,303.9 L572.4,308.5 L578.4,313.0 L584.4,317.3 L590.4,321.5 L596.5,325.6 L602.5,329.4 L608.5,333.2 L614.5,337.1 L620.5,341.0 L626.5,344.6 L632.6,347.3 L638.6,349.3 L644.6,351.1 L650.6,353.0 L656.6,355.1 L662.6,357.1 L668.7,359.1 L674.7,360.9 L680.7,362.7 M672.0,333.2 L676.4,334.5 L680.7,335.8 M369.4,264.4 L375.6,265.1 L381.9,265.7 L388.1,266.4 L394.3,267.1 L400.5,267.9 L406.8,268.7 L413.0,269.5 L419.2,270.4 L425.5,271.3 L431.7,272.3 L437.9,273.4 L444.1,274.6 L450.4,275.9 L456.6,277.2 L462.8,278.8 L469.0,280.4 L475.3,282.3 L481.5,284.3 L487.7,286.5 L494.0,289.0 L500.2,291.7 M468.8,253.2 L475.0,254.9 L481.1,256.8 L487.3,259.0 L493.4,261.3 L499.6,263.9 L505.8,266.7 L511.9,269.8 L518.1,273.2 L524.2,276.9 L530.4,280.8 L536.6,284.9 L542.7,289.2 L548.9,293.7 L555.0,298.3 L561.2,303.0 L567.3,307.7 L573.5,312.4 L579.7,316.9 L585.8,321.3 L592.0,325.6 L598.1,329.6 L604.3,333.6 L610.5,337.5 L616.6,341.6 L622.8,345.7 L628.9,349.1 L635.1,351.5 L641.2,353.2 L647.4,355.0 L653.6,357.0 L659.7,359.1 L665.9,361.2 L672.0,363.1 M656.0,330.9 L662.2,333.0 L668.3,335.1 L674.5,337.0 L680.7,338.8 M369.4,267.4 L375.6,268.0 L381.8,268.7 L388.0,269.4 L394.3,270.1 L400.5,270.9 L406.7,271.6 L412.9,272.5 L419.1,273.3 L425.3,274.3 L431.5,275.3 L437.7,276.4 L444.0,277.5 L450.2,278.8 L456.4,280.2 L462.6,281.7 L468.8,283.4 M436.9,249.3 L443.0,250.4 L449.1,251.6 L455.2,252.8 L461.2,254.2 L467.3,255.8 L473.4,257.5 L479.5,259.3 L485.6,261.4 L491.7,263.7 L497.8,266.2 L503.8,268.9 L509.9,271.9 L516.0,275.1 L522.1,278.6 L528.2,282.4 L534.3,286.4 L540.4,290.6 L546.4,295.0 L552.5,299.5 L558.6,304.1 L564.7,308.7 L570.8,313.3 L576.9,317.9 L583.0,322.3 L589.0,326.6 L595.1,330.7 L601.2,334.6 L607.3,338.5 L613.4,342.6 L619.5,346.8 L625.6,350.8 L631.7,353.7 L637.7,355.5 L643.8,357.0 L649.9,358.8 L656.0,360.8 M639.7,327.4 L646.5,330.3 L653.3,332.9 L660.2,335.4 L667.0,337.6 L673.9,339.8 L680.7,341.8 M369.4,270.3 L375.5,271.0 L381.7,271.6 L387.8,272.3 L393.9,273.0 L400.1,273.8 L406.2,274.6 L412.4,275.4 L418.5,276.2 L424.6,277.2 L430.8,278.1 L436.9,279.2 M404.4,247.6 L410.5,248.4 L416.5,249.2 L422.5,250.0 L428.6,250.9 L434.6,251.9 L440.6,252.9 L446.6,254.1 L452.7,255.3 L458.7,256.7 L464.7,258.1 L470.8,259.7 L476.8,261.5 L482.8,263.5 L488.9,265.6 L494.9,268.0 L500.9,270.6 L507.0,273.4 L513.0,276.5 L519.0,279.9 L525.1,283.5 L531.1,287.3 L537.1,291.4 L543.2,295.7 L549.2,300.0 L555.2,304.5 L561.3,309.1 L567.3,313.7 L573.3,318.3 L579.3,322.7 L585.4,327.0 L591.4,331.2 L597.4,335.2 L603.5,339.1 L609.5,343.0 L615.5,347.2 L621.6,351.5 L627.6,355.2 L633.6,357.7 L639.7,359.2 M623.0,322.6 L629.4,325.8 L635.8,328.9 L642.2,331.7 L648.7,334.2 L655.1,336.6 L661.5,338.8 L667.9,340.9 L674.3,342.9 L680.7,344.8 M369.4,273.3 L376.4,274.0 L383.4,274.8 L390.4,275.6 L397.4,276.4 L404.4,277.3 M371.4,246.9 L377.5,247.5 L383.7,248.2 L389.8,248.8 L395.9,249.5 L402.1,250.3 L408.2,251.0 L414.4,251.8 L420.5,252.7 L426.6,253.6 L432.8,254.6 L438.9,255.6 L445.0,256.8 L451.2,258.0 L457.3,259.3 L463.5,260.8 L469.6,262.4 L475.7,264.2 L481.9,266.2 L488.0,268.4 L494.1,270.8 L500.3,273.4 L506.4,276.2 L512.6,279.4 L518.7,282.8 L524.8,286.4 L531.0,290.3 L537.1,294.5 L543.2,298.8 L549.4,303.2 L555.5,307.8 L561.6,312.4 L567.8,317.1 L573.9,321.7 L580.1,326.3 L586.2,330.6 L592.3,334.8 L598.5,338.9 L604.6,342.8 L610.7,346.9 L616.9,351.4 L623.0,355.9 M606.1,316.5 L612.3,320.1 L618.5,323.5 L624.7,326.8 L630.9,329.9 L637.2,332.7 L643.4,335.2 L649.6,337.6 L655.8,339.8 L662.0,342.0 L668.3,344.0 L674.5,345.9 L680.7,347.8" fill="none" stroke="#000" stroke-width="0.70" stroke-opacity="0.10"/>
<path d="M483.0,259.8 L486.3,259.1 L489.7,259.4 L493.0,260.1 L496.3,261.1 L499.7,262.6 L503.0,265.0 L503.0,265.0 L499.7,265.4 L496.3,264.9 L493.0,264.1 L489.7,263.1 L486.3,261.9 L483.0,259.8Z" fill="#f0b000" fill-opacity="0.80"/>
<path d="M486.0,260.5 L488.3,260.3 L490.7,260.6 L493.0,261.1 L495.3,261.8 L497.7,262.6 L500.0,264.0 L500.0,264.0 L497.7,264.0 L495.3,263.6 L493.0,263.1 L490.7,262.5 L488.3,261.7 L486.0,260.5Z" fill="#e86000" fill-opacity="0.80"/>
<path d="M600.0,347.0 L603.1,346.5 L606.2,346.9 L609.2,347.4 L612.3,348.1 L615.4,348.9 L618.5,349.8 L621.5,350.7 L624.6,351.5 L627.7,352.0 L630.8,352.2 L633.8,352.2 L636.9,352.3 L640.0,353.0 L640.0,353.0 L636.9,354.7 L633.8,355.7 L630.8,356.3 L627.7,356.5 L624.6,356.3 L621.5,355.7 L618.5,354.8 L615.4,353.7 L612.3,352.6 L609.2,351.4 L606.2,350.3 L603.1,349.0 L600.0,347.0Z" fill="#e8c000" fill-opacity="0.60"/>
<path d="M606.0,350.0 L609.1,349.8 L612.2,350.5 L615.2,351.5 L618.3,352.7 L621.4,353.8 L624.5,354.9 L627.6,355.7 L630.7,356.2 L633.8,356.4 L636.8,356.6 L639.9,356.8 L643.0,358.0 L643.0,358.0 L639.9,359.6 L636.8,360.5 L633.8,361.0 L630.7,361.3 L627.6,361.1 L624.5,360.4 L621.4,359.2 L618.3,357.8 L615.2,356.1 L612.2,354.4 L609.1,352.6 L606.0,350.0Z" fill="#f07000" fill-opacity="0.80"/>
<path d="M612.0,352.5 L615.2,352.9 L618.4,353.9 L621.7,355.0 L624.9,356.0 L628.1,356.7 L631.3,357.0 L634.6,357.2 L637.8,357.3 L641.0,358.0 L641.0,358.0 L637.8,359.3 L634.6,360.0 L631.3,360.3 L628.1,360.2 L624.9,359.5 L621.7,358.3 L618.4,356.7 L615.2,354.9 L612.0,352.5Z" fill="#d01800" fill-opacity="0.90"/>
</g>
<g clip-path="url(#r4_c)" filter="url(#blur)">
<path d="M370.3,361.5 L371.3,361.6 L372.3,361.8 L372.3,367.0 L371.3,366.9 L370.3,366.7Z" fill="#0002c8"/>
<path d="M370.3,331.0 L376.4,331.9 L382.4,332.7 L388.5,333.7 L394.5,334.6 L400.6,335.6 L406.6,336.7 L412.7,337.8 L418.8,338.9 L424.8,340.2 L430.9,341.5 L436.9,342.8 L443.0,344.3 L449.0,345.9 L455.1,347.6 L461.2,349.4 L467.2,351.3 L473.3,353.4 L479.3,355.6 L485.4,358.0 L491.4,360.5 L497.5,363.3 L503.6,366.2 L509.6,369.4 L515.7,372.8 L521.7,376.6 L527.8,380.6 L533.8,385.0 L539.9,389.7 L546.0,394.7 L552.0,399.9 L558.1,405.5 L564.1,411.2 L570.2,417.1 L576.2,422.9 L582.3,428.6 L588.4,434.0 L594.4,439.0 L600.5,443.7 L606.5,448.0 L606.5,453.6 L600.5,449.5 L594.4,444.9 L588.4,439.9 L582.3,434.6 L576.2,429.1 L570.2,423.3 L564.1,417.5 L558.1,411.8 L552.0,406.2 L546.0,400.9 L539.9,395.8 L533.8,391.0 L527.8,386.6 L521.7,382.5 L515.7,378.7 L509.6,375.1 L503.6,371.9 L497.5,368.9 L491.4,366.1 L485.4,363.5 L479.3,361.0 L473.3,358.8 L467.2,356.7 L461.2,354.7 L455.1,352.9 L449.0,351.2 L443.0,349.6 L436.9,348.1 L430.9,346.7 L424.8,345.4 L418.8,344.2 L412.7,343.0 L406.6,341.9 L400.6,340.8 L394.5,339.8 L388.5,338.9 L382.4,338.0 L376.4,337.1 L370.3,336.2Z" fill="url(#r40)"/>
<path d="M589.3,399.9 L595.6,405.9 L601.9,411.4 L608.2,416.5 L614.6,421.1 L620.9,425.1 L627.2,428.7 L633.5,431.9 L639.8,434.7 L646.2,437.3 L652.5,439.6 L658.8,441.6 L665.1,443.6 L671.5,445.4 L677.8,447.1 L684.1,448.8 L684.1,453.9 L677.8,452.2 L671.5,450.5 L665.1,448.7 L658.8,446.8 L652.5,444.7 L646.2,442.4 L639.8,439.9 L633.5,437.2 L627.2,434.0 L620.9,430.5 L614.6,426.5 L608.2,422.1 L601.9,417.1 L595.6,411.7 L589.3,405.8Z" fill="url(#r41)"/>
<path d="M370.3,334.4 L376.4,335.3 L382.5,336.1 L388.5,337.1 L394.6,338.0 L400.7,339.0 L406.8,340.1 L412.9,341.2 L419.0,342.4 L425.0,343.6 L431.1,344.9 L437.2,346.3 L443.3,347.8 L449.4,349.4 L455.5,351.1 L461.5,353.0 L467.6,354.9 L473.7,357.0 L479.8,359.3 L485.9,361.7 L492.0,364.3 L498.0,367.2 L504.1,370.2 L510.2,373.4 L516.3,377.0 L522.4,380.8 L528.4,385.0 L534.5,389.4 L540.6,394.2 L546.7,399.3 L552.8,404.7 L558.9,410.3 L564.9,416.1 L571.0,421.9 L577.1,427.7 L583.2,433.3 L589.3,438.6 L589.3,444.6 L583.2,439.4 L577.1,433.9 L571.0,428.2 L564.9,422.3 L558.9,416.6 L552.8,410.9 L546.7,405.5 L540.6,400.4 L534.5,395.5 L528.4,391.0 L522.4,386.7 L516.3,382.8 L510.2,379.2 L504.1,375.9 L498.0,372.8 L492.0,369.9 L485.9,367.2 L479.8,364.8 L473.7,362.5 L467.6,360.3 L461.5,358.3 L455.5,356.5 L449.4,354.7 L443.3,353.1 L437.2,351.6 L431.1,350.2 L425.0,348.9 L419.0,347.6 L412.9,346.4 L406.8,345.3 L400.7,344.2 L394.6,343.2 L388.5,342.3 L382.5,341.4 L376.4,340.5 L370.3,339.6Z" fill="url(#r42)"/>
<path d="M571.7,386.2 L577.9,392.5 L584.2,398.8 L590.4,404.9 L596.7,410.6 L602.9,415.9 L609.2,420.8 L615.4,425.2 L621.6,429.1 L627.9,432.5 L634.1,435.6 L640.4,438.3 L646.6,440.8 L652.9,443.0 L659.1,445.1 L665.4,447.0 L671.6,448.8 L677.9,450.5 L684.1,452.1 L684.1,457.2 L677.9,455.6 L671.6,453.9 L665.4,452.1 L659.1,450.2 L652.9,448.2 L646.6,446.0 L640.4,443.5 L634.1,440.8 L627.9,437.8 L621.6,434.4 L615.4,430.6 L609.2,426.4 L602.9,421.6 L596.7,416.4 L590.4,410.8 L584.2,404.8 L577.9,398.7 L571.7,392.4Z" fill="url(#r43)"/>
<path d="M370.3,337.8 L376.4,338.6 L382.5,339.5 L388.6,340.5 L394.7,341.4 L400.8,342.4 L406.9,343.5 L413.0,344.6 L419.1,345.8 L425.2,347.1 L431.3,348.4 L437.4,349.8 L443.5,351.3 L449.6,352.9 L455.7,354.7 L461.8,356.5 L467.9,358.5 L474.0,360.7 L480.1,363.0 L486.3,365.5 L492.4,368.1 L498.5,371.0 L504.6,374.1 L510.7,377.4 L516.8,381.1 L522.9,385.0 L529.0,389.2 L535.1,393.8 L541.2,398.7 L547.3,403.9 L553.4,409.3 L559.5,415.0 L565.6,420.8 L571.7,426.6 L571.7,432.8 L565.6,427.0 L559.5,421.2 L553.4,415.6 L547.3,410.1 L541.2,404.8 L535.1,399.9 L529.0,395.2 L522.9,390.9 L516.8,386.9 L510.7,383.2 L504.6,379.8 L498.5,376.6 L492.4,373.7 L486.3,371.0 L480.1,368.4 L474.0,366.1 L467.9,363.9 L461.8,361.9 L455.7,360.0 L449.6,358.2 L443.5,356.6 L437.4,355.1 L431.3,353.6 L425.2,352.3 L419.1,351.0 L413.0,349.8 L406.9,348.7 L400.8,347.7 L394.7,346.6 L388.6,345.7 L382.5,344.7 L376.4,343.9 L370.3,343.0Z" fill="url(#r44)"/>
<path d="M552.4,371.9 L558.7,377.6 L565.0,383.5 L571.2,389.8 L577.5,396.1 L583.8,402.3 L590.1,408.4 L596.3,414.1 L602.6,419.4 L608.9,424.2 L615.1,428.6 L621.4,432.4 L627.7,435.9 L633.9,438.9 L640.2,441.6 L646.5,444.1 L652.8,446.3 L659.0,448.4 L665.3,450.3 L671.6,452.1 L677.8,453.8 L684.1,455.4 L684.1,460.5 L677.8,458.9 L671.6,457.2 L665.3,455.4 L659.0,453.5 L652.8,451.5 L646.5,449.3 L640.2,446.8 L633.9,444.2 L627.7,441.2 L621.4,437.8 L615.1,434.0 L608.9,429.8 L602.6,425.1 L596.3,419.9 L590.1,414.3 L583.8,408.4 L577.5,402.2 L571.2,396.0 L565.0,389.8 L558.7,383.8 L552.4,378.2Z" fill="url(#r45)"/>
<path d="M370.3,341.2 L376.4,342.0 L382.4,342.9 L388.5,343.8 L394.6,344.8 L400.7,345.8 L406.7,346.9 L412.8,348.0 L418.9,349.1 L424.9,350.4 L431.0,351.7 L437.1,353.1 L443.2,354.7 L449.2,356.3 L455.3,358.0 L461.4,359.9 L467.4,361.9 L473.5,364.0 L479.6,366.3 L485.7,368.8 L491.7,371.5 L497.8,374.3 L503.9,377.4 L509.9,380.8 L516.0,384.4 L522.1,388.3 L528.2,392.5 L534.2,397.1 L540.3,401.9 L546.4,407.1 L552.4,412.5 L552.4,418.8 L546.4,413.3 L540.3,408.1 L534.2,403.2 L528.2,398.5 L522.1,394.2 L516.0,390.2 L509.9,386.5 L503.9,383.1 L497.8,379.9 L491.7,377.0 L485.7,374.3 L479.6,371.8 L473.5,369.4 L467.4,367.2 L461.4,365.2 L455.3,363.3 L449.2,361.6 L443.2,359.9 L437.1,358.4 L431.0,357.0 L424.9,355.6 L418.9,354.4 L412.8,353.2 L406.7,352.1 L400.7,351.0 L394.6,350.0 L388.5,349.0 L382.4,348.1 L376.4,347.2 L370.3,346.4Z" fill="url(#r46)"/>
<path d="M529.2,358.2 L535.4,362.4 L541.6,367.0 L547.8,372.0 L554.0,377.3 L560.2,383.0 L566.4,389.0 L572.6,395.1 L578.7,401.3 L584.9,407.4 L591.1,413.2 L597.3,418.7 L603.5,423.8 L609.7,428.5 L615.9,432.6 L622.1,436.3 L628.3,439.6 L634.5,442.6 L640.7,445.2 L646.9,447.6 L653.1,449.8 L659.3,451.8 L665.5,453.7 L671.7,455.4 L677.9,457.1 L684.1,458.7 L684.1,463.8 L677.9,462.2 L671.7,460.5 L665.5,458.8 L659.3,456.9 L653.1,454.9 L646.9,452.8 L640.7,450.4 L634.5,447.8 L628.3,444.9 L622.1,441.7 L615.9,438.1 L609.7,434.0 L603.5,429.5 L597.3,424.5 L591.1,419.2 L584.9,413.4 L578.7,407.5 L572.6,401.3 L566.4,395.2 L560.2,389.3 L554.0,383.6 L547.8,378.2 L541.6,373.2 L535.4,368.5 L529.2,364.2Z" fill="url(#r47)"/>
<path d="M370.3,344.6 L376.4,345.4 L382.5,346.3 L388.6,347.2 L394.7,348.2 L400.9,349.2 L407.0,350.3 L413.1,351.4 L419.2,352.6 L425.3,353.9 L431.4,355.2 L437.5,356.7 L443.6,358.2 L449.7,359.9 L455.8,361.6 L462.0,363.5 L468.1,365.6 L474.2,367.8 L480.3,370.1 L486.4,372.7 L492.5,375.4 L498.6,378.4 L504.7,381.6 L510.8,385.0 L517.0,388.8 L523.1,392.8 L529.2,397.2 L529.2,403.2 L523.1,398.7 L517.0,394.6 L510.8,390.8 L504.7,387.3 L498.6,384.0 L492.5,381.0 L486.4,378.2 L480.3,375.6 L474.2,373.2 L468.1,371.0 L462.0,368.9 L455.8,367.0 L449.7,365.2 L443.6,363.5 L437.5,361.9 L431.4,360.5 L425.3,359.1 L419.2,357.8 L413.1,356.6 L407.0,355.5 L400.9,354.4 L394.7,353.4 L388.6,352.5 L382.5,351.5 L376.4,350.6 L370.3,349.8Z" fill="url(#r48)"/>
<path d="M501.0,346.6 L507.1,349.5 L513.2,352.6 L519.3,356.0 L525.4,359.7 L531.5,363.7 L537.6,368.0 L543.7,372.7 L549.8,377.8 L555.9,383.2 L562.0,388.9 L568.2,394.8 L574.3,400.9 L580.4,406.9 L586.5,412.8 L592.6,418.4 L598.7,423.6 L604.8,428.4 L610.9,432.8 L617.0,436.8 L623.1,440.3 L629.2,443.5 L635.3,446.3 L641.4,448.9 L647.5,451.2 L653.6,453.3 L659.7,455.2 L665.8,457.1 L671.9,458.8 L678.0,460.4 L684.1,462.0 L684.1,467.1 L678.0,465.5 L671.9,463.9 L665.8,462.2 L659.7,460.3 L653.6,458.4 L647.5,456.3 L641.4,454.0 L635.3,451.5 L629.2,448.8 L623.1,445.7 L617.0,442.2 L610.9,438.4 L604.8,434.1 L598.7,429.4 L592.6,424.3 L586.5,418.8 L580.4,413.0 L574.3,407.1 L568.2,401.0 L562.0,395.1 L555.9,389.4 L549.8,384.0 L543.7,378.9 L537.6,374.1 L531.5,369.7 L525.4,365.6 L519.3,361.9 L513.2,358.4 L507.1,355.2 L501.0,352.3Z" fill="url(#r49)"/>
<path d="M672.5,429.1 L678.3,430.7 L684.1,432.2 L684.1,437.3 L678.3,435.8 L672.5,434.2Z" fill="url(#r410)"/>
<path d="M370.3,348.0 L376.5,348.8 L382.7,349.7 L389.0,350.7 L395.2,351.7 L401.4,352.7 L407.6,353.8 L413.9,355.0 L420.1,356.2 L426.3,357.5 L432.5,358.9 L438.8,360.4 L445.0,362.0 L451.2,363.7 L457.4,365.6 L463.7,367.6 L469.9,369.7 L476.1,372.0 L482.3,374.5 L488.6,377.2 L494.8,380.1 L501.0,383.3 L501.0,388.9 L494.8,385.7 L488.6,382.7 L482.3,380.0 L476.1,377.5 L469.9,375.1 L463.7,372.9 L457.4,370.9 L451.2,369.0 L445.0,367.3 L438.8,365.7 L432.5,364.2 L426.3,362.8 L420.1,361.4 L413.9,360.2 L407.6,359.0 L401.4,357.9 L395.2,356.9 L389.0,355.9 L382.7,354.9 L376.5,354.0 L370.3,353.2Z" fill="url(#r411)"/>
<path d="M469.7,338.1 L475.8,340.2 L482.0,342.4 L488.1,344.8 L494.2,347.3 L500.4,350.0 L506.5,352.9 L512.7,356.1 L518.8,359.5 L525.0,363.3 L531.1,367.3 L537.3,371.7 L543.4,376.5 L549.6,381.6 L555.7,387.0 L561.8,392.7 L568.0,398.7 L574.1,404.8 L580.3,410.8 L586.4,416.6 L592.6,422.2 L598.7,427.4 L604.9,432.2 L611.0,436.5 L617.2,440.4 L623.3,443.9 L629.4,447.0 L635.6,449.8 L641.7,452.4 L647.9,454.7 L654.0,456.8 L660.2,458.7 L666.3,460.5 L672.5,462.3 L672.5,467.4 L666.3,465.6 L660.2,463.8 L654.0,461.9 L647.9,459.8 L641.7,457.5 L635.6,455.1 L629.4,452.3 L623.3,449.3 L617.2,445.9 L611.0,442.1 L604.9,437.8 L598.7,433.2 L592.6,428.1 L586.4,422.7 L580.3,416.9 L574.1,411.0 L568.0,404.9 L561.8,399.0 L555.7,393.3 L549.6,387.8 L543.4,382.6 L537.3,377.8 L531.1,373.4 L525.0,369.2 L518.8,365.4 L512.7,361.9 L506.5,358.6 L500.4,355.6 L494.2,352.9 L488.1,350.3 L482.0,347.9 L475.8,345.6 L469.7,343.5Z" fill="url(#r412)"/>
<path d="M656.4,427.6 L663.4,429.8 L670.3,431.8 L677.2,433.7 L684.1,435.5 L684.1,440.6 L677.2,438.8 L670.3,436.9 L663.4,434.9 L656.4,432.7Z" fill="url(#r413)"/>
<path d="M370.3,351.3 L376.5,352.2 L382.7,353.1 L388.9,354.1 L395.1,355.0 L401.4,356.1 L407.6,357.2 L413.8,358.3 L420.0,359.6 L426.2,360.9 L432.4,362.3 L438.6,363.8 L444.8,365.4 L451.0,367.1 L457.2,369.0 L463.5,371.0 L469.7,373.1 L469.7,378.5 L463.5,376.3 L457.2,374.3 L451.0,372.4 L444.8,370.7 L438.6,369.1 L432.4,367.5 L426.2,366.1 L420.0,364.8 L413.8,363.6 L407.6,362.4 L401.4,361.3 L395.1,360.3 L388.9,359.3 L382.7,358.3 L376.5,357.4 L370.3,356.6Z" fill="url(#r414)"/>
<path d="M437.8,332.8 L443.8,334.2 L449.9,335.8 L456.0,337.5 L462.1,339.2 L468.1,341.1 L474.2,343.2 L480.3,345.3 L486.4,347.6 L492.4,350.1 L498.5,352.8 L504.6,355.6 L510.7,358.8 L516.7,362.1 L522.8,365.8 L528.9,369.7 L535.0,374.0 L541.0,378.6 L547.1,383.5 L553.2,388.8 L559.2,394.4 L565.3,400.1 L571.4,406.1 L577.5,412.0 L583.5,417.9 L589.6,423.4 L595.7,428.7 L601.8,433.5 L607.8,438.0 L613.9,442.0 L620.0,445.6 L626.1,448.8 L632.1,451.7 L638.2,454.3 L644.3,456.7 L650.4,458.9 L656.4,460.9 L656.4,466.0 L650.4,464.0 L644.3,461.9 L638.2,459.5 L632.1,457.0 L626.1,454.1 L620.0,451.0 L613.9,447.5 L607.8,443.6 L601.8,439.3 L595.7,434.5 L589.6,429.4 L583.5,423.9 L577.5,418.2 L571.4,412.3 L565.3,406.4 L559.2,400.6 L553.2,395.1 L547.1,389.7 L541.0,384.7 L535.0,380.0 L528.9,375.7 L522.8,371.7 L516.7,367.9 L510.7,364.5 L504.6,361.3 L498.5,358.4 L492.4,355.7 L486.4,353.1 L480.3,350.8 L474.2,348.6 L468.1,346.5 L462.1,344.6 L456.0,342.8 L449.9,341.1 L443.8,339.5 L437.8,338.0Z" fill="url(#r415)"/>
<path d="M640.1,424.7 L646.4,427.3 L652.7,429.6 L659.0,431.7 L665.2,433.7 L671.5,435.5 L677.8,437.2 L684.1,438.8 L684.1,443.9 L677.8,442.3 L671.5,440.6 L665.2,438.8 L659.0,436.8 L652.7,434.7 L646.4,432.5 L640.1,429.9Z" fill="url(#r416)"/>
<path d="M370.3,354.7 L376.4,355.6 L382.6,356.5 L388.7,357.4 L394.8,358.4 L401.0,359.4 L407.1,360.5 L413.2,361.6 L419.4,362.9 L425.5,364.1 L431.6,365.5 L437.8,367.0 L437.8,372.3 L431.6,370.8 L425.5,369.4 L419.4,368.1 L413.2,366.9 L407.1,365.7 L401.0,364.6 L394.8,363.6 L388.7,362.6 L382.6,361.7 L376.4,360.8 L370.3,359.9Z" fill="#0000c8"/>
<path d="M405.3,329.6 L411.3,330.7 L417.4,331.8 L423.4,333.0 L429.4,334.3 L435.4,335.7 L441.4,337.1 L447.5,338.6 L453.5,340.2 L459.5,341.9 L465.5,343.8 L471.5,345.8 L477.6,347.9 L483.6,350.1 L489.6,352.5 L495.6,355.1 L501.6,357.9 L507.7,360.9 L513.7,364.2 L519.7,367.7 L525.7,371.5 L531.7,375.6 L537.8,380.0 L543.8,384.8 L549.8,389.9 L555.8,395.3 L561.8,400.9 L567.9,406.7 L573.9,412.6 L579.9,418.4 L585.9,424.0 L591.9,429.3 L598.0,434.3 L604.0,438.9 L610.0,443.1 L616.0,446.8 L622.0,450.2 L628.1,453.3 L634.1,456.0 L640.1,458.5 L640.1,463.7 L634.1,461.2 L628.1,458.6 L622.0,455.6 L616.0,452.3 L610.0,448.6 L604.0,444.6 L598.0,440.1 L591.9,435.2 L585.9,430.0 L579.9,424.5 L573.9,418.8 L567.9,412.9 L561.8,407.2 L555.8,401.5 L549.8,396.1 L543.8,391.0 L537.8,386.1 L531.7,381.6 L525.7,377.4 L519.7,373.5 L513.7,369.9 L507.7,366.6 L501.6,363.6 L495.6,360.7 L489.6,358.1 L483.6,355.6 L477.6,353.3 L471.5,351.2 L465.5,349.2 L459.5,347.3 L453.5,345.5 L447.5,343.9 L441.4,342.4 L435.4,340.9 L429.4,339.6 L423.4,338.3 L417.4,337.1 L411.3,335.9 L405.3,334.9Z" fill="url(#r417)"/>
<path d="M623.5,419.7 L629.5,423.1 L635.6,426.1 L641.7,428.8 L647.7,431.2 L653.8,433.3 L659.8,435.3 L665.9,437.2 L672.0,438.9 L678.0,440.6 L684.1,442.1 L684.1,447.2 L678.0,445.7 L672.0,444.0 L665.9,442.3 L659.8,440.4 L653.8,438.5 L647.7,436.3 L641.7,433.9 L635.6,431.3 L629.5,428.4 L623.5,425.1Z" fill="url(#r418)"/>
<path d="M370.3,358.1 L377.3,359.1 L384.3,360.1 L391.3,361.2 L398.3,362.4 L405.3,363.6 L405.3,368.8 L398.3,367.6 L391.3,366.4 L384.3,365.3 L377.3,364.3 L370.3,363.3Z" fill="#0001c8"/>
<path d="M372.3,327.9 L378.4,328.8 L384.6,329.7 L390.7,330.6 L396.8,331.6 L402.9,332.6 L409.1,333.7 L415.2,334.8 L421.3,336.0 L427.4,337.3 L433.6,338.6 L439.7,340.1 L445.8,341.6 L451.9,343.2 L458.1,345.0 L464.2,346.9 L470.3,348.9 L476.4,351.0 L482.6,353.3 L488.7,355.8 L494.8,358.4 L501.0,361.2 L507.1,364.3 L513.2,367.6 L519.3,371.3 L525.5,375.2 L531.6,379.4 L537.7,384.0 L543.8,388.9 L550.0,394.1 L556.1,399.6 L562.2,405.3 L568.3,411.2 L574.5,417.2 L580.6,423.0 L586.7,428.6 L592.8,433.9 L599.0,438.9 L605.1,443.4 L611.2,447.5 L617.3,451.1 L623.5,454.4 L623.5,459.8 L617.3,456.6 L611.2,453.0 L605.1,449.0 L599.0,444.6 L592.8,439.8 L586.7,434.6 L580.6,429.1 L574.5,423.4 L568.3,417.5 L562.2,411.6 L556.1,405.8 L550.0,400.3 L543.8,395.0 L537.7,390.1 L531.6,385.4 L525.5,381.1 L519.3,377.1 L513.2,373.4 L507.1,370.0 L501.0,366.9 L494.8,364.0 L488.7,361.3 L482.6,358.8 L476.4,356.4 L470.3,354.2 L464.2,352.2 L458.1,350.3 L451.9,348.6 L445.8,346.9 L439.7,345.4 L433.6,343.9 L427.4,342.5 L421.3,341.3 L415.2,340.1 L409.1,338.9 L402.9,337.8 L396.8,336.8 L390.7,335.8 L384.6,334.9 L378.4,334.0 L372.3,333.1Z" fill="url(#r419)"/>
<path d="M606.5,411.5 L613.0,416.4 L619.5,420.7 L625.9,424.6 L632.4,428.0 L638.9,430.9 L645.3,433.6 L651.8,436.0 L658.2,438.1 L664.7,440.1 L671.2,442.0 L677.6,443.8 L684.1,445.5 L684.1,450.6 L677.6,448.9 L671.2,447.1 L664.7,445.2 L658.2,443.3 L651.8,441.1 L645.3,438.8 L638.9,436.1 L632.4,433.2 L625.9,429.9 L619.5,426.2 L613.0,421.9 L606.5,417.1Z" fill="url(#r420)"/>
<path d="M370.3,362.4 L371.3,362.6 L372.3,362.7 M370.3,331.9 L376.4,332.8 L382.4,333.7 L388.5,334.6 L394.5,335.5 L400.6,336.5 L406.6,337.6 L412.7,338.7 L418.8,339.8 L424.8,341.1 L430.9,342.4 L436.9,343.8 L443.0,345.2 L449.0,346.8 L455.1,348.5 L461.2,350.3 L467.2,352.3 L473.3,354.3 L479.3,356.5 L485.4,358.9 L491.4,361.5 L497.5,364.2 L503.6,367.2 L509.6,370.4 L515.7,373.9 L521.7,377.6 L527.8,381.7 L533.8,386.0 L539.9,390.7 L546.0,395.7 L552.0,401.0 L558.1,406.6 L564.1,412.3 L570.2,418.2 L576.2,424.0 L582.3,429.6 L588.4,435.0 L594.4,440.1 L600.5,444.7 L606.5,449.0 M589.3,400.9 L595.6,406.9 L601.9,412.4 L608.2,417.5 L614.6,422.0 L620.9,426.1 L627.2,429.7 L633.5,432.8 L639.8,435.7 L646.2,438.2 L652.5,440.5 L658.8,442.5 L665.1,444.5 L671.5,446.3 L677.8,448.0 L684.1,449.7 M370.3,335.3 L376.4,336.2 L382.5,337.0 L388.5,338.0 L394.6,338.9 L400.7,339.9 L406.8,341.0 L412.9,342.1 L419.0,343.3 L425.0,344.5 L431.1,345.8 L437.2,347.3 L443.3,348.8 L449.4,350.4 L455.5,352.1 L461.5,353.9 L467.6,355.9 L473.7,358.0 L479.8,360.3 L485.9,362.7 L492.0,365.3 L498.0,368.1 L504.1,371.2 L510.2,374.5 L516.3,378.0 L522.4,381.9 L528.4,386.0 L534.5,390.5 L540.6,395.3 L546.7,400.4 L552.8,405.8 L558.9,411.4 L564.9,417.2 L571.0,423.0 L577.1,428.8 L583.2,434.4 L589.3,439.7 M571.7,387.3 L577.9,393.6 L584.2,399.8 L590.4,405.9 L596.7,411.6 L602.9,416.9 L609.2,421.8 L615.4,426.1 L621.6,430.0 L627.9,433.5 L634.1,436.5 L640.4,439.2 L646.6,441.7 L652.9,443.9 L659.1,446.0 L665.4,447.9 L671.6,449.7 L677.9,451.3 L684.1,453.0 M370.3,338.7 L376.4,339.6 L382.5,340.4 L388.6,341.4 L394.7,342.3 L400.8,343.3 L406.9,344.4 L413.0,345.5 L419.1,346.7 L425.2,348.0 L431.3,349.3 L437.4,350.7 L443.5,352.2 L449.6,353.9 L455.7,355.6 L461.8,357.5 L467.9,359.5 L474.0,361.6 L480.1,363.9 L486.3,366.4 L492.4,369.1 L498.5,372.0 L504.6,375.1 L510.7,378.5 L516.8,382.1 L522.9,386.0 L529.0,390.3 L535.1,394.9 L541.2,399.8 L547.3,404.9 L553.4,410.4 L559.5,416.1 L565.6,421.9 L571.7,427.7 M552.4,373.0 L558.7,378.7 L565.0,384.6 L571.2,390.9 L577.5,397.2 L583.8,403.4 L590.1,409.4 L596.3,415.1 L602.6,420.4 L608.9,425.2 L615.1,429.5 L621.4,433.4 L627.7,436.8 L633.9,439.8 L640.2,442.6 L646.5,445.0 L652.8,447.2 L659.0,449.3 L665.3,451.2 L671.6,453.0 L677.8,454.7 L684.1,456.3 M370.3,342.1 L376.4,342.9 L382.4,343.8 L388.5,344.7 L394.6,345.7 L400.7,346.7 L406.7,347.8 L412.8,348.9 L418.9,350.1 L424.9,351.3 L431.0,352.6 L437.1,354.1 L443.2,355.6 L449.2,357.2 L455.3,358.9 L461.4,360.8 L467.4,362.8 L473.5,365.0 L479.6,367.3 L485.7,369.8 L491.7,372.4 L497.8,375.3 L503.9,378.4 L509.9,381.8 L516.0,385.4 L522.1,389.4 L528.2,393.6 L534.2,398.2 L540.3,403.0 L546.4,408.2 L552.4,413.6 M529.2,359.3 L535.4,363.5 L541.6,368.1 L547.8,373.1 L554.0,378.4 L560.2,384.1 L566.4,390.0 L572.6,396.2 L578.7,402.4 L584.9,408.5 L591.1,414.3 L597.3,419.8 L603.5,424.8 L609.7,429.4 L615.9,433.6 L622.1,437.3 L628.3,440.6 L634.5,443.5 L640.7,446.1 L646.9,448.5 L653.1,450.7 L659.3,452.7 L665.5,454.5 L671.7,456.3 L677.9,458.0 L684.1,459.6 M370.3,345.5 L376.4,346.3 L382.5,347.2 L388.6,348.1 L394.7,349.1 L400.9,350.1 L407.0,351.2 L413.1,352.3 L419.2,353.5 L425.3,354.8 L431.4,356.2 L437.5,357.6 L443.6,359.1 L449.7,360.8 L455.8,362.6 L462.0,364.5 L468.1,366.5 L474.2,368.7 L480.3,371.1 L486.4,373.6 L492.5,376.4 L498.6,379.4 L504.7,382.6 L510.8,386.0 L517.0,389.8 L523.1,393.9 L529.2,398.2 M501.0,347.6 L507.1,350.5 L513.2,353.6 L519.3,357.0 L525.4,360.7 L531.5,364.8 L537.6,369.1 L543.7,373.8 L549.8,378.9 L555.9,384.3 L562.0,390.0 L568.2,395.9 L574.3,401.9 L580.4,408.0 L586.5,413.8 L592.6,419.4 L598.7,424.6 L604.8,429.4 L610.9,433.8 L617.0,437.8 L623.1,441.3 L629.2,444.4 L635.3,447.2 L641.4,449.8 L647.5,452.1 L653.6,454.2 L659.7,456.1 L665.8,458.0 L671.9,459.7 L678.0,461.3 L684.1,462.9 M672.5,430.0 L678.3,431.6 L684.1,433.1 M370.3,348.9 L376.5,349.7 L382.7,350.6 L389.0,351.6 L395.2,352.6 L401.4,353.6 L407.6,354.7 L413.9,355.9 L420.1,357.1 L426.3,358.4 L432.5,359.8 L438.8,361.3 L445.0,362.9 L451.2,364.7 L457.4,366.5 L463.7,368.5 L469.9,370.7 L476.1,373.0 L482.3,375.5 L488.6,378.2 L494.8,381.1 L501.0,384.3 M469.7,339.1 L475.8,341.1 L482.0,343.4 L488.1,345.7 L494.2,348.3 L500.4,351.0 L506.5,353.9 L512.7,357.1 L518.8,360.6 L525.0,364.3 L531.1,368.4 L537.3,372.8 L543.4,377.6 L549.6,382.7 L555.7,388.1 L561.8,393.8 L568.0,399.8 L574.1,405.8 L580.3,411.9 L586.4,417.7 L592.6,423.2 L598.7,428.4 L604.9,433.2 L611.0,437.5 L617.2,441.4 L623.3,444.9 L629.4,448.0 L635.6,450.8 L641.7,453.3 L647.9,455.6 L654.0,457.7 L660.2,459.6 L666.3,461.4 L672.5,463.2 M656.4,428.5 L663.4,430.7 L670.3,432.7 L677.2,434.6 L684.1,436.4 M370.3,352.3 L376.5,353.1 L382.7,354.0 L388.9,355.0 L395.1,356.0 L401.4,357.0 L407.6,358.1 L413.8,359.3 L420.0,360.5 L426.2,361.8 L432.4,363.2 L438.6,364.7 L444.8,366.3 L451.0,368.0 L457.2,369.9 L463.5,371.9 L469.7,374.1 M437.8,333.7 L443.8,335.2 L449.9,336.7 L456.0,338.4 L462.1,340.2 L468.1,342.1 L474.2,344.1 L480.3,346.3 L486.4,348.6 L492.4,351.1 L498.5,353.8 L504.6,356.6 L510.7,359.8 L516.7,363.1 L522.8,366.8 L528.9,370.8 L535.0,375.0 L541.0,379.7 L547.1,384.6 L553.2,389.9 L559.2,395.5 L565.3,401.2 L571.4,407.2 L577.5,413.1 L583.5,418.9 L589.6,424.5 L595.7,429.7 L601.8,434.5 L607.8,439.0 L613.9,443.0 L620.0,446.5 L626.1,449.8 L632.1,452.6 L638.2,455.2 L644.3,457.6 L650.4,459.8 L656.4,461.8 M640.1,425.6 L646.4,428.2 L652.7,430.5 L659.0,432.6 L665.2,434.5 L671.5,436.4 L677.8,438.1 L684.1,439.7 M370.3,355.6 L376.4,356.5 L382.6,357.4 L388.7,358.3 L394.8,359.3 L401.0,360.3 L407.1,361.4 L413.2,362.6 L419.4,363.8 L425.5,365.1 L431.6,366.4 L437.8,367.9 M405.3,330.5 L411.3,331.6 L417.4,332.8 L423.4,334.0 L429.4,335.2 L435.4,336.6 L441.4,338.0 L447.5,339.5 L453.5,341.1 L459.5,342.9 L465.5,344.7 L471.5,346.7 L477.6,348.8 L483.6,351.1 L489.6,353.5 L495.6,356.1 L501.6,358.9 L507.7,361.9 L513.7,365.2 L519.7,368.7 L525.7,372.5 L531.7,376.7 L537.8,381.1 L543.8,385.9 L549.8,391.0 L555.8,396.4 L561.8,402.0 L567.9,407.8 L573.9,413.7 L579.9,419.5 L585.9,425.0 L591.9,430.4 L598.0,435.3 L604.0,439.9 L610.0,444.0 L616.0,447.8 L622.0,451.2 L628.1,454.2 L634.1,456.9 L640.1,459.4 M623.5,420.7 L629.5,424.0 L635.6,427.0 L641.7,429.7 L647.7,432.1 L653.8,434.2 L659.8,436.2 L665.9,438.1 L672.0,439.8 L678.0,441.5 L684.1,443.0 M370.3,359.0 L377.3,360.0 L384.3,361.0 L391.3,362.1 L398.3,363.3 L405.3,364.5 M372.3,328.8 L378.4,329.7 L384.6,330.6 L390.7,331.5 L396.8,332.5 L402.9,333.5 L409.1,334.6 L415.2,335.7 L421.3,336.9 L427.4,338.2 L433.6,339.6 L439.7,341.0 L445.8,342.5 L451.9,344.2 L458.1,345.9 L464.2,347.8 L470.3,349.8 L476.4,351.9 L482.6,354.2 L488.7,356.7 L494.8,359.4 L501.0,362.2 L507.1,365.3 L513.2,368.7 L519.3,372.3 L525.5,376.2 L531.6,380.5 L537.7,385.0 L543.8,389.9 L550.0,395.2 L556.1,400.7 L562.2,406.4 L568.3,412.3 L574.5,418.3 L580.6,424.1 L586.7,429.7 L592.8,435.0 L599.0,439.9 L605.1,444.4 L611.2,448.4 L617.3,452.1 L623.5,455.4 M606.5,412.5 L613.0,417.4 L619.5,421.7 L625.9,425.5 L632.4,428.9 L638.9,431.8 L645.3,434.5 L651.8,436.9 L658.2,439.0 L664.7,441.0 L671.2,442.9 L677.6,444.7 L684.1,446.3" fill="none" stroke="#000" stroke-width="0.70" stroke-opacity="0.10"/>
<path d="M440.0,339.0 L443.0,337.5 L446.0,337.1 L449.0,336.9 L452.0,336.9 L455.0,336.9 L458.0,337.1 L461.0,337.3 L464.0,337.6 L467.0,338.0 L470.0,338.5 L473.0,339.1 L476.0,339.8 L479.0,340.5 L482.0,341.4 L485.0,342.3 L488.0,343.3 L491.0,344.5 L494.0,345.8 L497.0,347.4 L500.0,350.0 L500.0,350.0 L497.0,350.9 L494.0,350.8 L491.0,350.6 L488.0,350.2 L485.0,349.9 L482.0,349.4 L479.0,349.0 L476.0,348.5 L473.0,348.0 L470.0,347.5 L467.0,347.0 L464.0,346.4 L461.0,345.8 L458.0,345.2 L455.0,344.5 L452.0,343.8 L449.0,343.0 L446.0,342.1 L443.0,341.1 L440.0,339.0Z" fill="#f0c000" fill-opacity="0.70"/>
<path d="M443.0,340.0 L446.0,338.9 L449.0,338.7 L452.0,338.7 L455.0,338.7 L458.0,338.9 L461.0,339.1 L464.0,339.4 L467.0,339.8 L470.0,340.3 L473.0,340.9 L476.0,341.5 L479.0,342.2 L482.0,343.0 L485.0,343.9 L488.0,344.9 L491.0,346.0 L494.0,347.3 L497.0,349.5 L497.0,349.5 L494.0,350.1 L491.0,349.8 L488.0,349.5 L485.0,349.1 L482.0,348.7 L479.0,348.3 L476.0,347.8 L473.0,347.3 L470.0,346.8 L467.0,346.3 L464.0,345.7 L461.0,345.2 L458.0,344.6 L455.0,343.9 L452.0,343.3 L449.0,342.5 L446.0,341.7 L443.0,340.0Z" fill="#f07000" fill-opacity="0.90"/>
<path d="M458.0,342.5 L461.2,342.1 L464.4,342.2 L467.6,342.4 L470.8,342.8 L474.0,343.3 L477.2,343.9 L480.4,344.6 L483.6,345.5 L486.8,346.5 L490.0,348.0 L490.0,348.0 L486.8,348.1 L483.6,347.8 L480.4,347.3 L477.2,346.8 L474.0,346.3 L470.8,345.7 L467.6,345.1 L464.4,344.5 L461.2,343.7 L458.0,342.5Z" fill="#d83000" fill-opacity="0.70"/>
<path d="M516.0,378.0 L519.1,378.0 L522.2,379.3 L525.3,381.0 L528.4,383.0 L531.6,385.2 L534.7,387.7 L537.8,390.5 L540.9,393.6 L544.0,398.0 L544.0,398.0 L540.9,397.4 L537.8,395.7 L534.7,393.7 L531.6,391.6 L528.4,389.4 L525.3,387.1 L522.2,384.6 L519.1,381.8 L516.0,378.0Z" fill="#f0b000" fill-opacity="0.70"/>
<path d="M519.0,380.0 L522.1,380.7 L525.3,382.4 L528.4,384.4 L531.6,386.7 L534.7,389.3 L537.9,392.2 L541.0,396.0 L541.0,396.0 L537.9,394.8 L534.7,392.8 L531.6,390.7 L528.4,388.4 L525.3,386.0 L522.1,383.4 L519.0,380.0Z" fill="#e04000" fill-opacity="0.90"/>
<path d="M570.0,409.0 L573.0,410.3 L576.0,412.4 L579.0,414.7 L582.0,417.0 L585.0,419.4 L588.0,421.7 L591.0,424.1 L594.0,426.4 L597.0,428.7 L600.0,431.0 L603.0,433.2 L606.0,435.5 L609.0,437.7 L612.0,440.0 L615.0,443.0 L615.0,443.0 L612.0,442.7 L609.0,441.5 L606.0,440.1 L603.0,438.4 L600.0,436.6 L597.0,434.6 L594.0,432.4 L591.0,430.0 L588.0,427.6 L585.0,425.0 L582.0,422.2 L579.0,419.3 L576.0,416.3 L573.0,413.1 L570.0,409.0Z" fill="#e8b000" fill-opacity="0.60"/>
<path d="M576.0,414.7 L579.0,416.3 L582.0,418.5 L585.0,420.6 L588.0,422.9 L591.0,425.1 L594.0,427.2 L597.0,429.4 L600.0,431.5 L603.0,433.6 L606.0,435.7 L609.0,437.8 L612.0,440.3 L612.0,440.3 L609.0,439.5 L606.0,438.2 L603.0,436.6 L600.0,434.8 L597.0,432.8 L594.0,430.7 L591.0,428.5 L588.0,426.1 L585.0,423.6 L582.0,420.9 L579.0,418.1 L576.0,414.7Z" fill="#e04000" fill-opacity="0.90"/>
<path d="M580.0,418.0 L583.1,419.8 L586.2,422.0 L589.3,424.2 L592.4,426.3 L595.6,428.5 L598.7,430.6 L601.8,432.6 L604.9,434.7 L608.0,437.0 L608.0,437.0 L604.9,435.9 L601.8,434.2 L598.7,432.4 L595.6,430.4 L592.4,428.3 L589.3,426.0 L586.2,423.6 L583.1,421.0 L580.0,418.0Z" fill="#c81000" fill-opacity="0.90"/>
<path d="M600.0,444.0 L603.0,444.0 L606.0,444.8 L609.0,445.7 L612.0,446.7 L615.0,447.6 L618.0,448.5 L621.0,449.3 L624.0,450.2 L627.0,451.0 L630.0,451.8 L633.0,452.5 L636.0,453.3 L639.0,454.1 L642.0,454.8 L645.0,455.6 L648.0,456.4 L651.0,457.2 L654.0,458.1 L657.0,459.1 L660.0,461.0 L660.0,461.0 L657.0,462.2 L654.0,462.5 L651.0,462.6 L648.0,462.5 L645.0,462.3 L642.0,462.0 L639.0,461.6 L636.0,461.1 L633.0,460.5 L630.0,459.8 L627.0,458.9 L624.0,458.0 L621.0,456.9 L618.0,455.6 L615.0,454.3 L612.0,452.8 L609.0,451.1 L606.0,449.3 L603.0,447.1 L600.0,444.0Z" fill="#f09000" fill-opacity="0.60"/>
<path d="M606.0,447.5 L609.0,447.6 L612.0,448.3 L615.0,449.1 L618.0,449.9 L621.0,450.6 L624.0,451.4 L627.0,452.1 L630.0,452.8 L633.0,453.5 L636.0,454.2 L639.0,454.9 L642.0,455.6 L645.0,456.3 L648.0,457.1 L651.0,458.0 L654.0,459.5 L654.0,459.5 L651.0,460.4 L648.0,460.5 L645.0,460.4 L642.0,460.2 L639.0,459.9 L636.0,459.5 L633.0,459.0 L630.0,458.3 L627.0,457.6 L624.0,456.7 L621.0,455.6 L618.0,454.5 L615.0,453.2 L612.0,451.7 L609.0,450.0 L606.0,447.5Z" fill="#e03000" fill-opacity="0.90"/>
<path d="M612.0,449.5 L615.0,449.8 L618.0,450.5 L621.0,451.2 L624.0,452.0 L627.0,452.7 L630.0,453.4 L633.0,454.2 L636.0,454.9 L639.0,455.6 L642.0,456.4 L645.0,457.2 L648.0,458.5 L648.0,458.5 L645.0,459.0 L642.0,458.8 L639.0,458.6 L636.0,458.1 L633.0,457.6 L630.0,456.9 L627.0,456.1 L624.0,455.2 L621.0,454.2 L618.0,452.9 L615.0,451.5 L612.0,449.5Z" fill="#c00000" fill-opacity="0.90"/>
</g>
<ellipse cx="493.4" cy="261.9" rx="14.0" ry="6.2" transform="rotate(7.0 493.4 261.9)" fill="none" stroke="#ec48ec" stroke-width="1.4" stroke-dasharray="3.2 2"/>
<ellipse cx="625.1" cy="354.5" rx="19.8" ry="6.8" transform="rotate(8.0 625.1 354.5)" fill="none" stroke="#ec48ec" stroke-width="1.4" stroke-dasharray="3.2 2"/>
<ellipse cx="469.8" cy="342.5" rx="29.0" ry="8.0" transform="rotate(8.5 469.8 342.5)" fill="none" stroke="#ec48ec" stroke-width="1.4" stroke-dasharray="3.2 2"/>
<ellipse cx="530.0" cy="387.7" rx="16.0" ry="6.0" transform="rotate(35.0 530.0 387.7)" fill="none" stroke="#ec48ec" stroke-width="1.4" stroke-dasharray="3.2 2"/>
<ellipse cx="630.6" cy="455.4" rx="34.0" ry="10.0" transform="rotate(8.0 630.6 455.4)" fill="none" stroke="#ec48ec" stroke-width="1.4" stroke-dasharray="3.2 2"/>
<rect x="15.00" y="27.50" width="30.56" height="10.00" fill="#0000f0"/>
<rect x="45.56" y="27.50" width="30.56" height="10.00" fill="#0078f5"/>
<rect x="76.11" y="27.50" width="30.56" height="10.00" fill="#00fafa"/>
<rect x="106.67" y="27.50" width="30.56" height="10.00" fill="#00f582"/>
<rect x="137.22" y="27.50" width="30.56" height="10.00" fill="#00f000"/>
<rect x="167.78" y="27.50" width="30.56" height="10.00" fill="#82fa00"/>
<rect x="198.33" y="27.50" width="30.56" height="10.00" fill="#ffff00"/>
<rect x="228.89" y="27.50" width="30.56" height="10.00" fill="#ff8200"/>
<rect x="259.44" y="27.50" width="30.56" height="10.00" fill="#ff0000"/>
<line x1="45.56" x2="45.56" y1="27.50" y2="37.50" stroke="#111" stroke-width="1"/>
<line x1="76.11" x2="76.11" y1="27.50" y2="37.50" stroke="#111" stroke-width="1"/>
<line x1="106.67" x2="106.67" y1="27.50" y2="37.50" stroke="#111" stroke-width="1"/>
<line x1="137.22" x2="137.22" y1="27.50" y2="37.50" stroke="#111" stroke-width="1"/>
<line x1="167.78" x2="167.78" y1="27.50" y2="37.50" stroke="#111" stroke-width="1"/>
<line x1="198.33" x2="198.33" y1="27.50" y2="37.50" stroke="#111" stroke-width="1"/>
<line x1="228.89" x2="228.89" y1="27.50" y2="37.50" stroke="#111" stroke-width="1"/>
<line x1="259.44" x2="259.44" y1="27.50" y2="37.50" stroke="#111" stroke-width="1"/>
<rect x="15.00" y="27.50" width="275.00" height="10.00" fill="none" stroke="#111" stroke-width="1.2"/>
<rect x="379.30" y="29.00" width="23.14" height="10.80" fill="#0000f0"/>
<rect x="402.44" y="29.00" width="23.14" height="10.80" fill="#005af0"/>
<rect x="425.58" y="29.00" width="23.14" height="10.80" fill="#00b4fa"/>
<rect x="448.73" y="29.00" width="23.14" height="10.80" fill="#00fae6"/>
<rect x="471.87" y="29.00" width="23.14" height="10.80" fill="#00f58c"/>
<rect x="495.01" y="29.00" width="23.14" height="10.80" fill="#00f028"/>
<rect x="518.15" y="29.00" width="23.14" height="10.80" fill="#28f000"/>
<rect x="541.29" y="29.00" width="23.14" height="10.80" fill="#82f000"/>
<rect x="564.43" y="29.00" width="23.14" height="10.80" fill="#dcfa00"/>
<rect x="587.58" y="29.00" width="23.14" height="10.80" fill="#ffb400"/>
<rect x="610.72" y="29.00" width="23.14" height="10.80" fill="#ff5f00"/>
<rect x="633.86" y="29.00" width="23.14" height="10.80" fill="#fa0000"/>
<line x1="402.44" x2="402.44" y1="29.00" y2="39.80" stroke="#111" stroke-width="1"/>
<line x1="425.58" x2="425.58" y1="29.00" y2="39.80" stroke="#111" stroke-width="1"/>
<line x1="448.73" x2="448.73" y1="29.00" y2="39.80" stroke="#111" stroke-width="1"/>
<line x1="471.87" x2="471.87" y1="29.00" y2="39.80" stroke="#111" stroke-width="1"/>
<line x1="495.01" x2="495.01" y1="29.00" y2="39.80" stroke="#111" stroke-width="1"/>
<line x1="518.15" x2="518.15" y1="29.00" y2="39.80" stroke="#111" stroke-width="1"/>
<line x1="541.29" x2="541.29" y1="29.00" y2="39.80" stroke="#111" stroke-width="1"/>
<line x1="564.43" x2="564.43" y1="29.00" y2="39.80" stroke="#111" stroke-width="1"/>
<line x1="587.58" x2="587.58" y1="29.00" y2="39.80" stroke="#111" stroke-width="1"/>
<line x1="610.72" x2="610.72" y1="29.00" y2="39.80" stroke="#111" stroke-width="1"/>
<line x1="633.86" x2="633.86" y1="29.00" y2="39.80" stroke="#111" stroke-width="1"/>
<rect x="379.30" y="29.00" width="277.70" height="10.80" fill="none" stroke="#111" stroke-width="1.2"/>
<g filter="url(#tblur)"><text x="15" y="20.3" font-size="18" font-family="Liberation Serif, serif" fill="#1c1c1c" stroke="#1c1c1c" stroke-width="0.25">Mises Stress (MPa)</text>
<text x="379.3" y="19" font-size="18" font-family="Liberation Serif, serif" fill="#1c1c1c" stroke="#1c1c1c" stroke-width="0.25">PE, Max Principal (10<tspan font-size="11" dy="-7">-3</tspan><tspan dy="7">)</tspan></text>
<text x="15.0" y="56.3" font-size="10.5" text-anchor="middle" font-family="Liberation Serif, serif" fill="#1c1c1c" stroke="#1c1c1c" stroke-width="0.25">500</text>
<text x="45.6" y="56.3" font-size="10.5" text-anchor="middle" font-family="Liberation Serif, serif" fill="#1c1c1c" stroke="#1c1c1c" stroke-width="0.25">800</text>
<text x="76.1" y="56.3" font-size="10.5" text-anchor="middle" font-family="Liberation Serif, serif" fill="#1c1c1c" stroke="#1c1c1c" stroke-width="0.25">1200</text>
<text x="106.7" y="56.3" font-size="10.5" text-anchor="middle" font-family="Liberation Serif, serif" fill="#1c1c1c" stroke="#1c1c1c" stroke-width="0.25">1400</text>
<text x="137.2" y="56.3" font-size="10.5" text-anchor="middle" font-family="Liberation Serif, serif" fill="#1c1c1c" stroke="#1c1c1c" stroke-width="0.25">1500</text>
<text x="167.8" y="56.3" font-size="10.5" text-anchor="middle" font-family="Liberation Serif, serif" fill="#1c1c1c" stroke="#1c1c1c" stroke-width="0.25">1800</text>
<text x="198.3" y="56.3" font-size="10.5" text-anchor="middle" font-family="Liberation Serif, serif" fill="#1c1c1c" stroke="#1c1c1c" stroke-width="0.25">1900</text>
<text x="228.9" y="56.3" font-size="10.5" text-anchor="middle" font-family="Liberation Serif, serif" fill="#1c1c1c" stroke="#1c1c1c" stroke-width="0.25">2000</text>
<text x="259.4" y="56.3" font-size="10.5" text-anchor="middle" font-family="Liberation Serif, serif" fill="#1c1c1c" stroke="#1c1c1c" stroke-width="0.25">2100</text>
<text x="290.0" y="56.3" font-size="10.5" text-anchor="middle" font-family="Liberation Serif, serif" fill="#1c1c1c" stroke="#1c1c1c" stroke-width="0.25">2150</text>
<text x="379.3" y="55.1" font-size="10.5" text-anchor="middle" font-family="Liberation Serif, serif" fill="#1c1c1c" stroke="#1c1c1c" stroke-width="0.25">0</text>
<text x="402.4" y="55.1" font-size="10.5" text-anchor="middle" font-family="Liberation Serif, serif" fill="#1c1c1c" stroke="#1c1c1c" stroke-width="0.25">5</text>
<text x="425.6" y="55.1" font-size="10.5" text-anchor="middle" font-family="Liberation Serif, serif" fill="#1c1c1c" stroke="#1c1c1c" stroke-width="0.25">9</text>
<text x="448.7" y="55.1" font-size="10.5" text-anchor="middle" font-family="Liberation Serif, serif" fill="#1c1c1c" stroke="#1c1c1c" stroke-width="0.25">14</text>
<text x="471.9" y="55.1" font-size="10.5" text-anchor="middle" font-family="Liberation Serif, serif" fill="#1c1c1c" stroke="#1c1c1c" stroke-width="0.25">18</text>
<text x="495.0" y="55.1" font-size="10.5" text-anchor="middle" font-family="Liberation Serif, serif" fill="#1c1c1c" stroke="#1c1c1c" stroke-width="0.25">23</text>
<text x="518.1" y="55.1" font-size="10.5" text-anchor="middle" font-family="Liberation Serif, serif" fill="#1c1c1c" stroke="#1c1c1c" stroke-width="0.25">27</text>
<text x="541.3" y="55.1" font-size="10.5" text-anchor="middle" font-family="Liberation Serif, serif" fill="#1c1c1c" stroke="#1c1c1c" stroke-width="0.25">32</text>
<text x="564.4" y="55.1" font-size="10.5" text-anchor="middle" font-family="Liberation Serif, serif" fill="#1c1c1c" stroke="#1c1c1c" stroke-width="0.25">36</text>
<text x="587.6" y="55.1" font-size="10.5" text-anchor="middle" font-family="Liberation Serif, serif" fill="#1c1c1c" stroke="#1c1c1c" stroke-width="0.25">41</text>
<text x="610.7" y="55.1" font-size="10.5" text-anchor="middle" font-family="Liberation Serif, serif" fill="#1c1c1c" stroke="#1c1c1c" stroke-width="0.25">45</text>
<text x="633.9" y="55.1" font-size="10.5" text-anchor="middle" font-family="Liberation Serif, serif" fill="#1c1c1c" stroke="#1c1c1c" stroke-width="0.25">50</text>
<text x="657.0" y="55.1" font-size="10.5" text-anchor="middle" font-family="Liberation Serif, serif" fill="#1c1c1c" stroke="#1c1c1c" stroke-width="0.25">66</text>
<text x="22" y="125.7" font-size="15.4" font-family="Liberation Serif, serif" fill="#1c1c1c" stroke="#1c1c1c" stroke-width="0.25">20 MPa</text>
<text x="22" y="216.6" font-size="15.4" font-family="Liberation Serif, serif" fill="#1c1c1c" stroke="#1c1c1c" stroke-width="0.25">30 MPa</text>
<text x="22" y="319.5" font-size="15.4" font-family="Liberation Serif, serif" fill="#1c1c1c" stroke="#1c1c1c" stroke-width="0.25">40 MPa</text>
<text x="22" y="405.9" font-size="15.4" font-family="Liberation Serif, serif" fill="#1c1c1c" stroke="#1c1c1c" stroke-width="0.25">50 MPa</text>
<text x="385" y="117.8" font-size="15.4" font-family="Liberation Serif, serif" fill="#1c1c1c" stroke="#1c1c1c" stroke-width="0.25">20 MPa</text>
<text x="385" y="198.0" font-size="15.4" font-family="Liberation Serif, serif" fill="#1c1c1c" stroke="#1c1c1c" stroke-width="0.25">30 MPa</text>
<text x="385" y="293.4" font-size="15.4" font-family="Liberation Serif, serif" fill="#1c1c1c" stroke="#1c1c1c" stroke-width="0.25">40 MPa</text>
<text x="385" y="386.8" font-size="15.4" font-family="Liberation Serif, serif" fill="#1c1c1c" stroke="#1c1c1c" stroke-width="0.25">50 MPa</text></g>
</svg></body></html>
